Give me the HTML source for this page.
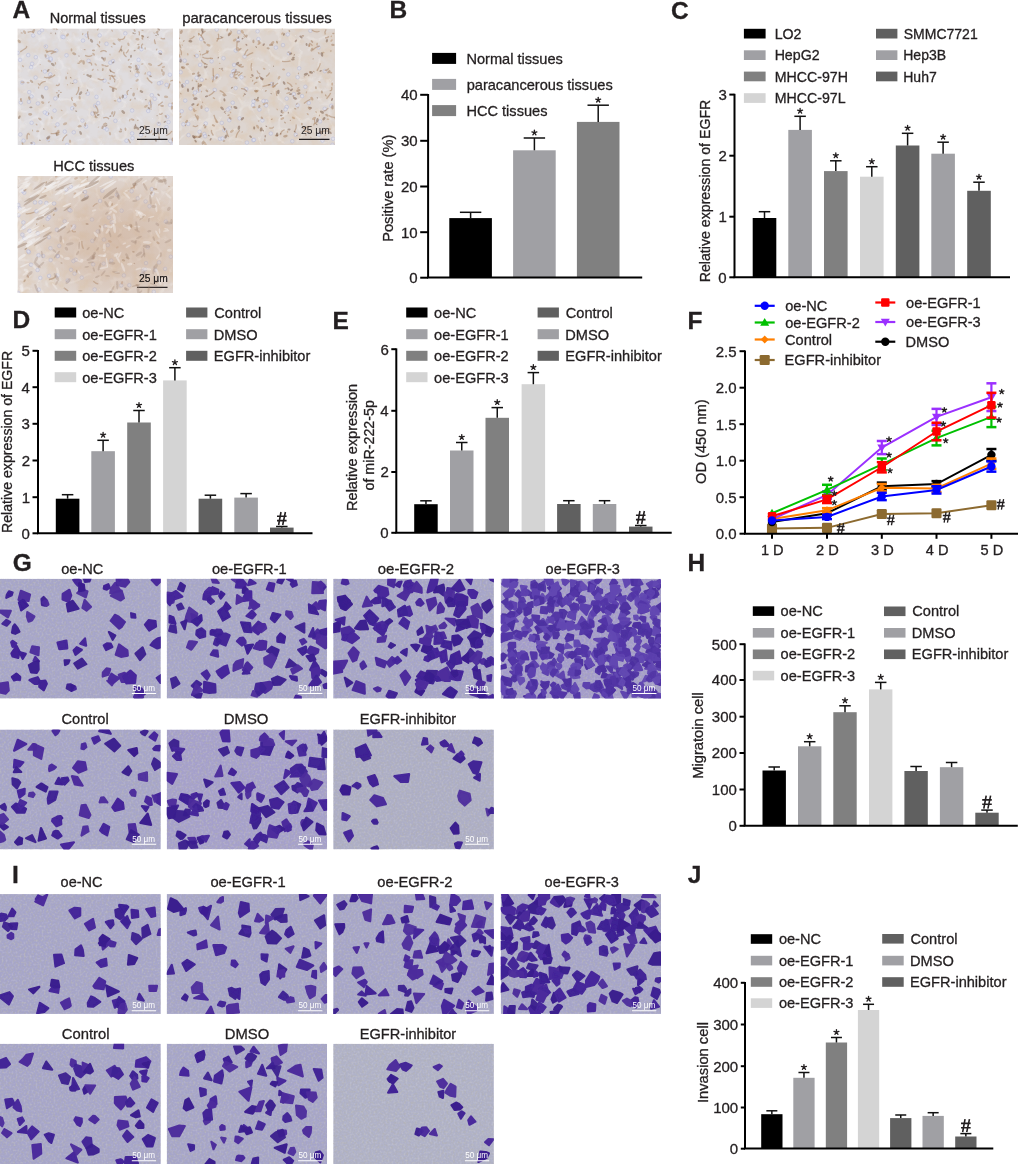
<!DOCTYPE html><html><head><meta charset="utf-8"><style>html,body{margin:0;padding:0;background:#fff;}svg{display:block;font-family:"Liberation Sans",sans-serif;will-change:transform;} text.t{stroke:#231f20;stroke-width:0.3px;}</style></head><body>
<svg width="1020" height="1164" viewBox="0 0 1020 1164">
<rect width="1020" height="1164" fill="#fff"/>
<defs><filter id="soft" x="-5%" y="-5%" width="110%" height="110%"><feGaussianBlur stdDeviation="0.7"/></filter><filter id="speck" x="0" y="0" width="100%" height="100%"><feTurbulence type="fractalNoise" baseFrequency="0.45" numOctaves="2" seed="3"/><feColorMatrix type="matrix" values="0 0 0 0 0.45  0 0 0 0 0.44  0 0 0 0 0.42  2.5 0 0 0 -1.1"/></filter><filter id="speckw" x="0" y="0" width="100%" height="100%"><feTurbulence type="fractalNoise" baseFrequency="0.5" numOctaves="2" seed="9"/><feColorMatrix type="matrix" values="0 0 0 0 0.86  0 0 0 0 0.85  0 0 0 0 0.8  2.5 0 0 0 -1.1"/></filter></defs>
<filter id="ihctex0" x="0" y="0" width="100%" height="100%"><feTurbulence type="fractalNoise" baseFrequency="0.09" numOctaves="3" seed="5"/><feColorMatrix type="matrix" values="0 0 0 0 0.72  0 0 0 0 0.58  0 0 0 0 0.45  -2.6 0 0 0 1.55"/></filter>
<filter id="ihcw0" x="0" y="0" width="100%" height="100%"><feTurbulence type="turbulence" baseFrequency="0.05" numOctaves="2" seed="21"/><feColorMatrix type="matrix" values="0 0 0 0 0.97  0 0 0 0 0.98  0 0 0 0 1.0  -9 0 0 0 1.4"/></filter>
<filter id="ihctex1" x="0" y="0" width="100%" height="100%"><feTurbulence type="fractalNoise" baseFrequency="0.09" numOctaves="3" seed="6"/><feColorMatrix type="matrix" values="0 0 0 0 0.72  0 0 0 0 0.58  0 0 0 0 0.45  -2.6 0 0 0 1.55"/></filter>
<filter id="ihcw1" x="0" y="0" width="100%" height="100%"><feTurbulence type="turbulence" baseFrequency="0.05" numOctaves="2" seed="22"/><feColorMatrix type="matrix" values="0 0 0 0 0.97  0 0 0 0 0.98  0 0 0 0 1.0  -9 0 0 0 1.4"/></filter>
<filter id="ihctex2" x="0" y="0" width="100%" height="100%"><feTurbulence type="fractalNoise" baseFrequency="0.09" numOctaves="3" seed="7"/><feColorMatrix type="matrix" values="0 0 0 0 0.72  0 0 0 0 0.58  0 0 0 0 0.45  -2.6 0 0 0 1.55"/></filter>
<filter id="ihcw2" x="0" y="0" width="100%" height="100%"><feTurbulence type="turbulence" baseFrequency="0.05" numOctaves="2" seed="23"/><feColorMatrix type="matrix" values="0 0 0 0 0.97  0 0 0 0 0.98  0 0 0 0 1.0  -9 0 0 0 1.4"/></filter>
<radialGradient id="hccg" cx="0.65" cy="0.55" r="0.55"><stop offset="0" stop-color="#c8a488" stop-opacity="0.5"/><stop offset="0.7" stop-color="#c8a488" stop-opacity="0.25"/><stop offset="1" stop-color="#c8a488" stop-opacity="0"/></radialGradient>
<clipPath id="cA1"><rect x="17.5" y="28.5" width="155.50" height="116.50"/></clipPath>
<g clip-path="url(#cA1)">
<rect x="17.5" y="28.5" width="155.50" height="116.50" fill="#dfdcde"/>
<rect x="17.5" y="28.5" width="155.50" height="116.50" filter="url(#ihctex2)" opacity="0.42"/>
<rect x="17.5" y="28.5" width="155.50" height="116.50" filter="url(#ihcw2)" opacity="0.22"/>
<g filter="url(#soft)">
<circle cx="87.8" cy="93.7" r="1.8" fill="#dfe2f2" stroke="#a9b0d8" stroke-width="0.7" opacity="0.55"/>
<circle cx="161.2" cy="82.7" r="1.8" fill="#dfe2f2" stroke="#a9b0d8" stroke-width="0.7" opacity="0.55"/>
<circle cx="96.5" cy="96.9" r="1.8" fill="#dfe2f2" stroke="#a9b0d8" stroke-width="0.7" opacity="0.55"/>
<circle cx="46.2" cy="88.1" r="1.8" fill="#dfe2f2" stroke="#a9b0d8" stroke-width="0.7" opacity="0.55"/>
<circle cx="115.4" cy="120.9" r="1.8" fill="#dfe2f2" stroke="#a9b0d8" stroke-width="0.7" opacity="0.55"/>
<circle cx="32.1" cy="63.8" r="1.8" fill="#dfe2f2" stroke="#a9b0d8" stroke-width="0.7" opacity="0.55"/>
<circle cx="31.6" cy="122.8" r="1.8" fill="#dfe2f2" stroke="#a9b0d8" stroke-width="0.7" opacity="0.55"/>
<circle cx="125.3" cy="33.4" r="1.8" fill="#dfe2f2" stroke="#a9b0d8" stroke-width="0.7" opacity="0.55"/>
<circle cx="170.2" cy="140.9" r="1.8" fill="#dfe2f2" stroke="#a9b0d8" stroke-width="0.7" opacity="0.55"/>
<circle cx="119.2" cy="100.2" r="1.8" fill="#dfe2f2" stroke="#a9b0d8" stroke-width="0.7" opacity="0.55"/>
<circle cx="42.0" cy="30.2" r="1.8" fill="#dfe2f2" stroke="#a9b0d8" stroke-width="0.7" opacity="0.55"/>
<circle cx="99.7" cy="35.4" r="1.8" fill="#dfe2f2" stroke="#a9b0d8" stroke-width="0.7" opacity="0.55"/>
<circle cx="47.1" cy="56.7" r="1.8" fill="#dfe2f2" stroke="#a9b0d8" stroke-width="0.7" opacity="0.55"/>
<circle cx="22.2" cy="82.5" r="1.8" fill="#dfe2f2" stroke="#a9b0d8" stroke-width="0.7" opacity="0.55"/>
<circle cx="86.0" cy="126.6" r="1.8" fill="#dfe2f2" stroke="#a9b0d8" stroke-width="0.7" opacity="0.55"/>
<circle cx="98.2" cy="103.1" r="1.8" fill="#dfe2f2" stroke="#a9b0d8" stroke-width="0.7" opacity="0.55"/>
<circle cx="95.2" cy="105.7" r="1.8" fill="#dfe2f2" stroke="#a9b0d8" stroke-width="0.7" opacity="0.55"/>
<circle cx="88.6" cy="60.9" r="1.8" fill="#dfe2f2" stroke="#a9b0d8" stroke-width="0.7" opacity="0.55"/>
<circle cx="172.6" cy="144.5" r="1.8" fill="#dfe2f2" stroke="#a9b0d8" stroke-width="0.7" opacity="0.55"/>
<circle cx="148.2" cy="111.0" r="1.8" fill="#dfe2f2" stroke="#a9b0d8" stroke-width="0.7" opacity="0.55"/>
<circle cx="66.5" cy="55.3" r="1.8" fill="#dfe2f2" stroke="#a9b0d8" stroke-width="0.7" opacity="0.55"/>
<circle cx="62.4" cy="36.7" r="1.8" fill="#dfe2f2" stroke="#a9b0d8" stroke-width="0.7" opacity="0.55"/>
<circle cx="136.7" cy="75.1" r="1.8" fill="#dfe2f2" stroke="#a9b0d8" stroke-width="0.7" opacity="0.55"/>
<circle cx="149.1" cy="73.5" r="1.8" fill="#dfe2f2" stroke="#a9b0d8" stroke-width="0.7" opacity="0.55"/>
<circle cx="166.5" cy="127.2" r="1.8" fill="#dfe2f2" stroke="#a9b0d8" stroke-width="0.7" opacity="0.55"/>
<circle cx="17.6" cy="52.9" r="1.8" fill="#dfe2f2" stroke="#a9b0d8" stroke-width="0.7" opacity="0.55"/>
<circle cx="159.0" cy="83.3" r="1.8" fill="#dfe2f2" stroke="#a9b0d8" stroke-width="0.7" opacity="0.55"/>
<circle cx="169.9" cy="74.8" r="1.8" fill="#dfe2f2" stroke="#a9b0d8" stroke-width="0.7" opacity="0.55"/>
<circle cx="28.9" cy="101.8" r="1.8" fill="#dfe2f2" stroke="#a9b0d8" stroke-width="0.7" opacity="0.55"/>
<circle cx="138.6" cy="59.9" r="1.8" fill="#dfe2f2" stroke="#a9b0d8" stroke-width="0.7" opacity="0.55"/>
<circle cx="31.1" cy="67.2" r="1.8" fill="#dfe2f2" stroke="#a9b0d8" stroke-width="0.7" opacity="0.55"/>
<circle cx="167.4" cy="116.8" r="1.8" fill="#dfe2f2" stroke="#a9b0d8" stroke-width="0.7" opacity="0.55"/>
<circle cx="35.8" cy="57.2" r="1.8" fill="#dfe2f2" stroke="#a9b0d8" stroke-width="0.7" opacity="0.55"/>
<circle cx="33.2" cy="35.5" r="1.8" fill="#dfe2f2" stroke="#a9b0d8" stroke-width="0.7" opacity="0.55"/>
<circle cx="141.4" cy="49.2" r="1.8" fill="#dfe2f2" stroke="#a9b0d8" stroke-width="0.7" opacity="0.55"/>
<circle cx="104.5" cy="80.6" r="1.8" fill="#dfe2f2" stroke="#a9b0d8" stroke-width="0.7" opacity="0.55"/>
<circle cx="47.2" cy="113.8" r="1.8" fill="#dfe2f2" stroke="#a9b0d8" stroke-width="0.7" opacity="0.55"/>
<circle cx="37.9" cy="103.5" r="1.8" fill="#dfe2f2" stroke="#a9b0d8" stroke-width="0.7" opacity="0.55"/>
<circle cx="35.6" cy="77.5" r="1.8" fill="#dfe2f2" stroke="#a9b0d8" stroke-width="0.7" opacity="0.55"/>
<circle cx="50.6" cy="59.9" r="1.8" fill="#dfe2f2" stroke="#a9b0d8" stroke-width="0.7" opacity="0.55"/>
<circle cx="168.5" cy="122.1" r="1.8" fill="#dfe2f2" stroke="#a9b0d8" stroke-width="0.7" opacity="0.55"/>
<circle cx="64.8" cy="131.6" r="1.8" fill="#dfe2f2" stroke="#a9b0d8" stroke-width="0.7" opacity="0.55"/>
<circle cx="50.3" cy="74.4" r="1.8" fill="#dfe2f2" stroke="#a9b0d8" stroke-width="0.7" opacity="0.55"/>
<circle cx="150.4" cy="103.3" r="1.8" fill="#dfe2f2" stroke="#a9b0d8" stroke-width="0.7" opacity="0.55"/>
<circle cx="33.1" cy="143.8" r="1.8" fill="#dfe2f2" stroke="#a9b0d8" stroke-width="0.7" opacity="0.55"/>
<circle cx="50.7" cy="58.6" r="1.8" fill="#dfe2f2" stroke="#a9b0d8" stroke-width="0.7" opacity="0.55"/>
<circle cx="137.7" cy="66.8" r="1.8" fill="#dfe2f2" stroke="#a9b0d8" stroke-width="0.7" opacity="0.55"/>
<circle cx="63.6" cy="37.1" r="1.8" fill="#dfe2f2" stroke="#a9b0d8" stroke-width="0.7" opacity="0.55"/>
<circle cx="31.5" cy="96.4" r="1.8" fill="#dfe2f2" stroke="#a9b0d8" stroke-width="0.7" opacity="0.55"/>
<circle cx="55.3" cy="98.5" r="1.8" fill="#dfe2f2" stroke="#a9b0d8" stroke-width="0.7" opacity="0.55"/>
<circle cx="75.3" cy="81.3" r="1.8" fill="#dfe2f2" stroke="#a9b0d8" stroke-width="0.7" opacity="0.55"/>
<circle cx="166.6" cy="84.9" r="1.8" fill="#dfe2f2" stroke="#a9b0d8" stroke-width="0.7" opacity="0.55"/>
<circle cx="106.8" cy="129.5" r="1.8" fill="#dfe2f2" stroke="#a9b0d8" stroke-width="0.7" opacity="0.55"/>
<circle cx="45.9" cy="46.5" r="1.8" fill="#dfe2f2" stroke="#a9b0d8" stroke-width="0.7" opacity="0.55"/>
<circle cx="158.8" cy="123.8" r="1.8" fill="#dfe2f2" stroke="#a9b0d8" stroke-width="0.7" opacity="0.55"/>
<circle cx="56.3" cy="50.6" r="1.8" fill="#dfe2f2" stroke="#a9b0d8" stroke-width="0.7" opacity="0.55"/>
<circle cx="132.5" cy="138.1" r="1.8" fill="#dfe2f2" stroke="#a9b0d8" stroke-width="0.7" opacity="0.55"/>
<circle cx="48.1" cy="139.2" r="1.8" fill="#dfe2f2" stroke="#a9b0d8" stroke-width="0.7" opacity="0.55"/>
<circle cx="154.7" cy="98.8" r="1.8" fill="#dfe2f2" stroke="#a9b0d8" stroke-width="0.7" opacity="0.55"/>
<circle cx="83.0" cy="40.6" r="1.8" fill="#dfe2f2" stroke="#a9b0d8" stroke-width="0.7" opacity="0.55"/>
<circle cx="23.5" cy="140.7" r="1.8" fill="#dfe2f2" stroke="#a9b0d8" stroke-width="0.7" opacity="0.55"/>
<circle cx="54.6" cy="110.6" r="1.8" fill="#dfe2f2" stroke="#a9b0d8" stroke-width="0.7" opacity="0.55"/>
<circle cx="57.5" cy="124.5" r="1.8" fill="#dfe2f2" stroke="#a9b0d8" stroke-width="0.7" opacity="0.55"/>
<circle cx="110.3" cy="62.7" r="1.8" fill="#dfe2f2" stroke="#a9b0d8" stroke-width="0.7" opacity="0.55"/>
<circle cx="44.8" cy="112.4" r="1.8" fill="#dfe2f2" stroke="#a9b0d8" stroke-width="0.7" opacity="0.55"/>
<circle cx="28.2" cy="55.1" r="1.8" fill="#dfe2f2" stroke="#a9b0d8" stroke-width="0.7" opacity="0.55"/>
<circle cx="104.5" cy="127.8" r="1.8" fill="#dfe2f2" stroke="#a9b0d8" stroke-width="0.7" opacity="0.55"/>
<circle cx="113.0" cy="61.1" r="1.8" fill="#dfe2f2" stroke="#a9b0d8" stroke-width="0.7" opacity="0.55"/>
<circle cx="160.1" cy="52.3" r="1.8" fill="#dfe2f2" stroke="#a9b0d8" stroke-width="0.7" opacity="0.55"/>
<circle cx="20.1" cy="59.9" r="1.8" fill="#dfe2f2" stroke="#a9b0d8" stroke-width="0.7" opacity="0.55"/>
<circle cx="86.8" cy="35.5" r="1.8" fill="#dfe2f2" stroke="#a9b0d8" stroke-width="0.7" opacity="0.55"/>
<circle cx="44.9" cy="71.5" r="1.8" fill="#dfe2f2" stroke="#a9b0d8" stroke-width="0.7" opacity="0.55"/>
<circle cx="106.5" cy="43.8" r="1.8" fill="#dfe2f2" stroke="#a9b0d8" stroke-width="0.7" opacity="0.55"/>
<circle cx="73.8" cy="132.3" r="1.8" fill="#dfe2f2" stroke="#a9b0d8" stroke-width="0.7" opacity="0.55"/>
<circle cx="170.0" cy="105.0" r="1.8" fill="#dfe2f2" stroke="#a9b0d8" stroke-width="0.7" opacity="0.55"/>
<circle cx="125.0" cy="96.6" r="1.8" fill="#dfe2f2" stroke="#a9b0d8" stroke-width="0.7" opacity="0.55"/>
<circle cx="39.3" cy="32.6" r="1.8" fill="#dfe2f2" stroke="#a9b0d8" stroke-width="0.7" opacity="0.55"/>
<circle cx="20.3" cy="134.5" r="1.8" fill="#dfe2f2" stroke="#a9b0d8" stroke-width="0.7" opacity="0.55"/>
<circle cx="126.5" cy="140.7" r="1.8" fill="#dfe2f2" stroke="#a9b0d8" stroke-width="0.7" opacity="0.55"/>
<circle cx="20.8" cy="102.6" r="1.8" fill="#dfe2f2" stroke="#a9b0d8" stroke-width="0.7" opacity="0.55"/>
<circle cx="92.5" cy="113.6" r="1.8" fill="#dfe2f2" stroke="#a9b0d8" stroke-width="0.7" opacity="0.55"/>
<circle cx="67.1" cy="144.9" r="1.8" fill="#dfe2f2" stroke="#a9b0d8" stroke-width="0.7" opacity="0.55"/>
<circle cx="29.2" cy="92.1" r="1.8" fill="#dfe2f2" stroke="#a9b0d8" stroke-width="0.7" opacity="0.55"/>
<circle cx="132.1" cy="133.4" r="1.8" fill="#dfe2f2" stroke="#a9b0d8" stroke-width="0.7" opacity="0.55"/>
<circle cx="132.1" cy="110.5" r="1.8" fill="#dfe2f2" stroke="#a9b0d8" stroke-width="0.7" opacity="0.55"/>
<circle cx="140.9" cy="135.1" r="1.8" fill="#dfe2f2" stroke="#a9b0d8" stroke-width="0.7" opacity="0.55"/>
<circle cx="72.2" cy="108.3" r="1.8" fill="#dfe2f2" stroke="#a9b0d8" stroke-width="0.7" opacity="0.55"/>
<circle cx="157.6" cy="130.0" r="1.8" fill="#dfe2f2" stroke="#a9b0d8" stroke-width="0.7" opacity="0.55"/>
<circle cx="82.4" cy="120.6" r="1.8" fill="#dfe2f2" stroke="#a9b0d8" stroke-width="0.7" opacity="0.55"/>
<circle cx="151.8" cy="95.2" r="1.8" fill="#dfe2f2" stroke="#a9b0d8" stroke-width="0.7" opacity="0.55"/>
<path d="M114.7,73.0Q110.1,71.7 109.6,68.9" stroke="#a88262" stroke-width="1.3" fill="none" opacity="0.5"/>
<path d="M172.0,131.0Q170.3,133.8 166.3,135.7" stroke="#a88262" stroke-width="1.3" fill="none" opacity="0.5"/>
<path d="M86.0,126.2Q83.7,124.9 86.0,122.7" stroke="#a88262" stroke-width="1.3" fill="none" opacity="0.5"/>
<path d="M92.3,55.3Q89.3,57.5 85.1,55.4" stroke="#a88262" stroke-width="1.3" fill="none" opacity="0.5"/>
<path d="M57.3,29.8Q54.7,26.0 55.2,25.5" stroke="#a88262" stroke-width="1.3" fill="none" opacity="0.5"/>
<path d="M158.3,105.4Q159.7,104.4 162.7,101.8" stroke="#a88262" stroke-width="1.3" fill="none" opacity="0.5"/>
<path d="M48.4,78.7Q53.6,76.1 55.1,74.7" stroke="#a88262" stroke-width="1.3" fill="none" opacity="0.5"/>
<path d="M108.2,65.4Q108.0,67.2 104.4,65.5" stroke="#a88262" stroke-width="1.3" fill="none" opacity="0.5"/>
<path d="M128.1,139.2Q129.0,140.1 130.4,143.2" stroke="#a88262" stroke-width="1.3" fill="none" opacity="0.5"/>
<path d="M50.8,76.7Q46.5,78.6 44.0,77.0" stroke="#a88262" stroke-width="1.3" fill="none" opacity="0.5"/>
<path d="M170.2,81.2Q173.8,79.3 173.6,81.9" stroke="#a88262" stroke-width="1.3" fill="none" opacity="0.5"/>
<path d="M127.7,95.0Q125.9,90.8 128.9,90.3" stroke="#a88262" stroke-width="1.3" fill="none" opacity="0.5"/>
<path d="M88.2,31.4Q86.7,33.1 88.9,39.3" stroke="#a88262" stroke-width="1.3" fill="none" opacity="0.5"/>
<path d="M115.3,80.5Q115.0,80.0 111.5,74.9" stroke="#a88262" stroke-width="1.3" fill="none" opacity="0.5"/>
<path d="M123.9,51.7Q122.8,54.2 126.5,57.0" stroke="#a88262" stroke-width="1.3" fill="none" opacity="0.5"/>
<path d="M128.6,49.4Q128.2,51.4 125.9,53.2" stroke="#a88262" stroke-width="1.3" fill="none" opacity="0.5"/>
<path d="M113.0,116.6Q115.8,111.9 114.4,111.4" stroke="#a88262" stroke-width="1.3" fill="none" opacity="0.5"/>
<path d="M162.5,112.7Q161.3,115.3 158.9,113.7" stroke="#a88262" stroke-width="1.3" fill="none" opacity="0.5"/>
<path d="M76.1,94.8Q79.5,90.6 78.5,86.8" stroke="#a88262" stroke-width="1.3" fill="none" opacity="0.5"/>
<path d="M118.8,52.4Q121.0,50.1 121.8,45.7" stroke="#a88262" stroke-width="1.3" fill="none" opacity="0.5"/>
<path d="M50.7,133.3Q55.2,134.2 59.5,132.1" stroke="#a88262" stroke-width="1.3" fill="none" opacity="0.5"/>
<path d="M67.3,134.5Q62.9,137.5 62.6,141.1" stroke="#a88262" stroke-width="1.3" fill="none" opacity="0.5"/>
<path d="M103.1,118.0Q107.5,116.3 108.9,119.1" stroke="#a88262" stroke-width="1.3" fill="none" opacity="0.5"/>
<path d="M141.9,48.6Q140.7,44.5 143.1,43.8" stroke="#a88262" stroke-width="1.3" fill="none" opacity="0.5"/>
<path d="M97.8,112.8Q98.6,109.0 94.8,105.3" stroke="#a88262" stroke-width="1.3" fill="none" opacity="0.5"/>
<path d="M165.1,38.5Q161.9,39.3 160.8,37.8" stroke="#a88262" stroke-width="1.3" fill="none" opacity="0.5"/>
<path d="M116.8,89.4Q112.2,87.3 109.3,86.4" stroke="#a88262" stroke-width="1.3" fill="none" opacity="0.5"/>
<path d="M148.9,133.4Q152.5,131.8 151.5,130.0" stroke="#a88262" stroke-width="1.3" fill="none" opacity="0.5"/>
<path d="M106.6,51.9Q104.0,49.5 100.4,51.8" stroke="#a88262" stroke-width="1.3" fill="none" opacity="0.5"/>
<path d="M168.2,88.6Q169.4,86.0 169.9,83.5" stroke="#a88262" stroke-width="1.3" fill="none" opacity="0.5"/>
<path d="M124.9,36.2Q124.6,39.9 119.6,39.4" stroke="#a88262" stroke-width="1.3" fill="none" opacity="0.5"/>
<path d="M59.4,83.6Q59.2,86.4 55.9,85.1" stroke="#a88262" stroke-width="1.3" fill="none" opacity="0.5"/>
<path d="M91.6,65.5Q92.2,62.2 88.5,62.7" stroke="#a88262" stroke-width="1.3" fill="none" opacity="0.5"/>
<path d="M138.7,31.2Q139.9,32.3 139.3,35.3" stroke="#a88262" stroke-width="1.3" fill="none" opacity="0.5"/>
<path d="M72.8,100.7Q70.7,99.0 72.3,97.1" stroke="#a88262" stroke-width="1.3" fill="none" opacity="0.5"/>
<path d="M56.5,51.5Q53.0,52.3 50.8,53.9" stroke="#a88262" stroke-width="1.3" fill="none" opacity="0.5"/>
<path d="M99.8,47.1Q99.1,45.7 96.9,44.0" stroke="#a88262" stroke-width="1.3" fill="none" opacity="0.5"/>
<path d="M149.9,99.8Q151.5,105.4 150.8,107.9" stroke="#a88262" stroke-width="1.3" fill="none" opacity="0.5"/>
<path d="M157.9,65.3Q158.6,66.7 162.2,63.0" stroke="#a88262" stroke-width="1.3" fill="none" opacity="0.5"/>
<path d="M155.5,44.1Q154.0,39.9 154.9,39.7" stroke="#a88262" stroke-width="1.3" fill="none" opacity="0.5"/>
<path d="M146.9,77.6Q149.1,81.3 152.3,83.1" stroke="#a88262" stroke-width="1.3" fill="none" opacity="0.5"/>
<path d="M20.3,51.9Q25.6,48.1 26.3,48.2" stroke="#a88262" stroke-width="1.3" fill="none" opacity="0.5"/>
<path d="M96.1,116.8Q93.4,111.9 93.8,111.3" stroke="#a88262" stroke-width="1.3" fill="none" opacity="0.5"/>
<path d="M34.0,32.9Q31.2,30.8 27.7,32.3" stroke="#a88262" stroke-width="1.3" fill="none" opacity="0.5"/>
<path d="M46.2,52.3Q52.3,50.0 54.2,51.8" stroke="#a88262" stroke-width="1.3" fill="none" opacity="0.5"/>
<path d="M27.1,139.3Q26.5,136.3 27.7,133.6" stroke="#a88262" stroke-width="1.3" fill="none" opacity="0.5"/>
<path d="M97.6,78.6Q101.9,80.6 104.2,79.2" stroke="#a88262" stroke-width="1.3" fill="none" opacity="0.5"/>
<path d="M45.7,81.4Q41.1,81.8 39.5,85.6" stroke="#a88262" stroke-width="1.3" fill="none" opacity="0.5"/>
<path d="M97.2,30.3Q99.6,28.1 99.9,22.4" stroke="#a88262" stroke-width="1.3" fill="none" opacity="0.5"/>
<path d="M115.4,75.6Q114.5,77.1 108.8,75.4" stroke="#a88262" stroke-width="1.3" fill="none" opacity="0.5"/>
<ellipse cx="57.7" cy="134.7" rx="1.9" ry="1.1" transform="rotate(147 57.7 134.7)" fill="#a07a58" opacity="0.45"/>
<ellipse cx="80.6" cy="132.9" rx="2.1" ry="1.2" transform="rotate(67 80.6 132.9)" fill="#7a5a44" opacity="0.45"/>
<ellipse cx="84.6" cy="49.7" rx="1.1" ry="0.6" transform="rotate(13 84.6 49.7)" fill="#a07a58" opacity="0.45"/>
<ellipse cx="70.6" cy="83.1" rx="0.8" ry="0.5" transform="rotate(178 70.6 83.1)" fill="#b08a68" opacity="0.45"/>
<ellipse cx="157.9" cy="34.3" rx="1.2" ry="0.7" transform="rotate(54 157.9 34.3)" fill="#7a5a44" opacity="0.45"/>
<ellipse cx="51.1" cy="75.8" rx="1.0" ry="0.6" transform="rotate(70 51.1 75.8)" fill="#a07a58" opacity="0.45"/>
<ellipse cx="173.0" cy="103.3" rx="1.8" ry="1.1" transform="rotate(176 173.0 103.3)" fill="#b08a68" opacity="0.45"/>
<ellipse cx="21.0" cy="100.2" rx="1.9" ry="1.1" transform="rotate(80 21.0 100.2)" fill="#b08a68" opacity="0.45"/>
<ellipse cx="96.0" cy="117.2" rx="1.8" ry="1.0" transform="rotate(18 96.0 117.2)" fill="#a07a58" opacity="0.45"/>
<ellipse cx="56.5" cy="134.0" rx="1.6" ry="0.9" transform="rotate(75 56.5 134.0)" fill="#7a5a44" opacity="0.45"/>
<ellipse cx="98.5" cy="127.1" rx="0.9" ry="0.5" transform="rotate(146 98.5 127.1)" fill="#b08a68" opacity="0.45"/>
<ellipse cx="29.3" cy="98.1" rx="1.9" ry="1.1" transform="rotate(70 29.3 98.1)" fill="#a07a58" opacity="0.45"/>
<ellipse cx="163.5" cy="73.5" rx="2.2" ry="1.3" transform="rotate(98 163.5 73.5)" fill="#b08a68" opacity="0.45"/>
<ellipse cx="110.3" cy="78.5" rx="1.5" ry="0.9" transform="rotate(95 110.3 78.5)" fill="#b08a68" opacity="0.45"/>
<ellipse cx="110.5" cy="71.1" rx="1.2" ry="0.7" transform="rotate(49 110.5 71.1)" fill="#7a5a44" opacity="0.45"/>
<ellipse cx="162.0" cy="105.8" rx="1.9" ry="1.1" transform="rotate(3 162.0 105.8)" fill="#a07a58" opacity="0.45"/>
<ellipse cx="55.6" cy="33.5" rx="1.0" ry="0.6" transform="rotate(70 55.6 33.5)" fill="#7a5a44" opacity="0.45"/>
<ellipse cx="157.1" cy="115.7" rx="0.8" ry="0.5" transform="rotate(170 157.1 115.7)" fill="#7a5a44" opacity="0.45"/>
<ellipse cx="28.9" cy="134.0" rx="1.4" ry="0.8" transform="rotate(45 28.9 134.0)" fill="#b08a68" opacity="0.45"/>
<ellipse cx="135.0" cy="33.8" rx="0.9" ry="0.5" transform="rotate(164 135.0 33.8)" fill="#7a5a44" opacity="0.45"/>
<ellipse cx="39.9" cy="140.3" rx="1.1" ry="0.7" transform="rotate(21 39.9 140.3)" fill="#7a5a44" opacity="0.45"/>
<ellipse cx="114.6" cy="81.6" rx="1.1" ry="0.6" transform="rotate(64 114.6 81.6)" fill="#a07a58" opacity="0.45"/>
<ellipse cx="41.6" cy="70.8" rx="1.0" ry="0.6" transform="rotate(82 41.6 70.8)" fill="#b08a68" opacity="0.45"/>
<ellipse cx="58.3" cy="96.3" rx="1.4" ry="0.8" transform="rotate(96 58.3 96.3)" fill="#7a5a44" opacity="0.45"/>
<ellipse cx="172.6" cy="139.5" rx="1.9" ry="1.1" transform="rotate(87 172.6 139.5)" fill="#a07a58" opacity="0.45"/>
<ellipse cx="95.7" cy="64.5" rx="1.5" ry="0.9" transform="rotate(49 95.7 64.5)" fill="#b08a68" opacity="0.45"/>
<ellipse cx="112.3" cy="113.0" rx="1.8" ry="1.1" transform="rotate(114 112.3 113.0)" fill="#a07a58" opacity="0.45"/>
<ellipse cx="134.6" cy="50.6" rx="1.1" ry="0.7" transform="rotate(165 134.6 50.6)" fill="#7a5a44" opacity="0.45"/>
<ellipse cx="154.1" cy="33.1" rx="0.9" ry="0.5" transform="rotate(47 154.1 33.1)" fill="#b08a68" opacity="0.45"/>
<ellipse cx="21.7" cy="32.9" rx="1.1" ry="0.7" transform="rotate(13 21.7 32.9)" fill="#b08a68" opacity="0.45"/>
<ellipse cx="30.9" cy="107.3" rx="1.6" ry="0.9" transform="rotate(177 30.9 107.3)" fill="#7a5a44" opacity="0.45"/>
<ellipse cx="92.8" cy="69.8" rx="1.3" ry="0.8" transform="rotate(134 92.8 69.8)" fill="#b08a68" opacity="0.45"/>
<ellipse cx="147.9" cy="37.2" rx="0.9" ry="0.6" transform="rotate(151 147.9 37.2)" fill="#7a5a44" opacity="0.45"/>
<ellipse cx="137.1" cy="80.3" rx="1.9" ry="1.1" transform="rotate(146 137.1 80.3)" fill="#b08a68" opacity="0.45"/>
<ellipse cx="74.9" cy="104.7" rx="2.3" ry="1.3" transform="rotate(52 74.9 104.7)" fill="#b08a68" opacity="0.45"/>
<ellipse cx="135.5" cy="124.7" rx="1.0" ry="0.6" transform="rotate(66 135.5 124.7)" fill="#7a5a44" opacity="0.45"/>
<ellipse cx="32.6" cy="130.5" rx="0.9" ry="0.5" transform="rotate(78 32.6 130.5)" fill="#a07a58" opacity="0.45"/>
<ellipse cx="105.8" cy="123.5" rx="1.5" ry="0.9" transform="rotate(14 105.8 123.5)" fill="#a07a58" opacity="0.45"/>
<ellipse cx="50.7" cy="105.6" rx="0.9" ry="0.5" transform="rotate(89 50.7 105.6)" fill="#b08a68" opacity="0.45"/>
<ellipse cx="136.3" cy="66.7" rx="2.1" ry="1.2" transform="rotate(64 136.3 66.7)" fill="#a07a58" opacity="0.45"/>
<ellipse cx="130.4" cy="71.2" rx="0.9" ry="0.6" transform="rotate(79 130.4 71.2)" fill="#7a5a44" opacity="0.45"/>
<ellipse cx="110.0" cy="133.6" rx="1.8" ry="1.1" transform="rotate(79 110.0 133.6)" fill="#b08a68" opacity="0.45"/>
<ellipse cx="142.4" cy="64.0" rx="1.3" ry="0.7" transform="rotate(174 142.4 64.0)" fill="#b08a68" opacity="0.45"/>
<ellipse cx="131.0" cy="88.6" rx="0.9" ry="0.5" transform="rotate(4 131.0 88.6)" fill="#b08a68" opacity="0.45"/>
<ellipse cx="122.8" cy="96.6" rx="2.0" ry="1.2" transform="rotate(101 122.8 96.6)" fill="#7a5a44" opacity="0.45"/>
<ellipse cx="141.4" cy="91.5" rx="2.0" ry="1.2" transform="rotate(32 141.4 91.5)" fill="#7a5a44" opacity="0.45"/>
<ellipse cx="31.5" cy="81.4" rx="2.1" ry="1.2" transform="rotate(40 31.5 81.4)" fill="#a07a58" opacity="0.45"/>
<ellipse cx="26.5" cy="47.0" rx="1.2" ry="0.7" transform="rotate(117 26.5 47.0)" fill="#a07a58" opacity="0.45"/>
<ellipse cx="142.6" cy="36.0" rx="1.6" ry="0.9" transform="rotate(15 142.6 36.0)" fill="#7a5a44" opacity="0.45"/>
<ellipse cx="30.2" cy="114.4" rx="2.1" ry="1.3" transform="rotate(5 30.2 114.4)" fill="#a07a58" opacity="0.45"/>
<ellipse cx="119.1" cy="39.9" rx="2.0" ry="1.2" transform="rotate(44 119.1 39.9)" fill="#b08a68" opacity="0.45"/>
<ellipse cx="51.8" cy="117.7" rx="1.6" ry="0.9" transform="rotate(71 51.8 117.7)" fill="#b08a68" opacity="0.45"/>
<ellipse cx="70.0" cy="141.3" rx="1.8" ry="1.1" transform="rotate(88 70.0 141.3)" fill="#b08a68" opacity="0.45"/>
<ellipse cx="142.6" cy="36.9" rx="1.7" ry="1.0" transform="rotate(74 142.6 36.9)" fill="#a07a58" opacity="0.45"/>
<ellipse cx="146.0" cy="106.2" rx="2.1" ry="1.2" transform="rotate(150 146.0 106.2)" fill="#b08a68" opacity="0.45"/>
<ellipse cx="155.7" cy="140.1" rx="1.7" ry="1.0" transform="rotate(65 155.7 140.1)" fill="#7a5a44" opacity="0.45"/>
<ellipse cx="19.1" cy="41.3" rx="2.2" ry="1.3" transform="rotate(44 19.1 41.3)" fill="#a07a58" opacity="0.45"/>
<ellipse cx="42.7" cy="102.5" rx="1.8" ry="1.1" transform="rotate(37 42.7 102.5)" fill="#b08a68" opacity="0.45"/>
<ellipse cx="83.6" cy="62.5" rx="2.2" ry="1.3" transform="rotate(85 83.6 62.5)" fill="#a07a58" opacity="0.45"/>
<ellipse cx="131.1" cy="63.9" rx="1.0" ry="0.6" transform="rotate(164 131.1 63.9)" fill="#a07a58" opacity="0.45"/>
<ellipse cx="134.6" cy="30.5" rx="1.5" ry="0.9" transform="rotate(56 134.6 30.5)" fill="#a07a58" opacity="0.45"/>
<ellipse cx="48.2" cy="70.4" rx="1.7" ry="1.0" transform="rotate(129 48.2 70.4)" fill="#7a5a44" opacity="0.45"/>
<ellipse cx="110.0" cy="54.6" rx="1.0" ry="0.6" transform="rotate(72 110.0 54.6)" fill="#b08a68" opacity="0.45"/>
<ellipse cx="159.1" cy="137.7" rx="1.7" ry="1.0" transform="rotate(86 159.1 137.7)" fill="#7a5a44" opacity="0.45"/>
<ellipse cx="58.0" cy="131.9" rx="2.2" ry="1.3" transform="rotate(119 58.0 131.9)" fill="#b08a68" opacity="0.45"/>
<ellipse cx="137.5" cy="39.3" rx="2.1" ry="1.2" transform="rotate(9 137.5 39.3)" fill="#b08a68" opacity="0.45"/>
<ellipse cx="164.8" cy="121.9" rx="1.4" ry="0.8" transform="rotate(143 164.8 121.9)" fill="#7a5a44" opacity="0.45"/>
<ellipse cx="137.9" cy="120.3" rx="0.9" ry="0.5" transform="rotate(161 137.9 120.3)" fill="#a07a58" opacity="0.45"/>
<ellipse cx="153.4" cy="134.0" rx="1.5" ry="0.9" transform="rotate(128 153.4 134.0)" fill="#a07a58" opacity="0.45"/>
<ellipse cx="111.7" cy="46.8" rx="1.0" ry="0.6" transform="rotate(26 111.7 46.8)" fill="#b08a68" opacity="0.45"/>
<ellipse cx="158.7" cy="122.9" rx="1.0" ry="0.6" transform="rotate(179 158.7 122.9)" fill="#7a5a44" opacity="0.45"/>
<ellipse cx="58.9" cy="90.8" rx="1.0" ry="0.6" transform="rotate(0 58.9 90.8)" fill="#a07a58" opacity="0.45"/>
<ellipse cx="145.2" cy="127.1" rx="2.0" ry="1.2" transform="rotate(63 145.2 127.1)" fill="#a07a58" opacity="0.45"/>
<ellipse cx="113.1" cy="90.0" rx="2.1" ry="1.3" transform="rotate(84 113.1 90.0)" fill="#7a5a44" opacity="0.45"/>
<ellipse cx="166.1" cy="96.8" rx="2.1" ry="1.2" transform="rotate(3 166.1 96.8)" fill="#b08a68" opacity="0.45"/>
<ellipse cx="46.7" cy="51.0" rx="1.8" ry="1.1" transform="rotate(38 46.7 51.0)" fill="#b08a68" opacity="0.45"/>
<ellipse cx="102.0" cy="89.7" rx="1.0" ry="0.6" transform="rotate(57 102.0 89.7)" fill="#b08a68" opacity="0.45"/>
<ellipse cx="80.5" cy="93.3" rx="2.3" ry="1.3" transform="rotate(129 80.5 93.3)" fill="#7a5a44" opacity="0.45"/>
<ellipse cx="73.4" cy="108.5" rx="0.9" ry="0.5" transform="rotate(122 73.4 108.5)" fill="#b08a68" opacity="0.45"/>
<ellipse cx="133.6" cy="119.9" rx="1.0" ry="0.6" transform="rotate(2 133.6 119.9)" fill="#b08a68" opacity="0.45"/>
<ellipse cx="76.1" cy="111.2" rx="1.1" ry="0.7" transform="rotate(20 76.1 111.2)" fill="#7a5a44" opacity="0.45"/>
<ellipse cx="137.5" cy="128.2" rx="2.1" ry="1.2" transform="rotate(37 137.5 128.2)" fill="#7a5a44" opacity="0.45"/>
<ellipse cx="113.3" cy="62.3" rx="1.3" ry="0.8" transform="rotate(135 113.3 62.3)" fill="#7a5a44" opacity="0.45"/>
<ellipse cx="165.9" cy="116.4" rx="1.6" ry="1.0" transform="rotate(46 165.9 116.4)" fill="#a07a58" opacity="0.45"/>
<ellipse cx="48.6" cy="113.7" rx="1.3" ry="0.7" transform="rotate(101 48.6 113.7)" fill="#b08a68" opacity="0.45"/>
<ellipse cx="130.0" cy="67.1" rx="2.0" ry="1.2" transform="rotate(18 130.0 67.1)" fill="#a07a58" opacity="0.45"/>
<ellipse cx="114.2" cy="43.8" rx="1.7" ry="1.0" transform="rotate(32 114.2 43.8)" fill="#a07a58" opacity="0.45"/>
<ellipse cx="80.1" cy="126.0" rx="1.7" ry="1.0" transform="rotate(18 80.1 126.0)" fill="#a07a58" opacity="0.45"/>
<ellipse cx="22.5" cy="143.5" rx="1.4" ry="0.8" transform="rotate(61 22.5 143.5)" fill="#a07a58" opacity="0.45"/>
<ellipse cx="145.5" cy="136.5" rx="1.0" ry="0.6" transform="rotate(138 145.5 136.5)" fill="#a07a58" opacity="0.45"/>
<ellipse cx="145.2" cy="73.5" rx="1.3" ry="0.7" transform="rotate(112 145.2 73.5)" fill="#b08a68" opacity="0.45"/>
<ellipse cx="130.5" cy="99.9" rx="1.3" ry="0.7" transform="rotate(119 130.5 99.9)" fill="#a07a58" opacity="0.45"/>
<ellipse cx="112.1" cy="30.7" rx="1.3" ry="0.7" transform="rotate(55 112.1 30.7)" fill="#b08a68" opacity="0.45"/>
<ellipse cx="86.1" cy="93.4" rx="1.1" ry="0.6" transform="rotate(142 86.1 93.4)" fill="#b08a68" opacity="0.45"/>
<ellipse cx="145.8" cy="99.7" rx="1.0" ry="0.6" transform="rotate(163 145.8 99.7)" fill="#7a5a44" opacity="0.45"/>
<ellipse cx="102.8" cy="69.6" rx="1.5" ry="0.9" transform="rotate(103 102.8 69.6)" fill="#a07a58" opacity="0.45"/>
<ellipse cx="48.3" cy="137.3" rx="2.3" ry="1.3" transform="rotate(150 48.3 137.3)" fill="#7a5a44" opacity="0.45"/>
<ellipse cx="48.2" cy="138.6" rx="1.7" ry="1.0" transform="rotate(140 48.2 138.6)" fill="#a07a58" opacity="0.45"/>
<ellipse cx="38.7" cy="84.2" rx="1.4" ry="0.8" transform="rotate(59 38.7 84.2)" fill="#b08a68" opacity="0.45"/>
<ellipse cx="162.0" cy="70.6" rx="1.5" ry="0.9" transform="rotate(81 162.0 70.6)" fill="#a07a58" opacity="0.45"/>
<ellipse cx="131.0" cy="56.3" rx="1.6" ry="1.0" transform="rotate(101 131.0 56.3)" fill="#7a5a44" opacity="0.45"/>
<ellipse cx="104.6" cy="59.3" rx="2.2" ry="1.3" transform="rotate(108 104.6 59.3)" fill="#b08a68" opacity="0.45"/>
<ellipse cx="36.6" cy="124.6" rx="1.2" ry="0.7" transform="rotate(43 36.6 124.6)" fill="#b08a68" opacity="0.45"/>
<ellipse cx="106.7" cy="125.3" rx="1.0" ry="0.6" transform="rotate(146 106.7 125.3)" fill="#7a5a44" opacity="0.45"/>
<ellipse cx="88.2" cy="75.5" rx="2.0" ry="1.2" transform="rotate(25 88.2 75.5)" fill="#7a5a44" opacity="0.45"/>
<ellipse cx="135.1" cy="127.2" rx="2.2" ry="1.3" transform="rotate(107 135.1 127.2)" fill="#7a5a44" opacity="0.45"/>
<ellipse cx="142.5" cy="30.4" rx="1.1" ry="0.6" transform="rotate(6 142.5 30.4)" fill="#b08a68" opacity="0.45"/>
<ellipse cx="99.6" cy="42.3" rx="1.4" ry="0.8" transform="rotate(94 99.6 42.3)" fill="#b08a68" opacity="0.45"/>
<ellipse cx="58.5" cy="94.7" rx="1.3" ry="0.7" transform="rotate(141 58.5 94.7)" fill="#7a5a44" opacity="0.45"/>
<ellipse cx="129.7" cy="120.2" rx="1.4" ry="0.8" transform="rotate(108 129.7 120.2)" fill="#b08a68" opacity="0.45"/>
<ellipse cx="90.6" cy="76.4" rx="1.7" ry="1.0" transform="rotate(102 90.6 76.4)" fill="#7a5a44" opacity="0.45"/>
<ellipse cx="80.8" cy="61.3" rx="2.1" ry="1.3" transform="rotate(151 80.8 61.3)" fill="#b08a68" opacity="0.45"/>
<ellipse cx="150.5" cy="76.2" rx="1.4" ry="0.8" transform="rotate(21 150.5 76.2)" fill="#7a5a44" opacity="0.45"/>
<ellipse cx="163.5" cy="67.0" rx="1.6" ry="0.9" transform="rotate(163 163.5 67.0)" fill="#b08a68" opacity="0.45"/>
<ellipse cx="67.4" cy="34.9" rx="1.9" ry="1.1" transform="rotate(132 67.4 34.9)" fill="#b08a68" opacity="0.45"/>
<ellipse cx="110.4" cy="116.1" rx="1.2" ry="0.7" transform="rotate(158 110.4 116.1)" fill="#7a5a44" opacity="0.45"/>
<ellipse cx="55.5" cy="126.9" rx="1.1" ry="0.7" transform="rotate(175 55.5 126.9)" fill="#b08a68" opacity="0.45"/>
<ellipse cx="91.5" cy="40.8" rx="2.2" ry="1.3" transform="rotate(55 91.5 40.8)" fill="#7a5a44" opacity="0.45"/>
<ellipse cx="79.0" cy="56.0" rx="0.9" ry="0.5" transform="rotate(174 79.0 56.0)" fill="#7a5a44" opacity="0.45"/>
<ellipse cx="121.0" cy="129.4" rx="1.4" ry="0.8" transform="rotate(40 121.0 129.4)" fill="#a07a58" opacity="0.45"/>
<ellipse cx="133.6" cy="94.5" rx="2.1" ry="1.3" transform="rotate(94 133.6 94.5)" fill="#a07a58" opacity="0.45"/>
<ellipse cx="37.7" cy="131.3" rx="1.6" ry="1.0" transform="rotate(0 37.7 131.3)" fill="#b08a68" opacity="0.45"/>
<ellipse cx="55.4" cy="63.4" rx="1.3" ry="0.7" transform="rotate(79 55.4 63.4)" fill="#a07a58" opacity="0.45"/>
<ellipse cx="87.5" cy="90.3" rx="1.0" ry="0.6" transform="rotate(105 87.5 90.3)" fill="#7a5a44" opacity="0.45"/>
<ellipse cx="24.6" cy="32.1" rx="2.1" ry="1.3" transform="rotate(58 24.6 32.1)" fill="#b08a68" opacity="0.45"/>
<ellipse cx="39.8" cy="119.0" rx="2.0" ry="1.1" transform="rotate(36 39.8 119.0)" fill="#a07a58" opacity="0.45"/>
<ellipse cx="151.1" cy="109.2" rx="0.9" ry="0.5" transform="rotate(151 151.1 109.2)" fill="#b08a68" opacity="0.45"/>
<ellipse cx="72.6" cy="83.5" rx="1.0" ry="0.6" transform="rotate(179 72.6 83.5)" fill="#7a5a44" opacity="0.45"/>
<ellipse cx="48.9" cy="102.2" rx="1.1" ry="0.6" transform="rotate(117 48.9 102.2)" fill="#a07a58" opacity="0.45"/>
<ellipse cx="65.1" cy="123.8" rx="2.2" ry="1.3" transform="rotate(157 65.1 123.8)" fill="#b08a68" opacity="0.45"/>
<ellipse cx="128.4" cy="44.2" rx="1.8" ry="1.1" transform="rotate(75 128.4 44.2)" fill="#b08a68" opacity="0.45"/>
<ellipse cx="43.8" cy="128.9" rx="0.9" ry="0.6" transform="rotate(35 43.8 128.9)" fill="#7a5a44" opacity="0.45"/>
<ellipse cx="45.6" cy="55.9" rx="1.8" ry="1.0" transform="rotate(67 45.6 55.9)" fill="#b08a68" opacity="0.45"/>
<ellipse cx="120.4" cy="131.5" rx="1.7" ry="1.0" transform="rotate(176 120.4 131.5)" fill="#a07a58" opacity="0.45"/>
<ellipse cx="156.7" cy="49.5" rx="1.1" ry="0.7" transform="rotate(115 156.7 49.5)" fill="#a07a58" opacity="0.45"/>
<ellipse cx="31.5" cy="143.0" rx="1.4" ry="0.8" transform="rotate(13 31.5 143.0)" fill="#7a5a44" opacity="0.45"/>
<ellipse cx="158.6" cy="29.3" rx="1.7" ry="1.0" transform="rotate(45 158.6 29.3)" fill="#7a5a44" opacity="0.45"/>
<ellipse cx="142.4" cy="38.7" rx="1.2" ry="0.7" transform="rotate(44 142.4 38.7)" fill="#a07a58" opacity="0.45"/>
<ellipse cx="60.9" cy="92.4" rx="1.1" ry="0.6" transform="rotate(178 60.9 92.4)" fill="#a07a58" opacity="0.45"/>
<ellipse cx="22.7" cy="82.3" rx="1.9" ry="1.1" transform="rotate(0 22.7 82.3)" fill="#b08a68" opacity="0.45"/>
<ellipse cx="156.1" cy="35.5" rx="0.9" ry="0.5" transform="rotate(164 156.1 35.5)" fill="#7a5a44" opacity="0.45"/>
<ellipse cx="67.4" cy="84.8" rx="0.8" ry="0.5" transform="rotate(91 67.4 84.8)" fill="#b08a68" opacity="0.45"/>
<ellipse cx="149.0" cy="108.2" rx="1.6" ry="0.9" transform="rotate(31 149.0 108.2)" fill="#7a5a44" opacity="0.45"/>
<ellipse cx="138.7" cy="47.7" rx="1.7" ry="1.0" transform="rotate(120 138.7 47.7)" fill="#a07a58" opacity="0.45"/>
<ellipse cx="102.7" cy="58.3" rx="1.9" ry="1.1" transform="rotate(42 102.7 58.3)" fill="#7a5a44" opacity="0.45"/>
<ellipse cx="93.6" cy="54.3" rx="1.7" ry="1.0" transform="rotate(47 93.6 54.3)" fill="#b08a68" opacity="0.45"/>
<ellipse cx="49.0" cy="141.6" rx="0.8" ry="0.5" transform="rotate(157 49.0 141.6)" fill="#b08a68" opacity="0.45"/>
<ellipse cx="45.5" cy="46.2" rx="0.8" ry="0.5" transform="rotate(145 45.5 46.2)" fill="#b08a68" opacity="0.45"/>
<ellipse cx="95.8" cy="112.7" rx="2.1" ry="1.2" transform="rotate(13 95.8 112.7)" fill="#a07a58" opacity="0.45"/>
<ellipse cx="158.6" cy="94.8" rx="1.6" ry="0.9" transform="rotate(43 158.6 94.8)" fill="#7a5a44" opacity="0.45"/>
<ellipse cx="40.2" cy="64.7" rx="0.8" ry="0.5" transform="rotate(148 40.2 64.7)" fill="#b08a68" opacity="0.45"/>
<ellipse cx="132.3" cy="119.5" rx="1.9" ry="1.1" transform="rotate(16 132.3 119.5)" fill="#b08a68" opacity="0.45"/>
<ellipse cx="145.1" cy="48.5" rx="1.2" ry="0.7" transform="rotate(89 145.1 48.5)" fill="#a07a58" opacity="0.45"/>
<ellipse cx="120.0" cy="97.9" rx="1.5" ry="0.9" transform="rotate(74 120.0 97.9)" fill="#b08a68" opacity="0.45"/>
<ellipse cx="74.2" cy="53.7" rx="2.2" ry="1.3" transform="rotate(23 74.2 53.7)" fill="#a07a58" opacity="0.45"/>
<ellipse cx="135.0" cy="98.5" rx="1.0" ry="0.6" transform="rotate(82 135.0 98.5)" fill="#7a5a44" opacity="0.45"/>
<ellipse cx="133.3" cy="33.1" rx="1.1" ry="0.7" transform="rotate(25 133.3 33.1)" fill="#7a5a44" opacity="0.45"/>
<ellipse cx="78.6" cy="63.2" rx="1.4" ry="0.8" transform="rotate(175 78.6 63.2)" fill="#a07a58" opacity="0.45"/>
<ellipse cx="123.2" cy="112.0" rx="2.3" ry="1.3" transform="rotate(41 123.2 112.0)" fill="#7a5a44" opacity="0.45"/>
<ellipse cx="56.9" cy="92.8" rx="1.1" ry="0.7" transform="rotate(15 56.9 92.8)" fill="#b08a68" opacity="0.45"/>
<ellipse cx="52.8" cy="64.5" rx="2.2" ry="1.3" transform="rotate(39 52.8 64.5)" fill="#7a5a44" opacity="0.45"/>
<ellipse cx="42.4" cy="96.7" rx="2.3" ry="1.3" transform="rotate(62 42.4 96.7)" fill="#7a5a44" opacity="0.45"/>
<ellipse cx="125.5" cy="129.2" rx="1.7" ry="1.0" transform="rotate(83 125.5 129.2)" fill="#a07a58" opacity="0.45"/>
<ellipse cx="78.6" cy="126.7" rx="1.3" ry="0.8" transform="rotate(39 78.6 126.7)" fill="#a07a58" opacity="0.45"/>
<ellipse cx="71.5" cy="49.9" rx="1.6" ry="0.9" transform="rotate(86 71.5 49.9)" fill="#a07a58" opacity="0.45"/>
<ellipse cx="79.7" cy="97.7" rx="1.9" ry="1.1" transform="rotate(80 79.7 97.7)" fill="#b08a68" opacity="0.45"/>
<ellipse cx="172.0" cy="107.6" rx="2.1" ry="1.2" transform="rotate(97 172.0 107.6)" fill="#a07a58" opacity="0.45"/>
<ellipse cx="82.7" cy="34.0" rx="1.2" ry="0.7" transform="rotate(112 82.7 34.0)" fill="#b08a68" opacity="0.45"/>
<ellipse cx="98.2" cy="114.9" rx="1.5" ry="0.9" transform="rotate(166 98.2 114.9)" fill="#7a5a44" opacity="0.45"/>
<ellipse cx="128.7" cy="59.8" rx="1.3" ry="0.8" transform="rotate(131 128.7 59.8)" fill="#a07a58" opacity="0.45"/>
<ellipse cx="138.3" cy="44.5" rx="1.1" ry="0.7" transform="rotate(4 138.3 44.5)" fill="#a07a58" opacity="0.45"/>
<ellipse cx="67.6" cy="73.3" rx="0.9" ry="0.5" transform="rotate(59 67.6 73.3)" fill="#b08a68" opacity="0.45"/>
<ellipse cx="137.3" cy="89.0" rx="0.8" ry="0.5" transform="rotate(109 137.3 89.0)" fill="#b08a68" opacity="0.45"/>
<ellipse cx="93.5" cy="50.4" rx="1.6" ry="0.9" transform="rotate(6 93.5 50.4)" fill="#a07a58" opacity="0.45"/>
<ellipse cx="66.1" cy="77.9" rx="1.6" ry="0.9" transform="rotate(93 66.1 77.9)" fill="#a07a58" opacity="0.45"/>
<ellipse cx="102.7" cy="65.1" rx="1.5" ry="0.9" transform="rotate(26 102.7 65.1)" fill="#b08a68" opacity="0.45"/>
<ellipse cx="49.3" cy="61.2" rx="1.9" ry="1.1" transform="rotate(25 49.3 61.2)" fill="#b08a68" opacity="0.45"/>
<ellipse cx="97.9" cy="69.9" rx="0.9" ry="0.5" transform="rotate(62 97.9 69.9)" fill="#b08a68" opacity="0.45"/>
<ellipse cx="51.0" cy="33.2" rx="0.8" ry="0.5" transform="rotate(87 51.0 33.2)" fill="#7a5a44" opacity="0.45"/>
<ellipse cx="19.3" cy="117.2" rx="1.9" ry="1.1" transform="rotate(121 19.3 117.2)" fill="#7a5a44" opacity="0.45"/>
<ellipse cx="160.4" cy="53.7" rx="1.8" ry="1.1" transform="rotate(22 160.4 53.7)" fill="#7a5a44" opacity="0.45"/>
<ellipse cx="138.0" cy="72.1" rx="2.0" ry="1.2" transform="rotate(16 138.0 72.1)" fill="#b08a68" opacity="0.45"/>
<ellipse cx="84.0" cy="74.2" rx="0.9" ry="0.5" transform="rotate(168 84.0 74.2)" fill="#b08a68" opacity="0.45"/>
<ellipse cx="61.7" cy="110.4" rx="1.1" ry="0.6" transform="rotate(36 61.7 110.4)" fill="#b08a68" opacity="0.45"/>
<ellipse cx="137.0" cy="69.4" rx="1.9" ry="1.1" transform="rotate(17 137.0 69.4)" fill="#7a5a44" opacity="0.45"/>
<ellipse cx="70.7" cy="77.7" rx="1.0" ry="0.6" transform="rotate(46 70.7 77.7)" fill="#7a5a44" opacity="0.45"/>
<ellipse cx="150.1" cy="64.4" rx="2.2" ry="1.3" transform="rotate(22 150.1 64.4)" fill="#b08a68" opacity="0.45"/>
<ellipse cx="159.0" cy="134.8" rx="1.2" ry="0.7" transform="rotate(89 159.0 134.8)" fill="#b08a68" opacity="0.45"/>
<ellipse cx="108.6" cy="83.1" rx="1.3" ry="0.7" transform="rotate(13 108.6 83.1)" fill="#b08a68" opacity="0.45"/>
<ellipse cx="23.0" cy="66.2" rx="1.3" ry="0.8" transform="rotate(47 23.0 66.2)" fill="#b08a68" opacity="0.45"/>
<ellipse cx="121.4" cy="50.2" rx="1.5" ry="0.9" transform="rotate(61 121.4 50.2)" fill="#7a5a44" opacity="0.45"/>
<ellipse cx="157.1" cy="32.1" rx="1.8" ry="1.1" transform="rotate(139 157.1 32.1)" fill="#a07a58" opacity="0.45"/>
<ellipse cx="115.1" cy="100.8" rx="1.4" ry="0.8" transform="rotate(11 115.1 100.8)" fill="#b08a68" opacity="0.45"/>
<ellipse cx="28.1" cy="82.6" rx="1.5" ry="0.9" transform="rotate(7 28.1 82.6)" fill="#b08a68" opacity="0.45"/>
<ellipse cx="38.6" cy="87.6" rx="1.2" ry="0.7" transform="rotate(85 38.6 87.6)" fill="#b08a68" opacity="0.45"/>
<ellipse cx="20.8" cy="99.0" rx="1.2" ry="0.7" transform="rotate(122 20.8 99.0)" fill="#b08a68" opacity="0.45"/>
<ellipse cx="54.0" cy="28.6" rx="1.6" ry="0.9" transform="rotate(1 54.0 28.6)" fill="#b08a68" opacity="0.45"/>
<ellipse cx="102.6" cy="127.4" rx="1.9" ry="1.1" transform="rotate(112 102.6 127.4)" fill="#a07a58" opacity="0.45"/>
<ellipse cx="104.7" cy="125.3" rx="2.2" ry="1.3" transform="rotate(48 104.7 125.3)" fill="#b08a68" opacity="0.45"/>
<ellipse cx="33.7" cy="30.8" rx="2.0" ry="1.2" transform="rotate(125 33.7 30.8)" fill="#a07a58" opacity="0.45"/>
</g>
<text x="139.0" y="133.7" font-size="10.3" fill="#231f20">25 μm</text>
<line x1="137.0" y1="139.4" x2="167.5" y2="139.4" stroke="#231f20" stroke-width="1.3"/>
</g>
<clipPath id="cA2"><rect x="179" y="28.5" width="156.00" height="116.50"/></clipPath>
<g clip-path="url(#cA2)">
<rect x="179" y="28.5" width="156.00" height="116.50" fill="#ddd5d0"/>
<rect x="179" y="28.5" width="156.00" height="116.50" filter="url(#ihctex0)" opacity="0.55"/>
<rect x="179" y="28.5" width="156.00" height="116.50" filter="url(#ihcw0)" opacity="0.22"/>
<g filter="url(#soft)">
<circle cx="253.0" cy="105.1" r="1.8" fill="#dfe2f2" stroke="#a9b0d8" stroke-width="0.7" opacity="0.55"/>
<circle cx="283.0" cy="45.1" r="1.8" fill="#dfe2f2" stroke="#a9b0d8" stroke-width="0.7" opacity="0.55"/>
<circle cx="180.7" cy="72.2" r="1.8" fill="#dfe2f2" stroke="#a9b0d8" stroke-width="0.7" opacity="0.55"/>
<circle cx="221.8" cy="122.9" r="1.8" fill="#dfe2f2" stroke="#a9b0d8" stroke-width="0.7" opacity="0.55"/>
<circle cx="286.7" cy="98.6" r="1.8" fill="#dfe2f2" stroke="#a9b0d8" stroke-width="0.7" opacity="0.55"/>
<circle cx="266.1" cy="105.5" r="1.8" fill="#dfe2f2" stroke="#a9b0d8" stroke-width="0.7" opacity="0.55"/>
<circle cx="201.7" cy="79.8" r="1.8" fill="#dfe2f2" stroke="#a9b0d8" stroke-width="0.7" opacity="0.55"/>
<circle cx="204.3" cy="134.0" r="1.8" fill="#dfe2f2" stroke="#a9b0d8" stroke-width="0.7" opacity="0.55"/>
<circle cx="188.2" cy="123.9" r="1.8" fill="#dfe2f2" stroke="#a9b0d8" stroke-width="0.7" opacity="0.55"/>
<circle cx="190.6" cy="108.5" r="1.8" fill="#dfe2f2" stroke="#a9b0d8" stroke-width="0.7" opacity="0.55"/>
<circle cx="231.6" cy="75.6" r="1.8" fill="#dfe2f2" stroke="#a9b0d8" stroke-width="0.7" opacity="0.55"/>
<circle cx="310.4" cy="30.7" r="1.8" fill="#dfe2f2" stroke="#a9b0d8" stroke-width="0.7" opacity="0.55"/>
<circle cx="188.5" cy="135.1" r="1.8" fill="#dfe2f2" stroke="#a9b0d8" stroke-width="0.7" opacity="0.55"/>
<circle cx="258.4" cy="39.1" r="1.8" fill="#dfe2f2" stroke="#a9b0d8" stroke-width="0.7" opacity="0.55"/>
<circle cx="333.0" cy="138.8" r="1.8" fill="#dfe2f2" stroke="#a9b0d8" stroke-width="0.7" opacity="0.55"/>
<circle cx="196.6" cy="77.8" r="1.8" fill="#dfe2f2" stroke="#a9b0d8" stroke-width="0.7" opacity="0.55"/>
<circle cx="200.1" cy="64.9" r="1.8" fill="#dfe2f2" stroke="#a9b0d8" stroke-width="0.7" opacity="0.55"/>
<circle cx="275.9" cy="47.6" r="1.8" fill="#dfe2f2" stroke="#a9b0d8" stroke-width="0.7" opacity="0.55"/>
<circle cx="287.7" cy="34.5" r="1.8" fill="#dfe2f2" stroke="#a9b0d8" stroke-width="0.7" opacity="0.55"/>
<circle cx="205.7" cy="123.5" r="1.8" fill="#dfe2f2" stroke="#a9b0d8" stroke-width="0.7" opacity="0.55"/>
<circle cx="241.5" cy="77.3" r="1.8" fill="#dfe2f2" stroke="#a9b0d8" stroke-width="0.7" opacity="0.55"/>
<circle cx="272.0" cy="84.0" r="1.8" fill="#dfe2f2" stroke="#a9b0d8" stroke-width="0.7" opacity="0.55"/>
<circle cx="239.0" cy="32.1" r="1.8" fill="#dfe2f2" stroke="#a9b0d8" stroke-width="0.7" opacity="0.55"/>
<circle cx="292.3" cy="141.2" r="1.8" fill="#dfe2f2" stroke="#a9b0d8" stroke-width="0.7" opacity="0.55"/>
<circle cx="331.3" cy="105.8" r="1.8" fill="#dfe2f2" stroke="#a9b0d8" stroke-width="0.7" opacity="0.55"/>
<circle cx="234.6" cy="70.8" r="1.8" fill="#dfe2f2" stroke="#a9b0d8" stroke-width="0.7" opacity="0.55"/>
<circle cx="286.7" cy="107.0" r="1.8" fill="#dfe2f2" stroke="#a9b0d8" stroke-width="0.7" opacity="0.55"/>
<circle cx="196.8" cy="55.9" r="1.8" fill="#dfe2f2" stroke="#a9b0d8" stroke-width="0.7" opacity="0.55"/>
<circle cx="235.7" cy="88.1" r="1.8" fill="#dfe2f2" stroke="#a9b0d8" stroke-width="0.7" opacity="0.55"/>
<circle cx="305.4" cy="86.8" r="1.8" fill="#dfe2f2" stroke="#a9b0d8" stroke-width="0.7" opacity="0.55"/>
<circle cx="183.4" cy="124.3" r="1.8" fill="#dfe2f2" stroke="#a9b0d8" stroke-width="0.7" opacity="0.55"/>
<circle cx="246.1" cy="89.0" r="1.8" fill="#dfe2f2" stroke="#a9b0d8" stroke-width="0.7" opacity="0.55"/>
<circle cx="213.7" cy="78.3" r="1.8" fill="#dfe2f2" stroke="#a9b0d8" stroke-width="0.7" opacity="0.55"/>
<circle cx="239.6" cy="118.4" r="1.8" fill="#dfe2f2" stroke="#a9b0d8" stroke-width="0.7" opacity="0.55"/>
<circle cx="195.0" cy="92.6" r="1.8" fill="#dfe2f2" stroke="#a9b0d8" stroke-width="0.7" opacity="0.55"/>
<circle cx="206.8" cy="109.6" r="1.8" fill="#dfe2f2" stroke="#a9b0d8" stroke-width="0.7" opacity="0.55"/>
<circle cx="184.7" cy="60.7" r="1.8" fill="#dfe2f2" stroke="#a9b0d8" stroke-width="0.7" opacity="0.55"/>
<circle cx="232.7" cy="102.7" r="1.8" fill="#dfe2f2" stroke="#a9b0d8" stroke-width="0.7" opacity="0.55"/>
<circle cx="187.1" cy="82.0" r="1.8" fill="#dfe2f2" stroke="#a9b0d8" stroke-width="0.7" opacity="0.55"/>
<circle cx="211.6" cy="61.3" r="1.8" fill="#dfe2f2" stroke="#a9b0d8" stroke-width="0.7" opacity="0.55"/>
<circle cx="253.3" cy="140.2" r="1.8" fill="#dfe2f2" stroke="#a9b0d8" stroke-width="0.7" opacity="0.55"/>
<circle cx="254.0" cy="139.9" r="1.8" fill="#dfe2f2" stroke="#a9b0d8" stroke-width="0.7" opacity="0.55"/>
<circle cx="205.1" cy="136.2" r="1.8" fill="#dfe2f2" stroke="#a9b0d8" stroke-width="0.7" opacity="0.55"/>
<circle cx="235.8" cy="50.5" r="1.8" fill="#dfe2f2" stroke="#a9b0d8" stroke-width="0.7" opacity="0.55"/>
<circle cx="295.8" cy="134.8" r="1.8" fill="#dfe2f2" stroke="#a9b0d8" stroke-width="0.7" opacity="0.55"/>
<circle cx="180.0" cy="59.8" r="1.8" fill="#dfe2f2" stroke="#a9b0d8" stroke-width="0.7" opacity="0.55"/>
<circle cx="299.2" cy="68.3" r="1.8" fill="#dfe2f2" stroke="#a9b0d8" stroke-width="0.7" opacity="0.55"/>
<circle cx="216.7" cy="29.5" r="1.8" fill="#dfe2f2" stroke="#a9b0d8" stroke-width="0.7" opacity="0.55"/>
<circle cx="185.2" cy="100.6" r="1.8" fill="#dfe2f2" stroke="#a9b0d8" stroke-width="0.7" opacity="0.55"/>
<circle cx="332.5" cy="144.8" r="1.8" fill="#dfe2f2" stroke="#a9b0d8" stroke-width="0.7" opacity="0.55"/>
<circle cx="257.6" cy="31.3" r="1.8" fill="#dfe2f2" stroke="#a9b0d8" stroke-width="0.7" opacity="0.55"/>
<circle cx="229.3" cy="120.2" r="1.8" fill="#dfe2f2" stroke="#a9b0d8" stroke-width="0.7" opacity="0.55"/>
<circle cx="308.8" cy="103.0" r="1.8" fill="#dfe2f2" stroke="#a9b0d8" stroke-width="0.7" opacity="0.55"/>
<circle cx="214.8" cy="89.9" r="1.8" fill="#dfe2f2" stroke="#a9b0d8" stroke-width="0.7" opacity="0.55"/>
<circle cx="253.5" cy="101.5" r="1.8" fill="#dfe2f2" stroke="#a9b0d8" stroke-width="0.7" opacity="0.55"/>
<circle cx="220.0" cy="138.8" r="1.8" fill="#dfe2f2" stroke="#a9b0d8" stroke-width="0.7" opacity="0.55"/>
<circle cx="318.5" cy="47.4" r="1.8" fill="#dfe2f2" stroke="#a9b0d8" stroke-width="0.7" opacity="0.55"/>
<circle cx="224.4" cy="130.2" r="1.8" fill="#dfe2f2" stroke="#a9b0d8" stroke-width="0.7" opacity="0.55"/>
<circle cx="222.4" cy="138.5" r="1.8" fill="#dfe2f2" stroke="#a9b0d8" stroke-width="0.7" opacity="0.55"/>
<circle cx="259.4" cy="109.6" r="1.8" fill="#dfe2f2" stroke="#a9b0d8" stroke-width="0.7" opacity="0.55"/>
<circle cx="288.9" cy="53.4" r="1.8" fill="#dfe2f2" stroke="#a9b0d8" stroke-width="0.7" opacity="0.55"/>
<circle cx="223.5" cy="58.2" r="1.8" fill="#dfe2f2" stroke="#a9b0d8" stroke-width="0.7" opacity="0.55"/>
<circle cx="285.6" cy="109.4" r="1.8" fill="#dfe2f2" stroke="#a9b0d8" stroke-width="0.7" opacity="0.55"/>
<circle cx="199.6" cy="131.8" r="1.8" fill="#dfe2f2" stroke="#a9b0d8" stroke-width="0.7" opacity="0.55"/>
<circle cx="244.6" cy="56.6" r="1.8" fill="#dfe2f2" stroke="#a9b0d8" stroke-width="0.7" opacity="0.55"/>
<circle cx="246.9" cy="142.6" r="1.8" fill="#dfe2f2" stroke="#a9b0d8" stroke-width="0.7" opacity="0.55"/>
<circle cx="266.3" cy="101.3" r="1.8" fill="#dfe2f2" stroke="#a9b0d8" stroke-width="0.7" opacity="0.55"/>
<circle cx="322.5" cy="140.6" r="1.8" fill="#dfe2f2" stroke="#a9b0d8" stroke-width="0.7" opacity="0.55"/>
<circle cx="297.6" cy="77.2" r="1.8" fill="#dfe2f2" stroke="#a9b0d8" stroke-width="0.7" opacity="0.55"/>
<circle cx="270.8" cy="133.5" r="1.8" fill="#dfe2f2" stroke="#a9b0d8" stroke-width="0.7" opacity="0.55"/>
<circle cx="302.1" cy="96.1" r="1.8" fill="#dfe2f2" stroke="#a9b0d8" stroke-width="0.7" opacity="0.55"/>
<circle cx="233.2" cy="71.4" r="1.8" fill="#dfe2f2" stroke="#a9b0d8" stroke-width="0.7" opacity="0.55"/>
<circle cx="293.8" cy="94.1" r="1.8" fill="#dfe2f2" stroke="#a9b0d8" stroke-width="0.7" opacity="0.55"/>
<circle cx="181.7" cy="111.2" r="1.8" fill="#dfe2f2" stroke="#a9b0d8" stroke-width="0.7" opacity="0.55"/>
<circle cx="320.0" cy="121.4" r="1.8" fill="#dfe2f2" stroke="#a9b0d8" stroke-width="0.7" opacity="0.55"/>
<circle cx="319.0" cy="134.6" r="1.8" fill="#dfe2f2" stroke="#a9b0d8" stroke-width="0.7" opacity="0.55"/>
<circle cx="262.4" cy="120.4" r="1.8" fill="#dfe2f2" stroke="#a9b0d8" stroke-width="0.7" opacity="0.55"/>
<circle cx="238.2" cy="40.0" r="1.8" fill="#dfe2f2" stroke="#a9b0d8" stroke-width="0.7" opacity="0.55"/>
<circle cx="234.1" cy="64.9" r="1.8" fill="#dfe2f2" stroke="#a9b0d8" stroke-width="0.7" opacity="0.55"/>
<circle cx="324.7" cy="108.8" r="1.8" fill="#dfe2f2" stroke="#a9b0d8" stroke-width="0.7" opacity="0.55"/>
<circle cx="263.5" cy="101.0" r="1.8" fill="#dfe2f2" stroke="#a9b0d8" stroke-width="0.7" opacity="0.55"/>
<circle cx="198.5" cy="90.7" r="1.8" fill="#dfe2f2" stroke="#a9b0d8" stroke-width="0.7" opacity="0.55"/>
<circle cx="288.3" cy="74.4" r="1.8" fill="#dfe2f2" stroke="#a9b0d8" stroke-width="0.7" opacity="0.55"/>
<circle cx="217.3" cy="75.9" r="1.8" fill="#dfe2f2" stroke="#a9b0d8" stroke-width="0.7" opacity="0.55"/>
<circle cx="229.5" cy="108.3" r="1.8" fill="#dfe2f2" stroke="#a9b0d8" stroke-width="0.7" opacity="0.55"/>
<circle cx="201.1" cy="39.0" r="1.8" fill="#dfe2f2" stroke="#a9b0d8" stroke-width="0.7" opacity="0.55"/>
<circle cx="227.7" cy="109.6" r="1.8" fill="#dfe2f2" stroke="#a9b0d8" stroke-width="0.7" opacity="0.55"/>
<circle cx="297.5" cy="105.3" r="1.8" fill="#dfe2f2" stroke="#a9b0d8" stroke-width="0.7" opacity="0.55"/>
<circle cx="324.8" cy="71.1" r="1.8" fill="#dfe2f2" stroke="#a9b0d8" stroke-width="0.7" opacity="0.55"/>
<circle cx="183.6" cy="85.3" r="1.8" fill="#dfe2f2" stroke="#a9b0d8" stroke-width="0.7" opacity="0.55"/>
<path d="M248.2,49.4Q245.0,51.5 244.4,55.3" stroke="#a88262" stroke-width="1.3" fill="none" opacity="0.5"/>
<path d="M326.2,29.4Q324.3,31.6 325.3,34.5" stroke="#a88262" stroke-width="1.3" fill="none" opacity="0.5"/>
<path d="M213.4,135.5Q210.7,132.5 211.5,129.9" stroke="#a88262" stroke-width="1.3" fill="none" opacity="0.5"/>
<path d="M273.6,126.7Q273.2,128.9 269.3,127.8" stroke="#a88262" stroke-width="1.3" fill="none" opacity="0.5"/>
<path d="M214.5,91.2Q212.4,94.3 208.5,95.8" stroke="#a88262" stroke-width="1.3" fill="none" opacity="0.5"/>
<path d="M330.7,93.0Q329.8,95.0 326.5,98.8" stroke="#a88262" stroke-width="1.3" fill="none" opacity="0.5"/>
<path d="M257.0,70.5Q257.2,72.6 260.2,74.2" stroke="#a88262" stroke-width="1.3" fill="none" opacity="0.5"/>
<path d="M218.3,33.8Q219.6,38.2 216.6,41.5" stroke="#a88262" stroke-width="1.3" fill="none" opacity="0.5"/>
<path d="M239.7,130.2Q236.0,134.7 236.1,137.8" stroke="#a88262" stroke-width="1.3" fill="none" opacity="0.5"/>
<path d="M310.5,99.4Q307.8,100.2 303.9,103.4" stroke="#a88262" stroke-width="1.3" fill="none" opacity="0.5"/>
<path d="M242.5,72.7Q241.9,72.6 238.2,75.9" stroke="#a88262" stroke-width="1.3" fill="none" opacity="0.5"/>
<path d="M211.0,58.2Q204.4,59.2 202.3,56.9" stroke="#a88262" stroke-width="1.3" fill="none" opacity="0.5"/>
<path d="M315.3,124.2Q314.1,119.8 314.8,119.0" stroke="#a88262" stroke-width="1.3" fill="none" opacity="0.5"/>
<path d="M314.0,125.5Q313.2,123.1 317.1,122.6" stroke="#a88262" stroke-width="1.3" fill="none" opacity="0.5"/>
<path d="M181.0,48.4Q179.6,44.9 180.2,44.5" stroke="#a88262" stroke-width="1.3" fill="none" opacity="0.5"/>
<path d="M207.7,64.8Q202.5,63.2 201.3,59.8" stroke="#a88262" stroke-width="1.3" fill="none" opacity="0.5"/>
<path d="M262.7,80.7Q262.4,78.3 259.1,75.7" stroke="#a88262" stroke-width="1.3" fill="none" opacity="0.5"/>
<path d="M278.1,82.9Q275.1,85.2 272.9,87.3" stroke="#a88262" stroke-width="1.3" fill="none" opacity="0.5"/>
<path d="M290.5,60.9Q288.1,62.1 282.0,61.4" stroke="#a88262" stroke-width="1.3" fill="none" opacity="0.5"/>
<path d="M328.2,108.0Q326.4,110.8 323.6,111.1" stroke="#a88262" stroke-width="1.3" fill="none" opacity="0.5"/>
<path d="M309.9,43.6Q309.1,42.4 312.5,45.7" stroke="#a88262" stroke-width="1.3" fill="none" opacity="0.5"/>
<path d="M180.3,57.6Q180.2,58.2 178.9,54.2" stroke="#a88262" stroke-width="1.3" fill="none" opacity="0.5"/>
<path d="M328.8,115.5Q331.8,118.4 337.4,117.0" stroke="#a88262" stroke-width="1.3" fill="none" opacity="0.5"/>
<path d="M253.2,52.6Q250.0,53.4 246.5,56.1" stroke="#a88262" stroke-width="1.3" fill="none" opacity="0.5"/>
<path d="M216.7,38.7Q222.3,39.0 223.1,36.7" stroke="#a88262" stroke-width="1.3" fill="none" opacity="0.5"/>
<path d="M324.6,70.7Q327.2,70.4 328.9,68.5" stroke="#a88262" stroke-width="1.3" fill="none" opacity="0.5"/>
<path d="M181.0,55.1Q182.2,53.5 180.3,49.3" stroke="#a88262" stroke-width="1.3" fill="none" opacity="0.5"/>
<path d="M232.0,73.0Q236.0,71.2 240.1,72.4" stroke="#a88262" stroke-width="1.3" fill="none" opacity="0.5"/>
<path d="M276.4,90.9Q276.2,94.1 277.0,96.1" stroke="#a88262" stroke-width="1.3" fill="none" opacity="0.5"/>
<path d="M198.8,91.5Q197.4,86.8 198.5,82.8" stroke="#a88262" stroke-width="1.3" fill="none" opacity="0.5"/>
<path d="M195.0,114.4Q196.8,117.8 198.1,120.4" stroke="#a88262" stroke-width="1.3" fill="none" opacity="0.5"/>
<path d="M269.0,72.6Q270.0,73.7 266.1,76.4" stroke="#a88262" stroke-width="1.3" fill="none" opacity="0.5"/>
<path d="M257.4,82.1Q254.3,82.4 254.1,84.5" stroke="#a88262" stroke-width="1.3" fill="none" opacity="0.5"/>
<path d="M236.3,69.3Q234.2,74.2 233.8,77.5" stroke="#a88262" stroke-width="1.3" fill="none" opacity="0.5"/>
<path d="M241.0,88.6Q244.9,88.1 247.1,91.7" stroke="#a88262" stroke-width="1.3" fill="none" opacity="0.5"/>
<path d="M218.0,122.8Q214.3,118.6 213.9,114.9" stroke="#a88262" stroke-width="1.3" fill="none" opacity="0.5"/>
<path d="M223.1,126.5Q224.5,129.3 224.6,130.6" stroke="#a88262" stroke-width="1.3" fill="none" opacity="0.5"/>
<path d="M271.0,84.3Q269.0,84.9 262.5,86.5" stroke="#a88262" stroke-width="1.3" fill="none" opacity="0.5"/>
<path d="M251.6,70.4Q250.3,66.9 251.7,63.1" stroke="#a88262" stroke-width="1.3" fill="none" opacity="0.5"/>
<path d="M292.3,86.9Q290.8,83.9 287.1,82.3" stroke="#a88262" stroke-width="1.3" fill="none" opacity="0.5"/>
<path d="M226.8,31.4Q227.3,29.7 228.9,23.3" stroke="#a88262" stroke-width="1.3" fill="none" opacity="0.5"/>
<path d="M319.8,46.2Q315.3,46.9 312.7,50.0" stroke="#a88262" stroke-width="1.3" fill="none" opacity="0.5"/>
<path d="M243.6,34.5Q243.8,33.9 246.0,36.7" stroke="#a88262" stroke-width="1.3" fill="none" opacity="0.5"/>
<path d="M198.0,125.4Q195.9,127.7 192.7,125.7" stroke="#a88262" stroke-width="1.3" fill="none" opacity="0.5"/>
<path d="M201.8,55.1Q207.4,53.0 208.7,50.7" stroke="#a88262" stroke-width="1.3" fill="none" opacity="0.5"/>
<path d="M236.3,50.5Q236.9,47.7 237.1,42.1" stroke="#a88262" stroke-width="1.3" fill="none" opacity="0.5"/>
<path d="M219.7,90.7Q223.5,91.8 226.2,96.0" stroke="#a88262" stroke-width="1.3" fill="none" opacity="0.5"/>
<path d="M309.7,126.3Q304.1,127.6 303.4,129.0" stroke="#a88262" stroke-width="1.3" fill="none" opacity="0.5"/>
<path d="M235.0,75.1Q236.7,74.6 238.1,73.5" stroke="#a88262" stroke-width="1.3" fill="none" opacity="0.5"/>
<path d="M310.4,132.9Q309.1,131.4 304.3,131.2" stroke="#a88262" stroke-width="1.3" fill="none" opacity="0.5"/>
<path d="M319.5,31.3Q316.2,33.1 311.8,30.0" stroke="#a88262" stroke-width="1.3" fill="none" opacity="0.5"/>
<path d="M213.3,76.0Q213.3,73.4 213.1,68.2" stroke="#a88262" stroke-width="1.3" fill="none" opacity="0.5"/>
<path d="M284.7,129.8Q281.3,130.3 280.1,135.0" stroke="#a88262" stroke-width="1.3" fill="none" opacity="0.5"/>
<path d="M198.2,33.5Q201.6,35.0 203.9,40.3" stroke="#a88262" stroke-width="1.3" fill="none" opacity="0.5"/>
<path d="M329.7,90.6Q332.5,91.2 331.6,87.0" stroke="#a88262" stroke-width="1.3" fill="none" opacity="0.5"/>
<path d="M213.8,75.4Q213.5,79.8 212.4,82.2" stroke="#a88262" stroke-width="1.3" fill="none" opacity="0.5"/>
<path d="M296.2,124.5Q296.7,127.8 294.6,131.8" stroke="#a88262" stroke-width="1.3" fill="none" opacity="0.5"/>
<path d="M205.4,30.9Q201.3,33.5 201.2,36.2" stroke="#a88262" stroke-width="1.3" fill="none" opacity="0.5"/>
<path d="M243.7,66.4Q240.8,68.1 237.5,64.8" stroke="#a88262" stroke-width="1.3" fill="none" opacity="0.5"/>
<path d="M320.1,63.3Q320.7,64.9 316.9,70.8" stroke="#a88262" stroke-width="1.3" fill="none" opacity="0.5"/>
<path d="M228.6,137.1Q226.2,131.8 226.7,130.4" stroke="#a88262" stroke-width="1.3" fill="none" opacity="0.5"/>
<path d="M328.7,36.2Q328.5,37.9 325.0,37.9" stroke="#a88262" stroke-width="1.3" fill="none" opacity="0.5"/>
<path d="M334.8,119.3Q336.2,115.6 339.5,116.3" stroke="#a88262" stroke-width="1.3" fill="none" opacity="0.5"/>
<path d="M328.7,131.2Q323.7,130.2 321.8,132.0" stroke="#a88262" stroke-width="1.3" fill="none" opacity="0.5"/>
<path d="M189.5,39.4Q194.0,37.7 194.2,35.9" stroke="#a88262" stroke-width="1.3" fill="none" opacity="0.5"/>
<ellipse cx="284.1" cy="83.0" rx="2.0" ry="1.1" transform="rotate(61 284.1 83.0)" fill="#6a4a36" opacity="0.45"/>
<ellipse cx="208.8" cy="135.6" rx="1.0" ry="0.6" transform="rotate(30 208.8 135.6)" fill="#6a4a36" opacity="0.45"/>
<ellipse cx="252.6" cy="80.7" rx="1.0" ry="0.6" transform="rotate(117 252.6 80.7)" fill="#9a7050" opacity="0.45"/>
<ellipse cx="212.3" cy="58.4" rx="0.9" ry="0.5" transform="rotate(178 212.3 58.4)" fill="#b08660" opacity="0.45"/>
<ellipse cx="285.7" cy="88.7" rx="1.4" ry="0.8" transform="rotate(163 285.7 88.7)" fill="#b08660" opacity="0.45"/>
<ellipse cx="205.3" cy="127.0" rx="1.6" ry="1.0" transform="rotate(117 205.3 127.0)" fill="#9a7050" opacity="0.45"/>
<ellipse cx="201.5" cy="91.6" rx="1.0" ry="0.6" transform="rotate(113 201.5 91.6)" fill="#b08660" opacity="0.45"/>
<ellipse cx="282.4" cy="33.5" rx="1.5" ry="0.9" transform="rotate(133 282.4 33.5)" fill="#b08660" opacity="0.45"/>
<ellipse cx="200.8" cy="134.9" rx="2.1" ry="1.2" transform="rotate(110 200.8 134.9)" fill="#b08660" opacity="0.45"/>
<ellipse cx="287.2" cy="93.3" rx="1.0" ry="0.6" transform="rotate(143 287.2 93.3)" fill="#b08660" opacity="0.45"/>
<ellipse cx="330.4" cy="132.6" rx="1.6" ry="0.9" transform="rotate(45 330.4 132.6)" fill="#6a4a36" opacity="0.45"/>
<ellipse cx="313.1" cy="58.9" rx="0.9" ry="0.5" transform="rotate(99 313.1 58.9)" fill="#9a7050" opacity="0.45"/>
<ellipse cx="321.9" cy="92.0" rx="1.6" ry="1.0" transform="rotate(77 321.9 92.0)" fill="#9a7050" opacity="0.45"/>
<ellipse cx="185.5" cy="125.4" rx="1.0" ry="0.6" transform="rotate(113 185.5 125.4)" fill="#9a7050" opacity="0.45"/>
<ellipse cx="298.9" cy="93.4" rx="1.8" ry="1.1" transform="rotate(163 298.9 93.4)" fill="#6a4a36" opacity="0.45"/>
<ellipse cx="180.3" cy="114.0" rx="1.0" ry="0.6" transform="rotate(100 180.3 114.0)" fill="#b08660" opacity="0.45"/>
<ellipse cx="192.9" cy="104.4" rx="1.8" ry="1.1" transform="rotate(147 192.9 104.4)" fill="#6a4a36" opacity="0.45"/>
<ellipse cx="258.7" cy="120.9" rx="0.9" ry="0.5" transform="rotate(165 258.7 120.9)" fill="#9a7050" opacity="0.45"/>
<ellipse cx="183.0" cy="67.4" rx="2.2" ry="1.3" transform="rotate(19 183.0 67.4)" fill="#9a7050" opacity="0.45"/>
<ellipse cx="180.6" cy="117.0" rx="1.3" ry="0.8" transform="rotate(130 180.6 117.0)" fill="#b08660" opacity="0.45"/>
<ellipse cx="197.5" cy="105.2" rx="1.0" ry="0.6" transform="rotate(143 197.5 105.2)" fill="#6a4a36" opacity="0.45"/>
<ellipse cx="194.1" cy="110.2" rx="2.0" ry="1.2" transform="rotate(67 194.1 110.2)" fill="#b08660" opacity="0.45"/>
<ellipse cx="222.7" cy="70.6" rx="0.9" ry="0.5" transform="rotate(49 222.7 70.6)" fill="#b08660" opacity="0.45"/>
<ellipse cx="287.6" cy="131.7" rx="1.2" ry="0.7" transform="rotate(86 287.6 131.7)" fill="#b08660" opacity="0.45"/>
<ellipse cx="179.6" cy="38.4" rx="0.8" ry="0.5" transform="rotate(79 179.6 38.4)" fill="#9a7050" opacity="0.45"/>
<ellipse cx="256.8" cy="91.1" rx="2.1" ry="1.2" transform="rotate(159 256.8 91.1)" fill="#b08660" opacity="0.45"/>
<ellipse cx="298.4" cy="73.5" rx="0.9" ry="0.5" transform="rotate(109 298.4 73.5)" fill="#9a7050" opacity="0.45"/>
<ellipse cx="205.2" cy="143.8" rx="2.1" ry="1.2" transform="rotate(56 205.2 143.8)" fill="#b08660" opacity="0.45"/>
<ellipse cx="225.5" cy="113.3" rx="0.8" ry="0.5" transform="rotate(57 225.5 113.3)" fill="#9a7050" opacity="0.45"/>
<ellipse cx="240.2" cy="65.0" rx="1.9" ry="1.1" transform="rotate(166 240.2 65.0)" fill="#9a7050" opacity="0.45"/>
<ellipse cx="304.3" cy="76.7" rx="0.9" ry="0.5" transform="rotate(178 304.3 76.7)" fill="#b08660" opacity="0.45"/>
<ellipse cx="179.9" cy="82.4" rx="1.3" ry="0.8" transform="rotate(61 179.9 82.4)" fill="#b08660" opacity="0.45"/>
<ellipse cx="182.2" cy="67.7" rx="1.1" ry="0.7" transform="rotate(11 182.2 67.7)" fill="#9a7050" opacity="0.45"/>
<ellipse cx="200.0" cy="136.6" rx="1.9" ry="1.1" transform="rotate(147 200.0 136.6)" fill="#6a4a36" opacity="0.45"/>
<ellipse cx="294.2" cy="54.9" rx="0.9" ry="0.5" transform="rotate(117 294.2 54.9)" fill="#6a4a36" opacity="0.45"/>
<ellipse cx="289.4" cy="31.0" rx="1.3" ry="0.8" transform="rotate(66 289.4 31.0)" fill="#9a7050" opacity="0.45"/>
<ellipse cx="205.9" cy="79.1" rx="0.9" ry="0.6" transform="rotate(166 205.9 79.1)" fill="#9a7050" opacity="0.45"/>
<ellipse cx="266.3" cy="126.3" rx="1.0" ry="0.6" transform="rotate(32 266.3 126.3)" fill="#6a4a36" opacity="0.45"/>
<ellipse cx="256.6" cy="78.3" rx="1.0" ry="0.6" transform="rotate(55 256.6 78.3)" fill="#9a7050" opacity="0.45"/>
<ellipse cx="296.8" cy="135.4" rx="0.8" ry="0.5" transform="rotate(9 296.8 135.4)" fill="#9a7050" opacity="0.45"/>
<ellipse cx="293.5" cy="117.9" rx="1.8" ry="1.1" transform="rotate(30 293.5 117.9)" fill="#b08660" opacity="0.45"/>
<ellipse cx="244.8" cy="76.8" rx="0.9" ry="0.5" transform="rotate(7 244.8 76.8)" fill="#9a7050" opacity="0.45"/>
<ellipse cx="332.4" cy="107.2" rx="2.3" ry="1.3" transform="rotate(85 332.4 107.2)" fill="#9a7050" opacity="0.45"/>
<ellipse cx="279.0" cy="77.7" rx="2.0" ry="1.2" transform="rotate(117 279.0 77.7)" fill="#b08660" opacity="0.45"/>
<ellipse cx="254.2" cy="127.9" rx="1.6" ry="1.0" transform="rotate(86 254.2 127.9)" fill="#6a4a36" opacity="0.45"/>
<ellipse cx="199.6" cy="51.4" rx="0.8" ry="0.5" transform="rotate(139 199.6 51.4)" fill="#b08660" opacity="0.45"/>
<ellipse cx="230.5" cy="112.4" rx="1.1" ry="0.7" transform="rotate(51 230.5 112.4)" fill="#b08660" opacity="0.45"/>
<ellipse cx="271.8" cy="119.3" rx="1.1" ry="0.6" transform="rotate(149 271.8 119.3)" fill="#9a7050" opacity="0.45"/>
<ellipse cx="182.4" cy="85.9" rx="2.0" ry="1.2" transform="rotate(77 182.4 85.9)" fill="#6a4a36" opacity="0.45"/>
<ellipse cx="213.9" cy="98.1" rx="1.4" ry="0.8" transform="rotate(29 213.9 98.1)" fill="#b08660" opacity="0.45"/>
<ellipse cx="321.0" cy="132.5" rx="2.1" ry="1.3" transform="rotate(89 321.0 132.5)" fill="#6a4a36" opacity="0.45"/>
<ellipse cx="285.4" cy="136.2" rx="2.3" ry="1.3" transform="rotate(170 285.4 136.2)" fill="#9a7050" opacity="0.45"/>
<ellipse cx="263.1" cy="130.4" rx="1.1" ry="0.7" transform="rotate(46 263.1 130.4)" fill="#6a4a36" opacity="0.45"/>
<ellipse cx="290.6" cy="94.1" rx="1.5" ry="0.9" transform="rotate(169 290.6 94.1)" fill="#6a4a36" opacity="0.45"/>
<ellipse cx="246.6" cy="36.2" rx="1.7" ry="1.0" transform="rotate(115 246.6 36.2)" fill="#9a7050" opacity="0.45"/>
<ellipse cx="289.0" cy="129.5" rx="1.6" ry="0.9" transform="rotate(6 289.0 129.5)" fill="#6a4a36" opacity="0.45"/>
<ellipse cx="298.3" cy="90.6" rx="2.2" ry="1.3" transform="rotate(162 298.3 90.6)" fill="#9a7050" opacity="0.45"/>
<ellipse cx="198.3" cy="73.2" rx="1.7" ry="1.0" transform="rotate(110 198.3 73.2)" fill="#9a7050" opacity="0.45"/>
<ellipse cx="310.8" cy="137.3" rx="0.8" ry="0.5" transform="rotate(11 310.8 137.3)" fill="#b08660" opacity="0.45"/>
<ellipse cx="326.9" cy="40.7" rx="1.8" ry="1.1" transform="rotate(99 326.9 40.7)" fill="#6a4a36" opacity="0.45"/>
<ellipse cx="237.9" cy="50.4" rx="1.4" ry="0.8" transform="rotate(44 237.9 50.4)" fill="#b08660" opacity="0.45"/>
<ellipse cx="323.1" cy="52.7" rx="1.5" ry="0.9" transform="rotate(158 323.1 52.7)" fill="#b08660" opacity="0.45"/>
<ellipse cx="330.9" cy="50.9" rx="1.0" ry="0.6" transform="rotate(97 330.9 50.9)" fill="#9a7050" opacity="0.45"/>
<ellipse cx="193.3" cy="95.4" rx="1.4" ry="0.8" transform="rotate(67 193.3 95.4)" fill="#b08660" opacity="0.45"/>
<ellipse cx="257.8" cy="98.3" rx="1.6" ry="0.9" transform="rotate(120 257.8 98.3)" fill="#6a4a36" opacity="0.45"/>
<ellipse cx="187.8" cy="54.3" rx="1.2" ry="0.7" transform="rotate(81 187.8 54.3)" fill="#b08660" opacity="0.45"/>
<ellipse cx="285.0" cy="122.5" rx="1.2" ry="0.7" transform="rotate(43 285.0 122.5)" fill="#9a7050" opacity="0.45"/>
<ellipse cx="257.3" cy="100.2" rx="2.0" ry="1.2" transform="rotate(7 257.3 100.2)" fill="#9a7050" opacity="0.45"/>
<ellipse cx="242.3" cy="31.7" rx="2.2" ry="1.3" transform="rotate(55 242.3 31.7)" fill="#b08660" opacity="0.45"/>
<ellipse cx="202.2" cy="29.7" rx="2.2" ry="1.3" transform="rotate(80 202.2 29.7)" fill="#6a4a36" opacity="0.45"/>
<ellipse cx="272.9" cy="84.0" rx="1.8" ry="1.1" transform="rotate(114 272.9 84.0)" fill="#9a7050" opacity="0.45"/>
<ellipse cx="180.6" cy="60.8" rx="2.0" ry="1.2" transform="rotate(88 180.6 60.8)" fill="#6a4a36" opacity="0.45"/>
<ellipse cx="200.0" cy="85.6" rx="2.3" ry="1.3" transform="rotate(144 200.0 85.6)" fill="#6a4a36" opacity="0.45"/>
<ellipse cx="331.5" cy="40.6" rx="1.5" ry="0.9" transform="rotate(138 331.5 40.6)" fill="#b08660" opacity="0.45"/>
<ellipse cx="321.9" cy="54.5" rx="2.2" ry="1.3" transform="rotate(75 321.9 54.5)" fill="#6a4a36" opacity="0.45"/>
<ellipse cx="298.1" cy="107.6" rx="0.9" ry="0.6" transform="rotate(85 298.1 107.6)" fill="#b08660" opacity="0.45"/>
<ellipse cx="323.9" cy="118.8" rx="2.0" ry="1.2" transform="rotate(129 323.9 118.8)" fill="#6a4a36" opacity="0.45"/>
<ellipse cx="332.9" cy="44.9" rx="1.8" ry="1.1" transform="rotate(12 332.9 44.9)" fill="#9a7050" opacity="0.45"/>
<ellipse cx="208.4" cy="45.1" rx="2.1" ry="1.2" transform="rotate(22 208.4 45.1)" fill="#b08660" opacity="0.45"/>
<ellipse cx="311.9" cy="41.4" rx="1.7" ry="1.0" transform="rotate(48 311.9 41.4)" fill="#9a7050" opacity="0.45"/>
<ellipse cx="254.0" cy="107.2" rx="1.8" ry="1.0" transform="rotate(173 254.0 107.2)" fill="#b08660" opacity="0.45"/>
<ellipse cx="210.6" cy="139.3" rx="1.4" ry="0.8" transform="rotate(122 210.6 139.3)" fill="#6a4a36" opacity="0.45"/>
<ellipse cx="311.9" cy="98.6" rx="2.1" ry="1.3" transform="rotate(55 311.9 98.6)" fill="#b08660" opacity="0.45"/>
<ellipse cx="319.4" cy="82.0" rx="1.5" ry="0.9" transform="rotate(27 319.4 82.0)" fill="#b08660" opacity="0.45"/>
<ellipse cx="316.6" cy="124.4" rx="1.1" ry="0.6" transform="rotate(41 316.6 124.4)" fill="#6a4a36" opacity="0.45"/>
<ellipse cx="273.6" cy="66.3" rx="0.8" ry="0.5" transform="rotate(91 273.6 66.3)" fill="#6a4a36" opacity="0.45"/>
<ellipse cx="277.0" cy="42.2" rx="1.5" ry="0.9" transform="rotate(67 277.0 42.2)" fill="#9a7050" opacity="0.45"/>
<ellipse cx="295.0" cy="98.3" rx="2.0" ry="1.2" transform="rotate(21 295.0 98.3)" fill="#6a4a36" opacity="0.45"/>
<ellipse cx="263.7" cy="44.6" rx="1.5" ry="0.9" transform="rotate(129 263.7 44.6)" fill="#6a4a36" opacity="0.45"/>
<ellipse cx="243.6" cy="95.6" rx="1.3" ry="0.7" transform="rotate(128 243.6 95.6)" fill="#b08660" opacity="0.45"/>
<ellipse cx="281.2" cy="115.5" rx="1.3" ry="0.8" transform="rotate(2 281.2 115.5)" fill="#6a4a36" opacity="0.45"/>
<ellipse cx="325.8" cy="95.5" rx="1.2" ry="0.7" transform="rotate(62 325.8 95.5)" fill="#9a7050" opacity="0.45"/>
<ellipse cx="259.0" cy="43.7" rx="1.8" ry="1.0" transform="rotate(144 259.0 43.7)" fill="#b08660" opacity="0.45"/>
<ellipse cx="201.5" cy="107.2" rx="1.9" ry="1.1" transform="rotate(91 201.5 107.2)" fill="#9a7050" opacity="0.45"/>
<ellipse cx="246.4" cy="44.8" rx="1.2" ry="0.7" transform="rotate(50 246.4 44.8)" fill="#6a4a36" opacity="0.45"/>
<ellipse cx="242.5" cy="38.6" rx="1.1" ry="0.7" transform="rotate(156 242.5 38.6)" fill="#6a4a36" opacity="0.45"/>
<ellipse cx="310.6" cy="107.8" rx="1.5" ry="0.9" transform="rotate(19 310.6 107.8)" fill="#6a4a36" opacity="0.45"/>
<ellipse cx="309.9" cy="72.5" rx="1.2" ry="0.7" transform="rotate(64 309.9 72.5)" fill="#b08660" opacity="0.45"/>
<ellipse cx="288.4" cy="88.8" rx="1.7" ry="1.0" transform="rotate(58 288.4 88.8)" fill="#6a4a36" opacity="0.45"/>
<ellipse cx="192.3" cy="80.5" rx="0.9" ry="0.6" transform="rotate(98 192.3 80.5)" fill="#b08660" opacity="0.45"/>
<ellipse cx="317.1" cy="44.1" rx="1.5" ry="0.9" transform="rotate(103 317.1 44.1)" fill="#b08660" opacity="0.45"/>
<ellipse cx="238.9" cy="127.7" rx="2.2" ry="1.3" transform="rotate(101 238.9 127.7)" fill="#6a4a36" opacity="0.45"/>
<ellipse cx="225.9" cy="136.5" rx="2.1" ry="1.2" transform="rotate(122 225.9 136.5)" fill="#6a4a36" opacity="0.45"/>
<ellipse cx="292.9" cy="59.3" rx="1.8" ry="1.1" transform="rotate(172 292.9 59.3)" fill="#6a4a36" opacity="0.45"/>
<ellipse cx="197.9" cy="117.2" rx="2.1" ry="1.3" transform="rotate(70 197.9 117.2)" fill="#b08660" opacity="0.45"/>
<ellipse cx="276.6" cy="135.5" rx="1.8" ry="1.1" transform="rotate(2 276.6 135.5)" fill="#9a7050" opacity="0.45"/>
<ellipse cx="192.9" cy="88.5" rx="1.8" ry="1.1" transform="rotate(120 192.9 88.5)" fill="#6a4a36" opacity="0.45"/>
<ellipse cx="194.8" cy="136.8" rx="2.1" ry="1.2" transform="rotate(162 194.8 136.8)" fill="#9a7050" opacity="0.45"/>
<ellipse cx="309.3" cy="108.2" rx="1.9" ry="1.1" transform="rotate(49 309.3 108.2)" fill="#9a7050" opacity="0.45"/>
<ellipse cx="301.9" cy="124.1" rx="1.3" ry="0.8" transform="rotate(92 301.9 124.1)" fill="#9a7050" opacity="0.45"/>
<ellipse cx="231.9" cy="87.7" rx="1.2" ry="0.7" transform="rotate(145 231.9 87.7)" fill="#6a4a36" opacity="0.45"/>
<ellipse cx="327.9" cy="119.2" rx="1.4" ry="0.8" transform="rotate(4 327.9 119.2)" fill="#b08660" opacity="0.45"/>
<ellipse cx="250.6" cy="136.6" rx="1.6" ry="0.9" transform="rotate(45 250.6 136.6)" fill="#6a4a36" opacity="0.45"/>
<ellipse cx="202.6" cy="32.1" rx="1.4" ry="0.8" transform="rotate(113 202.6 32.1)" fill="#6a4a36" opacity="0.45"/>
<ellipse cx="305.9" cy="74.2" rx="2.2" ry="1.3" transform="rotate(162 305.9 74.2)" fill="#6a4a36" opacity="0.45"/>
<ellipse cx="320.6" cy="70.9" rx="1.3" ry="0.8" transform="rotate(149 320.6 70.9)" fill="#6a4a36" opacity="0.45"/>
<ellipse cx="271.2" cy="93.7" rx="0.8" ry="0.5" transform="rotate(39 271.2 93.7)" fill="#6a4a36" opacity="0.45"/>
<ellipse cx="219.7" cy="63.4" rx="0.9" ry="0.5" transform="rotate(28 219.7 63.4)" fill="#b08660" opacity="0.45"/>
<ellipse cx="230.1" cy="118.2" rx="1.7" ry="1.0" transform="rotate(45 230.1 118.2)" fill="#9a7050" opacity="0.45"/>
<ellipse cx="238.4" cy="37.6" rx="1.3" ry="0.8" transform="rotate(105 238.4 37.6)" fill="#6a4a36" opacity="0.45"/>
<ellipse cx="280.8" cy="133.7" rx="0.9" ry="0.5" transform="rotate(40 280.8 133.7)" fill="#6a4a36" opacity="0.45"/>
<ellipse cx="291.5" cy="89.9" rx="1.8" ry="1.0" transform="rotate(144 291.5 89.9)" fill="#6a4a36" opacity="0.45"/>
<ellipse cx="257.3" cy="77.8" rx="1.6" ry="1.0" transform="rotate(169 257.3 77.8)" fill="#9a7050" opacity="0.45"/>
<ellipse cx="229.3" cy="34.5" rx="2.0" ry="1.1" transform="rotate(128 229.3 34.5)" fill="#6a4a36" opacity="0.45"/>
<ellipse cx="261.9" cy="78.6" rx="2.0" ry="1.2" transform="rotate(20 261.9 78.6)" fill="#6a4a36" opacity="0.45"/>
<ellipse cx="234.7" cy="40.0" rx="2.0" ry="1.2" transform="rotate(149 234.7 40.0)" fill="#b08660" opacity="0.45"/>
<ellipse cx="294.7" cy="131.7" rx="1.2" ry="0.7" transform="rotate(41 294.7 131.7)" fill="#6a4a36" opacity="0.45"/>
<ellipse cx="289.0" cy="92.7" rx="1.4" ry="0.8" transform="rotate(150 289.0 92.7)" fill="#b08660" opacity="0.45"/>
<ellipse cx="222.0" cy="68.9" rx="1.2" ry="0.7" transform="rotate(94 222.0 68.9)" fill="#6a4a36" opacity="0.45"/>
<ellipse cx="195.9" cy="110.7" rx="0.8" ry="0.5" transform="rotate(150 195.9 110.7)" fill="#b08660" opacity="0.45"/>
<ellipse cx="302.8" cy="35.9" rx="1.4" ry="0.9" transform="rotate(176 302.8 35.9)" fill="#9a7050" opacity="0.45"/>
<ellipse cx="228.6" cy="115.2" rx="1.3" ry="0.7" transform="rotate(155 228.6 115.2)" fill="#9a7050" opacity="0.45"/>
<ellipse cx="296.0" cy="83.8" rx="1.0" ry="0.6" transform="rotate(86 296.0 83.8)" fill="#b08660" opacity="0.45"/>
<ellipse cx="319.5" cy="115.5" rx="1.0" ry="0.6" transform="rotate(102 319.5 115.5)" fill="#9a7050" opacity="0.45"/>
<ellipse cx="316.1" cy="112.1" rx="1.1" ry="0.7" transform="rotate(69 316.1 112.1)" fill="#b08660" opacity="0.45"/>
<ellipse cx="187.4" cy="64.3" rx="1.7" ry="1.0" transform="rotate(168 187.4 64.3)" fill="#9a7050" opacity="0.45"/>
<ellipse cx="196.5" cy="81.3" rx="1.2" ry="0.7" transform="rotate(33 196.5 81.3)" fill="#9a7050" opacity="0.45"/>
<ellipse cx="224.7" cy="111.9" rx="1.1" ry="0.6" transform="rotate(135 224.7 111.9)" fill="#6a4a36" opacity="0.45"/>
<ellipse cx="259.3" cy="106.6" rx="1.8" ry="1.1" transform="rotate(109 259.3 106.6)" fill="#9a7050" opacity="0.45"/>
<ellipse cx="283.6" cy="69.5" rx="1.6" ry="1.0" transform="rotate(9 283.6 69.5)" fill="#b08660" opacity="0.45"/>
<ellipse cx="290.3" cy="120.3" rx="0.8" ry="0.5" transform="rotate(28 290.3 120.3)" fill="#9a7050" opacity="0.45"/>
<ellipse cx="332.2" cy="84.1" rx="1.6" ry="1.0" transform="rotate(91 332.2 84.1)" fill="#b08660" opacity="0.45"/>
<ellipse cx="303.7" cy="127.3" rx="1.6" ry="0.9" transform="rotate(43 303.7 127.3)" fill="#b08660" opacity="0.45"/>
<ellipse cx="301.0" cy="37.0" rx="1.8" ry="1.0" transform="rotate(34 301.0 37.0)" fill="#6a4a36" opacity="0.45"/>
<ellipse cx="264.2" cy="68.8" rx="1.4" ry="0.8" transform="rotate(23 264.2 68.8)" fill="#b08660" opacity="0.45"/>
<ellipse cx="273.7" cy="86.4" rx="2.1" ry="1.2" transform="rotate(165 273.7 86.4)" fill="#b08660" opacity="0.45"/>
<ellipse cx="306.6" cy="44.5" rx="1.6" ry="1.0" transform="rotate(83 306.6 44.5)" fill="#6a4a36" opacity="0.45"/>
<ellipse cx="277.2" cy="109.4" rx="1.0" ry="0.6" transform="rotate(56 277.2 109.4)" fill="#b08660" opacity="0.45"/>
<ellipse cx="195.6" cy="141.1" rx="1.6" ry="0.9" transform="rotate(53 195.6 141.1)" fill="#6a4a36" opacity="0.45"/>
<ellipse cx="253.4" cy="41.4" rx="1.8" ry="1.1" transform="rotate(93 253.4 41.4)" fill="#9a7050" opacity="0.45"/>
<ellipse cx="307.7" cy="114.1" rx="1.3" ry="0.8" transform="rotate(53 307.7 114.1)" fill="#b08660" opacity="0.45"/>
<ellipse cx="223.8" cy="95.2" rx="1.7" ry="1.0" transform="rotate(36 223.8 95.2)" fill="#9a7050" opacity="0.45"/>
<ellipse cx="204.1" cy="125.2" rx="1.2" ry="0.7" transform="rotate(135 204.1 125.2)" fill="#9a7050" opacity="0.45"/>
<ellipse cx="317.4" cy="120.3" rx="2.2" ry="1.3" transform="rotate(104 317.4 120.3)" fill="#6a4a36" opacity="0.45"/>
<ellipse cx="315.9" cy="87.7" rx="1.5" ry="0.9" transform="rotate(86 315.9 87.7)" fill="#9a7050" opacity="0.45"/>
<ellipse cx="181.3" cy="31.9" rx="2.2" ry="1.3" transform="rotate(114 181.3 31.9)" fill="#9a7050" opacity="0.45"/>
<ellipse cx="237.4" cy="63.5" rx="2.1" ry="1.2" transform="rotate(141 237.4 63.5)" fill="#6a4a36" opacity="0.45"/>
<ellipse cx="204.9" cy="63.8" rx="0.9" ry="0.5" transform="rotate(137 204.9 63.8)" fill="#6a4a36" opacity="0.45"/>
<ellipse cx="282.3" cy="28.6" rx="1.0" ry="0.6" transform="rotate(98 282.3 28.6)" fill="#b08660" opacity="0.45"/>
<ellipse cx="259.1" cy="41.8" rx="2.0" ry="1.2" transform="rotate(56 259.1 41.8)" fill="#b08660" opacity="0.45"/>
<ellipse cx="221.3" cy="37.0" rx="1.2" ry="0.7" transform="rotate(33 221.3 37.0)" fill="#6a4a36" opacity="0.45"/>
<ellipse cx="205.9" cy="67.1" rx="1.8" ry="1.0" transform="rotate(150 205.9 67.1)" fill="#6a4a36" opacity="0.45"/>
<ellipse cx="329.5" cy="128.9" rx="1.5" ry="0.9" transform="rotate(27 329.5 128.9)" fill="#b08660" opacity="0.45"/>
<ellipse cx="283.9" cy="34.4" rx="1.5" ry="0.9" transform="rotate(110 283.9 34.4)" fill="#6a4a36" opacity="0.45"/>
<ellipse cx="272.5" cy="42.9" rx="2.3" ry="1.3" transform="rotate(139 272.5 42.9)" fill="#b08660" opacity="0.45"/>
<ellipse cx="204.6" cy="42.4" rx="1.6" ry="0.9" transform="rotate(44 204.6 42.4)" fill="#9a7050" opacity="0.45"/>
<ellipse cx="198.8" cy="34.2" rx="1.5" ry="0.9" transform="rotate(98 198.8 34.2)" fill="#b08660" opacity="0.45"/>
<ellipse cx="238.1" cy="41.5" rx="1.8" ry="1.1" transform="rotate(180 238.1 41.5)" fill="#9a7050" opacity="0.45"/>
<ellipse cx="230.9" cy="31.1" rx="0.9" ry="0.5" transform="rotate(32 230.9 31.1)" fill="#6a4a36" opacity="0.45"/>
<ellipse cx="328.9" cy="71.8" rx="2.0" ry="1.2" transform="rotate(138 328.9 71.8)" fill="#9a7050" opacity="0.45"/>
<ellipse cx="202.7" cy="102.4" rx="0.8" ry="0.5" transform="rotate(80 202.7 102.4)" fill="#9a7050" opacity="0.45"/>
<ellipse cx="296.9" cy="103.8" rx="1.2" ry="0.7" transform="rotate(112 296.9 103.8)" fill="#b08660" opacity="0.45"/>
<ellipse cx="278.3" cy="92.0" rx="2.2" ry="1.3" transform="rotate(93 278.3 92.0)" fill="#6a4a36" opacity="0.45"/>
<ellipse cx="265.2" cy="136.2" rx="1.3" ry="0.7" transform="rotate(91 265.2 136.2)" fill="#6a4a36" opacity="0.45"/>
<ellipse cx="255.9" cy="91.0" rx="2.0" ry="1.2" transform="rotate(17 255.9 91.0)" fill="#9a7050" opacity="0.45"/>
<ellipse cx="219.7" cy="68.6" rx="0.9" ry="0.6" transform="rotate(20 219.7 68.6)" fill="#9a7050" opacity="0.45"/>
<ellipse cx="224.4" cy="99.9" rx="1.7" ry="1.0" transform="rotate(79 224.4 99.9)" fill="#6a4a36" opacity="0.45"/>
<ellipse cx="183.8" cy="41.0" rx="1.0" ry="0.6" transform="rotate(133 183.8 41.0)" fill="#9a7050" opacity="0.45"/>
<ellipse cx="251.0" cy="77.4" rx="0.8" ry="0.5" transform="rotate(163 251.0 77.4)" fill="#9a7050" opacity="0.45"/>
<ellipse cx="290.6" cy="53.7" rx="1.7" ry="1.0" transform="rotate(163 290.6 53.7)" fill="#6a4a36" opacity="0.45"/>
<ellipse cx="261.1" cy="129.4" rx="2.2" ry="1.3" transform="rotate(100 261.1 129.4)" fill="#6a4a36" opacity="0.45"/>
<ellipse cx="206.5" cy="96.3" rx="1.6" ry="0.9" transform="rotate(167 206.5 96.3)" fill="#6a4a36" opacity="0.45"/>
<ellipse cx="269.1" cy="84.9" rx="1.0" ry="0.6" transform="rotate(162 269.1 84.9)" fill="#6a4a36" opacity="0.45"/>
<ellipse cx="298.3" cy="88.0" rx="1.3" ry="0.8" transform="rotate(141 298.3 88.0)" fill="#b08660" opacity="0.45"/>
<ellipse cx="267.0" cy="103.1" rx="1.2" ry="0.7" transform="rotate(70 267.0 103.1)" fill="#b08660" opacity="0.45"/>
<ellipse cx="318.8" cy="53.2" rx="1.4" ry="0.8" transform="rotate(61 318.8 53.2)" fill="#b08660" opacity="0.45"/>
<ellipse cx="277.2" cy="134.6" rx="2.0" ry="1.2" transform="rotate(86 277.2 134.6)" fill="#6a4a36" opacity="0.45"/>
<ellipse cx="240.1" cy="49.2" rx="1.8" ry="1.0" transform="rotate(141 240.1 49.2)" fill="#9a7050" opacity="0.45"/>
<ellipse cx="288.3" cy="112.7" rx="1.0" ry="0.6" transform="rotate(94 288.3 112.7)" fill="#6a4a36" opacity="0.45"/>
<ellipse cx="282.3" cy="118.5" rx="2.0" ry="1.2" transform="rotate(159 282.3 118.5)" fill="#b08660" opacity="0.45"/>
<ellipse cx="331.3" cy="36.4" rx="1.0" ry="0.6" transform="rotate(122 331.3 36.4)" fill="#b08660" opacity="0.45"/>
<ellipse cx="203.1" cy="142.6" rx="2.2" ry="1.3" transform="rotate(111 203.1 142.6)" fill="#9a7050" opacity="0.45"/>
<ellipse cx="207.2" cy="51.9" rx="1.9" ry="1.1" transform="rotate(69 207.2 51.9)" fill="#b08660" opacity="0.45"/>
<ellipse cx="252.4" cy="75.4" rx="1.5" ry="0.9" transform="rotate(52 252.4 75.4)" fill="#6a4a36" opacity="0.45"/>
<ellipse cx="309.1" cy="45.3" rx="1.8" ry="1.0" transform="rotate(106 309.1 45.3)" fill="#9a7050" opacity="0.45"/>
<ellipse cx="230.2" cy="33.3" rx="2.2" ry="1.3" transform="rotate(146 230.2 33.3)" fill="#b08660" opacity="0.45"/>
<ellipse cx="305.9" cy="134.9" rx="1.1" ry="0.7" transform="rotate(77 305.9 134.9)" fill="#9a7050" opacity="0.45"/>
<ellipse cx="282.9" cy="112.7" rx="1.2" ry="0.7" transform="rotate(130 282.9 112.7)" fill="#b08660" opacity="0.45"/>
<ellipse cx="218.3" cy="57.6" rx="1.0" ry="0.6" transform="rotate(119 218.3 57.6)" fill="#6a4a36" opacity="0.45"/>
<ellipse cx="186.6" cy="121.4" rx="1.9" ry="1.1" transform="rotate(132 186.6 121.4)" fill="#9a7050" opacity="0.45"/>
<ellipse cx="222.1" cy="108.4" rx="2.2" ry="1.3" transform="rotate(45 222.1 108.4)" fill="#6a4a36" opacity="0.45"/>
<ellipse cx="244.8" cy="94.1" rx="1.2" ry="0.7" transform="rotate(34 244.8 94.1)" fill="#6a4a36" opacity="0.45"/>
<ellipse cx="330.8" cy="72.7" rx="1.5" ry="0.9" transform="rotate(7 330.8 72.7)" fill="#b08660" opacity="0.45"/>
<ellipse cx="216.7" cy="77.6" rx="1.7" ry="1.0" transform="rotate(120 216.7 77.6)" fill="#9a7050" opacity="0.45"/>
<ellipse cx="256.2" cy="47.0" rx="1.1" ry="0.6" transform="rotate(55 256.2 47.0)" fill="#6a4a36" opacity="0.45"/>
<ellipse cx="231.4" cy="107.0" rx="0.9" ry="0.5" transform="rotate(108 231.4 107.0)" fill="#9a7050" opacity="0.45"/>
<ellipse cx="216.2" cy="121.6" rx="1.5" ry="0.9" transform="rotate(61 216.2 121.6)" fill="#b08660" opacity="0.45"/>
<ellipse cx="235.4" cy="107.5" rx="2.2" ry="1.3" transform="rotate(27 235.4 107.5)" fill="#6a4a36" opacity="0.45"/>
<ellipse cx="199.1" cy="75.5" rx="1.8" ry="1.1" transform="rotate(155 199.1 75.5)" fill="#6a4a36" opacity="0.45"/>
<ellipse cx="313.9" cy="71.6" rx="1.1" ry="0.6" transform="rotate(41 313.9 71.6)" fill="#9a7050" opacity="0.45"/>
<ellipse cx="242.2" cy="132.0" rx="0.8" ry="0.5" transform="rotate(150 242.2 132.0)" fill="#b08660" opacity="0.45"/>
<ellipse cx="242.4" cy="118.7" rx="2.1" ry="1.2" transform="rotate(136 242.4 118.7)" fill="#6a4a36" opacity="0.45"/>
<ellipse cx="311.2" cy="72.4" rx="1.9" ry="1.1" transform="rotate(20 311.2 72.4)" fill="#6a4a36" opacity="0.45"/>
<ellipse cx="200.4" cy="54.5" rx="1.0" ry="0.6" transform="rotate(105 200.4 54.5)" fill="#b08660" opacity="0.45"/>
<ellipse cx="326.9" cy="115.2" rx="1.9" ry="1.1" transform="rotate(34 326.9 115.2)" fill="#9a7050" opacity="0.45"/>
<ellipse cx="281.6" cy="111.4" rx="1.7" ry="1.0" transform="rotate(97 281.6 111.4)" fill="#6a4a36" opacity="0.45"/>
<ellipse cx="295.2" cy="108.7" rx="1.2" ry="0.7" transform="rotate(10 295.2 108.7)" fill="#9a7050" opacity="0.45"/>
<ellipse cx="197.3" cy="137.0" rx="2.2" ry="1.3" transform="rotate(8 197.3 137.0)" fill="#b08660" opacity="0.45"/>
<ellipse cx="325.1" cy="135.1" rx="1.1" ry="0.6" transform="rotate(8 325.1 135.1)" fill="#b08660" opacity="0.45"/>
<ellipse cx="314.1" cy="118.4" rx="2.2" ry="1.3" transform="rotate(152 314.1 118.4)" fill="#b08660" opacity="0.45"/>
<ellipse cx="188.0" cy="90.1" rx="1.9" ry="1.1" transform="rotate(86 188.0 90.1)" fill="#6a4a36" opacity="0.45"/>
<ellipse cx="306.4" cy="92.4" rx="1.2" ry="0.7" transform="rotate(99 306.4 92.4)" fill="#b08660" opacity="0.45"/>
<ellipse cx="317.3" cy="97.8" rx="0.8" ry="0.5" transform="rotate(75 317.3 97.8)" fill="#6a4a36" opacity="0.45"/>
<ellipse cx="204.3" cy="66.7" rx="0.9" ry="0.5" transform="rotate(105 204.3 66.7)" fill="#6a4a36" opacity="0.45"/>
<ellipse cx="261.9" cy="117.9" rx="1.5" ry="0.9" transform="rotate(51 261.9 117.9)" fill="#9a7050" opacity="0.45"/>
<ellipse cx="265.8" cy="90.9" rx="1.2" ry="0.7" transform="rotate(144 265.8 90.9)" fill="#9a7050" opacity="0.45"/>
<ellipse cx="311.9" cy="49.7" rx="2.0" ry="1.2" transform="rotate(115 311.9 49.7)" fill="#9a7050" opacity="0.45"/>
<ellipse cx="264.3" cy="103.8" rx="1.8" ry="1.0" transform="rotate(148 264.3 103.8)" fill="#b08660" opacity="0.45"/>
<ellipse cx="193.8" cy="136.9" rx="2.2" ry="1.3" transform="rotate(47 193.8 136.9)" fill="#6a4a36" opacity="0.45"/>
<ellipse cx="308.7" cy="75.4" rx="0.9" ry="0.6" transform="rotate(62 308.7 75.4)" fill="#6a4a36" opacity="0.45"/>
<ellipse cx="254.8" cy="99.3" rx="0.8" ry="0.5" transform="rotate(135 254.8 99.3)" fill="#6a4a36" opacity="0.45"/>
<ellipse cx="318.0" cy="46.3" rx="1.1" ry="0.6" transform="rotate(74 318.0 46.3)" fill="#b08660" opacity="0.45"/>
<ellipse cx="271.1" cy="44.9" rx="2.1" ry="1.2" transform="rotate(0 271.1 44.9)" fill="#9a7050" opacity="0.45"/>
<ellipse cx="182.2" cy="45.1" rx="0.9" ry="0.5" transform="rotate(71 182.2 45.1)" fill="#b08660" opacity="0.45"/>
<ellipse cx="264.8" cy="140.0" rx="1.5" ry="0.9" transform="rotate(87 264.8 140.0)" fill="#b08660" opacity="0.45"/>
<ellipse cx="206.9" cy="90.9" rx="1.7" ry="1.0" transform="rotate(45 206.9 90.9)" fill="#9a7050" opacity="0.45"/>
<ellipse cx="194.6" cy="55.8" rx="1.3" ry="0.7" transform="rotate(46 194.6 55.8)" fill="#b08660" opacity="0.45"/>
<ellipse cx="190.4" cy="41.2" rx="2.0" ry="1.2" transform="rotate(7 190.4 41.2)" fill="#6a4a36" opacity="0.45"/>
<ellipse cx="198.0" cy="104.5" rx="1.5" ry="0.9" transform="rotate(135 198.0 104.5)" fill="#b08660" opacity="0.45"/>
<ellipse cx="257.6" cy="126.7" rx="2.2" ry="1.3" transform="rotate(59 257.6 126.7)" fill="#b08660" opacity="0.45"/>
<ellipse cx="295.9" cy="40.8" rx="1.6" ry="0.9" transform="rotate(130 295.9 40.8)" fill="#6a4a36" opacity="0.45"/>
<ellipse cx="224.8" cy="129.0" rx="1.3" ry="0.7" transform="rotate(84 224.8 129.0)" fill="#6a4a36" opacity="0.45"/>
<ellipse cx="231.9" cy="131.3" rx="2.2" ry="1.3" transform="rotate(144 231.9 131.3)" fill="#b08660" opacity="0.45"/>
<ellipse cx="213.4" cy="125.4" rx="1.7" ry="1.0" transform="rotate(24 213.4 125.4)" fill="#9a7050" opacity="0.45"/>
<ellipse cx="288.6" cy="52.2" rx="1.3" ry="0.7" transform="rotate(14 288.6 52.2)" fill="#b08660" opacity="0.45"/>
<ellipse cx="321.9" cy="112.2" rx="2.2" ry="1.3" transform="rotate(30 321.9 112.2)" fill="#6a4a36" opacity="0.45"/>
<ellipse cx="244.2" cy="36.9" rx="1.1" ry="0.6" transform="rotate(58 244.2 36.9)" fill="#b08660" opacity="0.45"/>
<ellipse cx="224.1" cy="141.0" rx="1.3" ry="0.7" transform="rotate(171 224.1 141.0)" fill="#9a7050" opacity="0.45"/>
<ellipse cx="293.5" cy="57.5" rx="1.3" ry="0.8" transform="rotate(5 293.5 57.5)" fill="#6a4a36" opacity="0.45"/>
<ellipse cx="236.0" cy="78.0" rx="1.7" ry="1.0" transform="rotate(19 236.0 78.0)" fill="#9a7050" opacity="0.45"/>
<ellipse cx="195.4" cy="98.6" rx="2.1" ry="1.3" transform="rotate(179 195.4 98.6)" fill="#6a4a36" opacity="0.45"/>
<ellipse cx="211.5" cy="58.3" rx="1.5" ry="0.9" transform="rotate(175 211.5 58.3)" fill="#b08660" opacity="0.45"/>
<ellipse cx="309.6" cy="45.7" rx="1.2" ry="0.7" transform="rotate(91 309.6 45.7)" fill="#b08660" opacity="0.45"/>
<ellipse cx="193.5" cy="73.8" rx="1.7" ry="1.0" transform="rotate(166 193.5 73.8)" fill="#9a7050" opacity="0.45"/>
<ellipse cx="333.3" cy="33.5" rx="1.2" ry="0.7" transform="rotate(18 333.3 33.5)" fill="#9a7050" opacity="0.45"/>
<ellipse cx="238.4" cy="48.7" rx="1.8" ry="1.0" transform="rotate(52 238.4 48.7)" fill="#b08660" opacity="0.45"/>
<ellipse cx="332.0" cy="99.5" rx="1.6" ry="0.9" transform="rotate(117 332.0 99.5)" fill="#6a4a36" opacity="0.45"/>
<ellipse cx="293.4" cy="96.2" rx="1.3" ry="0.8" transform="rotate(103 293.4 96.2)" fill="#9a7050" opacity="0.45"/>
<ellipse cx="180.8" cy="93.6" rx="1.0" ry="0.6" transform="rotate(51 180.8 93.6)" fill="#9a7050" opacity="0.45"/>
<ellipse cx="268.1" cy="48.3" rx="1.6" ry="1.0" transform="rotate(19 268.1 48.3)" fill="#9a7050" opacity="0.45"/>
</g>
<text x="301.0" y="133.7" font-size="10.3" fill="#231f20">25 μm</text>
<line x1="299.0" y1="139.4" x2="329.5" y2="139.4" stroke="#231f20" stroke-width="1.3"/>
</g>
<clipPath id="cA3"><rect x="17.5" y="176" width="155.50" height="117.00"/></clipPath>
<g clip-path="url(#cA3)">
<rect x="17.5" y="176" width="155.50" height="117.00" fill="#e0d6d0"/>
<rect x="17.5" y="176" width="155.50" height="117.00" filter="url(#ihctex1)" opacity="0.6"/>
<rect x="17.5" y="176" width="155.50" height="117.00" filter="url(#ihcw1)" opacity="0.22"/>
<g filter="url(#soft)">
<circle cx="57.8" cy="256.2" r="1.8" fill="#dfe2f2" stroke="#a9b0d8" stroke-width="0.7" opacity="0.55"/>
<circle cx="123.9" cy="275.4" r="1.8" fill="#dfe2f2" stroke="#a9b0d8" stroke-width="0.7" opacity="0.55"/>
<circle cx="46.4" cy="203.0" r="1.8" fill="#dfe2f2" stroke="#a9b0d8" stroke-width="0.7" opacity="0.55"/>
<circle cx="40.4" cy="202.3" r="1.8" fill="#dfe2f2" stroke="#a9b0d8" stroke-width="0.7" opacity="0.55"/>
<circle cx="131.6" cy="191.2" r="1.8" fill="#dfe2f2" stroke="#a9b0d8" stroke-width="0.7" opacity="0.55"/>
<circle cx="100.1" cy="201.0" r="1.8" fill="#dfe2f2" stroke="#a9b0d8" stroke-width="0.7" opacity="0.55"/>
<circle cx="63.3" cy="226.5" r="1.8" fill="#dfe2f2" stroke="#a9b0d8" stroke-width="0.7" opacity="0.55"/>
<circle cx="147.8" cy="247.2" r="1.8" fill="#dfe2f2" stroke="#a9b0d8" stroke-width="0.7" opacity="0.55"/>
<circle cx="19.7" cy="208.3" r="1.8" fill="#dfe2f2" stroke="#a9b0d8" stroke-width="0.7" opacity="0.55"/>
<circle cx="40.3" cy="277.9" r="1.8" fill="#dfe2f2" stroke="#a9b0d8" stroke-width="0.7" opacity="0.55"/>
<circle cx="143.4" cy="270.3" r="1.8" fill="#dfe2f2" stroke="#a9b0d8" stroke-width="0.7" opacity="0.55"/>
<circle cx="146.0" cy="263.1" r="1.8" fill="#dfe2f2" stroke="#a9b0d8" stroke-width="0.7" opacity="0.55"/>
<circle cx="165.1" cy="268.9" r="1.8" fill="#dfe2f2" stroke="#a9b0d8" stroke-width="0.7" opacity="0.55"/>
<circle cx="57.4" cy="275.4" r="1.8" fill="#dfe2f2" stroke="#a9b0d8" stroke-width="0.7" opacity="0.55"/>
<circle cx="93.2" cy="264.3" r="1.8" fill="#dfe2f2" stroke="#a9b0d8" stroke-width="0.7" opacity="0.55"/>
<circle cx="105.2" cy="226.3" r="1.8" fill="#dfe2f2" stroke="#a9b0d8" stroke-width="0.7" opacity="0.55"/>
<circle cx="74.1" cy="226.3" r="1.8" fill="#dfe2f2" stroke="#a9b0d8" stroke-width="0.7" opacity="0.55"/>
<circle cx="66.3" cy="189.7" r="1.8" fill="#dfe2f2" stroke="#a9b0d8" stroke-width="0.7" opacity="0.55"/>
<circle cx="145.0" cy="269.4" r="1.8" fill="#dfe2f2" stroke="#a9b0d8" stroke-width="0.7" opacity="0.55"/>
<circle cx="170.8" cy="256.8" r="1.8" fill="#dfe2f2" stroke="#a9b0d8" stroke-width="0.7" opacity="0.55"/>
<circle cx="103.7" cy="263.6" r="1.8" fill="#dfe2f2" stroke="#a9b0d8" stroke-width="0.7" opacity="0.55"/>
<circle cx="38.5" cy="255.2" r="1.8" fill="#dfe2f2" stroke="#a9b0d8" stroke-width="0.7" opacity="0.55"/>
<circle cx="86.4" cy="196.7" r="1.8" fill="#dfe2f2" stroke="#a9b0d8" stroke-width="0.7" opacity="0.55"/>
<circle cx="49.0" cy="237.2" r="1.8" fill="#dfe2f2" stroke="#a9b0d8" stroke-width="0.7" opacity="0.55"/>
<circle cx="56.9" cy="229.8" r="1.8" fill="#dfe2f2" stroke="#a9b0d8" stroke-width="0.7" opacity="0.55"/>
<circle cx="111.7" cy="222.3" r="1.8" fill="#dfe2f2" stroke="#a9b0d8" stroke-width="0.7" opacity="0.55"/>
<circle cx="37.8" cy="233.4" r="1.8" fill="#dfe2f2" stroke="#a9b0d8" stroke-width="0.7" opacity="0.55"/>
<circle cx="54.1" cy="203.6" r="1.8" fill="#dfe2f2" stroke="#a9b0d8" stroke-width="0.7" opacity="0.55"/>
<circle cx="47.7" cy="218.9" r="1.8" fill="#dfe2f2" stroke="#a9b0d8" stroke-width="0.7" opacity="0.55"/>
<circle cx="28.9" cy="252.2" r="1.8" fill="#dfe2f2" stroke="#a9b0d8" stroke-width="0.7" opacity="0.55"/>
<circle cx="165.8" cy="221.6" r="1.8" fill="#dfe2f2" stroke="#a9b0d8" stroke-width="0.7" opacity="0.55"/>
<circle cx="129.3" cy="285.2" r="1.8" fill="#dfe2f2" stroke="#a9b0d8" stroke-width="0.7" opacity="0.55"/>
<circle cx="24.2" cy="192.6" r="1.8" fill="#dfe2f2" stroke="#a9b0d8" stroke-width="0.7" opacity="0.55"/>
<circle cx="142.8" cy="274.1" r="1.8" fill="#dfe2f2" stroke="#a9b0d8" stroke-width="0.7" opacity="0.55"/>
<circle cx="116.9" cy="194.7" r="1.8" fill="#dfe2f2" stroke="#a9b0d8" stroke-width="0.7" opacity="0.55"/>
<circle cx="81.8" cy="277.6" r="1.8" fill="#dfe2f2" stroke="#a9b0d8" stroke-width="0.7" opacity="0.55"/>
<circle cx="155.3" cy="270.0" r="1.8" fill="#dfe2f2" stroke="#a9b0d8" stroke-width="0.7" opacity="0.55"/>
<circle cx="49.1" cy="275.9" r="1.8" fill="#dfe2f2" stroke="#a9b0d8" stroke-width="0.7" opacity="0.55"/>
<circle cx="75.8" cy="259.8" r="1.8" fill="#dfe2f2" stroke="#a9b0d8" stroke-width="0.7" opacity="0.55"/>
<circle cx="38.8" cy="289.6" r="1.8" fill="#dfe2f2" stroke="#a9b0d8" stroke-width="0.7" opacity="0.55"/>
<circle cx="111.3" cy="260.6" r="1.8" fill="#dfe2f2" stroke="#a9b0d8" stroke-width="0.7" opacity="0.55"/>
<circle cx="50.4" cy="248.2" r="1.8" fill="#dfe2f2" stroke="#a9b0d8" stroke-width="0.7" opacity="0.55"/>
<circle cx="107.8" cy="245.2" r="1.8" fill="#dfe2f2" stroke="#a9b0d8" stroke-width="0.7" opacity="0.55"/>
<circle cx="73.4" cy="261.1" r="1.8" fill="#dfe2f2" stroke="#a9b0d8" stroke-width="0.7" opacity="0.55"/>
<circle cx="70.6" cy="210.6" r="1.8" fill="#dfe2f2" stroke="#a9b0d8" stroke-width="0.7" opacity="0.55"/>
<circle cx="43.1" cy="256.0" r="1.8" fill="#dfe2f2" stroke="#a9b0d8" stroke-width="0.7" opacity="0.55"/>
<circle cx="35.0" cy="202.4" r="1.8" fill="#dfe2f2" stroke="#a9b0d8" stroke-width="0.7" opacity="0.55"/>
<circle cx="28.3" cy="251.3" r="1.8" fill="#dfe2f2" stroke="#a9b0d8" stroke-width="0.7" opacity="0.55"/>
<circle cx="104.0" cy="239.6" r="1.8" fill="#dfe2f2" stroke="#a9b0d8" stroke-width="0.7" opacity="0.55"/>
<circle cx="23.5" cy="227.4" r="1.8" fill="#dfe2f2" stroke="#a9b0d8" stroke-width="0.7" opacity="0.55"/>
<circle cx="70.8" cy="186.8" r="1.8" fill="#dfe2f2" stroke="#a9b0d8" stroke-width="0.7" opacity="0.55"/>
<circle cx="18.0" cy="292.8" r="1.8" fill="#dfe2f2" stroke="#a9b0d8" stroke-width="0.7" opacity="0.55"/>
<circle cx="36.4" cy="211.3" r="1.8" fill="#dfe2f2" stroke="#a9b0d8" stroke-width="0.7" opacity="0.55"/>
<circle cx="59.3" cy="245.9" r="1.8" fill="#dfe2f2" stroke="#a9b0d8" stroke-width="0.7" opacity="0.55"/>
<circle cx="29.5" cy="231.0" r="1.8" fill="#dfe2f2" stroke="#a9b0d8" stroke-width="0.7" opacity="0.55"/>
<circle cx="74.5" cy="273.6" r="1.8" fill="#dfe2f2" stroke="#a9b0d8" stroke-width="0.7" opacity="0.55"/>
<circle cx="18.4" cy="215.2" r="1.8" fill="#dfe2f2" stroke="#a9b0d8" stroke-width="0.7" opacity="0.55"/>
<circle cx="94.7" cy="289.5" r="1.8" fill="#dfe2f2" stroke="#a9b0d8" stroke-width="0.7" opacity="0.55"/>
<circle cx="97.8" cy="231.5" r="1.8" fill="#dfe2f2" stroke="#a9b0d8" stroke-width="0.7" opacity="0.55"/>
<circle cx="121.6" cy="210.7" r="1.8" fill="#dfe2f2" stroke="#a9b0d8" stroke-width="0.7" opacity="0.55"/>
<circle cx="22.4" cy="234.7" r="1.8" fill="#dfe2f2" stroke="#a9b0d8" stroke-width="0.7" opacity="0.55"/>
<circle cx="159.1" cy="262.4" r="1.8" fill="#dfe2f2" stroke="#a9b0d8" stroke-width="0.7" opacity="0.55"/>
<circle cx="57.7" cy="256.0" r="1.8" fill="#dfe2f2" stroke="#a9b0d8" stroke-width="0.7" opacity="0.55"/>
<circle cx="149.5" cy="206.3" r="1.8" fill="#dfe2f2" stroke="#a9b0d8" stroke-width="0.7" opacity="0.55"/>
<circle cx="108.9" cy="217.6" r="1.8" fill="#dfe2f2" stroke="#a9b0d8" stroke-width="0.7" opacity="0.55"/>
<circle cx="55.5" cy="209.6" r="1.8" fill="#dfe2f2" stroke="#a9b0d8" stroke-width="0.7" opacity="0.55"/>
<circle cx="49.2" cy="217.0" r="1.8" fill="#dfe2f2" stroke="#a9b0d8" stroke-width="0.7" opacity="0.55"/>
<circle cx="23.4" cy="222.5" r="1.8" fill="#dfe2f2" stroke="#a9b0d8" stroke-width="0.7" opacity="0.55"/>
<circle cx="31.0" cy="264.7" r="1.8" fill="#dfe2f2" stroke="#a9b0d8" stroke-width="0.7" opacity="0.55"/>
<circle cx="110.8" cy="176.5" r="1.8" fill="#dfe2f2" stroke="#a9b0d8" stroke-width="0.7" opacity="0.55"/>
<circle cx="137.8" cy="198.3" r="1.8" fill="#dfe2f2" stroke="#a9b0d8" stroke-width="0.7" opacity="0.55"/>
<circle cx="92.3" cy="240.9" r="1.8" fill="#dfe2f2" stroke="#a9b0d8" stroke-width="0.7" opacity="0.55"/>
<circle cx="69.3" cy="209.9" r="1.8" fill="#dfe2f2" stroke="#a9b0d8" stroke-width="0.7" opacity="0.55"/>
<circle cx="85.1" cy="192.0" r="1.8" fill="#dfe2f2" stroke="#a9b0d8" stroke-width="0.7" opacity="0.55"/>
<circle cx="151.8" cy="189.1" r="1.8" fill="#dfe2f2" stroke="#a9b0d8" stroke-width="0.7" opacity="0.55"/>
<circle cx="145.6" cy="201.5" r="1.8" fill="#dfe2f2" stroke="#a9b0d8" stroke-width="0.7" opacity="0.55"/>
<circle cx="64.7" cy="221.4" r="1.8" fill="#dfe2f2" stroke="#a9b0d8" stroke-width="0.7" opacity="0.55"/>
<circle cx="22.7" cy="191.0" r="1.8" fill="#dfe2f2" stroke="#a9b0d8" stroke-width="0.7" opacity="0.55"/>
<circle cx="73.6" cy="227.7" r="1.8" fill="#dfe2f2" stroke="#a9b0d8" stroke-width="0.7" opacity="0.55"/>
<circle cx="153.8" cy="291.8" r="1.8" fill="#dfe2f2" stroke="#a9b0d8" stroke-width="0.7" opacity="0.55"/>
<circle cx="24.3" cy="238.6" r="1.8" fill="#dfe2f2" stroke="#a9b0d8" stroke-width="0.7" opacity="0.55"/>
<circle cx="37.6" cy="270.0" r="1.8" fill="#dfe2f2" stroke="#a9b0d8" stroke-width="0.7" opacity="0.55"/>
<circle cx="67.7" cy="280.5" r="1.8" fill="#dfe2f2" stroke="#a9b0d8" stroke-width="0.7" opacity="0.55"/>
<circle cx="102.3" cy="190.7" r="1.8" fill="#dfe2f2" stroke="#a9b0d8" stroke-width="0.7" opacity="0.55"/>
<circle cx="18.3" cy="205.0" r="1.8" fill="#dfe2f2" stroke="#a9b0d8" stroke-width="0.7" opacity="0.55"/>
<circle cx="152.5" cy="193.5" r="1.8" fill="#dfe2f2" stroke="#a9b0d8" stroke-width="0.7" opacity="0.55"/>
<circle cx="92.0" cy="219.5" r="1.8" fill="#dfe2f2" stroke="#a9b0d8" stroke-width="0.7" opacity="0.55"/>
<circle cx="71.1" cy="269.8" r="1.8" fill="#dfe2f2" stroke="#a9b0d8" stroke-width="0.7" opacity="0.55"/>
<circle cx="50.7" cy="260.0" r="1.8" fill="#dfe2f2" stroke="#a9b0d8" stroke-width="0.7" opacity="0.55"/>
<circle cx="121.2" cy="285.4" r="1.8" fill="#dfe2f2" stroke="#a9b0d8" stroke-width="0.7" opacity="0.55"/>
<path d="M98.3,283.7Q96.4,284.1 93.3,281.2" stroke="#a88262" stroke-width="1.3" fill="none" opacity="0.5"/>
<path d="M157.1,189.5Q156.8,189.3 153.3,188.7" stroke="#a88262" stroke-width="1.3" fill="none" opacity="0.5"/>
<path d="M64.1,288.5Q63.9,287.4 68.2,291.0" stroke="#a88262" stroke-width="1.3" fill="none" opacity="0.5"/>
<path d="M130.5,188.5Q135.5,187.4 135.4,183.1" stroke="#a88262" stroke-width="1.3" fill="none" opacity="0.5"/>
<path d="M83.5,248.8Q81.6,246.2 81.8,241.0" stroke="#a88262" stroke-width="1.3" fill="none" opacity="0.5"/>
<path d="M34.5,212.1Q28.9,214.3 25.7,213.7" stroke="#a88262" stroke-width="1.3" fill="none" opacity="0.5"/>
<path d="M87.5,176.4Q86.6,180.2 87.3,179.6" stroke="#a88262" stroke-width="1.3" fill="none" opacity="0.5"/>
<path d="M56.0,275.5Q54.9,278.8 48.9,279.5" stroke="#a88262" stroke-width="1.3" fill="none" opacity="0.5"/>
<path d="M92.8,206.6Q95.3,203.4 97.5,203.3" stroke="#a88262" stroke-width="1.3" fill="none" opacity="0.5"/>
<path d="M75.9,231.7Q71.7,232.4 72.2,229.9" stroke="#a88262" stroke-width="1.3" fill="none" opacity="0.5"/>
<ellipse cx="45.3" cy="188.0" rx="1.7" ry="1.0" transform="rotate(15 45.3 188.0)" fill="#b89070" opacity="0.45"/>
<ellipse cx="158.0" cy="242.8" rx="1.9" ry="1.1" transform="rotate(39 158.0 242.8)" fill="#a07a58" opacity="0.45"/>
<ellipse cx="133.4" cy="251.9" rx="1.4" ry="0.8" transform="rotate(4 133.4 251.9)" fill="#8a6a50" opacity="0.45"/>
<ellipse cx="151.6" cy="192.8" rx="2.0" ry="1.2" transform="rotate(117 151.6 192.8)" fill="#a07a58" opacity="0.45"/>
<ellipse cx="131.3" cy="226.1" rx="1.9" ry="1.1" transform="rotate(88 131.3 226.1)" fill="#a07a58" opacity="0.45"/>
<ellipse cx="112.1" cy="204.5" rx="1.6" ry="0.9" transform="rotate(103 112.1 204.5)" fill="#a07a58" opacity="0.45"/>
<ellipse cx="156.2" cy="282.1" rx="1.8" ry="1.0" transform="rotate(9 156.2 282.1)" fill="#8a6a50" opacity="0.45"/>
<ellipse cx="126.4" cy="226.0" rx="2.2" ry="1.3" transform="rotate(2 126.4 226.0)" fill="#8a6a50" opacity="0.45"/>
<ellipse cx="74.9" cy="193.4" rx="1.5" ry="0.9" transform="rotate(150 74.9 193.4)" fill="#b89070" opacity="0.45"/>
<ellipse cx="123.5" cy="260.3" rx="1.8" ry="1.1" transform="rotate(17 123.5 260.3)" fill="#8a6a50" opacity="0.45"/>
<ellipse cx="128.3" cy="190.7" rx="1.0" ry="0.6" transform="rotate(10 128.3 190.7)" fill="#a07a58" opacity="0.45"/>
<ellipse cx="117.3" cy="247.4" rx="1.5" ry="0.9" transform="rotate(158 117.3 247.4)" fill="#b89070" opacity="0.45"/>
<ellipse cx="76.8" cy="271.3" rx="1.5" ry="0.9" transform="rotate(92 76.8 271.3)" fill="#8a6a50" opacity="0.45"/>
<ellipse cx="28.0" cy="276.5" rx="1.6" ry="0.9" transform="rotate(61 28.0 276.5)" fill="#b89070" opacity="0.45"/>
<ellipse cx="122.0" cy="282.8" rx="1.8" ry="1.1" transform="rotate(104 122.0 282.8)" fill="#b89070" opacity="0.45"/>
<ellipse cx="136.6" cy="285.0" rx="1.2" ry="0.7" transform="rotate(178 136.6 285.0)" fill="#a07a58" opacity="0.45"/>
<ellipse cx="87.1" cy="224.0" rx="1.6" ry="1.0" transform="rotate(11 87.1 224.0)" fill="#8a6a50" opacity="0.45"/>
<ellipse cx="56.4" cy="176.4" rx="1.6" ry="0.9" transform="rotate(151 56.4 176.4)" fill="#b89070" opacity="0.45"/>
<ellipse cx="100.1" cy="226.5" rx="1.6" ry="1.0" transform="rotate(37 100.1 226.5)" fill="#a07a58" opacity="0.45"/>
<ellipse cx="169.0" cy="186.4" rx="0.9" ry="0.6" transform="rotate(172 169.0 186.4)" fill="#a07a58" opacity="0.45"/>
<ellipse cx="103.7" cy="249.5" rx="1.2" ry="0.7" transform="rotate(29 103.7 249.5)" fill="#a07a58" opacity="0.45"/>
<ellipse cx="46.3" cy="182.5" rx="1.4" ry="0.8" transform="rotate(119 46.3 182.5)" fill="#a07a58" opacity="0.45"/>
<ellipse cx="127.7" cy="258.0" rx="2.0" ry="1.2" transform="rotate(28 127.7 258.0)" fill="#8a6a50" opacity="0.45"/>
<ellipse cx="25.9" cy="248.6" rx="1.6" ry="0.9" transform="rotate(140 25.9 248.6)" fill="#8a6a50" opacity="0.45"/>
<ellipse cx="134.1" cy="186.7" rx="2.0" ry="1.1" transform="rotate(76 134.1 186.7)" fill="#b89070" opacity="0.45"/>
<ellipse cx="55.6" cy="208.9" rx="1.7" ry="1.0" transform="rotate(75 55.6 208.9)" fill="#8a6a50" opacity="0.45"/>
<ellipse cx="61.5" cy="263.0" rx="1.1" ry="0.6" transform="rotate(15 61.5 263.0)" fill="#8a6a50" opacity="0.45"/>
<ellipse cx="24.8" cy="190.0" rx="1.9" ry="1.1" transform="rotate(145 24.8 190.0)" fill="#a07a58" opacity="0.45"/>
<ellipse cx="51.7" cy="211.7" rx="0.9" ry="0.5" transform="rotate(108 51.7 211.7)" fill="#b89070" opacity="0.45"/>
<ellipse cx="24.6" cy="280.7" rx="1.6" ry="0.9" transform="rotate(128 24.6 280.7)" fill="#a07a58" opacity="0.45"/>
<ellipse cx="53.8" cy="214.8" rx="1.3" ry="0.8" transform="rotate(128 53.8 214.8)" fill="#a07a58" opacity="0.45"/>
<ellipse cx="93.7" cy="257.5" rx="1.9" ry="1.1" transform="rotate(81 93.7 257.5)" fill="#b89070" opacity="0.45"/>
<ellipse cx="83.0" cy="192.3" rx="0.8" ry="0.5" transform="rotate(25 83.0 192.3)" fill="#8a6a50" opacity="0.45"/>
<ellipse cx="71.6" cy="226.1" rx="1.4" ry="0.8" transform="rotate(65 71.6 226.1)" fill="#b89070" opacity="0.45"/>
<ellipse cx="134.4" cy="263.4" rx="0.9" ry="0.5" transform="rotate(29 134.4 263.4)" fill="#8a6a50" opacity="0.45"/>
<ellipse cx="43.8" cy="226.0" rx="0.9" ry="0.5" transform="rotate(78 43.8 226.0)" fill="#8a6a50" opacity="0.45"/>
<ellipse cx="36.7" cy="224.0" rx="1.1" ry="0.6" transform="rotate(112 36.7 224.0)" fill="#a07a58" opacity="0.45"/>
<ellipse cx="76.0" cy="178.4" rx="2.0" ry="1.2" transform="rotate(164 76.0 178.4)" fill="#b89070" opacity="0.45"/>
<ellipse cx="79.7" cy="185.4" rx="1.1" ry="0.7" transform="rotate(150 79.7 185.4)" fill="#a07a58" opacity="0.45"/>
<ellipse cx="109.9" cy="241.3" rx="2.0" ry="1.2" transform="rotate(19 109.9 241.3)" fill="#b89070" opacity="0.45"/>
</g>
<text x="139.0" y="281.7" font-size="10.3" fill="#231f20">25 μm</text>
<line x1="137.0" y1="287.4" x2="167.5" y2="287.4" stroke="#231f20" stroke-width="1.3"/>
</g>
<rect x="17.5" y="176" width="155.5" height="117" fill="url(#hccg)"/>
<g clip-path="url(#cA3)" filter="url(#soft)">
<ellipse cx="141.8" cy="214.1" rx="4.5" ry="1.2" transform="rotate(21 141.8 214.1)" fill="#f4f2f2" opacity="0.4"/>
<ellipse cx="104.3" cy="247.5" rx="3.9" ry="1.5" transform="rotate(90 104.3 247.5)" fill="#f4f2f2" opacity="0.4"/>
<ellipse cx="21.9" cy="288.0" rx="4.4" ry="1.5" transform="rotate(91 21.9 288.0)" fill="#f4f2f2" opacity="0.4"/>
<ellipse cx="45.9" cy="213.6" rx="8.7" ry="1.0" transform="rotate(-29 45.9 213.6)" fill="#f4f2f2" opacity="0.6"/>
<ellipse cx="47.3" cy="185.5" rx="7.4" ry="1.4" transform="rotate(-31 47.3 185.5)" fill="#f4f2f2" opacity="0.6"/>
<ellipse cx="29.4" cy="274.2" rx="4.2" ry="1.5" transform="rotate(134 29.4 274.2)" fill="#9c8272" opacity="0.3"/>
<ellipse cx="32.3" cy="230.0" rx="8.7" ry="0.9" transform="rotate(-29 32.3 230.0)" fill="#f4f2f2" opacity="0.6"/>
<ellipse cx="86.7" cy="266.9" rx="2.4" ry="0.8" transform="rotate(169 86.7 266.9)" fill="#9c8272" opacity="0.3"/>
<ellipse cx="148.6" cy="290.0" rx="4.8" ry="1.0" transform="rotate(96 148.6 290.0)" fill="#9c8272" opacity="0.3"/>
<ellipse cx="90.9" cy="262.4" rx="3.2" ry="0.8" transform="rotate(171 90.9 262.4)" fill="#9c8272" opacity="0.3"/>
<ellipse cx="94.6" cy="180.6" rx="9.9" ry="1.6" transform="rotate(-36 94.6 180.6)" fill="#f4f2f2" opacity="0.6"/>
<ellipse cx="158.2" cy="256.5" rx="3.4" ry="0.9" transform="rotate(125 158.2 256.5)" fill="#f4f2f2" opacity="0.4"/>
<ellipse cx="63.9" cy="186.7" rx="9.5" ry="1.4" transform="rotate(-23 63.9 186.7)" fill="#9c8272" opacity="0.45"/>
<ellipse cx="107.0" cy="183.3" rx="8.6" ry="0.8" transform="rotate(-26 107.0 183.3)" fill="#f4f2f2" opacity="0.6"/>
<ellipse cx="18.8" cy="186.3" rx="4.7" ry="1.2" transform="rotate(-32 18.8 186.3)" fill="#9c8272" opacity="0.45"/>
<ellipse cx="154.9" cy="191.9" rx="4.3" ry="0.9" transform="rotate(15 154.9 191.9)" fill="#f4f2f2" opacity="0.4"/>
<ellipse cx="21.4" cy="288.1" rx="3.5" ry="1.6" transform="rotate(68 21.4 288.1)" fill="#f4f2f2" opacity="0.4"/>
<ellipse cx="128.2" cy="246.3" rx="2.8" ry="0.9" transform="rotate(151 128.2 246.3)" fill="#f4f2f2" opacity="0.4"/>
<ellipse cx="114.2" cy="210.5" rx="3.4" ry="1.3" transform="rotate(34 114.2 210.5)" fill="#f4f2f2" opacity="0.4"/>
<ellipse cx="28.5" cy="178.2" rx="4.5" ry="1.2" transform="rotate(-24 28.5 178.2)" fill="#f4f2f2" opacity="0.6"/>
<ellipse cx="123.0" cy="267.1" rx="4.9" ry="1.2" transform="rotate(69 123.0 267.1)" fill="#f4f2f2" opacity="0.4"/>
<ellipse cx="93.4" cy="257.3" rx="2.6" ry="1.1" transform="rotate(149 93.4 257.3)" fill="#9c8272" opacity="0.3"/>
<ellipse cx="56.5" cy="277.1" rx="4.6" ry="1.5" transform="rotate(58 56.5 277.1)" fill="#9c8272" opacity="0.3"/>
<ellipse cx="138.1" cy="289.5" rx="5.0" ry="1.4" transform="rotate(86 138.1 289.5)" fill="#9c8272" opacity="0.3"/>
<ellipse cx="139.0" cy="237.4" rx="3.2" ry="1.1" transform="rotate(156 139.0 237.4)" fill="#9c8272" opacity="0.3"/>
<ellipse cx="133.6" cy="241.7" rx="2.9" ry="1.3" transform="rotate(14 133.6 241.7)" fill="#9c8272" opacity="0.3"/>
<ellipse cx="40.1" cy="218.1" rx="4.3" ry="1.3" transform="rotate(-23 40.1 218.1)" fill="#9c8272" opacity="0.45"/>
<ellipse cx="104.7" cy="255.2" rx="2.1" ry="1.3" transform="rotate(130 104.7 255.2)" fill="#f4f2f2" opacity="0.4"/>
<ellipse cx="116.9" cy="272.3" rx="2.5" ry="0.8" transform="rotate(174 116.9 272.3)" fill="#f4f2f2" opacity="0.4"/>
<ellipse cx="97.7" cy="249.0" rx="2.3" ry="0.9" transform="rotate(126 97.7 249.0)" fill="#9c8272" opacity="0.3"/>
<ellipse cx="88.1" cy="248.6" rx="2.1" ry="0.9" transform="rotate(135 88.1 248.6)" fill="#9c8272" opacity="0.3"/>
<ellipse cx="80.4" cy="290.8" rx="2.2" ry="0.8" transform="rotate(1 80.4 290.8)" fill="#9c8272" opacity="0.3"/>
<ellipse cx="138.9" cy="180.5" rx="4.4" ry="1.5" transform="rotate(147 138.9 180.5)" fill="#9c8272" opacity="0.3"/>
<ellipse cx="116.0" cy="272.5" rx="4.0" ry="1.2" transform="rotate(13 116.0 272.5)" fill="#9c8272" opacity="0.3"/>
<ellipse cx="171.5" cy="221.4" rx="2.5" ry="1.2" transform="rotate(87 171.5 221.4)" fill="#9c8272" opacity="0.3"/>
<ellipse cx="137.1" cy="213.7" rx="2.6" ry="1.6" transform="rotate(104 137.1 213.7)" fill="#f4f2f2" opacity="0.4"/>
<ellipse cx="77.6" cy="253.1" rx="2.6" ry="1.0" transform="rotate(125 77.6 253.1)" fill="#9c8272" opacity="0.3"/>
<ellipse cx="113.0" cy="292.3" rx="4.0" ry="1.3" transform="rotate(61 113.0 292.3)" fill="#f4f2f2" opacity="0.4"/>
<ellipse cx="47.3" cy="234.6" rx="5.3" ry="1.0" transform="rotate(-32 47.3 234.6)" fill="#9c8272" opacity="0.45"/>
<ellipse cx="42.1" cy="254.4" rx="3.6" ry="1.0" transform="rotate(80 42.1 254.4)" fill="#9c8272" opacity="0.3"/>
<ellipse cx="54.7" cy="286.3" rx="4.0" ry="0.9" transform="rotate(50 54.7 286.3)" fill="#f4f2f2" opacity="0.4"/>
<ellipse cx="18.9" cy="210.6" rx="7.1" ry="1.4" transform="rotate(-28 18.9 210.6)" fill="#f4f2f2" opacity="0.6"/>
<ellipse cx="153.8" cy="269.8" rx="4.4" ry="1.2" transform="rotate(98 153.8 269.8)" fill="#9c8272" opacity="0.3"/>
<ellipse cx="159.8" cy="280.6" rx="4.6" ry="1.4" transform="rotate(77 159.8 280.6)" fill="#f4f2f2" opacity="0.4"/>
<ellipse cx="21.3" cy="245.6" rx="6.6" ry="1.3" transform="rotate(-24 21.3 245.6)" fill="#9c8272" opacity="0.45"/>
<ellipse cx="20.7" cy="184.9" rx="9.8" ry="1.3" transform="rotate(-27 20.7 184.9)" fill="#f4f2f2" opacity="0.6"/>
<ellipse cx="151.2" cy="217.0" rx="3.3" ry="0.9" transform="rotate(163 151.2 217.0)" fill="#f4f2f2" opacity="0.4"/>
<ellipse cx="94.1" cy="210.4" rx="2.3" ry="1.0" transform="rotate(163 94.1 210.4)" fill="#f4f2f2" opacity="0.4"/>
<ellipse cx="140.2" cy="196.2" rx="2.1" ry="1.2" transform="rotate(106 140.2 196.2)" fill="#f4f2f2" opacity="0.4"/>
<ellipse cx="84.6" cy="199.4" rx="4.2" ry="1.2" transform="rotate(-23 84.6 199.4)" fill="#9c8272" opacity="0.45"/>
<ellipse cx="112.5" cy="225.7" rx="2.1" ry="1.2" transform="rotate(131 112.5 225.7)" fill="#f4f2f2" opacity="0.4"/>
<ellipse cx="60.7" cy="238.9" rx="3.5" ry="1.3" transform="rotate(93 60.7 238.9)" fill="#9c8272" opacity="0.3"/>
<ellipse cx="153.3" cy="179.7" rx="3.7" ry="0.9" transform="rotate(129 153.3 179.7)" fill="#9c8272" opacity="0.3"/>
<ellipse cx="146.4" cy="268.9" rx="4.8" ry="1.2" transform="rotate(9 146.4 268.9)" fill="#f4f2f2" opacity="0.4"/>
<ellipse cx="30.9" cy="198.1" rx="8.2" ry="1.0" transform="rotate(-30 30.9 198.1)" fill="#9c8272" opacity="0.45"/>
<ellipse cx="102.2" cy="228.5" rx="3.2" ry="1.1" transform="rotate(83 102.2 228.5)" fill="#f4f2f2" opacity="0.4"/>
<ellipse cx="36.5" cy="234.1" rx="8.8" ry="1.4" transform="rotate(-23 36.5 234.1)" fill="#f4f2f2" opacity="0.6"/>
<ellipse cx="68.8" cy="231.8" rx="2.7" ry="0.8" transform="rotate(144 68.8 231.8)" fill="#9c8272" opacity="0.3"/>
<ellipse cx="168.0" cy="241.2" rx="3.8" ry="1.1" transform="rotate(153 168.0 241.2)" fill="#9c8272" opacity="0.3"/>
<ellipse cx="31.7" cy="200.1" rx="9.9" ry="1.2" transform="rotate(-34 31.7 200.1)" fill="#9c8272" opacity="0.45"/>
<ellipse cx="138.9" cy="211.7" rx="4.3" ry="1.1" transform="rotate(21 138.9 211.7)" fill="#f4f2f2" opacity="0.4"/>
<ellipse cx="110.0" cy="234.1" rx="3.5" ry="0.9" transform="rotate(74 110.0 234.1)" fill="#9c8272" opacity="0.3"/>
<ellipse cx="144.4" cy="181.8" rx="3.1" ry="1.0" transform="rotate(145 144.4 181.8)" fill="#f4f2f2" opacity="0.4"/>
<ellipse cx="90.3" cy="186.7" rx="9.6" ry="0.9" transform="rotate(-24 90.3 186.7)" fill="#f4f2f2" opacity="0.6"/>
<ellipse cx="166.1" cy="230.8" rx="3.1" ry="0.9" transform="rotate(173 166.1 230.8)" fill="#f4f2f2" opacity="0.4"/>
<ellipse cx="136.0" cy="285.5" rx="4.3" ry="0.9" transform="rotate(166 136.0 285.5)" fill="#9c8272" opacity="0.3"/>
<ellipse cx="125.6" cy="288.6" rx="2.0" ry="1.2" transform="rotate(52 125.6 288.6)" fill="#9c8272" opacity="0.3"/>
<ellipse cx="81.7" cy="260.7" rx="2.0" ry="1.6" transform="rotate(118 81.7 260.7)" fill="#f4f2f2" opacity="0.4"/>
<ellipse cx="92.7" cy="255.7" rx="4.0" ry="0.8" transform="rotate(143 92.7 255.7)" fill="#9c8272" opacity="0.3"/>
<ellipse cx="126.9" cy="227.0" rx="4.4" ry="1.5" transform="rotate(23 126.9 227.0)" fill="#f4f2f2" opacity="0.4"/>
<ellipse cx="143.8" cy="273.6" rx="2.7" ry="1.5" transform="rotate(107 143.8 273.6)" fill="#9c8272" opacity="0.3"/>
<ellipse cx="102.0" cy="255.7" rx="4.0" ry="1.2" transform="rotate(5 102.0 255.7)" fill="#f4f2f2" opacity="0.4"/>
<ellipse cx="21.8" cy="212.0" rx="5.7" ry="1.3" transform="rotate(-36 21.8 212.0)" fill="#f4f2f2" opacity="0.6"/>
<ellipse cx="99.5" cy="266.6" rx="4.1" ry="1.2" transform="rotate(109 99.5 266.6)" fill="#9c8272" opacity="0.3"/>
<ellipse cx="137.3" cy="226.5" rx="3.2" ry="1.0" transform="rotate(4 137.3 226.5)" fill="#f4f2f2" opacity="0.4"/>
<ellipse cx="114.2" cy="221.9" rx="2.3" ry="1.5" transform="rotate(28 114.2 221.9)" fill="#f4f2f2" opacity="0.4"/>
<ellipse cx="142.0" cy="217.9" rx="3.7" ry="0.9" transform="rotate(135 142.0 217.9)" fill="#9c8272" opacity="0.3"/>
<ellipse cx="166.3" cy="229.0" rx="2.2" ry="0.8" transform="rotate(11 166.3 229.0)" fill="#f4f2f2" opacity="0.4"/>
<ellipse cx="138.3" cy="268.9" rx="2.9" ry="1.0" transform="rotate(164 138.3 268.9)" fill="#f4f2f2" opacity="0.4"/>
<ellipse cx="157.5" cy="272.4" rx="3.4" ry="1.1" transform="rotate(73 157.5 272.4)" fill="#f4f2f2" opacity="0.4"/>
<ellipse cx="126.9" cy="255.4" rx="2.4" ry="1.2" transform="rotate(56 126.9 255.4)" fill="#9c8272" opacity="0.3"/>
<ellipse cx="140.5" cy="292.1" rx="2.3" ry="1.0" transform="rotate(137 140.5 292.1)" fill="#9c8272" opacity="0.3"/>
<ellipse cx="84.5" cy="184.7" rx="6.6" ry="1.0" transform="rotate(-24 84.5 184.7)" fill="#f4f2f2" opacity="0.6"/>
<ellipse cx="22.0" cy="256.8" rx="4.5" ry="1.5" transform="rotate(-35 22.0 256.8)" fill="#f4f2f2" opacity="0.6"/>
<ellipse cx="157.5" cy="234.2" rx="4.1" ry="1.1" transform="rotate(62 157.5 234.2)" fill="#f4f2f2" opacity="0.4"/>
<ellipse cx="138.9" cy="254.0" rx="3.7" ry="1.5" transform="rotate(149 138.9 254.0)" fill="#9c8272" opacity="0.3"/>
<ellipse cx="54.4" cy="251.0" rx="2.5" ry="1.1" transform="rotate(40 54.4 251.0)" fill="#9c8272" opacity="0.3"/>
<ellipse cx="164.7" cy="180.0" rx="4.8" ry="1.3" transform="rotate(73 164.7 180.0)" fill="#9c8272" opacity="0.3"/>
<ellipse cx="64.6" cy="181.0" rx="8.4" ry="1.2" transform="rotate(-34 64.6 181.0)" fill="#f4f2f2" opacity="0.6"/>
<ellipse cx="62.0" cy="177.1" rx="6.8" ry="1.2" transform="rotate(-23 62.0 177.1)" fill="#f4f2f2" opacity="0.6"/>
<ellipse cx="168.5" cy="222.9" rx="3.6" ry="1.5" transform="rotate(4 168.5 222.9)" fill="#9c8272" opacity="0.3"/>
<ellipse cx="124.4" cy="243.6" rx="2.0" ry="0.8" transform="rotate(157 124.4 243.6)" fill="#f4f2f2" opacity="0.4"/>
<ellipse cx="34.2" cy="266.8" rx="3.0" ry="1.2" transform="rotate(49 34.2 266.8)" fill="#f4f2f2" opacity="0.4"/>
<ellipse cx="140.2" cy="214.9" rx="3.7" ry="1.5" transform="rotate(64 140.2 214.9)" fill="#f4f2f2" opacity="0.4"/>
<ellipse cx="27.2" cy="225.0" rx="8.9" ry="1.4" transform="rotate(-35 27.2 225.0)" fill="#f4f2f2" opacity="0.6"/>
<ellipse cx="103.2" cy="273.1" rx="3.5" ry="0.9" transform="rotate(130 103.2 273.1)" fill="#9c8272" opacity="0.3"/>
<ellipse cx="134.8" cy="200.8" rx="2.5" ry="1.1" transform="rotate(171 134.8 200.8)" fill="#9c8272" opacity="0.3"/>
<ellipse cx="119.5" cy="235.4" rx="2.6" ry="1.1" transform="rotate(139 119.5 235.4)" fill="#9c8272" opacity="0.3"/>
<ellipse cx="117.3" cy="285.1" rx="4.3" ry="1.2" transform="rotate(88 117.3 285.1)" fill="#9c8272" opacity="0.3"/>
<ellipse cx="159.5" cy="231.1" rx="2.9" ry="0.8" transform="rotate(86 159.5 231.1)" fill="#f4f2f2" opacity="0.4"/>
<ellipse cx="32.8" cy="242.6" rx="9.7" ry="1.0" transform="rotate(-36 32.8 242.6)" fill="#f4f2f2" opacity="0.6"/>
<ellipse cx="32.0" cy="220.8" rx="7.7" ry="0.9" transform="rotate(-36 32.0 220.8)" fill="#f4f2f2" opacity="0.6"/>
<ellipse cx="72.4" cy="189.3" rx="9.6" ry="1.4" transform="rotate(-33 72.4 189.3)" fill="#f4f2f2" opacity="0.6"/>
<ellipse cx="119.7" cy="254.7" rx="3.3" ry="0.9" transform="rotate(117 119.7 254.7)" fill="#f4f2f2" opacity="0.4"/>
<ellipse cx="24.5" cy="188.4" rx="6.8" ry="1.2" transform="rotate(-37 24.5 188.4)" fill="#f4f2f2" opacity="0.6"/>
<ellipse cx="106.5" cy="204.1" rx="3.5" ry="1.2" transform="rotate(57 106.5 204.1)" fill="#9c8272" opacity="0.3"/>
<ellipse cx="22.7" cy="240.0" rx="9.7" ry="1.2" transform="rotate(-29 22.7 240.0)" fill="#f4f2f2" opacity="0.6"/>
<ellipse cx="50.9" cy="185.4" rx="6.1" ry="1.5" transform="rotate(-35 50.9 185.4)" fill="#f4f2f2" opacity="0.6"/>
<ellipse cx="63.9" cy="225.6" rx="6.2" ry="1.3" transform="rotate(-35 63.9 225.6)" fill="#f4f2f2" opacity="0.6"/>
<ellipse cx="147.2" cy="242.4" rx="4.3" ry="1.4" transform="rotate(6 147.2 242.4)" fill="#f4f2f2" opacity="0.4"/>
<ellipse cx="85.4" cy="198.4" rx="4.4" ry="1.3" transform="rotate(-33 85.4 198.4)" fill="#9c8272" opacity="0.45"/>
<ellipse cx="24.4" cy="265.2" rx="5.1" ry="0.8" transform="rotate(-24 24.4 265.2)" fill="#f4f2f2" opacity="0.6"/>
<ellipse cx="152.6" cy="194.9" rx="2.9" ry="1.3" transform="rotate(117 152.6 194.9)" fill="#f4f2f2" opacity="0.4"/>
<ellipse cx="44.0" cy="206.6" rx="9.5" ry="1.3" transform="rotate(-30 44.0 206.6)" fill="#f4f2f2" opacity="0.6"/>
<ellipse cx="142.9" cy="255.3" rx="3.1" ry="0.9" transform="rotate(131 142.9 255.3)" fill="#9c8272" opacity="0.3"/>
<ellipse cx="49.5" cy="183.3" rx="5.0" ry="1.1" transform="rotate(-30 49.5 183.3)" fill="#9c8272" opacity="0.45"/>
<ellipse cx="61.0" cy="191.5" rx="7.0" ry="1.3" transform="rotate(-30 61.0 191.5)" fill="#f4f2f2" opacity="0.6"/>
<ellipse cx="153.8" cy="238.7" rx="2.5" ry="1.0" transform="rotate(68 153.8 238.7)" fill="#9c8272" opacity="0.3"/>
<ellipse cx="127.0" cy="190.7" rx="2.7" ry="0.9" transform="rotate(161 127.0 190.7)" fill="#f4f2f2" opacity="0.4"/>
<ellipse cx="106.8" cy="213.1" rx="2.1" ry="1.0" transform="rotate(140 106.8 213.1)" fill="#9c8272" opacity="0.3"/>
<ellipse cx="79.2" cy="245.5" rx="3.7" ry="0.9" transform="rotate(94 79.2 245.5)" fill="#9c8272" opacity="0.3"/>
<ellipse cx="43.0" cy="196.9" rx="4.1" ry="1.1" transform="rotate(-25 43.0 196.9)" fill="#9c8272" opacity="0.45"/>
<ellipse cx="137.1" cy="230.6" rx="3.2" ry="1.1" transform="rotate(30 137.1 230.6)" fill="#9c8272" opacity="0.3"/>
<ellipse cx="109.9" cy="193.2" rx="9.0" ry="1.6" transform="rotate(-38 109.9 193.2)" fill="#9c8272" opacity="0.45"/>
<ellipse cx="69.8" cy="243.8" rx="3.9" ry="1.4" transform="rotate(169 69.8 243.8)" fill="#9c8272" opacity="0.3"/>
<ellipse cx="156.1" cy="266.1" rx="2.7" ry="1.5" transform="rotate(115 156.1 266.1)" fill="#9c8272" opacity="0.3"/>
<ellipse cx="26.1" cy="270.3" rx="2.6" ry="1.4" transform="rotate(18 26.1 270.3)" fill="#f4f2f2" opacity="0.4"/>
<ellipse cx="84.1" cy="180.4" rx="4.3" ry="0.9" transform="rotate(-34 84.1 180.4)" fill="#f4f2f2" opacity="0.6"/>
<ellipse cx="82.3" cy="185.3" rx="8.0" ry="1.4" transform="rotate(-23 82.3 185.3)" fill="#f4f2f2" opacity="0.6"/>
<ellipse cx="36.5" cy="288.5" rx="4.8" ry="1.2" transform="rotate(69 36.5 288.5)" fill="#9c8272" opacity="0.3"/>
<ellipse cx="111.7" cy="292.4" rx="3.0" ry="1.3" transform="rotate(4 111.7 292.4)" fill="#9c8272" opacity="0.3"/>
<ellipse cx="134.5" cy="184.3" rx="2.3" ry="1.4" transform="rotate(124 134.5 184.3)" fill="#9c8272" opacity="0.3"/>
<ellipse cx="168.8" cy="208.9" rx="2.3" ry="1.6" transform="rotate(127 168.8 208.9)" fill="#9c8272" opacity="0.3"/>
<ellipse cx="162.6" cy="177.7" rx="5.0" ry="1.4" transform="rotate(168 162.6 177.7)" fill="#f4f2f2" opacity="0.4"/>
<ellipse cx="136.7" cy="225.8" rx="4.7" ry="1.1" transform="rotate(81 136.7 225.8)" fill="#9c8272" opacity="0.3"/>
<ellipse cx="61.5" cy="229.1" rx="5.4" ry="1.0" transform="rotate(-36 61.5 229.1)" fill="#9c8272" opacity="0.45"/>
<ellipse cx="36.6" cy="193.3" rx="8.6" ry="1.3" transform="rotate(-32 36.6 193.3)" fill="#f4f2f2" opacity="0.6"/>
<ellipse cx="95.1" cy="238.8" rx="2.5" ry="1.0" transform="rotate(118 95.1 238.8)" fill="#9c8272" opacity="0.3"/>
<ellipse cx="66.4" cy="248.7" rx="2.1" ry="1.5" transform="rotate(54 66.4 248.7)" fill="#9c8272" opacity="0.3"/>
<ellipse cx="46.2" cy="229.5" rx="4.8" ry="1.5" transform="rotate(-27 46.2 229.5)" fill="#f4f2f2" opacity="0.6"/>
<ellipse cx="117.9" cy="259.3" rx="4.6" ry="1.0" transform="rotate(61 117.9 259.3)" fill="#f4f2f2" opacity="0.4"/>
<ellipse cx="111.3" cy="197.5" rx="3.2" ry="1.3" transform="rotate(157 111.3 197.5)" fill="#9c8272" opacity="0.3"/>
<ellipse cx="168.5" cy="195.8" rx="3.8" ry="1.2" transform="rotate(43 168.5 195.8)" fill="#f4f2f2" opacity="0.4"/>
<ellipse cx="56.9" cy="254.5" rx="4.7" ry="1.0" transform="rotate(129 56.9 254.5)" fill="#9c8272" opacity="0.3"/>
<ellipse cx="56.6" cy="282.9" rx="2.3" ry="1.0" transform="rotate(120 56.6 282.9)" fill="#9c8272" opacity="0.3"/>
<ellipse cx="134.8" cy="184.3" rx="2.9" ry="1.6" transform="rotate(177 134.8 184.3)" fill="#9c8272" opacity="0.3"/>
<ellipse cx="57.9" cy="272.0" rx="4.9" ry="1.3" transform="rotate(77 57.9 272.0)" fill="#f4f2f2" opacity="0.4"/>
<ellipse cx="162.1" cy="181.0" rx="4.8" ry="1.5" transform="rotate(172 162.1 181.0)" fill="#9c8272" opacity="0.3"/>
<ellipse cx="111.9" cy="263.2" rx="3.4" ry="1.4" transform="rotate(6 111.9 263.2)" fill="#9c8272" opacity="0.3"/>
<ellipse cx="149.3" cy="231.2" rx="2.1" ry="1.2" transform="rotate(167 149.3 231.2)" fill="#9c8272" opacity="0.3"/>
<ellipse cx="43.8" cy="211.2" rx="6.3" ry="1.4" transform="rotate(-31 43.8 211.2)" fill="#f4f2f2" opacity="0.6"/>
<ellipse cx="145.2" cy="186.9" rx="4.3" ry="1.1" transform="rotate(61 145.2 186.9)" fill="#9c8272" opacity="0.3"/>
<ellipse cx="29.9" cy="235.3" rx="7.9" ry="1.6" transform="rotate(-38 29.9 235.3)" fill="#f4f2f2" opacity="0.6"/>
<ellipse cx="118.8" cy="197.0" rx="2.8" ry="1.5" transform="rotate(80 118.8 197.0)" fill="#9c8272" opacity="0.3"/>
<ellipse cx="146.5" cy="246.4" rx="3.7" ry="1.6" transform="rotate(7 146.5 246.4)" fill="#9c8272" opacity="0.3"/>
<ellipse cx="37.2" cy="264.9" rx="4.6" ry="1.4" transform="rotate(43 37.2 264.9)" fill="#9c8272" opacity="0.3"/>
<ellipse cx="156.1" cy="207.7" rx="4.5" ry="1.1" transform="rotate(82 156.1 207.7)" fill="#f4f2f2" opacity="0.4"/>
<ellipse cx="106.9" cy="262.6" rx="5.0" ry="0.8" transform="rotate(82 106.9 262.6)" fill="#f4f2f2" opacity="0.4"/>
<ellipse cx="108.5" cy="226.6" rx="3.7" ry="1.3" transform="rotate(16 108.5 226.6)" fill="#f4f2f2" opacity="0.4"/>
<ellipse cx="67.0" cy="258.5" rx="3.0" ry="1.5" transform="rotate(179 67.0 258.5)" fill="#f4f2f2" opacity="0.4"/>
<ellipse cx="114.3" cy="217.2" rx="3.8" ry="1.4" transform="rotate(78 114.3 217.2)" fill="#f4f2f2" opacity="0.4"/>
<ellipse cx="18.0" cy="243.9" rx="7.0" ry="1.1" transform="rotate(-32 18.0 243.9)" fill="#f4f2f2" opacity="0.6"/>
<ellipse cx="26.8" cy="210.0" rx="5.5" ry="1.0" transform="rotate(-26 26.8 210.0)" fill="#f4f2f2" opacity="0.6"/>
<ellipse cx="148.9" cy="219.8" rx="2.4" ry="0.9" transform="rotate(99 148.9 219.8)" fill="#9c8272" opacity="0.3"/>
<ellipse cx="126.6" cy="195.2" rx="4.6" ry="1.1" transform="rotate(46 126.6 195.2)" fill="#f4f2f2" opacity="0.4"/>
<ellipse cx="36.2" cy="259.3" rx="3.1" ry="1.3" transform="rotate(118 36.2 259.3)" fill="#9c8272" opacity="0.3"/>
<ellipse cx="153.6" cy="284.5" rx="3.9" ry="0.8" transform="rotate(22 153.6 284.5)" fill="#9c8272" opacity="0.3"/>
<ellipse cx="40.7" cy="241.3" rx="8.1" ry="1.0" transform="rotate(-32 40.7 241.3)" fill="#9c8272" opacity="0.45"/>
<ellipse cx="159.3" cy="180.0" rx="4.4" ry="1.5" transform="rotate(30 159.3 180.0)" fill="#9c8272" opacity="0.3"/>
<ellipse cx="114.4" cy="228.3" rx="4.9" ry="1.4" transform="rotate(82 114.4 228.3)" fill="#f4f2f2" opacity="0.4"/>
<ellipse cx="31.1" cy="240.8" rx="4.8" ry="1.3" transform="rotate(-26 31.1 240.8)" fill="#f4f2f2" opacity="0.6"/>
<ellipse cx="95.1" cy="179.3" rx="8.3" ry="1.1" transform="rotate(-38 95.1 179.3)" fill="#9c8272" opacity="0.45"/>
<ellipse cx="110.3" cy="212.4" rx="2.5" ry="1.0" transform="rotate(138 110.3 212.4)" fill="#f4f2f2" opacity="0.4"/>
<ellipse cx="157.3" cy="224.3" rx="2.2" ry="1.4" transform="rotate(40 157.3 224.3)" fill="#9c8272" opacity="0.3"/>
<ellipse cx="49.6" cy="188.8" rx="8.7" ry="1.4" transform="rotate(-27 49.6 188.8)" fill="#f4f2f2" opacity="0.6"/>
<ellipse cx="95.9" cy="234.4" rx="3.3" ry="1.3" transform="rotate(50 95.9 234.4)" fill="#f4f2f2" opacity="0.4"/>
<ellipse cx="160.8" cy="254.6" rx="2.7" ry="1.1" transform="rotate(94 160.8 254.6)" fill="#9c8272" opacity="0.3"/>
<ellipse cx="153.9" cy="206.5" rx="2.5" ry="1.5" transform="rotate(1 153.9 206.5)" fill="#9c8272" opacity="0.3"/>
<ellipse cx="67.3" cy="208.5" rx="4.6" ry="0.8" transform="rotate(-35 67.3 208.5)" fill="#9c8272" opacity="0.45"/>
<ellipse cx="113.7" cy="206.7" rx="5.0" ry="1.2" transform="rotate(148 113.7 206.7)" fill="#f4f2f2" opacity="0.4"/>
<ellipse cx="117.3" cy="194.3" rx="4.3" ry="1.3" transform="rotate(76 117.3 194.3)" fill="#9c8272" opacity="0.3"/>
<ellipse cx="68.2" cy="185.9" rx="5.1" ry="1.1" transform="rotate(-28 68.2 185.9)" fill="#f4f2f2" opacity="0.6"/>
<ellipse cx="135.7" cy="242.1" rx="2.4" ry="1.1" transform="rotate(100 135.7 242.1)" fill="#9c8272" opacity="0.3"/>
<ellipse cx="112.2" cy="289.8" rx="4.5" ry="1.0" transform="rotate(117 112.2 289.8)" fill="#9c8272" opacity="0.3"/>
<ellipse cx="29.2" cy="244.0" rx="4.1" ry="1.6" transform="rotate(-37 29.2 244.0)" fill="#f4f2f2" opacity="0.6"/>
<ellipse cx="129.2" cy="228.4" rx="2.5" ry="1.2" transform="rotate(95 129.2 228.4)" fill="#f4f2f2" opacity="0.4"/>
<ellipse cx="24.7" cy="185.6" rx="6.5" ry="1.6" transform="rotate(-24 24.7 185.6)" fill="#f4f2f2" opacity="0.6"/>
<ellipse cx="25.6" cy="273.3" rx="3.6" ry="1.1" transform="rotate(144 25.6 273.3)" fill="#f4f2f2" opacity="0.4"/>
<ellipse cx="129.7" cy="264.1" rx="2.7" ry="1.3" transform="rotate(176 129.7 264.1)" fill="#f4f2f2" opacity="0.4"/>
<ellipse cx="52.9" cy="184.5" rx="7.8" ry="0.9" transform="rotate(-25 52.9 184.5)" fill="#f4f2f2" opacity="0.6"/>
<ellipse cx="150.5" cy="199.6" rx="5.0" ry="1.1" transform="rotate(83 150.5 199.6)" fill="#9c8272" opacity="0.3"/>
<ellipse cx="109.4" cy="185.6" rx="8.5" ry="1.2" transform="rotate(-33 109.4 185.6)" fill="#f4f2f2" opacity="0.6"/>
<ellipse cx="61.7" cy="256.3" rx="2.2" ry="1.2" transform="rotate(47 61.7 256.3)" fill="#f4f2f2" opacity="0.4"/>
<ellipse cx="116.2" cy="254.8" rx="2.9" ry="1.5" transform="rotate(151 116.2 254.8)" fill="#f4f2f2" opacity="0.4"/>
<ellipse cx="97.4" cy="276.6" rx="2.5" ry="0.9" transform="rotate(155 97.4 276.6)" fill="#9c8272" opacity="0.3"/>
<ellipse cx="41.0" cy="264.8" rx="4.2" ry="1.0" transform="rotate(138 41.0 264.8)" fill="#9c8272" opacity="0.3"/>
<ellipse cx="78.9" cy="272.2" rx="2.4" ry="0.9" transform="rotate(53 78.9 272.2)" fill="#f4f2f2" opacity="0.4"/>
<ellipse cx="66.9" cy="205.2" rx="4.7" ry="0.9" transform="rotate(-23 66.9 205.2)" fill="#f4f2f2" opacity="0.6"/>
<ellipse cx="68.1" cy="281.1" rx="3.5" ry="1.6" transform="rotate(130 68.1 281.1)" fill="#9c8272" opacity="0.3"/>
<ellipse cx="63.3" cy="241.2" rx="2.3" ry="0.9" transform="rotate(80 63.3 241.2)" fill="#f4f2f2" opacity="0.4"/>
<ellipse cx="93.8" cy="269.5" rx="2.3" ry="1.0" transform="rotate(71 93.8 269.5)" fill="#9c8272" opacity="0.3"/>
<ellipse cx="107.6" cy="275.9" rx="2.5" ry="0.9" transform="rotate(6 107.6 275.9)" fill="#9c8272" opacity="0.3"/>
<ellipse cx="77.8" cy="194.4" rx="5.6" ry="1.4" transform="rotate(-35 77.8 194.4)" fill="#f4f2f2" opacity="0.6"/>
<ellipse cx="169.5" cy="250.3" rx="2.5" ry="1.5" transform="rotate(180 169.5 250.3)" fill="#f4f2f2" opacity="0.4"/>
<ellipse cx="93.7" cy="255.4" rx="4.1" ry="1.3" transform="rotate(111 93.7 255.4)" fill="#9c8272" opacity="0.3"/>
<ellipse cx="72.3" cy="227.7" rx="3.9" ry="0.8" transform="rotate(122 72.3 227.7)" fill="#f4f2f2" opacity="0.4"/>
<ellipse cx="144.1" cy="252.7" rx="4.8" ry="1.0" transform="rotate(83 144.1 252.7)" fill="#9c8272" opacity="0.3"/>
<ellipse cx="50.0" cy="212.0" rx="7.2" ry="1.3" transform="rotate(-32 50.0 212.0)" fill="#9c8272" opacity="0.45"/>
<ellipse cx="142.8" cy="280.8" rx="2.8" ry="1.0" transform="rotate(157 142.8 280.8)" fill="#9c8272" opacity="0.3"/>
<ellipse cx="91.9" cy="184.3" rx="7.9" ry="1.5" transform="rotate(-26 91.9 184.3)" fill="#9c8272" opacity="0.45"/>
<ellipse cx="39.4" cy="185.8" rx="7.2" ry="1.1" transform="rotate(-34 39.4 185.8)" fill="#9c8272" opacity="0.45"/>
<ellipse cx="78.4" cy="260.8" rx="2.9" ry="0.8" transform="rotate(34 78.4 260.8)" fill="#f4f2f2" opacity="0.4"/>
<ellipse cx="110.0" cy="203.5" rx="2.5" ry="1.5" transform="rotate(111 110.0 203.5)" fill="#f4f2f2" opacity="0.4"/>
<ellipse cx="107.6" cy="231.1" rx="3.1" ry="1.3" transform="rotate(122 107.6 231.1)" fill="#f4f2f2" opacity="0.4"/>
<ellipse cx="103.8" cy="267.8" rx="4.5" ry="1.0" transform="rotate(167 103.8 267.8)" fill="#f4f2f2" opacity="0.4"/>
<ellipse cx="130.7" cy="225.6" rx="2.1" ry="1.3" transform="rotate(55 130.7 225.6)" fill="#9c8272" opacity="0.3"/>
<ellipse cx="158.2" cy="201.3" rx="4.5" ry="0.8" transform="rotate(66 158.2 201.3)" fill="#f4f2f2" opacity="0.4"/>
<ellipse cx="90.5" cy="259.2" rx="4.1" ry="1.3" transform="rotate(165 90.5 259.2)" fill="#9c8272" opacity="0.3"/>
<ellipse cx="126.8" cy="289.3" rx="2.6" ry="1.4" transform="rotate(11 126.8 289.3)" fill="#9c8272" opacity="0.3"/>
<ellipse cx="99.6" cy="231.4" rx="2.5" ry="0.9" transform="rotate(81 99.6 231.4)" fill="#9c8272" opacity="0.3"/>
</g>
<text x="139" y="281.7" font-size="10.3" fill="#231f20">25 μm</text>
<clipPath id="cG1"><rect x="0" y="578.7" width="160.80" height="119.90"/></clipPath>
<g clip-path="url(#cG1)">
<rect x="0" y="578.7" width="160.80" height="119.90" fill="#a6a5c9"/>
<rect x="0" y="578.7" width="160.80" height="119.90" filter="url(#speck)" opacity="0.55"/>
<rect x="0" y="578.7" width="160.80" height="119.90" filter="url(#speckw)" opacity="0.2"/>
<g filter="url(#soft)">
<polygon points="6.8,594.9 9.0,591.3 12.6,592.5 11.7,595.2 6.3,597.8" fill="#3e2094" stroke="#3e2094" stroke-width="2.2" stroke-linejoin="round" opacity="0.98"/>
<polygon points="18.5,599.9 20.9,590.8 30.0,594.4 28.5,601.0" fill="#4c2c9c" stroke="#4c2c9c" stroke-width="2.2" stroke-linejoin="round" opacity="0.97"/>
<polygon points="77.9,585.7 75.0,582.5 73.3,579.8 77.5,578.0 80.7,580.7 81.0,582.9" fill="#45259a" stroke="#45259a" stroke-width="2.2" stroke-linejoin="round" opacity="0.99"/>
<polygon points="69.4,589.8 71.2,595.3 68.8,602.0 62.6,599.5 62.7,593.9" fill="#4c2c9c" stroke="#4c2c9c" stroke-width="2.2" stroke-linejoin="round" opacity="1.00"/>
<polygon points="81.4,589.4 87.4,591.4 85.8,597.3 77.3,593.1" fill="#4c2c9c" stroke="#4c2c9c" stroke-width="2.2" stroke-linejoin="round" opacity="0.94"/>
<polygon points="89.4,581.5 85.0,581.9 83.5,577.9 88.4,573.5 90.5,578.6" fill="#3a1d8e" stroke="#3a1d8e" stroke-width="2.2" stroke-linejoin="round" opacity="0.96"/>
<polygon points="84.5,590.1 79.2,591.2 79.2,583.2 83.8,584.5" fill="#3a1d8e" stroke="#3a1d8e" stroke-width="2.2" stroke-linejoin="round" opacity="1.00"/>
<polygon points="115.2,582.8 120.5,590.9 110.3,593.2 110.8,588.7" fill="#4c2c9c" stroke="#4c2c9c" stroke-width="2.2" stroke-linejoin="round" opacity="0.96"/>
<polygon points="122.1,578.8 119.6,580.9 117.4,576.3" fill="#4c2c9c" stroke="#4c2c9c" stroke-width="2.2" stroke-linejoin="round" opacity="0.93"/>
<polygon points="123.9,598.2 120.5,600.5 111.0,595.8 115.1,592.0 121.6,590.5" fill="#4c2c9c" stroke="#4c2c9c" stroke-width="2.2" stroke-linejoin="round" opacity="0.95"/>
<polygon points="106.8,589.7 103.8,588.7 104.2,586.0 108.3,584.2 109.7,587.5" fill="#3e2094" stroke="#3e2094" stroke-width="2.2" stroke-linejoin="round" opacity="0.96"/>
<polygon points="117.0,584.9 116.7,578.0 125.5,575.7 129.2,582.0 125.0,586.8" fill="#45259a" stroke="#45259a" stroke-width="2.2" stroke-linejoin="round" opacity="0.93"/>
<polygon points="156.3,575.2 163.2,578.9 156.7,585.2 151.7,579.9" fill="#45259a" stroke="#45259a" stroke-width="2.2" stroke-linejoin="round" opacity="0.94"/>
<polygon points="7.9,617.4 -2.2,610.7 10.8,610.8" fill="#4c2c9c" stroke="#4c2c9c" stroke-width="2.2" stroke-linejoin="round" opacity="0.95"/>
<polygon points="26.9,616.4 27.3,612.1 34.4,616.4 32.0,620.5 28.6,621.7" fill="#4c2c9c" stroke="#4c2c9c" stroke-width="2.2" stroke-linejoin="round" opacity="0.93"/>
<polygon points="21.2,610.4 18.9,602.5 23.2,599.8 27.9,605.4" fill="#3e2094" stroke="#3e2094" stroke-width="2.2" stroke-linejoin="round" opacity="1.00"/>
<polygon points="44.9,605.8 42.0,604.9 41.5,599.0 43.6,597.0 46.3,599.8" fill="#3a1d8e" stroke="#3a1d8e" stroke-width="2.2" stroke-linejoin="round" opacity="0.94"/>
<polygon points="46.6,605.8 42.8,602.8 44.5,600.7 47.0,600.7 48.4,604.5" fill="#4c2c9c" stroke="#4c2c9c" stroke-width="2.2" stroke-linejoin="round" opacity="0.96"/>
<polygon points="78.5,608.7 68.1,611.4 66.8,603.9 72.7,600.8" fill="#3a1d8e" stroke="#3a1d8e" stroke-width="2.2" stroke-linejoin="round" opacity="0.96"/>
<polygon points="84.7,599.9 90.9,606.8 86.5,610.6 82.5,607.9" fill="#4c2c9c" stroke="#4c2c9c" stroke-width="2.2" stroke-linejoin="round" opacity="0.94"/>
<polygon points="131.5,617.5 131.1,613.2 135.0,614.4 135.4,617.7" fill="#3e2094" stroke="#3e2094" stroke-width="2.2" stroke-linejoin="round" opacity="0.95"/>
<polygon points="10.1,622.0 6.7,625.7 2.4,623.7 6.4,619.9" fill="#3e2094" stroke="#3e2094" stroke-width="2.2" stroke-linejoin="round" opacity="0.93"/>
<polygon points="17.3,627.6 19.4,631.7 15.2,633.8 12.0,632.7 13.1,626.6 14.7,624.4" fill="#3a1d8e" stroke="#3a1d8e" stroke-width="2.2" stroke-linejoin="round" opacity="0.96"/>
<polygon points="112.7,639.8 108.9,632.1 115.3,635.4" fill="#3a1d8e" stroke="#3a1d8e" stroke-width="2.2" stroke-linejoin="round" opacity="0.96"/>
<polygon points="119.2,628.7 110.7,620.8 114.9,614.8 118.9,616.8 124.9,622.0 121.5,627.1" fill="#45259a" stroke="#45259a" stroke-width="2.2" stroke-linejoin="round" opacity="0.94"/>
<polygon points="148.6,620.2 155.5,621.1 156.0,626.6 149.2,630.5 144.9,624.7" fill="#3e2094" stroke="#3e2094" stroke-width="2.2" stroke-linejoin="round" opacity="0.96"/>
<polygon points="16.3,643.5 14.3,646.7 12.5,646.8 11.2,642.2 12.6,640.9" fill="#45259a" stroke="#45259a" stroke-width="2.2" stroke-linejoin="round" opacity="0.99"/>
<polygon points="18.2,657.9 12.5,656.5 11.4,653.4 16.6,646.0 19.6,651.7" fill="#3e2094" stroke="#3e2094" stroke-width="2.2" stroke-linejoin="round" opacity="0.96"/>
<polygon points="25.7,653.9 22.6,658.9 19.5,652.0" fill="#3e2094" stroke="#3e2094" stroke-width="2.2" stroke-linejoin="round" opacity="0.99"/>
<polygon points="38.9,647.4 38.4,655.1 30.5,652.1 32.3,646.4" fill="#4c2c9c" stroke="#4c2c9c" stroke-width="2.2" stroke-linejoin="round" opacity="0.95"/>
<polygon points="57.5,642.5 66.4,640.5 67.3,648.4 59.4,649.1" fill="#45259a" stroke="#45259a" stroke-width="2.2" stroke-linejoin="round" opacity="0.98"/>
<polygon points="73.6,650.3 76.7,647.2 81.8,649.8 75.5,654.8" fill="#3e2094" stroke="#3e2094" stroke-width="2.2" stroke-linejoin="round" opacity="0.96"/>
<polygon points="80.2,643.7 85.0,638.4 86.1,645.7" fill="#45259a" stroke="#45259a" stroke-width="2.2" stroke-linejoin="round" opacity="0.98"/>
<polygon points="106.1,650.0 103.7,645.3 106.8,643.3 110.6,643.5 112.4,647.1" fill="#3e2094" stroke="#3e2094" stroke-width="2.2" stroke-linejoin="round" opacity="0.96"/>
<polygon points="142.6,647.4 145.2,654.2 140.1,660.1 135.5,653.6" fill="#3a1d8e" stroke="#3a1d8e" stroke-width="2.2" stroke-linejoin="round" opacity="0.94"/>
<polygon points="119.0,644.5 127.4,650.4 127.8,655.7 120.9,656.8 115.7,654.8 116.9,651.2" fill="#4c2c9c" stroke="#4c2c9c" stroke-width="2.2" stroke-linejoin="round" opacity="0.98"/>
<polygon points="153.5,641.3 157.3,638.6 162.8,637.1 162.0,646.7 157.3,648.5 150.6,645.1" fill="#3e2094" stroke="#3e2094" stroke-width="2.2" stroke-linejoin="round" opacity="0.94"/>
<polygon points="14.9,679.0 16.3,674.6 20.3,677.0 19.9,680.1" fill="#4c2c9c" stroke="#4c2c9c" stroke-width="2.2" stroke-linejoin="round" opacity="0.98"/>
<polygon points="19.9,678.7 14.0,680.5 11.9,676.9 16.4,673.6 19.5,676.4" fill="#3e2094" stroke="#3e2094" stroke-width="2.2" stroke-linejoin="round" opacity="0.99"/>
<polygon points="33.5,661.0 35.3,657.0 38.9,661.2" fill="#45259a" stroke="#45259a" stroke-width="2.2" stroke-linejoin="round" opacity="0.94"/>
<polygon points="38.6,669.8 36.8,672.8 31.0,672.3 28.9,665.2 31.6,663.6 38.4,660.8" fill="#3a1d8e" stroke="#3a1d8e" stroke-width="2.2" stroke-linejoin="round" opacity="0.96"/>
<polygon points="86.3,664.1 77.7,668.5 74.3,663.5 81.9,658.7" fill="#3a1d8e" stroke="#3a1d8e" stroke-width="2.2" stroke-linejoin="round" opacity="0.95"/>
<polygon points="68.1,663.5 65.1,665.0 64.6,660.4 69.5,660.3" fill="#3a1d8e" stroke="#3a1d8e" stroke-width="2.2" stroke-linejoin="round" opacity="0.97"/>
<polygon points="111.4,673.7 115.8,676.6 119.2,678.1 113.1,683.2 109.2,681.9 108.9,678.5" fill="#45259a" stroke="#45259a" stroke-width="2.2" stroke-linejoin="round" opacity="0.93"/>
<polygon points="102.7,676.5 102.9,672.5 106.5,668.4 110.2,669.0 109.4,671.9 108.2,674.8" fill="#4c2c9c" stroke="#4c2c9c" stroke-width="2.2" stroke-linejoin="round" opacity="0.96"/>
<polygon points="122.7,674.6 125.8,673.5 127.3,675.9 127.9,677.6 124.5,678.9 123.2,678.1" fill="#3e2094" stroke="#3e2094" stroke-width="2.2" stroke-linejoin="round" opacity="0.97"/>
<polygon points="121.7,681.9 118.7,674.9 124.5,672.8 129.1,681.8" fill="#4c2c9c" stroke="#4c2c9c" stroke-width="2.2" stroke-linejoin="round" opacity="0.97"/>
<polygon points="135.8,675.4 135.0,682.8 126.3,683.4 123.4,676.6 130.4,670.6" fill="#45259a" stroke="#45259a" stroke-width="2.2" stroke-linejoin="round" opacity="0.97"/>
<polygon points="-4.2,691.6 -0.3,683.5 7.8,682.3 8.7,690.4 5.5,693.7" fill="#4c2c9c" stroke="#4c2c9c" stroke-width="2.2" stroke-linejoin="round" opacity="0.96"/>
<polygon points="34.6,683.8 29.5,680.1 32.7,678.7 37.7,677.2 39.6,680.6 37.5,683.9" fill="#3e2094" stroke="#3e2094" stroke-width="2.2" stroke-linejoin="round" opacity="0.94"/>
<polygon points="39.3,681.4 45.3,680.5 46.8,683.7 43.8,690.3 39.3,686.9" fill="#3e2094" stroke="#3e2094" stroke-width="2.2" stroke-linejoin="round" opacity="0.96"/>
<polygon points="75.8,688.9 71.6,690.7 71.4,685.4 75.2,686.5" fill="#45259a" stroke="#45259a" stroke-width="2.2" stroke-linejoin="round" opacity="0.99"/>
<polygon points="70.5,684.3 74.1,686.2 71.3,690.9 66.7,688.4 67.6,684.6" fill="#3a1d8e" stroke="#3a1d8e" stroke-width="2.2" stroke-linejoin="round" opacity="0.95"/>
<polygon points="107.3,680.8 114.7,680.2 111.9,685.3" fill="#4c2c9c" stroke="#4c2c9c" stroke-width="2.2" stroke-linejoin="round" opacity="0.94"/>
<polygon points="141.8,688.7 144.7,694.1 139.2,695.9 135.6,690.7 134.3,687.2" fill="#3e2094" stroke="#3e2094" stroke-width="2.2" stroke-linejoin="round" opacity="0.94"/>
<polygon points="137.3,700.7 134.0,697.0 136.4,692.2 142.3,694.0 143.0,697.2" fill="#45259a" stroke="#45259a" stroke-width="2.2" stroke-linejoin="round" opacity="0.93"/>
<polygon points="160.5,683.0 156.7,677.9 161.6,674.8 164.9,682.3" fill="#3e2094" stroke="#3e2094" stroke-width="2.2" stroke-linejoin="round" opacity="0.94"/>
</g>
<text x="132.2" y="690.8" font-size="8.3" fill="#fff" textLength="22.8" lengthAdjust="spacingAndGlyphs">50 μm</text>
<line x1="131.8" y1="693.5" x2="156.1" y2="693.5" stroke="#fff" stroke-width="1.1"/>
</g>
<clipPath id="cG2"><rect x="166.7" y="578.7" width="160.40" height="119.90"/></clipPath>
<g clip-path="url(#cG2)">
<rect x="166.7" y="578.7" width="160.40" height="119.90" fill="#a6a5c9"/>
<rect x="166.7" y="578.7" width="160.40" height="119.90" filter="url(#speck)" opacity="0.55"/>
<rect x="166.7" y="578.7" width="160.40" height="119.90" filter="url(#speckw)" opacity="0.2"/>
<g filter="url(#soft)">
<polygon points="163.9,597.2 167.5,592.6 172.5,593.4 174.4,597.2 173.4,602.5 168.9,604.0" fill="#4c2c9c" stroke="#4c2c9c" stroke-width="2.2" stroke-linejoin="round" opacity="0.96"/>
<polygon points="183.0,591.3 178.1,589.0 180.6,583.0 184.9,585.9" fill="#3a1d8e" stroke="#3a1d8e" stroke-width="2.2" stroke-linejoin="round" opacity="0.96"/>
<polygon points="176.0,591.0 182.3,596.6 171.4,600.3 168.2,595.5" fill="#45259a" stroke="#45259a" stroke-width="2.2" stroke-linejoin="round" opacity="0.97"/>
<polygon points="203.3,599.1 203.9,594.6 204.9,592.9 211.2,591.4 209.5,600.1" fill="#3e2094" stroke="#3e2094" stroke-width="2.2" stroke-linejoin="round" opacity="0.94"/>
<polygon points="220.9,591.6 224.4,594.1 220.8,598.6 219.2,595.9" fill="#3e2094" stroke="#3e2094" stroke-width="2.2" stroke-linejoin="round" opacity="0.99"/>
<polygon points="213.0,582.4 211.5,578.1 214.1,577.0 218.7,582.9" fill="#4c2c9c" stroke="#4c2c9c" stroke-width="2.2" stroke-linejoin="round" opacity="0.96"/>
<polygon points="204.8,594.2 205.1,591.8 209.2,587.8 211.3,588.2 211.3,592.3 210.3,595.0" fill="#45259a" stroke="#45259a" stroke-width="2.2" stroke-linejoin="round" opacity="0.93"/>
<polygon points="218.0,593.6 211.9,594.3 212.6,587.2 218.3,589.7" fill="#45259a" stroke="#45259a" stroke-width="2.2" stroke-linejoin="round" opacity="0.97"/>
<polygon points="236.2,576.3 242.5,580.6 239.7,584.5 231.8,579.0" fill="#4c2c9c" stroke="#4c2c9c" stroke-width="2.2" stroke-linejoin="round" opacity="0.95"/>
<polygon points="246.0,583.8 245.0,587.8 235.8,587.4 237.3,580.6 242.3,579.5" fill="#45259a" stroke="#45259a" stroke-width="2.2" stroke-linejoin="round" opacity="1.00"/>
<polygon points="244.8,587.3 247.6,589.7 245.3,593.1 242.8,592.6 243.0,589.2" fill="#3a1d8e" stroke="#3a1d8e" stroke-width="2.2" stroke-linejoin="round" opacity="0.98"/>
<polygon points="255.6,583.2 248.0,585.1 250.0,579.3" fill="#45259a" stroke="#45259a" stroke-width="2.2" stroke-linejoin="round" opacity="0.96"/>
<polygon points="251.2,591.3 251.4,599.8 243.7,600.8 243.2,598.0 246.9,591.0" fill="#45259a" stroke="#45259a" stroke-width="2.2" stroke-linejoin="round" opacity="0.97"/>
<polygon points="281.5,583.5 277.4,582.3 280.0,576.2 284.1,578.7" fill="#3a1d8e" stroke="#3a1d8e" stroke-width="2.2" stroke-linejoin="round" opacity="0.95"/>
<polygon points="266.8,589.1 269.3,582.9 274.4,583.9 272.8,591.3" fill="#45259a" stroke="#45259a" stroke-width="2.2" stroke-linejoin="round" opacity="0.96"/>
<polygon points="295.7,580.8 296.8,584.9 292.7,586.8 290.8,584.2 292.2,581.3" fill="#3e2094" stroke="#3e2094" stroke-width="2.2" stroke-linejoin="round" opacity="0.94"/>
<polygon points="292.4,576.0 292.8,582.1 286.8,578.7" fill="#3e2094" stroke="#3e2094" stroke-width="2.2" stroke-linejoin="round" opacity="0.99"/>
<polygon points="322.3,591.2 320.6,589.3 319.3,585.9 319.9,583.4 323.4,585.7 325.5,586.9" fill="#3e2094" stroke="#3e2094" stroke-width="2.2" stroke-linejoin="round" opacity="0.95"/>
<polygon points="312.3,593.2 312.9,582.2 320.6,582.6 323.0,593.0" fill="#4c2c9c" stroke="#4c2c9c" stroke-width="2.2" stroke-linejoin="round" opacity="0.97"/>
<polygon points="320.9,581.7 324.7,585.4 320.2,587.8 317.7,584.1" fill="#4c2c9c" stroke="#4c2c9c" stroke-width="2.2" stroke-linejoin="round" opacity="0.99"/>
<polygon points="181.0,603.6 183.5,608.3 178.7,609.7 177.0,605.4" fill="#3a1d8e" stroke="#3a1d8e" stroke-width="2.2" stroke-linejoin="round" opacity="0.93"/>
<polygon points="164.6,595.1 174.0,597.0 169.8,605.2" fill="#45259a" stroke="#45259a" stroke-width="2.2" stroke-linejoin="round" opacity="0.99"/>
<polygon points="196.2,616.1 192.7,620.2 191.4,613.9" fill="#4c2c9c" stroke="#4c2c9c" stroke-width="2.2" stroke-linejoin="round" opacity="0.94"/>
<polygon points="185.2,620.8 186.5,615.3 189.3,607.6 197.3,613.6 194.9,622.4" fill="#4c2c9c" stroke="#4c2c9c" stroke-width="2.2" stroke-linejoin="round" opacity="0.94"/>
<polygon points="226.6,610.7 224.1,606.8 226.1,602.4 230.5,607.7" fill="#3e2094" stroke="#3e2094" stroke-width="2.2" stroke-linejoin="round" opacity="0.99"/>
<polygon points="208.1,598.8 210.1,597.5 213.9,601.3 211.5,603.1 210.8,603.8 208.1,601.5" fill="#3e2094" stroke="#3e2094" stroke-width="2.2" stroke-linejoin="round" opacity="0.93"/>
<polygon points="224.5,606.3 229.7,616.6 222.9,620.6 218.2,611.4" fill="#3e2094" stroke="#3e2094" stroke-width="2.2" stroke-linejoin="round" opacity="0.98"/>
<polygon points="236.5,603.8 237.2,595.2 244.8,600.1" fill="#4c2c9c" stroke="#4c2c9c" stroke-width="2.2" stroke-linejoin="round" opacity="0.96"/>
<polygon points="246.5,616.0 252.2,610.6 255.7,614.6 252.2,618.4" fill="#45259a" stroke="#45259a" stroke-width="2.2" stroke-linejoin="round" opacity="0.99"/>
<polygon points="250.5,599.2 255.2,602.0 259.1,606.0 253.9,609.7 250.1,604.1" fill="#4c2c9c" stroke="#4c2c9c" stroke-width="2.2" stroke-linejoin="round" opacity="0.98"/>
<polygon points="251.9,601.4 259.2,604.7 249.0,608.4" fill="#4c2c9c" stroke="#4c2c9c" stroke-width="2.2" stroke-linejoin="round" opacity="0.94"/>
<polygon points="272.9,613.0 280.4,614.8 274.7,622.1 270.8,618.7" fill="#3e2094" stroke="#3e2094" stroke-width="2.2" stroke-linejoin="round" opacity="0.98"/>
<polygon points="291.2,612.2 292.7,616.4 290.4,618.9 286.1,614.8 286.4,611.3" fill="#4c2c9c" stroke="#4c2c9c" stroke-width="2.2" stroke-linejoin="round" opacity="0.94"/>
<polygon points="319.6,601.2 325.8,600.3 324.9,610.3 318.1,606.9 317.6,604.5" fill="#45259a" stroke="#45259a" stroke-width="2.2" stroke-linejoin="round" opacity="0.95"/>
<polygon points="316.0,602.2 318.9,608.9 310.2,607.8" fill="#4c2c9c" stroke="#4c2c9c" stroke-width="2.2" stroke-linejoin="round" opacity="0.99"/>
<polygon points="318.1,614.2 309.4,612.4 308.9,604.4 314.6,607.4" fill="#3e2094" stroke="#3e2094" stroke-width="2.2" stroke-linejoin="round" opacity="0.98"/>
<polygon points="170.6,625.3 175.4,626.2 176.2,632.7 169.2,630.9" fill="#3a1d8e" stroke="#3a1d8e" stroke-width="2.2" stroke-linejoin="round" opacity="0.93"/>
<polygon points="169.6,615.9 173.3,617.2 175.5,623.9 169.5,622.5" fill="#3e2094" stroke="#3e2094" stroke-width="2.2" stroke-linejoin="round" opacity="0.99"/>
<polygon points="186.4,620.5 184.6,629.2 181.3,622.5" fill="#3a1d8e" stroke="#3a1d8e" stroke-width="2.2" stroke-linejoin="round" opacity="0.97"/>
<polygon points="205.1,631.3 205.1,636.4 199.8,637.9 196.3,634.7 196.8,630.5 201.6,628.3" fill="#3e2094" stroke="#3e2094" stroke-width="2.2" stroke-linejoin="round" opacity="0.97"/>
<polygon points="197.2,625.6 191.9,621.5 201.2,615.2 201.7,620.4" fill="#3e2094" stroke="#3e2094" stroke-width="2.2" stroke-linejoin="round" opacity="1.00"/>
<polygon points="222.4,632.6 220.2,635.1 215.5,636.5 214.5,631.9 216.7,629.5 220.8,629.8" fill="#3e2094" stroke="#3e2094" stroke-width="2.2" stroke-linejoin="round" opacity="0.94"/>
<polygon points="215.3,631.2 214.3,635.0 210.6,634.4 210.7,631.3 211.9,630.0 214.4,630.3" fill="#3e2094" stroke="#3e2094" stroke-width="2.2" stroke-linejoin="round" opacity="0.99"/>
<polygon points="225.7,633.6 229.6,635.3 225.5,645.6 217.2,641.9 217.6,634.0" fill="#3e2094" stroke="#3e2094" stroke-width="2.2" stroke-linejoin="round" opacity="0.93"/>
<polygon points="250.0,623.1 251.4,632.1 244.4,631.7 241.1,622.3" fill="#3e2094" stroke="#3e2094" stroke-width="2.2" stroke-linejoin="round" opacity="0.98"/>
<polygon points="258.3,621.7 264.6,625.9 258.1,634.3 251.4,629.3" fill="#45259a" stroke="#45259a" stroke-width="2.2" stroke-linejoin="round" opacity="0.98"/>
<polygon points="264.8,624.2 266.2,628.3 261.2,632.1 257.0,628.4 260.6,624.2" fill="#4c2c9c" stroke="#4c2c9c" stroke-width="2.2" stroke-linejoin="round" opacity="0.95"/>
<polygon points="277.4,641.7 277.3,637.5 280.3,633.3 285.0,636.7 283.9,642.7" fill="#3e2094" stroke="#3e2094" stroke-width="2.2" stroke-linejoin="round" opacity="0.99"/>
<polygon points="304.3,632.6 295.5,627.0 304.3,623.3" fill="#3a1d8e" stroke="#3a1d8e" stroke-width="2.2" stroke-linejoin="round" opacity="0.93"/>
<polygon points="319.7,637.1 316.5,638.8 313.2,638.2 314.2,633.8 320.0,632.6" fill="#4c2c9c" stroke="#4c2c9c" stroke-width="2.2" stroke-linejoin="round" opacity="0.99"/>
<polygon points="314.2,633.4 317.6,629.4 321.4,633.9 317.8,636.8" fill="#45259a" stroke="#45259a" stroke-width="2.2" stroke-linejoin="round" opacity="0.94"/>
<polygon points="322.6,635.5 319.9,630.5 329.4,628.0 330.6,634.1" fill="#3e2094" stroke="#3e2094" stroke-width="2.2" stroke-linejoin="round" opacity="0.96"/>
<polygon points="309.1,636.5 313.0,628.1 314.6,636.8" fill="#3e2094" stroke="#3e2094" stroke-width="2.2" stroke-linejoin="round" opacity="0.94"/>
<polygon points="196.9,642.1 191.4,649.7 187.0,647.4 189.2,641.4 192.2,641.4" fill="#4c2c9c" stroke="#4c2c9c" stroke-width="2.2" stroke-linejoin="round" opacity="0.95"/>
<polygon points="218.1,656.6 210.8,654.7 213.5,650.3 217.4,650.7" fill="#45259a" stroke="#45259a" stroke-width="2.2" stroke-linejoin="round" opacity="0.98"/>
<polygon points="218.7,643.7 217.1,645.4 214.0,643.9 215.5,639.1 217.6,638.2 220.6,640.9" fill="#3e2094" stroke="#3e2094" stroke-width="2.2" stroke-linejoin="round" opacity="0.93"/>
<polygon points="245.4,640.8 245.6,643.0 241.8,645.5 236.9,641.2 239.9,638.1 243.1,637.6" fill="#45259a" stroke="#45259a" stroke-width="2.2" stroke-linejoin="round" opacity="0.96"/>
<polygon points="247.6,653.6 245.1,645.6 253.0,644.6" fill="#3e2094" stroke="#3e2094" stroke-width="2.2" stroke-linejoin="round" opacity="1.00"/>
<polygon points="259.7,640.8 265.3,646.7 261.9,649.4 257.1,646.9" fill="#3e2094" stroke="#3e2094" stroke-width="2.2" stroke-linejoin="round" opacity="0.94"/>
<polygon points="265.6,649.2 259.4,649.8 253.8,648.2 256.8,643.0 262.2,640.8 266.3,641.5" fill="#4c2c9c" stroke="#4c2c9c" stroke-width="2.2" stroke-linejoin="round" opacity="1.00"/>
<polygon points="267.0,651.0 271.6,646.7 278.6,650.1 276.4,656.5" fill="#3a1d8e" stroke="#3a1d8e" stroke-width="2.2" stroke-linejoin="round" opacity="0.96"/>
<polygon points="302.3,644.3 300.1,640.5 303.7,638.9 306.2,641.9" fill="#45259a" stroke="#45259a" stroke-width="2.2" stroke-linejoin="round" opacity="0.93"/>
<polygon points="302.6,654.8 298.2,649.7 305.9,646.6 306.4,651.8" fill="#3e2094" stroke="#3e2094" stroke-width="2.2" stroke-linejoin="round" opacity="0.98"/>
<polygon points="317.8,652.5 313.2,655.4 307.0,651.8 310.4,646.5 318.5,649.6" fill="#45259a" stroke="#45259a" stroke-width="2.2" stroke-linejoin="round" opacity="0.96"/>
<polygon points="310.2,661.1 306.6,656.2 313.0,654.6 315.4,659.7" fill="#3a1d8e" stroke="#3a1d8e" stroke-width="2.2" stroke-linejoin="round" opacity="0.98"/>
<polygon points="327.7,637.5 331.5,644.6 325.2,648.3 316.9,642.6 317.5,634.5" fill="#4c2c9c" stroke="#4c2c9c" stroke-width="2.2" stroke-linejoin="round" opacity="0.96"/>
<polygon points="201.7,673.6 206.7,670.5 209.6,675.4 207.0,679.6" fill="#45259a" stroke="#45259a" stroke-width="2.2" stroke-linejoin="round" opacity="0.96"/>
<polygon points="221.7,678.0 218.7,675.0 216.6,671.3 223.5,666.8 227.0,665.4 228.9,672.9" fill="#45259a" stroke="#45259a" stroke-width="2.2" stroke-linejoin="round" opacity="0.97"/>
<polygon points="245.5,669.5 249.4,673.2 242.8,673.6" fill="#3e2094" stroke="#3e2094" stroke-width="2.2" stroke-linejoin="round" opacity="0.98"/>
<polygon points="233.8,664.9 236.3,661.5 243.1,659.2 242.2,667.3 233.5,670.8" fill="#4c2c9c" stroke="#4c2c9c" stroke-width="2.2" stroke-linejoin="round" opacity="0.96"/>
<polygon points="252.2,667.6 247.2,673.3 242.9,670.0 245.8,664.0 247.4,662.3" fill="#45259a" stroke="#45259a" stroke-width="2.2" stroke-linejoin="round" opacity="0.94"/>
<polygon points="271.2,667.6 264.7,663.6 264.2,658.0 271.4,653.9 276.0,658.0" fill="#4c2c9c" stroke="#4c2c9c" stroke-width="2.2" stroke-linejoin="round" opacity="0.95"/>
<polygon points="296.9,680.6 291.9,679.3 290.0,676.1 296.6,676.8" fill="#3e2094" stroke="#3e2094" stroke-width="2.2" stroke-linejoin="round" opacity="0.99"/>
<polygon points="286.2,667.1 289.5,659.5 296.5,665.4" fill="#3a1d8e" stroke="#3a1d8e" stroke-width="2.2" stroke-linejoin="round" opacity="0.94"/>
<polygon points="292.9,673.6 291.2,669.5 297.8,665.4 301.9,668.6" fill="#4c2c9c" stroke="#4c2c9c" stroke-width="2.2" stroke-linejoin="round" opacity="0.96"/>
<polygon points="325.3,676.2 320.3,672.5 321.9,670.0 327.5,673.2" fill="#3a1d8e" stroke="#3a1d8e" stroke-width="2.2" stroke-linejoin="round" opacity="0.97"/>
<polygon points="314.4,661.0 318.2,666.1 320.5,672.5 314.2,672.4 310.2,669.8" fill="#3e2094" stroke="#3e2094" stroke-width="2.2" stroke-linejoin="round" opacity="0.95"/>
<polygon points="311.8,669.7 317.7,667.9 320.1,670.5 318.8,675.5 312.4,677.9" fill="#4c2c9c" stroke="#4c2c9c" stroke-width="2.2" stroke-linejoin="round" opacity="1.00"/>
<polygon points="172.8,687.8 171.1,679.1 175.7,677.2 179.4,683.5" fill="#3a1d8e" stroke="#3a1d8e" stroke-width="2.2" stroke-linejoin="round" opacity="0.93"/>
<polygon points="196.2,689.8 191.8,685.7 196.7,680.8 201.3,683.8" fill="#3e2094" stroke="#3e2094" stroke-width="2.2" stroke-linejoin="round" opacity="0.97"/>
<polygon points="201.7,693.5 199.7,699.5 192.3,694.7" fill="#3a1d8e" stroke="#3a1d8e" stroke-width="2.2" stroke-linejoin="round" opacity="0.96"/>
<polygon points="192.0,694.8 196.1,684.2 202.6,690.6" fill="#4c2c9c" stroke="#4c2c9c" stroke-width="2.2" stroke-linejoin="round" opacity="0.95"/>
<polygon points="215.2,684.3 215.5,692.4 209.3,692.9 204.0,692.0 204.2,681.8" fill="#3e2094" stroke="#3e2094" stroke-width="2.2" stroke-linejoin="round" opacity="0.93"/>
<polygon points="257.1,696.6 251.7,695.3 253.2,691.2 259.1,692.4" fill="#4c2c9c" stroke="#4c2c9c" stroke-width="2.2" stroke-linejoin="round" opacity="0.94"/>
<polygon points="269.4,681.9 272.8,682.9 271.1,688.6 265.0,692.8 260.5,689.8 260.9,683.3" fill="#45259a" stroke="#45259a" stroke-width="2.2" stroke-linejoin="round" opacity="0.94"/>
<polygon points="265.7,688.4 263.0,691.7 258.7,695.4 255.1,689.3 256.3,683.9 261.4,683.0" fill="#3e2094" stroke="#3e2094" stroke-width="2.2" stroke-linejoin="round" opacity="0.93"/>
<polygon points="273.9,684.8 271.9,678.9 277.5,676.4 285.5,679.8 280.1,684.6" fill="#3a1d8e" stroke="#3a1d8e" stroke-width="2.2" stroke-linejoin="round" opacity="0.95"/>
<polygon points="300.7,696.9 301.0,700.6 296.3,701.1 294.3,699.4 296.1,695.5" fill="#45259a" stroke="#45259a" stroke-width="2.2" stroke-linejoin="round" opacity="0.98"/>
<polygon points="329.2,685.0 328.3,687.9 324.2,687.8 323.5,684.9 326.3,683.7" fill="#3e2094" stroke="#3e2094" stroke-width="2.2" stroke-linejoin="round" opacity="0.94"/>
<polygon points="317.3,685.2 309.3,685.4 316.5,675.7 320.9,682.1" fill="#3e2094" stroke="#3e2094" stroke-width="2.2" stroke-linejoin="round" opacity="0.94"/>
</g>
<text x="298.5" y="690.8" font-size="8.3" fill="#fff" textLength="22.8" lengthAdjust="spacingAndGlyphs">50 μm</text>
<line x1="298.1" y1="693.5" x2="322.4" y2="693.5" stroke="#fff" stroke-width="1.1"/>
</g>
<clipPath id="cG3"><rect x="333.2" y="578.7" width="160.70" height="119.90"/></clipPath>
<g clip-path="url(#cG3)">
<rect x="333.2" y="578.7" width="160.70" height="119.90" fill="#a6a5c9"/>
<rect x="333.2" y="578.7" width="160.70" height="119.90" filter="url(#speck)" opacity="0.55"/>
<rect x="333.2" y="578.7" width="160.70" height="119.90" filter="url(#speckw)" opacity="0.2"/>
<g filter="url(#soft)">
<polygon points="341.8,583.5 342.9,579.0 347.5,580.3 348.5,583.5 345.9,584.5" fill="#45259a" stroke="#45259a" stroke-width="2.2" stroke-linejoin="round" opacity="0.96"/>
<polygon points="378.8,593.1 375.4,592.0 374.4,590.4 377.5,587.1 380.0,589.8" fill="#45259a" stroke="#45259a" stroke-width="2.2" stroke-linejoin="round" opacity="0.98"/>
<polygon points="388.3,578.8 395.1,578.5 393.7,587.1 388.1,584.6" fill="#45259a" stroke="#45259a" stroke-width="2.2" stroke-linejoin="round" opacity="0.94"/>
<polygon points="383.7,597.9 378.7,598.6 378.0,590.7 378.5,585.9 387.4,588.6 388.3,594.4" fill="#45259a" stroke="#45259a" stroke-width="2.2" stroke-linejoin="round" opacity="0.96"/>
<polygon points="412.2,592.1 404.3,592.9 404.6,584.6 408.2,581.6 415.2,584.0" fill="#45259a" stroke="#45259a" stroke-width="2.2" stroke-linejoin="round" opacity="0.94"/>
<polygon points="395.5,585.0 398.4,582.2 401.6,581.7 399.5,587.0" fill="#3e2094" stroke="#3e2094" stroke-width="2.2" stroke-linejoin="round" opacity="0.96"/>
<polygon points="403.8,585.8 405.7,581.5 406.6,581.4 410.7,580.6 412.5,586.3 408.3,588.8" fill="#45259a" stroke="#45259a" stroke-width="2.2" stroke-linejoin="round" opacity="0.99"/>
<polygon points="403.7,591.8 409.6,592.5 405.3,600.1 397.7,595.7" fill="#4c2c9c" stroke="#4c2c9c" stroke-width="2.2" stroke-linejoin="round" opacity="0.98"/>
<polygon points="431.5,578.3 437.7,578.5 435.8,589.1 427.5,592.4 428.6,587.2" fill="#45259a" stroke="#45259a" stroke-width="2.2" stroke-linejoin="round" opacity="0.96"/>
<polygon points="413.5,586.8 416.6,581.9 421.5,588.0 421.7,592.8 412.5,590.4" fill="#4c2c9c" stroke="#4c2c9c" stroke-width="2.2" stroke-linejoin="round" opacity="0.97"/>
<polygon points="450.1,594.5 448.0,593.3 446.7,592.1 447.5,588.1 451.1,588.7 452.3,591.4" fill="#45259a" stroke="#45259a" stroke-width="2.2" stroke-linejoin="round" opacity="0.98"/>
<polygon points="434.1,592.3 436.7,587.1 443.4,584.6 444.1,588.2 443.5,595.3 438.9,591.9" fill="#3a1d8e" stroke="#3a1d8e" stroke-width="2.2" stroke-linejoin="round" opacity="0.97"/>
<polygon points="450.7,594.5 452.5,600.6 445.9,601.5 445.8,598.0" fill="#45259a" stroke="#45259a" stroke-width="2.2" stroke-linejoin="round" opacity="0.95"/>
<polygon points="454.0,593.9 455.2,599.0 446.1,602.6 444.5,593.2 453.4,588.4" fill="#4c2c9c" stroke="#4c2c9c" stroke-width="2.2" stroke-linejoin="round" opacity="0.95"/>
<polygon points="475.4,597.8 471.7,597.8 468.4,593.2 468.6,590.1 473.5,590.1 477.4,592.7" fill="#45259a" stroke="#45259a" stroke-width="2.2" stroke-linejoin="round" opacity="0.97"/>
<polygon points="471.9,579.2 470.7,584.1 466.3,579.1" fill="#3e2094" stroke="#3e2094" stroke-width="2.2" stroke-linejoin="round" opacity="0.95"/>
<polygon points="452.1,588.4 459.6,580.1 464.5,589.3 458.1,591.8" fill="#3e2094" stroke="#3e2094" stroke-width="2.2" stroke-linejoin="round" opacity="0.95"/>
<polygon points="495.6,580.0 493.8,581.3 490.9,580.1 489.7,578.4 492.8,575.4" fill="#3e2094" stroke="#3e2094" stroke-width="2.2" stroke-linejoin="round" opacity="0.95"/>
<polygon points="349.8,600.7 345.0,606.2 343.0,603.2 346.8,598.5" fill="#45259a" stroke="#45259a" stroke-width="2.2" stroke-linejoin="round" opacity="0.96"/>
<polygon points="351.9,604.2 345.8,609.9 341.4,605.0 338.3,601.4 337.9,597.3 345.0,595.7" fill="#3a1d8e" stroke="#3a1d8e" stroke-width="2.2" stroke-linejoin="round" opacity="0.99"/>
<polygon points="342.1,602.3 346.2,606.1 344.7,609.7 341.0,607.9 340.6,605.6" fill="#3a1d8e" stroke="#3a1d8e" stroke-width="2.2" stroke-linejoin="round" opacity="0.99"/>
<polygon points="345.5,605.5 340.4,606.0 339.6,605.1 339.9,599.8 344.5,598.2 346.7,601.6" fill="#3a1d8e" stroke="#3a1d8e" stroke-width="2.2" stroke-linejoin="round" opacity="0.99"/>
<polygon points="362.9,606.6 366.7,596.7 372.0,605.4" fill="#4c2c9c" stroke="#4c2c9c" stroke-width="2.2" stroke-linejoin="round" opacity="0.97"/>
<polygon points="369.7,610.2 378.1,618.5 373.7,625.1 369.8,623.7 364.2,615.7" fill="#3e2094" stroke="#3e2094" stroke-width="2.2" stroke-linejoin="round" opacity="0.98"/>
<polygon points="382.4,606.1 382.5,597.7 386.8,599.5 388.6,604.2" fill="#3e2094" stroke="#3e2094" stroke-width="2.2" stroke-linejoin="round" opacity="0.97"/>
<polygon points="380.1,602.6 374.7,603.5 371.1,601.7 375.5,598.0 379.6,597.3" fill="#3e2094" stroke="#3e2094" stroke-width="2.2" stroke-linejoin="round" opacity="0.96"/>
<polygon points="390.6,600.8 393.3,605.4 394.8,607.1 389.6,610.6 386.2,606.4 386.2,599.7" fill="#3e2094" stroke="#3e2094" stroke-width="2.2" stroke-linejoin="round" opacity="0.97"/>
<polygon points="404.0,608.2 409.4,606.5 412.0,614.2 409.8,615.8 403.6,614.5" fill="#45259a" stroke="#45259a" stroke-width="2.2" stroke-linejoin="round" opacity="0.97"/>
<polygon points="407.2,614.5 398.8,616.5 398.0,610.0 404.9,605.8" fill="#3e2094" stroke="#3e2094" stroke-width="2.2" stroke-linejoin="round" opacity="0.98"/>
<polygon points="420.8,605.8 417.1,604.6 416.3,602.5 419.1,599.1 420.4,599.2 423.5,603.4" fill="#45259a" stroke="#45259a" stroke-width="2.2" stroke-linejoin="round" opacity="0.96"/>
<polygon points="429.7,610.4 426.8,600.3 435.1,597.9 436.4,604.0" fill="#4c2c9c" stroke="#4c2c9c" stroke-width="2.2" stroke-linejoin="round" opacity="0.98"/>
<polygon points="454.5,605.8 448.6,606.2 446.4,601.7 449.2,597.6 453.5,599.7" fill="#3a1d8e" stroke="#3a1d8e" stroke-width="2.2" stroke-linejoin="round" opacity="0.95"/>
<polygon points="444.0,608.6 443.2,611.6 437.5,613.2 438.2,606.2 440.2,602.8" fill="#4c2c9c" stroke="#4c2c9c" stroke-width="2.2" stroke-linejoin="round" opacity="0.98"/>
<polygon points="465.5,609.0 458.7,617.2 454.2,614.8 458.2,601.9 464.2,601.6" fill="#3e2094" stroke="#3e2094" stroke-width="2.2" stroke-linejoin="round" opacity="0.97"/>
<polygon points="461.6,594.6 467.4,597.2 466.9,604.9 458.4,605.5 452.8,602.8 456.3,594.1" fill="#3e2094" stroke="#3e2094" stroke-width="2.2" stroke-linejoin="round" opacity="0.96"/>
<polygon points="481.7,618.3 473.5,615.3 471.4,607.4 477.5,603.9 481.6,610.6" fill="#4c2c9c" stroke="#4c2c9c" stroke-width="2.2" stroke-linejoin="round" opacity="0.95"/>
<polygon points="492.4,606.7 486.9,612.6 482.5,607.1 482.4,604.1 489.5,599.9" fill="#3a1d8e" stroke="#3a1d8e" stroke-width="2.2" stroke-linejoin="round" opacity="0.94"/>
<polygon points="344.0,634.6 347.7,634.8 345.4,640.4 342.2,639.4" fill="#45259a" stroke="#45259a" stroke-width="2.2" stroke-linejoin="round" opacity="0.96"/>
<polygon points="332.1,632.3 330.9,625.3 340.2,621.4 339.4,631.1" fill="#3a1d8e" stroke="#3a1d8e" stroke-width="2.2" stroke-linejoin="round" opacity="0.99"/>
<polygon points="344.7,617.4 344.0,624.6 335.7,619.7" fill="#3e2094" stroke="#3e2094" stroke-width="2.2" stroke-linejoin="round" opacity="0.94"/>
<polygon points="341.2,629.1 349.2,626.7 354.1,631.1 342.9,637.5" fill="#45259a" stroke="#45259a" stroke-width="2.2" stroke-linejoin="round" opacity="0.94"/>
<polygon points="355.0,628.3 360.6,621.0 365.5,620.7 368.0,629.1 360.1,629.3" fill="#3a1d8e" stroke="#3a1d8e" stroke-width="2.2" stroke-linejoin="round" opacity="0.97"/>
<polygon points="392.0,621.2 387.0,625.0 384.8,622.5 389.6,619.2" fill="#3a1d8e" stroke="#3a1d8e" stroke-width="2.2" stroke-linejoin="round" opacity="0.96"/>
<polygon points="377.6,629.7 376.4,626.1 379.9,624.4 381.0,627.0 381.9,628.1 379.0,629.6" fill="#3e2094" stroke="#3e2094" stroke-width="2.2" stroke-linejoin="round" opacity="1.00"/>
<polygon points="373.8,628.3 388.0,624.4 383.1,635.7" fill="#3e2094" stroke="#3e2094" stroke-width="2.2" stroke-linejoin="round" opacity="0.93"/>
<polygon points="374.9,624.5 382.5,621.7 386.6,625.5 385.7,630.9 375.3,629.8" fill="#45259a" stroke="#45259a" stroke-width="2.2" stroke-linejoin="round" opacity="0.95"/>
<polygon points="409.1,622.2 407.1,628.8 399.5,623.4 403.5,617.6" fill="#45259a" stroke="#45259a" stroke-width="2.2" stroke-linejoin="round" opacity="0.99"/>
<polygon points="427.7,628.7 435.3,625.7 437.2,629.7 432.3,632.9" fill="#4c2c9c" stroke="#4c2c9c" stroke-width="2.2" stroke-linejoin="round" opacity="0.93"/>
<polygon points="434.1,628.7 427.5,633.8 426.4,625.8" fill="#4c2c9c" stroke="#4c2c9c" stroke-width="2.2" stroke-linejoin="round" opacity="0.96"/>
<polygon points="429.2,631.2 432.9,636.3 428.9,640.1 424.0,637.7" fill="#4c2c9c" stroke="#4c2c9c" stroke-width="2.2" stroke-linejoin="round" opacity="0.96"/>
<polygon points="423.0,632.2 418.1,634.8 417.4,631.2 421.6,627.2" fill="#3a1d8e" stroke="#3a1d8e" stroke-width="2.2" stroke-linejoin="round" opacity="0.97"/>
<polygon points="441.0,632.9 443.6,632.3 445.9,638.1 442.3,638.2" fill="#45259a" stroke="#45259a" stroke-width="2.2" stroke-linejoin="round" opacity="0.93"/>
<polygon points="434.4,643.8 434.7,640.1 435.6,632.1 440.6,633.1 442.9,638.9 444.1,643.1" fill="#45259a" stroke="#45259a" stroke-width="2.2" stroke-linejoin="round" opacity="0.98"/>
<polygon points="444.2,622.7 446.3,625.6 444.6,627.8 440.2,628.1 439.4,626.1" fill="#4c2c9c" stroke="#4c2c9c" stroke-width="2.2" stroke-linejoin="round" opacity="0.95"/>
<polygon points="454.8,619.0 454.6,625.5 445.6,618.5" fill="#4c2c9c" stroke="#4c2c9c" stroke-width="2.2" stroke-linejoin="round" opacity="0.99"/>
<polygon points="466.2,619.9 467.4,624.2 460.0,624.1" fill="#3e2094" stroke="#3e2094" stroke-width="2.2" stroke-linejoin="round" opacity="0.98"/>
<polygon points="477.2,627.7 467.6,625.9 467.7,617.0 472.8,615.8 478.0,620.0" fill="#4c2c9c" stroke="#4c2c9c" stroke-width="2.2" stroke-linejoin="round" opacity="0.98"/>
<polygon points="456.2,631.1 458.1,624.9 463.9,628.5" fill="#3e2094" stroke="#3e2094" stroke-width="2.2" stroke-linejoin="round" opacity="0.99"/>
<polygon points="457.0,624.7 456.1,620.3 467.9,619.7 470.2,626.4 466.4,628.0" fill="#3a1d8e" stroke="#3a1d8e" stroke-width="2.2" stroke-linejoin="round" opacity="0.96"/>
<polygon points="489.4,632.5 484.7,631.3 481.4,628.3 482.7,624.1 490.2,627.9" fill="#3a1d8e" stroke="#3a1d8e" stroke-width="2.2" stroke-linejoin="round" opacity="1.00"/>
<polygon points="488.6,630.4 482.9,633.7 480.7,623.7" fill="#45259a" stroke="#45259a" stroke-width="2.2" stroke-linejoin="round" opacity="0.99"/>
<polygon points="482.0,634.7 475.1,646.3 468.1,637.5 474.3,631.3" fill="#3a1d8e" stroke="#3a1d8e" stroke-width="2.2" stroke-linejoin="round" opacity="0.96"/>
<polygon points="490.1,636.3 486.1,635.0 487.0,627.0 494.2,629.3" fill="#3a1d8e" stroke="#3a1d8e" stroke-width="2.2" stroke-linejoin="round" opacity="0.95"/>
<polygon points="352.3,631.7 358.9,637.9 352.0,643.1 344.6,639.2" fill="#45259a" stroke="#45259a" stroke-width="2.2" stroke-linejoin="round" opacity="0.96"/>
<polygon points="348.6,653.3 353.5,647.3 358.7,652.5 356.2,660.1 352.9,661.5" fill="#4c2c9c" stroke="#4c2c9c" stroke-width="2.2" stroke-linejoin="round" opacity="0.98"/>
<polygon points="391.1,647.9 388.8,646.5 390.9,643.1 394.9,645.2" fill="#3a1d8e" stroke="#3a1d8e" stroke-width="2.2" stroke-linejoin="round" opacity="0.96"/>
<polygon points="378.2,638.3 386.1,636.0 384.7,641.5 377.6,641.9" fill="#4c2c9c" stroke="#4c2c9c" stroke-width="2.2" stroke-linejoin="round" opacity="0.97"/>
<polygon points="406.2,655.7 401.1,652.4 403.2,650.6 406.8,649.0 406.6,652.7" fill="#3e2094" stroke="#3e2094" stroke-width="2.2" stroke-linejoin="round" opacity="0.98"/>
<polygon points="419.4,645.6 416.4,650.9 411.3,645.0 416.0,644.6" fill="#3a1d8e" stroke="#3a1d8e" stroke-width="2.2" stroke-linejoin="round" opacity="0.97"/>
<polygon points="426.2,642.3 432.0,646.9 430.8,654.7 421.8,650.7 423.9,645.0" fill="#3a1d8e" stroke="#3a1d8e" stroke-width="2.2" stroke-linejoin="round" opacity="0.99"/>
<polygon points="429.5,645.0 426.1,644.5 419.9,642.1 420.3,639.2 427.1,638.0 430.8,639.9" fill="#4c2c9c" stroke="#4c2c9c" stroke-width="2.2" stroke-linejoin="round" opacity="1.00"/>
<polygon points="430.2,656.7 429.4,659.9 428.2,661.2 424.3,659.8 425.3,657.0 429.1,655.6" fill="#45259a" stroke="#45259a" stroke-width="2.2" stroke-linejoin="round" opacity="1.00"/>
<polygon points="441.7,662.3 439.6,652.9 445.8,650.1 446.9,660.3" fill="#45259a" stroke="#45259a" stroke-width="2.2" stroke-linejoin="round" opacity="0.99"/>
<polygon points="444.5,641.2 451.3,642.0 451.3,649.4 441.3,646.3" fill="#3e2094" stroke="#3e2094" stroke-width="2.2" stroke-linejoin="round" opacity="0.97"/>
<polygon points="437.0,648.4 439.1,655.8 430.2,659.6 428.0,653.1" fill="#3e2094" stroke="#3e2094" stroke-width="2.2" stroke-linejoin="round" opacity="0.99"/>
<polygon points="436.3,657.1 433.2,648.3 440.2,653.2" fill="#45259a" stroke="#45259a" stroke-width="2.2" stroke-linejoin="round" opacity="0.96"/>
<polygon points="451.0,656.6 454.2,655.9 455.0,659.2 450.8,661.9" fill="#4c2c9c" stroke="#4c2c9c" stroke-width="2.2" stroke-linejoin="round" opacity="0.99"/>
<polygon points="470.5,649.1 476.2,654.9 471.0,661.4 463.6,659.9" fill="#3a1d8e" stroke="#3a1d8e" stroke-width="2.2" stroke-linejoin="round" opacity="0.93"/>
<polygon points="468.4,662.9 461.6,658.5 468.1,653.3" fill="#3a1d8e" stroke="#3a1d8e" stroke-width="2.2" stroke-linejoin="round" opacity="1.00"/>
<polygon points="459.7,643.5 454.4,645.6 452.3,640.1 452.5,636.1 458.1,635.3 462.2,639.2" fill="#3a1d8e" stroke="#3a1d8e" stroke-width="2.2" stroke-linejoin="round" opacity="0.98"/>
<polygon points="478.3,637.5 481.1,646.6 477.4,647.4 471.9,646.4 470.1,639.3" fill="#3a1d8e" stroke="#3a1d8e" stroke-width="2.2" stroke-linejoin="round" opacity="0.95"/>
<polygon points="476.1,641.7 478.3,639.2 481.8,640.6 482.5,644.4 475.7,647.5" fill="#3e2094" stroke="#3e2094" stroke-width="2.2" stroke-linejoin="round" opacity="0.98"/>
<polygon points="477.6,651.3 481.7,653.1 479.8,661.8 476.5,664.4 470.3,658.9" fill="#4c2c9c" stroke="#4c2c9c" stroke-width="2.2" stroke-linejoin="round" opacity="0.95"/>
<polygon points="330.0,671.0 335.3,662.0 341.3,665.4 342.1,671.8 331.6,673.8" fill="#4c2c9c" stroke="#4c2c9c" stroke-width="2.2" stroke-linejoin="round" opacity="1.00"/>
<polygon points="334.7,667.9 331.8,661.8 347.1,660.7 343.2,668.5" fill="#4c2c9c" stroke="#4c2c9c" stroke-width="2.2" stroke-linejoin="round" opacity="0.98"/>
<polygon points="362.3,669.2 360.7,666.0 360.6,664.0 363.4,661.3 366.1,666.3" fill="#45259a" stroke="#45259a" stroke-width="2.2" stroke-linejoin="round" opacity="0.94"/>
<polygon points="386.3,661.7 384.2,667.3 377.1,664.6 375.8,657.9" fill="#45259a" stroke="#45259a" stroke-width="2.2" stroke-linejoin="round" opacity="0.94"/>
<polygon points="389.7,666.7 387.0,662.8 392.1,657.1 397.4,660.6" fill="#45259a" stroke="#45259a" stroke-width="2.2" stroke-linejoin="round" opacity="0.93"/>
<polygon points="397.1,663.7 393.1,660.9 397.7,656.9 401.0,660.7" fill="#45259a" stroke="#45259a" stroke-width="2.2" stroke-linejoin="round" opacity="0.98"/>
<polygon points="405.4,670.6 410.2,677.3 405.1,684.9 400.5,675.2" fill="#4c2c9c" stroke="#4c2c9c" stroke-width="2.2" stroke-linejoin="round" opacity="0.99"/>
<polygon points="421.0,671.4 428.8,674.8 427.7,681.6 417.1,676.5" fill="#3e2094" stroke="#3e2094" stroke-width="2.2" stroke-linejoin="round" opacity="0.96"/>
<polygon points="430.5,682.9 426.4,680.4 424.4,677.7 428.5,672.3 432.9,674.8 434.6,677.9" fill="#3a1d8e" stroke="#3a1d8e" stroke-width="2.2" stroke-linejoin="round" opacity="0.96"/>
<polygon points="427.3,670.8 437.0,671.1 434.4,680.1 432.9,683.4 427.6,682.4 426.2,673.2" fill="#3a1d8e" stroke="#3a1d8e" stroke-width="2.2" stroke-linejoin="round" opacity="0.94"/>
<polygon points="451.3,669.0 447.0,663.2 449.2,661.3 453.9,659.3 455.6,661.8 453.6,666.3" fill="#3e2094" stroke="#3e2094" stroke-width="2.2" stroke-linejoin="round" opacity="0.94"/>
<polygon points="449.8,681.0 444.4,680.8 438.0,679.1 437.9,672.4 447.1,667.5 449.4,673.0" fill="#4c2c9c" stroke="#4c2c9c" stroke-width="2.2" stroke-linejoin="round" opacity="0.98"/>
<polygon points="460.1,679.9 456.9,680.1 450.4,678.7 451.7,670.4 462.7,671.5" fill="#45259a" stroke="#45259a" stroke-width="2.2" stroke-linejoin="round" opacity="0.99"/>
<polygon points="454.7,676.7 451.3,672.6 456.4,670.7 457.5,674.7" fill="#3a1d8e" stroke="#3a1d8e" stroke-width="2.2" stroke-linejoin="round" opacity="0.98"/>
<polygon points="461.3,662.9 454.4,664.5 450.2,661.4 451.4,655.2 459.1,651.4" fill="#3e2094" stroke="#3e2094" stroke-width="2.2" stroke-linejoin="round" opacity="0.96"/>
<polygon points="477.2,670.7 472.7,669.5 476.4,665.8" fill="#3e2094" stroke="#3e2094" stroke-width="2.2" stroke-linejoin="round" opacity="0.98"/>
<polygon points="490.6,680.9 487.7,680.3 487.4,676.0 491.2,675.1" fill="#45259a" stroke="#45259a" stroke-width="2.2" stroke-linejoin="round" opacity="0.99"/>
<polygon points="495.0,660.0 493.0,664.5 487.7,658.7 490.9,657.2" fill="#45259a" stroke="#45259a" stroke-width="2.2" stroke-linejoin="round" opacity="0.99"/>
<polygon points="473.6,671.0 479.6,670.1 481.1,680.6 474.6,677.4" fill="#3a1d8e" stroke="#3a1d8e" stroke-width="2.2" stroke-linejoin="round" opacity="0.95"/>
<polygon points="486.8,661.1 487.1,664.8 481.7,663.5 479.9,661.1 483.6,658.9" fill="#45259a" stroke="#45259a" stroke-width="2.2" stroke-linejoin="round" opacity="0.93"/>
<polygon points="490.0,660.8 490.7,665.2 486.6,666.8 484.9,664.4 485.7,661.2" fill="#3e2094" stroke="#3e2094" stroke-width="2.2" stroke-linejoin="round" opacity="0.96"/>
<polygon points="352.3,682.6 347.1,686.3 344.8,677.7" fill="#3a1d8e" stroke="#3a1d8e" stroke-width="2.2" stroke-linejoin="round" opacity="0.96"/>
<polygon points="352.7,690.0 356.4,681.2 364.4,684.5 364.8,693.7" fill="#45259a" stroke="#45259a" stroke-width="2.2" stroke-linejoin="round" opacity="0.94"/>
<polygon points="377.6,687.3 380.7,688.8 379.9,690.7 377.1,691.4 374.0,688.7" fill="#45259a" stroke="#45259a" stroke-width="2.2" stroke-linejoin="round" opacity="0.94"/>
<polygon points="386.6,696.0 389.1,690.9 396.8,693.4 392.8,700.7" fill="#3e2094" stroke="#3e2094" stroke-width="2.2" stroke-linejoin="round" opacity="0.97"/>
<polygon points="415.9,680.1 421.5,677.3 424.5,683.1 421.0,685.0" fill="#3e2094" stroke="#3e2094" stroke-width="2.2" stroke-linejoin="round" opacity="0.95"/>
<polygon points="418.2,686.2 424.1,690.9 421.1,695.0 415.4,691.8" fill="#3a1d8e" stroke="#3a1d8e" stroke-width="2.2" stroke-linejoin="round" opacity="1.00"/>
<polygon points="427.8,683.0 425.0,688.4 418.3,689.7 415.9,683.9 418.8,680.6 422.4,681.4" fill="#4c2c9c" stroke="#4c2c9c" stroke-width="2.2" stroke-linejoin="round" opacity="0.98"/>
<polygon points="437.9,676.8 440.3,680.4 436.7,680.8 434.5,678.6 435.6,676.7" fill="#3e2094" stroke="#3e2094" stroke-width="2.2" stroke-linejoin="round" opacity="0.97"/>
<polygon points="452.7,698.3 443.0,693.9 448.0,688.7 450.6,687.3 456.8,691.6" fill="#3e2094" stroke="#3e2094" stroke-width="2.2" stroke-linejoin="round" opacity="1.00"/>
<polygon points="468.9,687.9 476.5,689.5 476.9,696.3 470.5,694.3" fill="#4c2c9c" stroke="#4c2c9c" stroke-width="2.2" stroke-linejoin="round" opacity="0.98"/>
<polygon points="486.7,695.6 485.9,701.8 478.4,695.9" fill="#3e2094" stroke="#3e2094" stroke-width="2.2" stroke-linejoin="round" opacity="0.99"/>
<polygon points="481.7,699.4 478.3,696.5 478.7,690.2 483.7,691.3 485.6,692.8" fill="#3a1d8e" stroke="#3a1d8e" stroke-width="2.2" stroke-linejoin="round" opacity="0.94"/>
<polygon points="496.2,700.1 494.3,702.0 489.9,701.6 487.8,697.0 490.7,696.0 492.7,694.9" fill="#45259a" stroke="#45259a" stroke-width="2.2" stroke-linejoin="round" opacity="0.99"/>
<polygon points="484.8,682.6 481.4,689.5 476.6,684.3 478.8,680.5" fill="#4c2c9c" stroke="#4c2c9c" stroke-width="2.2" stroke-linejoin="round" opacity="0.98"/>
</g>
<text x="465.3" y="690.8" font-size="8.3" fill="#fff" textLength="22.8" lengthAdjust="spacingAndGlyphs">50 μm</text>
<line x1="464.9" y1="693.5" x2="489.2" y2="693.5" stroke="#fff" stroke-width="1.1"/>
</g>
<clipPath id="cG4"><rect x="500.7" y="578.7" width="160.30" height="119.90"/></clipPath>
<g clip-path="url(#cG4)">
<rect x="500.7" y="578.7" width="160.30" height="119.90" fill="#a39ccb"/>
<rect x="500.7" y="578.7" width="160.30" height="119.90" filter="url(#speck)" opacity="0.55"/>
<rect x="500.7" y="578.7" width="160.30" height="119.90" filter="url(#speckw)" opacity="0.2"/>
<g filter="url(#soft)">
<polygon points="510.2,588.5 514.4,590.4 512.1,595.7 506.1,598.2 503.6,594.1" fill="#5c40ae" stroke="#5c40ae" stroke-width="2.2" stroke-linejoin="round" opacity="0.98"/>
<polygon points="511.7,579.7 517.5,582.5 516.0,586.5 510.1,589.3 509.0,583.6" fill="#6248b2" stroke="#6248b2" stroke-width="2.2" stroke-linejoin="round" opacity="0.99"/>
<polygon points="502.5,584.1 504.2,580.6 509.1,581.4 510.3,583.1 507.3,586.8 504.6,586.2" fill="#6248b2" stroke="#6248b2" stroke-width="2.2" stroke-linejoin="round" opacity="0.97"/>
<polygon points="522.2,594.3 518.9,597.4 515.3,594.3 518.4,590.5" fill="#5236a6" stroke="#5236a6" stroke-width="2.2" stroke-linejoin="round" opacity="0.98"/>
<polygon points="506.1,581.3 504.2,581.8 503.6,577.9 506.8,576.4 509.3,578.1" fill="#5c40ae" stroke="#5c40ae" stroke-width="2.2" stroke-linejoin="round" opacity="0.97"/>
<polygon points="507.9,584.8 502.5,583.9 504.8,575.3 508.8,579.7" fill="#6248b2" stroke="#6248b2" stroke-width="2.2" stroke-linejoin="round" opacity="0.95"/>
<polygon points="510.5,578.5 514.6,575.9 517.3,579.9 513.1,582.9 510.7,582.2" fill="#5236a6" stroke="#5236a6" stroke-width="2.2" stroke-linejoin="round" opacity="0.97"/>
<polygon points="514.5,581.8 517.0,584.7 512.8,587.5 511.0,586.9 509.9,584.4" fill="#6248b2" stroke="#6248b2" stroke-width="2.2" stroke-linejoin="round" opacity="0.94"/>
<polygon points="538.0,596.8 536.2,597.5 531.4,598.2 530.1,594.5 533.0,591.7 535.2,593.1" fill="#4c30a0" stroke="#4c30a0" stroke-width="2.2" stroke-linejoin="round" opacity="0.98"/>
<polygon points="535.1,599.2 532.6,594.4 535.4,591.8 538.3,592.3 539.6,598.0" fill="#6248b2" stroke="#6248b2" stroke-width="2.2" stroke-linejoin="round" opacity="0.97"/>
<polygon points="520.9,585.8 526.7,586.6 522.1,591.1" fill="#6248b2" stroke="#6248b2" stroke-width="2.2" stroke-linejoin="round" opacity="0.98"/>
<polygon points="538.1,585.5 534.8,587.6 531.4,588.5 531.3,585.3 531.5,582.0 534.7,580.9" fill="#5236a6" stroke="#5236a6" stroke-width="2.2" stroke-linejoin="round" opacity="0.94"/>
<polygon points="532.0,585.0 535.0,583.2 536.4,583.1 538.2,587.6 534.9,588.6 532.8,588.4" fill="#4c30a0" stroke="#4c30a0" stroke-width="2.2" stroke-linejoin="round" opacity="0.99"/>
<polygon points="530.1,592.4 528.8,594.9 526.5,594.4 525.9,591.4 527.8,590.3" fill="#5236a6" stroke="#5236a6" stroke-width="2.2" stroke-linejoin="round" opacity="0.98"/>
<polygon points="525.8,588.5 526.7,591.0 528.3,593.2 525.7,595.4 521.2,594.7 522.8,590.7" fill="#5c40ae" stroke="#5c40ae" stroke-width="2.2" stroke-linejoin="round" opacity="0.98"/>
<polygon points="532.4,589.4 539.9,589.5 538.6,595.1 533.9,597.2" fill="#5c40ae" stroke="#5c40ae" stroke-width="2.2" stroke-linejoin="round" opacity="0.98"/>
<polygon points="550.0,587.8 549.6,584.1 551.8,583.3 553.9,584.7 553.8,588.5 550.7,589.5" fill="#4c30a0" stroke="#4c30a0" stroke-width="2.2" stroke-linejoin="round" opacity="0.94"/>
<polygon points="538.7,588.9 538.5,584.5 541.5,583.4 544.1,581.3 545.1,588.2 545.0,591.3" fill="#5236a6" stroke="#5236a6" stroke-width="2.2" stroke-linejoin="round" opacity="0.96"/>
<polygon points="538.1,599.4 542.5,593.8 545.0,597.8 545.6,601.0 541.0,603.1" fill="#6248b2" stroke="#6248b2" stroke-width="2.2" stroke-linejoin="round" opacity="0.95"/>
<polygon points="553.3,598.6 551.0,600.1 548.2,600.8 546.3,596.4 549.2,593.8 552.7,593.8" fill="#5c40ae" stroke="#5c40ae" stroke-width="2.2" stroke-linejoin="round" opacity="0.94"/>
<polygon points="552.3,597.1 553.2,591.5 556.2,589.1 560.1,593.4 558.8,595.5 554.4,598.3" fill="#6248b2" stroke="#6248b2" stroke-width="2.2" stroke-linejoin="round" opacity="0.98"/>
<polygon points="557.6,593.1 560.0,592.7 560.8,595.2 561.3,597.7 556.9,599.7 555.3,595.5" fill="#5236a6" stroke="#5236a6" stroke-width="2.2" stroke-linejoin="round" opacity="0.94"/>
<polygon points="548.0,587.9 551.4,586.8 554.6,588.4 554.4,590.1 551.4,591.8" fill="#4c30a0" stroke="#4c30a0" stroke-width="2.2" stroke-linejoin="round" opacity="0.97"/>
<polygon points="539.2,584.9 542.9,585.0 543.1,589.0 538.9,589.2" fill="#4c30a0" stroke="#4c30a0" stroke-width="2.2" stroke-linejoin="round" opacity="1.00"/>
<polygon points="557.4,584.9 560.9,588.5 557.8,591.3 553.6,589.0 553.0,586.3" fill="#5236a6" stroke="#5236a6" stroke-width="2.2" stroke-linejoin="round" opacity="0.99"/>
<polygon points="551.0,585.1 553.2,584.9 557.6,582.3 559.2,588.4 556.2,590.4 553.5,590.3" fill="#6248b2" stroke="#6248b2" stroke-width="2.2" stroke-linejoin="round" opacity="0.99"/>
<polygon points="547.7,585.0 544.5,578.2 550.9,576.6 552.4,579.8 553.1,583.3" fill="#5c40ae" stroke="#5c40ae" stroke-width="2.2" stroke-linejoin="round" opacity="0.99"/>
<polygon points="557.0,586.6 555.8,594.1 552.1,595.5 549.5,593.0 551.6,588.8" fill="#6248b2" stroke="#6248b2" stroke-width="2.2" stroke-linejoin="round" opacity="0.95"/>
<polygon points="574.3,586.4 578.4,584.4 579.8,586.7 575.3,588.8" fill="#4c30a0" stroke="#4c30a0" stroke-width="2.2" stroke-linejoin="round" opacity="0.97"/>
<polygon points="571.2,586.9 570.9,580.4 576.6,581.6" fill="#5c40ae" stroke="#5c40ae" stroke-width="2.2" stroke-linejoin="round" opacity="0.94"/>
<polygon points="572.8,599.3 569.3,597.7 567.2,595.3 571.6,593.1 574.7,592.8 573.9,596.7" fill="#4c30a0" stroke="#4c30a0" stroke-width="2.2" stroke-linejoin="round" opacity="0.97"/>
<polygon points="581.5,590.1 577.7,594.4 574.8,591.0 577.6,587.0" fill="#6248b2" stroke="#6248b2" stroke-width="2.2" stroke-linejoin="round" opacity="0.97"/>
<polygon points="576.7,587.8 579.1,592.6 578.2,596.5 570.6,595.7 571.3,588.4" fill="#4c30a0" stroke="#4c30a0" stroke-width="2.2" stroke-linejoin="round" opacity="0.97"/>
<polygon points="562.3,579.4 563.7,578.9 568.9,581.3 565.3,585.1 563.4,583.9" fill="#5c40ae" stroke="#5c40ae" stroke-width="2.2" stroke-linejoin="round" opacity="0.95"/>
<polygon points="574.4,595.3 573.4,598.0 571.5,599.9 569.3,597.3 569.9,595.6 572.9,593.5" fill="#6248b2" stroke="#6248b2" stroke-width="2.2" stroke-linejoin="round" opacity="0.94"/>
<polygon points="578.2,594.6 575.7,594.7 573.6,595.7 571.1,593.8 574.5,590.9 576.4,591.3" fill="#5236a6" stroke="#5236a6" stroke-width="2.2" stroke-linejoin="round" opacity="0.96"/>
<polygon points="580.5,581.8 576.9,588.1 576.9,582.6" fill="#5236a6" stroke="#5236a6" stroke-width="2.2" stroke-linejoin="round" opacity="0.94"/>
<polygon points="588.2,588.8 579.4,590.8 581.4,581.7" fill="#6248b2" stroke="#6248b2" stroke-width="2.2" stroke-linejoin="round" opacity="0.93"/>
<polygon points="593.1,580.8 597.5,581.8 593.9,588.7 590.0,586.4 588.5,582.5" fill="#6248b2" stroke="#6248b2" stroke-width="2.2" stroke-linejoin="round" opacity="0.97"/>
<polygon points="594.9,586.2 593.0,591.3 588.3,591.2 589.7,582.9" fill="#4c30a0" stroke="#4c30a0" stroke-width="2.2" stroke-linejoin="round" opacity="0.95"/>
<polygon points="590.5,591.2 590.7,585.1 593.9,585.6 593.0,591.9" fill="#5c40ae" stroke="#5c40ae" stroke-width="2.2" stroke-linejoin="round" opacity="0.99"/>
<polygon points="594.9,580.7 597.9,578.3 601.5,578.4 600.3,580.9 598.2,583.1 596.2,582.5" fill="#5236a6" stroke="#5236a6" stroke-width="2.2" stroke-linejoin="round" opacity="0.97"/>
<polygon points="592.2,593.3 597.7,589.5 598.0,593.8 595.0,596.2" fill="#5236a6" stroke="#5236a6" stroke-width="2.2" stroke-linejoin="round" opacity="0.98"/>
<polygon points="599.5,588.9 602.0,589.7 602.1,593.0 598.2,594.7 596.0,593.1 597.5,587.3" fill="#5236a6" stroke="#5236a6" stroke-width="2.2" stroke-linejoin="round" opacity="0.94"/>
<polygon points="599.9,603.1 594.9,597.7 598.2,593.3 603.9,600.3" fill="#6248b2" stroke="#6248b2" stroke-width="2.2" stroke-linejoin="round" opacity="0.98"/>
<polygon points="616.3,598.1 613.1,603.1 608.4,600.8 610.2,597.2 612.6,594.9 615.6,596.2" fill="#5c40ae" stroke="#5c40ae" stroke-width="2.2" stroke-linejoin="round" opacity="0.94"/>
<polygon points="613.4,578.2 617.2,582.8 610.1,584.3" fill="#5236a6" stroke="#5236a6" stroke-width="2.2" stroke-linejoin="round" opacity="0.98"/>
<polygon points="611.8,592.2 611.7,598.9 606.0,598.2 606.1,594.9" fill="#5236a6" stroke="#5236a6" stroke-width="2.2" stroke-linejoin="round" opacity="0.94"/>
<polygon points="612.9,591.2 614.2,588.5 616.8,587.4 620.9,590.2 619.9,591.8 616.1,594.2" fill="#6248b2" stroke="#6248b2" stroke-width="2.2" stroke-linejoin="round" opacity="0.98"/>
<polygon points="615.9,599.4 620.3,593.7 623.1,600.0" fill="#4c30a0" stroke="#4c30a0" stroke-width="2.2" stroke-linejoin="round" opacity="0.94"/>
<polygon points="615.6,592.1 613.3,593.0 611.1,589.6 613.1,584.9 615.7,584.6 617.3,588.5" fill="#4c30a0" stroke="#4c30a0" stroke-width="2.2" stroke-linejoin="round" opacity="0.93"/>
<polygon points="615.2,585.1 619.4,586.1 614.9,594.3 611.4,593.2 610.8,588.5 611.0,585.7" fill="#6248b2" stroke="#6248b2" stroke-width="2.2" stroke-linejoin="round" opacity="0.98"/>
<polygon points="608.1,595.9 611.0,594.1 614.2,595.5 612.5,599.5 609.9,598.4" fill="#6248b2" stroke="#6248b2" stroke-width="2.2" stroke-linejoin="round" opacity="0.95"/>
<polygon points="633.5,582.7 628.7,581.7 632.5,577.4 634.1,579.4" fill="#6248b2" stroke="#6248b2" stroke-width="2.2" stroke-linejoin="round" opacity="1.00"/>
<polygon points="638.6,598.2 633.3,597.9 631.3,593.9 636.9,591.4" fill="#5c40ae" stroke="#5c40ae" stroke-width="2.2" stroke-linejoin="round" opacity="0.97"/>
<polygon points="631.8,584.6 631.4,578.0 637.5,578.6 635.9,585.7" fill="#4c30a0" stroke="#4c30a0" stroke-width="2.2" stroke-linejoin="round" opacity="0.96"/>
<polygon points="638.1,585.5 634.7,584.3 634.8,579.4 638.9,578.0 642.5,584.0" fill="#5236a6" stroke="#5236a6" stroke-width="2.2" stroke-linejoin="round" opacity="0.94"/>
<polygon points="623.2,578.5 628.1,576.8 629.7,583.3 625.6,587.0" fill="#6248b2" stroke="#6248b2" stroke-width="2.2" stroke-linejoin="round" opacity="0.99"/>
<polygon points="634.2,598.1 630.8,600.8 627.4,598.6 629.7,594.7 632.1,592.9 635.1,596.4" fill="#5236a6" stroke="#5236a6" stroke-width="2.2" stroke-linejoin="round" opacity="0.93"/>
<polygon points="640.1,590.1 637.4,594.7 631.6,589.4 635.8,587.1 639.3,586.2" fill="#5236a6" stroke="#5236a6" stroke-width="2.2" stroke-linejoin="round" opacity="0.95"/>
<polygon points="652.7,591.6 654.6,595.1 648.2,597.0 646.6,594.8 649.7,589.7" fill="#5236a6" stroke="#5236a6" stroke-width="2.2" stroke-linejoin="round" opacity="0.97"/>
<polygon points="649.4,591.4 650.3,590.5 654.4,592.5 656.9,596.7 651.5,598.5 647.7,597.2" fill="#5c40ae" stroke="#5c40ae" stroke-width="2.2" stroke-linejoin="round" opacity="0.97"/>
<polygon points="656.9,590.6 658.4,594.5 654.1,597.4 651.6,596.1 653.3,589.2" fill="#4c30a0" stroke="#4c30a0" stroke-width="2.2" stroke-linejoin="round" opacity="0.96"/>
<polygon points="658.5,589.3 653.9,583.9 661.1,585.2" fill="#4c30a0" stroke="#4c30a0" stroke-width="2.2" stroke-linejoin="round" opacity="0.98"/>
<polygon points="648.4,585.4 654.1,583.4 651.1,589.1" fill="#4c30a0" stroke="#4c30a0" stroke-width="2.2" stroke-linejoin="round" opacity="0.98"/>
<polygon points="646.5,590.9 649.1,590.9 648.4,594.0 646.8,595.7 644.5,591.5" fill="#4c30a0" stroke="#4c30a0" stroke-width="2.2" stroke-linejoin="round" opacity="0.93"/>
<polygon points="649.0,591.2 652.3,595.2 649.8,599.8 645.1,597.8" fill="#5c40ae" stroke="#5c40ae" stroke-width="2.2" stroke-linejoin="round" opacity="0.94"/>
<polygon points="660.1,581.7 659.0,586.8 655.0,586.5 654.8,582.4 659.7,580.1" fill="#5c40ae" stroke="#5c40ae" stroke-width="2.2" stroke-linejoin="round" opacity="0.98"/>
<polygon points="645.2,593.1 650.4,595.3 646.1,598.7" fill="#5236a6" stroke="#5236a6" stroke-width="2.2" stroke-linejoin="round" opacity="0.93"/>
<polygon points="655.1,588.9 654.3,592.2 649.8,594.5 648.1,590.5 650.7,588.8" fill="#4c30a0" stroke="#4c30a0" stroke-width="2.2" stroke-linejoin="round" opacity="0.96"/>
<polygon points="646.3,594.9 645.6,599.9 641.5,597.9" fill="#5c40ae" stroke="#5c40ae" stroke-width="2.2" stroke-linejoin="round" opacity="1.00"/>
<polygon points="641.4,600.1 640.1,595.5 642.0,593.4 646.1,595.5" fill="#6248b2" stroke="#6248b2" stroke-width="2.2" stroke-linejoin="round" opacity="0.97"/>
<polygon points="649.7,589.6 654.0,591.5 653.9,593.8 651.2,596.6 647.1,593.5" fill="#5c40ae" stroke="#5c40ae" stroke-width="2.2" stroke-linejoin="round" opacity="0.97"/>
<polygon points="654.7,581.4 658.1,583.6 653.4,586.4 650.6,586.3 651.8,582.6" fill="#6248b2" stroke="#6248b2" stroke-width="2.2" stroke-linejoin="round" opacity="0.96"/>
<polygon points="650.9,588.2 646.9,583.9 652.2,581.3" fill="#5c40ae" stroke="#5c40ae" stroke-width="2.2" stroke-linejoin="round" opacity="0.95"/>
<polygon points="511.5,614.0 512.3,612.4 514.9,611.5 519.5,613.8 517.0,615.4 514.2,617.5" fill="#5c40ae" stroke="#5c40ae" stroke-width="2.2" stroke-linejoin="round" opacity="0.96"/>
<polygon points="505.8,621.3 501.2,622.7 502.4,614.3 505.7,614.5 509.2,617.6" fill="#4c30a0" stroke="#4c30a0" stroke-width="2.2" stroke-linejoin="round" opacity="0.95"/>
<polygon points="511.7,621.6 504.4,622.2 505.4,617.7 508.4,614.1 512.0,616.7" fill="#4c30a0" stroke="#4c30a0" stroke-width="2.2" stroke-linejoin="round" opacity="0.95"/>
<polygon points="506.2,616.4 510.6,611.8 514.5,613.2 512.7,618.6" fill="#4c30a0" stroke="#4c30a0" stroke-width="2.2" stroke-linejoin="round" opacity="0.97"/>
<polygon points="521.6,611.9 519.6,613.5 516.8,610.7 519.1,607.7 521.4,609.7" fill="#4c30a0" stroke="#4c30a0" stroke-width="2.2" stroke-linejoin="round" opacity="0.95"/>
<polygon points="515.3,609.5 509.5,607.0 509.9,604.3 510.3,601.3 516.4,603.2 516.4,607.9" fill="#5c40ae" stroke="#5c40ae" stroke-width="2.2" stroke-linejoin="round" opacity="0.96"/>
<polygon points="505.8,605.1 502.2,601.9 507.4,598.8 507.6,603.3" fill="#4c30a0" stroke="#4c30a0" stroke-width="2.2" stroke-linejoin="round" opacity="0.94"/>
<polygon points="510.2,609.9 505.7,606.1 507.8,602.3 510.8,602.7 512.8,606.9" fill="#5236a6" stroke="#5236a6" stroke-width="2.2" stroke-linejoin="round" opacity="0.94"/>
<polygon points="534.1,604.3 535.1,596.4 538.3,596.5 543.2,598.1 543.5,603.0 537.9,604.8" fill="#4c30a0" stroke="#4c30a0" stroke-width="2.2" stroke-linejoin="round" opacity="0.94"/>
<polygon points="539.1,616.0 538.2,623.8 533.0,619.5 532.3,615.3" fill="#5236a6" stroke="#5236a6" stroke-width="2.2" stroke-linejoin="round" opacity="0.99"/>
<polygon points="532.1,602.1 532.6,606.9 526.5,606.1 528.2,603.3" fill="#4c30a0" stroke="#4c30a0" stroke-width="2.2" stroke-linejoin="round" opacity="0.95"/>
<polygon points="519.1,609.0 518.8,602.6 521.9,601.4 526.4,605.8 525.3,608.5" fill="#5236a6" stroke="#5236a6" stroke-width="2.2" stroke-linejoin="round" opacity="0.95"/>
<polygon points="523.2,597.7 525.1,601.6 519.7,601.6 519.5,597.5" fill="#5236a6" stroke="#5236a6" stroke-width="2.2" stroke-linejoin="round" opacity="0.94"/>
<polygon points="525.6,615.6 524.6,614.5 524.2,609.0 527.5,607.9 531.0,608.6 530.5,613.1" fill="#4c30a0" stroke="#4c30a0" stroke-width="2.2" stroke-linejoin="round" opacity="0.97"/>
<polygon points="539.0,602.9 536.3,605.4 534.0,604.5 535.3,601.6 538.2,599.4" fill="#6248b2" stroke="#6248b2" stroke-width="2.2" stroke-linejoin="round" opacity="0.94"/>
<polygon points="548.0,606.1 553.6,606.8 552.5,612.7" fill="#4c30a0" stroke="#4c30a0" stroke-width="2.2" stroke-linejoin="round" opacity="0.95"/>
<polygon points="550.3,597.1 555.9,599.2 553.5,605.4 550.2,604.2 548.8,600.5" fill="#4c30a0" stroke="#4c30a0" stroke-width="2.2" stroke-linejoin="round" opacity="1.00"/>
<polygon points="548.9,608.6 546.7,613.4 540.8,612.7 541.4,607.1 547.3,607.4" fill="#5236a6" stroke="#5236a6" stroke-width="2.2" stroke-linejoin="round" opacity="0.97"/>
<polygon points="545.8,608.9 549.3,608.4 549.8,611.8" fill="#5236a6" stroke="#5236a6" stroke-width="2.2" stroke-linejoin="round" opacity="0.95"/>
<polygon points="561.8,612.9 561.9,617.6 556.5,621.0 551.2,617.2 555.3,612.6" fill="#5236a6" stroke="#5236a6" stroke-width="2.2" stroke-linejoin="round" opacity="0.98"/>
<polygon points="559.2,601.2 557.9,605.6 553.6,603.2 554.2,597.2" fill="#4c30a0" stroke="#4c30a0" stroke-width="2.2" stroke-linejoin="round" opacity="1.00"/>
<polygon points="559.2,603.6 557.0,605.9 554.9,605.4 553.4,601.4 554.8,598.0 557.6,599.0" fill="#6248b2" stroke="#6248b2" stroke-width="2.2" stroke-linejoin="round" opacity="0.95"/>
<polygon points="550.3,599.9 554.7,601.0 551.8,605.9 547.7,603.6" fill="#4c30a0" stroke="#4c30a0" stroke-width="2.2" stroke-linejoin="round" opacity="0.99"/>
<polygon points="570.9,606.6 566.2,603.2 570.6,599.0" fill="#5c40ae" stroke="#5c40ae" stroke-width="2.2" stroke-linejoin="round" opacity="0.97"/>
<polygon points="565.2,600.2 565.2,603.4 562.1,606.4 557.5,602.3 559.7,597.0" fill="#4c30a0" stroke="#4c30a0" stroke-width="2.2" stroke-linejoin="round" opacity="0.93"/>
<polygon points="571.9,610.1 573.3,608.0 575.6,608.5 576.4,611.5 573.9,612.6" fill="#5c40ae" stroke="#5c40ae" stroke-width="2.2" stroke-linejoin="round" opacity="0.95"/>
<polygon points="576.6,607.1 575.1,609.6 571.6,610.0 570.1,606.2 573.8,603.7" fill="#5236a6" stroke="#5236a6" stroke-width="2.2" stroke-linejoin="round" opacity="0.94"/>
<polygon points="570.3,599.7 566.9,602.8 563.6,604.5 562.7,600.8 565.7,597.0" fill="#5c40ae" stroke="#5c40ae" stroke-width="2.2" stroke-linejoin="round" opacity="0.97"/>
<polygon points="574.8,619.7 567.8,616.4 569.3,612.2 575.5,611.3" fill="#5c40ae" stroke="#5c40ae" stroke-width="2.2" stroke-linejoin="round" opacity="0.94"/>
<polygon points="571.7,606.5 573.7,603.3 578.2,604.8 578.1,609.8 574.7,608.8" fill="#5236a6" stroke="#5236a6" stroke-width="2.2" stroke-linejoin="round" opacity="0.97"/>
<polygon points="561.8,617.6 559.9,610.2 564.1,610.0 566.9,612.3 563.6,618.8" fill="#4c30a0" stroke="#4c30a0" stroke-width="2.2" stroke-linejoin="round" opacity="0.94"/>
<polygon points="582.5,602.8 578.9,600.7 576.7,599.9 580.9,596.1 584.5,597.2 585.0,601.2" fill="#5236a6" stroke="#5236a6" stroke-width="2.2" stroke-linejoin="round" opacity="0.95"/>
<polygon points="597.3,601.1 600.9,603.2 599.3,607.4 594.0,604.0" fill="#5c40ae" stroke="#5c40ae" stroke-width="2.2" stroke-linejoin="round" opacity="1.00"/>
<polygon points="592.8,611.8 594.2,614.9 592.0,619.8 588.3,619.4 589.9,613.7" fill="#6248b2" stroke="#6248b2" stroke-width="2.2" stroke-linejoin="round" opacity="0.93"/>
<polygon points="591.6,604.5 592.4,601.4 599.2,601.3 597.3,606.1" fill="#5236a6" stroke="#5236a6" stroke-width="2.2" stroke-linejoin="round" opacity="0.96"/>
<polygon points="581.3,604.1 591.1,606.2 588.1,610.7 586.5,614.9 579.8,608.3" fill="#5c40ae" stroke="#5c40ae" stroke-width="2.2" stroke-linejoin="round" opacity="0.99"/>
<polygon points="596.0,613.3 595.4,615.1 592.3,615.7 591.0,612.2 593.7,609.2 597.7,610.1" fill="#5c40ae" stroke="#5c40ae" stroke-width="2.2" stroke-linejoin="round" opacity="0.98"/>
<polygon points="598.0,606.6 600.9,609.2 596.6,612.9 593.5,608.4 593.8,606.0" fill="#4c30a0" stroke="#4c30a0" stroke-width="2.2" stroke-linejoin="round" opacity="0.98"/>
<polygon points="579.6,603.1 578.5,599.3 582.8,600.8" fill="#5236a6" stroke="#5236a6" stroke-width="2.2" stroke-linejoin="round" opacity="0.98"/>
<polygon points="605.7,600.9 602.7,598.7 606.3,595.5 609.8,597.4 608.3,602.4" fill="#6248b2" stroke="#6248b2" stroke-width="2.2" stroke-linejoin="round" opacity="0.97"/>
<polygon points="607.7,608.9 612.4,611.1 608.1,614.4 607.0,611.6" fill="#5c40ae" stroke="#5c40ae" stroke-width="2.2" stroke-linejoin="round" opacity="0.94"/>
<polygon points="604.6,601.9 604.3,599.5 609.4,598.5 608.4,601.5" fill="#6248b2" stroke="#6248b2" stroke-width="2.2" stroke-linejoin="round" opacity="0.95"/>
<polygon points="616.8,607.3 614.0,607.8 612.2,606.3 613.3,602.4 615.7,601.8 618.1,604.0" fill="#5c40ae" stroke="#5c40ae" stroke-width="2.2" stroke-linejoin="round" opacity="0.98"/>
<polygon points="604.1,611.0 604.8,609.5 609.7,610.5 609.9,611.3 609.6,613.6 606.3,613.2" fill="#5c40ae" stroke="#5c40ae" stroke-width="2.2" stroke-linejoin="round" opacity="0.96"/>
<polygon points="606.8,599.3 606.7,604.1 602.8,606.1 600.5,602.3 605.3,599.0" fill="#5236a6" stroke="#5236a6" stroke-width="2.2" stroke-linejoin="round" opacity="0.96"/>
<polygon points="608.8,610.9 603.3,612.3 601.1,609.3 603.9,606.4 607.2,608.5" fill="#5236a6" stroke="#5236a6" stroke-width="2.2" stroke-linejoin="round" opacity="0.99"/>
<polygon points="609.1,609.5 611.2,609.5 610.8,612.9 610.1,614.7 606.9,613.2 605.5,610.7" fill="#6248b2" stroke="#6248b2" stroke-width="2.2" stroke-linejoin="round" opacity="0.95"/>
<polygon points="613.3,605.6 607.3,608.2 606.4,603.0" fill="#5236a6" stroke="#5236a6" stroke-width="2.2" stroke-linejoin="round" opacity="0.97"/>
<polygon points="613.6,612.3 606.4,607.8 609.9,605.4 616.4,605.7" fill="#4c30a0" stroke="#4c30a0" stroke-width="2.2" stroke-linejoin="round" opacity="0.94"/>
<polygon points="623.1,597.0 625.7,601.8 620.9,604.7 619.0,598.8" fill="#6248b2" stroke="#6248b2" stroke-width="2.2" stroke-linejoin="round" opacity="0.99"/>
<polygon points="622.5,617.1 621.3,611.5 625.4,609.7 629.4,612.7" fill="#4c30a0" stroke="#4c30a0" stroke-width="2.2" stroke-linejoin="round" opacity="0.95"/>
<polygon points="623.9,614.5 624.7,614.8 625.6,618.2 620.8,618.6 618.8,618.6 621.1,612.4" fill="#6248b2" stroke="#6248b2" stroke-width="2.2" stroke-linejoin="round" opacity="0.99"/>
<polygon points="638.0,599.1 640.3,599.5 640.7,601.4 640.3,603.5 638.5,603.9 637.2,600.4" fill="#6248b2" stroke="#6248b2" stroke-width="2.2" stroke-linejoin="round" opacity="0.96"/>
<polygon points="637.3,619.9 634.6,619.0 634.2,616.6 634.1,615.8 637.0,615.6 638.2,617.6" fill="#6248b2" stroke="#6248b2" stroke-width="2.2" stroke-linejoin="round" opacity="0.96"/>
<polygon points="640.6,598.5 641.7,601.6 639.8,608.7 635.7,604.3 635.4,598.7" fill="#6248b2" stroke="#6248b2" stroke-width="2.2" stroke-linejoin="round" opacity="0.98"/>
<polygon points="625.7,596.1 624.4,602.9 616.9,598.2" fill="#5c40ae" stroke="#5c40ae" stroke-width="2.2" stroke-linejoin="round" opacity="0.96"/>
<polygon points="627.0,603.2 630.2,608.2 622.9,612.2 620.3,608.4 623.7,603.4" fill="#4c30a0" stroke="#4c30a0" stroke-width="2.2" stroke-linejoin="round" opacity="0.97"/>
<polygon points="649.5,602.2 640.6,607.2 638.0,603.1 644.7,599.5" fill="#6248b2" stroke="#6248b2" stroke-width="2.2" stroke-linejoin="round" opacity="0.97"/>
<polygon points="639.9,609.7 640.9,605.5 646.7,604.3 646.8,606.0 648.2,610.8 640.9,613.4" fill="#5236a6" stroke="#5236a6" stroke-width="2.2" stroke-linejoin="round" opacity="0.98"/>
<polygon points="644.2,610.8 641.5,607.0 643.0,604.8 644.7,603.9 646.5,608.4" fill="#5c40ae" stroke="#5c40ae" stroke-width="2.2" stroke-linejoin="round" opacity="0.99"/>
<polygon points="650.0,606.5 646.4,608.7 643.4,608.3 641.8,603.9 643.1,601.4 646.8,602.5" fill="#5c40ae" stroke="#5c40ae" stroke-width="2.2" stroke-linejoin="round" opacity="0.95"/>
<polygon points="642.9,609.3 638.6,604.0 640.8,601.3 645.8,603.8 644.2,607.2" fill="#5236a6" stroke="#5236a6" stroke-width="2.2" stroke-linejoin="round" opacity="0.97"/>
<polygon points="664.3,611.0 656.0,611.7 655.9,606.9 662.5,602.4" fill="#4c30a0" stroke="#4c30a0" stroke-width="2.2" stroke-linejoin="round" opacity="0.96"/>
<polygon points="652.3,615.1 656.3,616.8 655.7,619.7 654.8,621.3 652.6,619.4 650.6,617.1" fill="#5c40ae" stroke="#5c40ae" stroke-width="2.2" stroke-linejoin="round" opacity="0.96"/>
<polygon points="651.3,608.0 654.3,606.4 658.6,610.7 658.6,614.4 651.0,614.2" fill="#6248b2" stroke="#6248b2" stroke-width="2.2" stroke-linejoin="round" opacity="0.98"/>
<polygon points="639.7,618.3 641.0,616.5 645.4,617.4 644.9,623.0" fill="#5236a6" stroke="#5236a6" stroke-width="2.2" stroke-linejoin="round" opacity="1.00"/>
<polygon points="644.1,612.5 638.2,612.7 639.9,604.2 646.4,605.3 649.0,610.6" fill="#5c40ae" stroke="#5c40ae" stroke-width="2.2" stroke-linejoin="round" opacity="0.97"/>
<polygon points="508.5,626.0 504.9,626.5 504.5,622.9 507.5,622.2 509.9,624.2" fill="#5236a6" stroke="#5236a6" stroke-width="2.2" stroke-linejoin="round" opacity="0.97"/>
<polygon points="506.1,620.6 502.4,622.7 501.3,621.9 499.8,616.2 506.4,616.5" fill="#5c40ae" stroke="#5c40ae" stroke-width="2.2" stroke-linejoin="round" opacity="0.94"/>
<polygon points="506.2,625.0 508.7,629.0 504.4,631.7 500.4,629.3 503.9,624.0" fill="#5c40ae" stroke="#5c40ae" stroke-width="2.2" stroke-linejoin="round" opacity="0.98"/>
<polygon points="521.8,632.6 519.1,636.2 515.8,636.9 513.0,632.2 516.3,630.7" fill="#4c30a0" stroke="#4c30a0" stroke-width="2.2" stroke-linejoin="round" opacity="0.96"/>
<polygon points="502.5,640.4 499.6,635.8 503.2,632.9 507.7,634.9 506.8,639.2" fill="#5c40ae" stroke="#5c40ae" stroke-width="2.2" stroke-linejoin="round" opacity="0.97"/>
<polygon points="502.8,634.1 511.7,632.9 512.8,637.6 505.9,640.1" fill="#5236a6" stroke="#5236a6" stroke-width="2.2" stroke-linejoin="round" opacity="0.98"/>
<polygon points="519.2,639.8 513.7,637.8 516.3,633.5 521.0,633.4 521.3,638.2" fill="#6248b2" stroke="#6248b2" stroke-width="2.2" stroke-linejoin="round" opacity="0.94"/>
<polygon points="521.2,637.2 521.0,638.4 516.0,635.9 517.1,634.4 518.7,633.0 523.1,633.8" fill="#5236a6" stroke="#5236a6" stroke-width="2.2" stroke-linejoin="round" opacity="0.96"/>
<polygon points="512.8,615.5 511.1,622.9 507.5,623.6 507.4,615.3" fill="#5236a6" stroke="#5236a6" stroke-width="2.2" stroke-linejoin="round" opacity="0.98"/>
<polygon points="513.2,620.3 513.2,623.9 506.8,622.8 506.1,617.7" fill="#6248b2" stroke="#6248b2" stroke-width="2.2" stroke-linejoin="round" opacity="0.95"/>
<polygon points="511.7,618.5 514.9,618.0 517.8,621.4 512.1,622.2" fill="#6248b2" stroke="#6248b2" stroke-width="2.2" stroke-linejoin="round" opacity="0.97"/>
<polygon points="512.4,630.3 508.3,624.3 514.5,620.7" fill="#4c30a0" stroke="#4c30a0" stroke-width="2.2" stroke-linejoin="round" opacity="1.00"/>
<polygon points="540.3,628.0 537.4,631.0 535.3,627.3 539.4,624.6" fill="#4c30a0" stroke="#4c30a0" stroke-width="2.2" stroke-linejoin="round" opacity="0.99"/>
<polygon points="538.0,633.2 538.0,627.5 543.0,623.6 546.6,629.0" fill="#4c30a0" stroke="#4c30a0" stroke-width="2.2" stroke-linejoin="round" opacity="0.94"/>
<polygon points="533.9,634.6 538.4,635.6 539.0,639.8 534.7,641.6 529.3,638.5" fill="#4c30a0" stroke="#4c30a0" stroke-width="2.2" stroke-linejoin="round" opacity="0.97"/>
<polygon points="523.2,634.0 522.2,628.2 526.7,625.3 531.1,630.5 528.5,632.1" fill="#6248b2" stroke="#6248b2" stroke-width="2.2" stroke-linejoin="round" opacity="0.94"/>
<polygon points="532.1,624.3 527.6,628.1 524.4,622.3 532.1,619.3" fill="#5c40ae" stroke="#5c40ae" stroke-width="2.2" stroke-linejoin="round" opacity="0.96"/>
<polygon points="525.2,636.4 522.4,635.2 523.3,632.2 527.8,632.2" fill="#5236a6" stroke="#5236a6" stroke-width="2.2" stroke-linejoin="round" opacity="0.96"/>
<polygon points="525.6,617.4 528.7,620.8 527.7,623.4 523.6,622.2" fill="#5c40ae" stroke="#5c40ae" stroke-width="2.2" stroke-linejoin="round" opacity="0.97"/>
<polygon points="529.8,640.4 530.4,635.0 534.5,636.5 533.5,640.5" fill="#6248b2" stroke="#6248b2" stroke-width="2.2" stroke-linejoin="round" opacity="0.95"/>
<polygon points="537.7,624.9 542.9,622.1 546.0,627.4 543.6,630.0" fill="#5c40ae" stroke="#5c40ae" stroke-width="2.2" stroke-linejoin="round" opacity="1.00"/>
<polygon points="558.2,630.3 554.0,631.0 551.7,631.9 551.6,627.0 554.3,625.2 556.5,627.6" fill="#4c30a0" stroke="#4c30a0" stroke-width="2.2" stroke-linejoin="round" opacity="0.99"/>
<polygon points="555.1,628.9 551.4,634.0 550.1,626.7" fill="#5236a6" stroke="#5236a6" stroke-width="2.2" stroke-linejoin="round" opacity="0.98"/>
<polygon points="549.1,622.1 545.3,624.4 546.9,619.5" fill="#6248b2" stroke="#6248b2" stroke-width="2.2" stroke-linejoin="round" opacity="0.97"/>
<polygon points="547.9,631.7 543.3,627.7 548.3,626.4" fill="#5236a6" stroke="#5236a6" stroke-width="2.2" stroke-linejoin="round" opacity="0.96"/>
<polygon points="558.0,630.7 552.1,626.8 558.0,620.8 562.4,627.3" fill="#4c30a0" stroke="#4c30a0" stroke-width="2.2" stroke-linejoin="round" opacity="0.94"/>
<polygon points="560.6,624.7 557.1,628.3 556.1,624.6 558.0,622.6" fill="#5236a6" stroke="#5236a6" stroke-width="2.2" stroke-linejoin="round" opacity="0.97"/>
<polygon points="551.6,634.7 548.5,639.4 546.1,637.8 545.4,631.9 550.5,631.9" fill="#6248b2" stroke="#6248b2" stroke-width="2.2" stroke-linejoin="round" opacity="0.99"/>
<polygon points="548.1,631.9 544.8,633.0 542.6,627.2 547.2,625.5" fill="#6248b2" stroke="#6248b2" stroke-width="2.2" stroke-linejoin="round" opacity="0.97"/>
<polygon points="546.5,626.3 554.6,625.5 550.8,631.2" fill="#4c30a0" stroke="#4c30a0" stroke-width="2.2" stroke-linejoin="round" opacity="1.00"/>
<polygon points="543.1,618.9 547.9,625.9 543.1,627.1 541.2,626.7 540.4,621.4" fill="#6248b2" stroke="#6248b2" stroke-width="2.2" stroke-linejoin="round" opacity="0.96"/>
<polygon points="553.6,623.3 549.9,621.8 548.0,617.3 553.4,618.2" fill="#5c40ae" stroke="#5c40ae" stroke-width="2.2" stroke-linejoin="round" opacity="0.98"/>
<polygon points="553.4,634.8 554.2,633.1 558.4,632.9 558.8,635.2 556.9,638.2 553.8,638.2" fill="#4c30a0" stroke="#4c30a0" stroke-width="2.2" stroke-linejoin="round" opacity="0.95"/>
<polygon points="546.3,633.9 549.3,636.5 546.8,640.2 544.0,637.2" fill="#4c30a0" stroke="#4c30a0" stroke-width="2.2" stroke-linejoin="round" opacity="0.95"/>
<polygon points="543.7,621.4 546.0,624.7 539.0,624.9 536.7,621.3" fill="#4c30a0" stroke="#4c30a0" stroke-width="2.2" stroke-linejoin="round" opacity="0.98"/>
<polygon points="560.5,618.9 566.8,621.9 563.2,627.3 557.4,627.2" fill="#6248b2" stroke="#6248b2" stroke-width="2.2" stroke-linejoin="round" opacity="0.96"/>
<polygon points="582.2,627.9 576.2,629.5 574.7,625.5 579.8,624.0" fill="#6248b2" stroke="#6248b2" stroke-width="2.2" stroke-linejoin="round" opacity="0.97"/>
<polygon points="560.8,622.9 565.3,623.7 564.8,629.0 562.4,629.7 558.5,624.9" fill="#6248b2" stroke="#6248b2" stroke-width="2.2" stroke-linejoin="round" opacity="0.97"/>
<polygon points="567.7,639.8 565.5,638.5 567.9,634.1 573.2,635.4 572.9,639.5" fill="#4c30a0" stroke="#4c30a0" stroke-width="2.2" stroke-linejoin="round" opacity="0.98"/>
<polygon points="574.0,622.5 570.9,626.0 566.0,621.5" fill="#4c30a0" stroke="#4c30a0" stroke-width="2.2" stroke-linejoin="round" opacity="0.99"/>
<polygon points="567.4,622.4 576.3,626.5 574.6,628.3 568.3,630.2 567.5,626.4" fill="#6248b2" stroke="#6248b2" stroke-width="2.2" stroke-linejoin="round" opacity="0.96"/>
<polygon points="565.4,628.3 567.8,622.5 572.1,621.2 573.9,626.3 570.2,628.8" fill="#6248b2" stroke="#6248b2" stroke-width="2.2" stroke-linejoin="round" opacity="0.96"/>
<polygon points="585.2,624.7 587.9,621.2 591.5,619.3 592.8,621.4 593.2,626.7 589.5,628.1" fill="#6248b2" stroke="#6248b2" stroke-width="2.2" stroke-linejoin="round" opacity="0.94"/>
<polygon points="587.2,634.4 585.3,631.1 586.7,627.9 589.4,628.9 592.1,631.2 589.4,633.9" fill="#5c40ae" stroke="#5c40ae" stroke-width="2.2" stroke-linejoin="round" opacity="0.99"/>
<polygon points="578.6,624.9 580.0,624.3 584.3,624.8 583.4,626.9 579.0,629.0" fill="#6248b2" stroke="#6248b2" stroke-width="2.2" stroke-linejoin="round" opacity="0.93"/>
<polygon points="589.6,637.7 584.5,633.2 591.6,631.4" fill="#4c30a0" stroke="#4c30a0" stroke-width="2.2" stroke-linejoin="round" opacity="0.99"/>
<polygon points="589.7,623.9 590.0,619.6 593.4,621.6 593.5,626.3" fill="#5236a6" stroke="#5236a6" stroke-width="2.2" stroke-linejoin="round" opacity="0.98"/>
<polygon points="584.9,626.0 588.8,632.4 580.2,634.2 581.1,629.7" fill="#5236a6" stroke="#5236a6" stroke-width="2.2" stroke-linejoin="round" opacity="0.96"/>
<polygon points="582.8,627.8 578.3,623.8 581.8,616.9 586.4,621.9" fill="#5c40ae" stroke="#5c40ae" stroke-width="2.2" stroke-linejoin="round" opacity="0.98"/>
<polygon points="584.8,621.9 591.2,627.3 583.2,628.4 580.8,624.3" fill="#4c30a0" stroke="#4c30a0" stroke-width="2.2" stroke-linejoin="round" opacity="0.97"/>
<polygon points="602.9,616.6 607.2,615.2 611.6,620.4 609.8,624.8 604.3,626.9 602.4,622.4" fill="#6248b2" stroke="#6248b2" stroke-width="2.2" stroke-linejoin="round" opacity="0.95"/>
<polygon points="603.5,624.2 608.4,629.7 598.5,628.2" fill="#4c30a0" stroke="#4c30a0" stroke-width="2.2" stroke-linejoin="round" opacity="0.95"/>
<polygon points="615.9,633.2 615.1,634.7 613.1,634.6 610.7,632.1 612.6,628.7 615.6,628.0" fill="#6248b2" stroke="#6248b2" stroke-width="2.2" stroke-linejoin="round" opacity="0.97"/>
<polygon points="607.2,625.1 599.0,621.0 605.3,618.2" fill="#5236a6" stroke="#5236a6" stroke-width="2.2" stroke-linejoin="round" opacity="0.97"/>
<polygon points="615.2,631.0 613.6,628.4 613.7,625.5 619.1,625.8 618.9,629.5" fill="#5236a6" stroke="#5236a6" stroke-width="2.2" stroke-linejoin="round" opacity="0.97"/>
<polygon points="616.0,633.1 616.4,628.1 619.6,630.1" fill="#5c40ae" stroke="#5c40ae" stroke-width="2.2" stroke-linejoin="round" opacity="0.99"/>
<polygon points="617.8,640.8 613.1,640.3 614.5,633.0 616.4,630.9 620.6,637.0" fill="#5c40ae" stroke="#5c40ae" stroke-width="2.2" stroke-linejoin="round" opacity="0.96"/>
<polygon points="607.8,627.2 612.2,624.3 613.1,629.1 610.3,631.3 607.9,630.8" fill="#5c40ae" stroke="#5c40ae" stroke-width="2.2" stroke-linejoin="round" opacity="0.99"/>
<polygon points="620.2,632.4 612.9,630.9 615.4,625.5 619.8,623.9 621.6,629.1" fill="#5236a6" stroke="#5236a6" stroke-width="2.2" stroke-linejoin="round" opacity="0.95"/>
<polygon points="614.7,633.6 616.3,639.5 615.3,640.9 610.0,640.1 608.7,636.8 611.1,630.9" fill="#6248b2" stroke="#6248b2" stroke-width="2.2" stroke-linejoin="round" opacity="0.98"/>
<polygon points="597.9,631.0 598.6,627.6 600.9,628.0 603.9,629.8 603.6,631.4 601.7,632.1" fill="#4c30a0" stroke="#4c30a0" stroke-width="2.2" stroke-linejoin="round" opacity="0.94"/>
<polygon points="622.7,622.8 625.0,625.2 623.2,628.3 619.0,626.1 619.8,623.8" fill="#5236a6" stroke="#5236a6" stroke-width="2.2" stroke-linejoin="round" opacity="0.95"/>
<polygon points="621.1,622.3 630.8,622.3 626.4,627.2" fill="#4c30a0" stroke="#4c30a0" stroke-width="2.2" stroke-linejoin="round" opacity="0.96"/>
<polygon points="634.5,628.4 636.0,633.6 630.8,636.0 628.7,637.4 625.1,632.7 626.8,629.0" fill="#5c40ae" stroke="#5c40ae" stroke-width="2.2" stroke-linejoin="round" opacity="0.99"/>
<polygon points="631.2,628.0 631.4,631.0 630.9,633.7 627.3,635.2 625.6,632.2 627.1,628.0" fill="#4c30a0" stroke="#4c30a0" stroke-width="2.2" stroke-linejoin="round" opacity="0.96"/>
<polygon points="621.6,638.8 624.3,634.2 628.4,636.0 625.7,640.9" fill="#5236a6" stroke="#5236a6" stroke-width="2.2" stroke-linejoin="round" opacity="0.99"/>
<polygon points="635.6,630.7 637.2,633.3 634.3,635.9 631.1,632.4 631.3,629.7" fill="#5c40ae" stroke="#5c40ae" stroke-width="2.2" stroke-linejoin="round" opacity="0.97"/>
<polygon points="638.8,628.1 633.0,626.1 634.1,623.3 639.7,622.9 641.3,625.5" fill="#4c30a0" stroke="#4c30a0" stroke-width="2.2" stroke-linejoin="round" opacity="0.99"/>
<polygon points="625.0,638.2 625.4,633.4 628.5,631.7 629.0,635.0 628.5,636.8" fill="#6248b2" stroke="#6248b2" stroke-width="2.2" stroke-linejoin="round" opacity="0.94"/>
<polygon points="634.9,636.3 640.3,636.9 638.0,640.2 635.0,641.8" fill="#6248b2" stroke="#6248b2" stroke-width="2.2" stroke-linejoin="round" opacity="0.98"/>
<polygon points="628.1,639.6 624.1,632.1 631.3,633.2" fill="#5236a6" stroke="#5236a6" stroke-width="2.2" stroke-linejoin="round" opacity="0.97"/>
<polygon points="629.6,618.8 627.7,622.6 623.8,624.7 621.0,623.5 620.1,618.9 622.8,618.0" fill="#5c40ae" stroke="#5c40ae" stroke-width="2.2" stroke-linejoin="round" opacity="0.95"/>
<polygon points="621.9,634.9 620.6,631.4 625.4,629.5 627.0,634.6" fill="#6248b2" stroke="#6248b2" stroke-width="2.2" stroke-linejoin="round" opacity="0.94"/>
<polygon points="622.1,637.7 621.8,631.1 628.0,631.0 626.1,637.6" fill="#4c30a0" stroke="#4c30a0" stroke-width="2.2" stroke-linejoin="round" opacity="0.99"/>
<polygon points="658.3,630.9 659.5,634.6 655.1,635.4 652.5,634.0 651.8,630.6 654.2,628.9" fill="#6248b2" stroke="#6248b2" stroke-width="2.2" stroke-linejoin="round" opacity="0.95"/>
<polygon points="653.0,631.4 656.5,622.7 661.5,630.6" fill="#5236a6" stroke="#5236a6" stroke-width="2.2" stroke-linejoin="round" opacity="0.99"/>
<polygon points="644.5,631.3 642.3,627.1 643.1,623.7 647.8,623.3 650.2,630.6" fill="#6248b2" stroke="#6248b2" stroke-width="2.2" stroke-linejoin="round" opacity="0.98"/>
<polygon points="647.4,638.0 645.4,632.8 651.0,629.0 650.8,634.7" fill="#4c30a0" stroke="#4c30a0" stroke-width="2.2" stroke-linejoin="round" opacity="0.98"/>
<polygon points="656.4,626.0 653.3,622.9 654.5,618.9 659.4,620.3 659.1,625.3" fill="#5236a6" stroke="#5236a6" stroke-width="2.2" stroke-linejoin="round" opacity="0.96"/>
<polygon points="644.7,631.1 639.0,633.9 639.3,625.4 645.0,625.4" fill="#4c30a0" stroke="#4c30a0" stroke-width="2.2" stroke-linejoin="round" opacity="1.00"/>
<polygon points="644.1,630.2 643.2,625.4 647.9,624.3 650.1,630.7" fill="#5236a6" stroke="#5236a6" stroke-width="2.2" stroke-linejoin="round" opacity="0.97"/>
<polygon points="645.3,632.4 643.1,635.8 640.5,634.1 639.4,631.7 643.2,629.3" fill="#5236a6" stroke="#5236a6" stroke-width="2.2" stroke-linejoin="round" opacity="0.99"/>
<polygon points="664.8,637.7 663.7,642.3 655.5,641.2 656.8,635.0 661.4,634.7" fill="#4c30a0" stroke="#4c30a0" stroke-width="2.2" stroke-linejoin="round" opacity="0.98"/>
<polygon points="643.3,633.5 640.2,631.9 643.2,629.5 647.4,630.9" fill="#4c30a0" stroke="#4c30a0" stroke-width="2.2" stroke-linejoin="round" opacity="0.99"/>
<polygon points="660.8,631.1 653.3,634.8 654.0,626.9" fill="#6248b2" stroke="#6248b2" stroke-width="2.2" stroke-linejoin="round" opacity="0.96"/>
<polygon points="512.5,648.2 513.6,651.1 511.5,653.2 510.0,653.7 508.2,650.4 509.6,648.1" fill="#5236a6" stroke="#5236a6" stroke-width="2.2" stroke-linejoin="round" opacity="0.96"/>
<polygon points="506.8,639.5 501.4,642.1 498.5,639.8 499.0,637.2 503.7,635.6 505.7,637.4" fill="#5236a6" stroke="#5236a6" stroke-width="2.2" stroke-linejoin="round" opacity="0.93"/>
<polygon points="522.2,659.7 519.0,659.7 516.8,655.3 520.3,654.4 521.4,655.6" fill="#4c30a0" stroke="#4c30a0" stroke-width="2.2" stroke-linejoin="round" opacity="0.96"/>
<polygon points="516.9,654.4 514.3,658.3 509.3,655.7 509.8,653.4 515.3,650.5" fill="#4c30a0" stroke="#4c30a0" stroke-width="2.2" stroke-linejoin="round" opacity="0.94"/>
<polygon points="498.5,656.6 503.1,653.5 506.3,655.4 502.8,660.9" fill="#4c30a0" stroke="#4c30a0" stroke-width="2.2" stroke-linejoin="round" opacity="0.98"/>
<polygon points="515.1,642.9 515.2,647.1 509.2,649.1 508.5,644.4 509.7,642.9" fill="#5236a6" stroke="#5236a6" stroke-width="2.2" stroke-linejoin="round" opacity="0.99"/>
<polygon points="517.4,655.5 517.9,653.1 521.0,652.5 523.2,653.4 523.8,657.2 521.1,658.8" fill="#5c40ae" stroke="#5c40ae" stroke-width="2.2" stroke-linejoin="round" opacity="0.98"/>
<polygon points="510.7,654.3 511.7,651.4 514.3,654.0 515.7,656.7 509.6,657.9" fill="#5c40ae" stroke="#5c40ae" stroke-width="2.2" stroke-linejoin="round" opacity="0.95"/>
<polygon points="509.0,653.5 511.3,653.2 512.5,655.5 512.2,656.8 509.9,657.9 508.0,655.5" fill="#5c40ae" stroke="#5c40ae" stroke-width="2.2" stroke-linejoin="round" opacity="1.00"/>
<polygon points="524.5,651.5 527.8,657.5 521.7,661.3 518.6,657.0 521.3,651.4" fill="#5c40ae" stroke="#5c40ae" stroke-width="2.2" stroke-linejoin="round" opacity="0.94"/>
<polygon points="536.4,658.4 532.3,659.3 530.7,652.4 536.1,652.5 536.6,653.9" fill="#5236a6" stroke="#5236a6" stroke-width="2.2" stroke-linejoin="round" opacity="0.98"/>
<polygon points="520.4,659.1 522.0,655.5 526.6,653.2 528.3,659.5" fill="#5236a6" stroke="#5236a6" stroke-width="2.2" stroke-linejoin="round" opacity="1.00"/>
<polygon points="538.1,646.8 536.7,641.1 546.7,642.8" fill="#6248b2" stroke="#6248b2" stroke-width="2.2" stroke-linejoin="round" opacity="0.93"/>
<polygon points="551.5,657.7 548.8,658.0 547.4,656.3 549.2,652.3 553.5,654.4" fill="#4c30a0" stroke="#4c30a0" stroke-width="2.2" stroke-linejoin="round" opacity="0.97"/>
<polygon points="544.4,651.8 547.9,651.9 547.7,658.5 542.0,658.4" fill="#5c40ae" stroke="#5c40ae" stroke-width="2.2" stroke-linejoin="round" opacity="0.98"/>
<polygon points="563.5,649.1 560.5,650.9 556.3,648.8 558.2,644.1 561.2,644.5" fill="#4c30a0" stroke="#4c30a0" stroke-width="2.2" stroke-linejoin="round" opacity="0.97"/>
<polygon points="537.1,646.5 543.0,644.8 545.8,647.3 545.0,650.8 540.5,650.4" fill="#5236a6" stroke="#5236a6" stroke-width="2.2" stroke-linejoin="round" opacity="0.96"/>
<polygon points="546.7,656.3 542.7,659.4 539.9,655.0 541.2,653.6 545.4,651.5" fill="#5236a6" stroke="#5236a6" stroke-width="2.2" stroke-linejoin="round" opacity="0.96"/>
<polygon points="537.8,649.1 542.2,647.2 544.3,651.6 540.5,653.5" fill="#4c30a0" stroke="#4c30a0" stroke-width="2.2" stroke-linejoin="round" opacity="0.94"/>
<polygon points="537.1,647.5 540.1,645.0 544.7,644.9 544.4,649.4 541.9,649.7" fill="#6248b2" stroke="#6248b2" stroke-width="2.2" stroke-linejoin="round" opacity="0.94"/>
<polygon points="560.7,662.7 557.6,659.4 559.6,656.0 563.4,657.9" fill="#5c40ae" stroke="#5c40ae" stroke-width="2.2" stroke-linejoin="round" opacity="0.96"/>
<polygon points="548.2,652.5 541.9,652.6 541.9,648.1 548.9,647.5" fill="#4c30a0" stroke="#4c30a0" stroke-width="2.2" stroke-linejoin="round" opacity="0.99"/>
<polygon points="571.1,652.2 571.1,655.6 567.9,657.7 565.0,654.5 567.7,652.4" fill="#5c40ae" stroke="#5c40ae" stroke-width="2.2" stroke-linejoin="round" opacity="0.95"/>
<polygon points="575.0,651.4 577.1,648.3 582.6,649.9 583.5,651.8 580.7,653.8 576.4,654.5" fill="#5236a6" stroke="#5236a6" stroke-width="2.2" stroke-linejoin="round" opacity="1.00"/>
<polygon points="561.6,654.4 563.1,659.8 559.2,660.1 559.1,654.6" fill="#6248b2" stroke="#6248b2" stroke-width="2.2" stroke-linejoin="round" opacity="0.96"/>
<polygon points="566.9,637.0 572.2,639.2 566.5,641.4" fill="#5236a6" stroke="#5236a6" stroke-width="2.2" stroke-linejoin="round" opacity="0.96"/>
<polygon points="566.7,643.4 571.8,647.4 564.9,648.1" fill="#6248b2" stroke="#6248b2" stroke-width="2.2" stroke-linejoin="round" opacity="0.94"/>
<polygon points="556.5,647.2 563.4,644.8 562.8,653.3" fill="#5236a6" stroke="#5236a6" stroke-width="2.2" stroke-linejoin="round" opacity="0.93"/>
<polygon points="576.1,661.2 575.8,656.1 580.4,657.6" fill="#5c40ae" stroke="#5c40ae" stroke-width="2.2" stroke-linejoin="round" opacity="0.99"/>
<polygon points="572.2,658.2 568.6,655.7 571.9,651.9 575.3,652.7 575.6,655.8" fill="#4c30a0" stroke="#4c30a0" stroke-width="2.2" stroke-linejoin="round" opacity="0.99"/>
<polygon points="578.2,640.6 580.9,646.2 574.6,646.3 574.5,640.5" fill="#6248b2" stroke="#6248b2" stroke-width="2.2" stroke-linejoin="round" opacity="1.00"/>
<polygon points="587.7,659.2 583.7,650.3 590.2,651.9" fill="#5c40ae" stroke="#5c40ae" stroke-width="2.2" stroke-linejoin="round" opacity="0.97"/>
<polygon points="597.9,657.6 603.0,656.3 601.3,661.4" fill="#6248b2" stroke="#6248b2" stroke-width="2.2" stroke-linejoin="round" opacity="1.00"/>
<polygon points="594.6,650.5 599.1,652.4 595.4,659.0 591.6,653.9" fill="#6248b2" stroke="#6248b2" stroke-width="2.2" stroke-linejoin="round" opacity="0.99"/>
<polygon points="594.6,648.5 599.9,650.8 600.4,653.3 596.7,656.5 595.0,654.2 594.6,651.1" fill="#5c40ae" stroke="#5c40ae" stroke-width="2.2" stroke-linejoin="round" opacity="0.99"/>
<polygon points="586.6,646.3 588.4,648.1 586.1,652.2 583.2,650.7 581.8,648.8 582.2,645.2" fill="#5236a6" stroke="#5236a6" stroke-width="2.2" stroke-linejoin="round" opacity="0.99"/>
<polygon points="601.0,659.3 595.5,656.2 594.4,650.9 602.2,650.5 602.2,654.9" fill="#4c30a0" stroke="#4c30a0" stroke-width="2.2" stroke-linejoin="round" opacity="1.00"/>
<polygon points="602.9,644.0 594.1,639.2 602.4,638.5" fill="#6248b2" stroke="#6248b2" stroke-width="2.2" stroke-linejoin="round" opacity="0.99"/>
<polygon points="582.7,655.8 581.0,651.7 585.2,650.6 587.4,656.1" fill="#5236a6" stroke="#5236a6" stroke-width="2.2" stroke-linejoin="round" opacity="0.94"/>
<polygon points="597.4,644.7 603.5,642.2 606.0,643.6 606.9,649.8 602.1,652.6 598.0,648.7" fill="#5236a6" stroke="#5236a6" stroke-width="2.2" stroke-linejoin="round" opacity="0.98"/>
<polygon points="620.0,655.6 613.3,661.6 612.9,654.8" fill="#5236a6" stroke="#5236a6" stroke-width="2.2" stroke-linejoin="round" opacity="0.99"/>
<polygon points="604.5,638.2 609.5,640.7 607.4,643.7 602.1,645.9 601.7,640.6" fill="#5236a6" stroke="#5236a6" stroke-width="2.2" stroke-linejoin="round" opacity="1.00"/>
<polygon points="623.0,654.9 618.4,657.4 615.9,654.5 619.1,649.7 619.9,647.6 622.9,650.8" fill="#5236a6" stroke="#5236a6" stroke-width="2.2" stroke-linejoin="round" opacity="0.96"/>
<polygon points="618.3,659.5 615.7,655.2 618.4,651.8 624.7,652.8 621.9,659.2" fill="#5c40ae" stroke="#5c40ae" stroke-width="2.2" stroke-linejoin="round" opacity="0.96"/>
<polygon points="618.5,642.4 621.8,646.4 618.9,650.6 616.7,650.5 614.1,643.9" fill="#5c40ae" stroke="#5c40ae" stroke-width="2.2" stroke-linejoin="round" opacity="0.93"/>
<polygon points="601.2,648.0 604.3,652.9 601.4,654.4 598.0,652.8" fill="#4c30a0" stroke="#4c30a0" stroke-width="2.2" stroke-linejoin="round" opacity="0.98"/>
<polygon points="622.6,660.8 615.5,658.9 614.1,655.5 623.5,655.3" fill="#6248b2" stroke="#6248b2" stroke-width="2.2" stroke-linejoin="round" opacity="1.00"/>
<polygon points="617.4,654.8 616.3,649.4 621.9,649.7 624.0,656.0 619.5,655.4" fill="#5c40ae" stroke="#5c40ae" stroke-width="2.2" stroke-linejoin="round" opacity="0.98"/>
<polygon points="617.0,645.1 621.6,643.0 622.4,648.7" fill="#5236a6" stroke="#5236a6" stroke-width="2.2" stroke-linejoin="round" opacity="0.98"/>
<polygon points="603.9,655.9 608.5,655.4 607.6,658.2 604.9,660.3 602.7,658.3" fill="#5c40ae" stroke="#5c40ae" stroke-width="2.2" stroke-linejoin="round" opacity="0.95"/>
<polygon points="619.0,647.6 622.5,649.8 619.6,654.3 617.5,650.9" fill="#6248b2" stroke="#6248b2" stroke-width="2.2" stroke-linejoin="round" opacity="0.94"/>
<polygon points="631.1,658.6 624.7,655.8 628.9,651.0" fill="#6248b2" stroke="#6248b2" stroke-width="2.2" stroke-linejoin="round" opacity="0.94"/>
<polygon points="639.7,639.4 641.1,641.0 639.4,644.3 637.1,642.6 636.8,640.8" fill="#5c40ae" stroke="#5c40ae" stroke-width="2.2" stroke-linejoin="round" opacity="0.95"/>
<polygon points="621.5,638.7 624.0,640.9 624.2,642.7 621.9,644.1 618.4,642.7 620.6,640.6" fill="#6248b2" stroke="#6248b2" stroke-width="2.2" stroke-linejoin="round" opacity="0.99"/>
<polygon points="637.5,659.5 634.7,658.4 636.5,654.0 640.3,655.6" fill="#5c40ae" stroke="#5c40ae" stroke-width="2.2" stroke-linejoin="round" opacity="0.96"/>
<polygon points="623.9,645.0 625.0,653.2 619.8,654.7 617.2,648.1" fill="#5c40ae" stroke="#5c40ae" stroke-width="2.2" stroke-linejoin="round" opacity="1.00"/>
<polygon points="629.9,655.6 630.5,659.8 627.4,661.1 624.8,657.6" fill="#5c40ae" stroke="#5c40ae" stroke-width="2.2" stroke-linejoin="round" opacity="0.95"/>
<polygon points="639.8,646.5 637.6,651.8 633.9,648.8 637.3,644.3" fill="#5c40ae" stroke="#5c40ae" stroke-width="2.2" stroke-linejoin="round" opacity="0.95"/>
<polygon points="624.7,642.2 622.9,645.4 617.7,641.2 620.1,639.6" fill="#5c40ae" stroke="#5c40ae" stroke-width="2.2" stroke-linejoin="round" opacity="0.99"/>
<polygon points="616.8,648.9 623.3,647.1 625.4,652.2 619.7,652.8" fill="#5236a6" stroke="#5236a6" stroke-width="2.2" stroke-linejoin="round" opacity="0.94"/>
<polygon points="625.3,647.3 624.0,650.0 618.9,650.2 617.7,647.1 618.5,644.4" fill="#6248b2" stroke="#6248b2" stroke-width="2.2" stroke-linejoin="round" opacity="0.94"/>
<polygon points="636.6,658.9 638.1,651.8 640.5,653.0 643.5,656.4 639.8,660.8" fill="#6248b2" stroke="#6248b2" stroke-width="2.2" stroke-linejoin="round" opacity="0.99"/>
<polygon points="628.3,649.5 623.7,652.3 623.2,647.7" fill="#5236a6" stroke="#5236a6" stroke-width="2.2" stroke-linejoin="round" opacity="0.98"/>
<polygon points="623.5,649.3 628.8,649.9 629.7,654.1 626.0,655.9" fill="#5236a6" stroke="#5236a6" stroke-width="2.2" stroke-linejoin="round" opacity="0.99"/>
<polygon points="625.5,645.7 619.6,646.0 619.5,638.9 622.9,639.6" fill="#5236a6" stroke="#5236a6" stroke-width="2.2" stroke-linejoin="round" opacity="0.98"/>
<polygon points="652.1,649.0 649.6,644.8 656.8,642.9 660.3,646.2 655.6,650.3" fill="#4c30a0" stroke="#4c30a0" stroke-width="2.2" stroke-linejoin="round" opacity="0.95"/>
<polygon points="650.0,645.8 654.1,644.3 657.5,645.2 657.1,652.9 653.7,653.6 650.5,651.2" fill="#6248b2" stroke="#6248b2" stroke-width="2.2" stroke-linejoin="round" opacity="0.96"/>
<polygon points="655.7,641.5 658.0,638.3 663.6,637.6 661.2,643.2" fill="#5c40ae" stroke="#5c40ae" stroke-width="2.2" stroke-linejoin="round" opacity="0.96"/>
<polygon points="649.1,661.4 645.9,659.9 650.2,655.2 654.2,657.4 654.8,659.5" fill="#4c30a0" stroke="#4c30a0" stroke-width="2.2" stroke-linejoin="round" opacity="0.97"/>
<polygon points="654.5,646.7 655.6,653.2 653.3,654.5 646.4,652.1 648.1,648.5 652.1,646.7" fill="#4c30a0" stroke="#4c30a0" stroke-width="2.2" stroke-linejoin="round" opacity="0.96"/>
<polygon points="642.4,662.4 637.6,658.7 642.0,653.6 646.7,655.1" fill="#5c40ae" stroke="#5c40ae" stroke-width="2.2" stroke-linejoin="round" opacity="0.97"/>
<polygon points="649.0,641.9 649.5,637.2 653.4,638.4 653.7,642.0 651.4,645.6" fill="#4c30a0" stroke="#4c30a0" stroke-width="2.2" stroke-linejoin="round" opacity="0.95"/>
<polygon points="653.4,648.9 655.2,648.1 659.8,650.0 658.0,654.3 653.3,651.8" fill="#5236a6" stroke="#5236a6" stroke-width="2.2" stroke-linejoin="round" opacity="1.00"/>
<polygon points="659.6,659.1 654.0,662.7 652.5,658.0 654.4,654.2 659.6,653.1" fill="#4c30a0" stroke="#4c30a0" stroke-width="2.2" stroke-linejoin="round" opacity="0.98"/>
<polygon points="646.4,648.4 642.6,646.2 646.1,644.0 649.7,647.6" fill="#6248b2" stroke="#6248b2" stroke-width="2.2" stroke-linejoin="round" opacity="0.95"/>
<polygon points="656.0,655.3 655.6,660.2 646.3,659.5 649.5,652.8" fill="#5c40ae" stroke="#5c40ae" stroke-width="2.2" stroke-linejoin="round" opacity="0.94"/>
<polygon points="518.2,663.1 518.7,659.6 523.8,661.8 521.4,663.9" fill="#5c40ae" stroke="#5c40ae" stroke-width="2.2" stroke-linejoin="round" opacity="0.94"/>
<polygon points="511.6,667.7 516.6,664.7 514.1,670.9" fill="#5c40ae" stroke="#5c40ae" stroke-width="2.2" stroke-linejoin="round" opacity="0.94"/>
<polygon points="500.8,666.2 505.4,664.6 505.9,667.6 500.6,668.8" fill="#4c30a0" stroke="#4c30a0" stroke-width="2.2" stroke-linejoin="round" opacity="0.98"/>
<polygon points="510.3,671.6 518.1,672.6 516.4,677.3" fill="#5236a6" stroke="#5236a6" stroke-width="2.2" stroke-linejoin="round" opacity="0.94"/>
<polygon points="514.0,672.1 515.9,668.6 520.3,671.1 521.5,674.9 513.9,676.6" fill="#5c40ae" stroke="#5c40ae" stroke-width="2.2" stroke-linejoin="round" opacity="0.97"/>
<polygon points="508.7,659.5 512.8,657.5 517.8,660.8 512.6,665.0" fill="#5236a6" stroke="#5236a6" stroke-width="2.2" stroke-linejoin="round" opacity="1.00"/>
<polygon points="520.8,673.2 515.8,674.0 517.7,667.7 521.4,668.2" fill="#5236a6" stroke="#5236a6" stroke-width="2.2" stroke-linejoin="round" opacity="0.97"/>
<polygon points="514.7,681.5 511.3,679.5 512.3,677.1 513.8,675.5 516.7,676.6 517.5,679.2" fill="#4c30a0" stroke="#4c30a0" stroke-width="2.2" stroke-linejoin="round" opacity="0.96"/>
<polygon points="521.6,666.8 521.7,670.3 516.7,672.3 515.5,667.8 518.3,663.8" fill="#5236a6" stroke="#5236a6" stroke-width="2.2" stroke-linejoin="round" opacity="0.98"/>
<polygon points="529.3,664.9 534.1,660.7 538.5,665.9 531.8,669.9 529.9,669.5" fill="#5c40ae" stroke="#5c40ae" stroke-width="2.2" stroke-linejoin="round" opacity="0.98"/>
<polygon points="532.9,664.3 533.9,669.8 530.7,671.8 525.9,671.5 526.4,666.2 530.6,664.7" fill="#4c30a0" stroke="#4c30a0" stroke-width="2.2" stroke-linejoin="round" opacity="0.98"/>
<polygon points="535.2,668.9 534.3,675.6 530.1,677.7 528.2,674.6 529.3,669.9 531.0,668.1" fill="#5c40ae" stroke="#5c40ae" stroke-width="2.2" stroke-linejoin="round" opacity="1.00"/>
<polygon points="550.4,661.9 553.8,663.2 553.9,666.9 552.3,667.9 548.4,667.2 548.1,664.4" fill="#5c40ae" stroke="#5c40ae" stroke-width="2.2" stroke-linejoin="round" opacity="1.00"/>
<polygon points="548.5,663.2 552.4,668.6 545.9,668.1" fill="#5c40ae" stroke="#5c40ae" stroke-width="2.2" stroke-linejoin="round" opacity="0.98"/>
<polygon points="556.2,662.1 554.7,665.3 550.9,663.9 553.9,658.7" fill="#5236a6" stroke="#5236a6" stroke-width="2.2" stroke-linejoin="round" opacity="0.94"/>
<polygon points="556.5,675.5 551.5,673.4 552.9,669.7 556.9,669.7 558.4,672.0" fill="#6248b2" stroke="#6248b2" stroke-width="2.2" stroke-linejoin="round" opacity="0.97"/>
<polygon points="541.3,667.4 542.8,663.3 545.1,666.5" fill="#5c40ae" stroke="#5c40ae" stroke-width="2.2" stroke-linejoin="round" opacity="0.93"/>
<polygon points="545.5,667.4 548.3,670.8 547.7,675.0 542.7,672.6" fill="#5c40ae" stroke="#5c40ae" stroke-width="2.2" stroke-linejoin="round" opacity="0.96"/>
<polygon points="552.2,674.3 550.2,672.5 549.9,667.9 554.5,667.5 555.2,672.7 553.5,673.9" fill="#6248b2" stroke="#6248b2" stroke-width="2.2" stroke-linejoin="round" opacity="0.97"/>
<polygon points="553.2,669.7 557.2,670.2 553.0,676.4 550.5,673.9" fill="#5236a6" stroke="#5236a6" stroke-width="2.2" stroke-linejoin="round" opacity="0.95"/>
<polygon points="556.4,665.6 556.6,664.0 558.9,663.9 561.2,665.3 561.1,667.1 559.1,669.3" fill="#6248b2" stroke="#6248b2" stroke-width="2.2" stroke-linejoin="round" opacity="0.97"/>
<polygon points="541.3,668.6 540.9,666.3 545.1,664.9 546.6,665.8 545.1,669.5 543.3,671.0" fill="#6248b2" stroke="#6248b2" stroke-width="2.2" stroke-linejoin="round" opacity="0.98"/>
<polygon points="582.2,660.1 582.2,665.2 577.7,665.9 576.3,664.7 575.2,659.3" fill="#4c30a0" stroke="#4c30a0" stroke-width="2.2" stroke-linejoin="round" opacity="0.97"/>
<polygon points="580.6,667.0 578.0,671.3 576.5,671.9 571.8,666.7 575.3,664.3 578.5,664.5" fill="#5c40ae" stroke="#5c40ae" stroke-width="2.2" stroke-linejoin="round" opacity="0.95"/>
<polygon points="578.7,664.2 580.7,665.7 577.4,669.3 573.8,670.3 571.3,665.9 573.4,663.5" fill="#6248b2" stroke="#6248b2" stroke-width="2.2" stroke-linejoin="round" opacity="0.93"/>
<polygon points="573.6,673.8 568.5,674.7 570.1,668.5 576.0,667.3" fill="#5c40ae" stroke="#5c40ae" stroke-width="2.2" stroke-linejoin="round" opacity="0.98"/>
<polygon points="579.4,677.4 574.0,678.2 571.0,676.8 572.3,671.7 577.1,672.3" fill="#6248b2" stroke="#6248b2" stroke-width="2.2" stroke-linejoin="round" opacity="0.93"/>
<polygon points="570.0,674.4 568.5,672.2 571.6,670.3 574.9,674.8 573.1,675.5" fill="#5c40ae" stroke="#5c40ae" stroke-width="2.2" stroke-linejoin="round" opacity="0.97"/>
<polygon points="557.7,676.2 563.3,671.7 564.8,680.1" fill="#5c40ae" stroke="#5c40ae" stroke-width="2.2" stroke-linejoin="round" opacity="0.95"/>
<polygon points="580.2,671.2 579.9,673.8 575.6,675.4 575.8,670.5" fill="#4c30a0" stroke="#4c30a0" stroke-width="2.2" stroke-linejoin="round" opacity="0.96"/>
<polygon points="587.5,658.7 594.1,665.0 586.9,668.6 585.7,662.7" fill="#5c40ae" stroke="#5c40ae" stroke-width="2.2" stroke-linejoin="round" opacity="0.96"/>
<polygon points="590.8,666.8 586.7,668.7 585.0,664.6 591.3,661.7" fill="#4c30a0" stroke="#4c30a0" stroke-width="2.2" stroke-linejoin="round" opacity="0.98"/>
<polygon points="600.6,670.2 599.2,674.2 595.9,671.9 596.3,669.0 598.4,667.7" fill="#5236a6" stroke="#5236a6" stroke-width="2.2" stroke-linejoin="round" opacity="0.98"/>
<polygon points="593.1,664.9 588.7,667.5 584.9,661.5 590.2,658.7" fill="#6248b2" stroke="#6248b2" stroke-width="2.2" stroke-linejoin="round" opacity="0.93"/>
<polygon points="606.6,658.9 603.8,662.0 596.4,661.2 600.5,655.5" fill="#5236a6" stroke="#5236a6" stroke-width="2.2" stroke-linejoin="round" opacity="0.96"/>
<polygon points="607.7,657.5 609.3,656.2 610.9,656.8 610.9,660.8 610.4,662.1 605.6,659.3" fill="#5236a6" stroke="#5236a6" stroke-width="2.2" stroke-linejoin="round" opacity="0.95"/>
<polygon points="596.5,660.0 603.2,654.4 606.1,660.3 599.8,665.0" fill="#5c40ae" stroke="#5c40ae" stroke-width="2.2" stroke-linejoin="round" opacity="0.94"/>
<polygon points="606.2,666.6 612.7,666.4 611.5,672.6" fill="#5236a6" stroke="#5236a6" stroke-width="2.2" stroke-linejoin="round" opacity="0.96"/>
<polygon points="612.8,666.5 612.8,664.8 616.4,663.2 617.7,668.0 615.3,668.7" fill="#5c40ae" stroke="#5c40ae" stroke-width="2.2" stroke-linejoin="round" opacity="0.94"/>
<polygon points="603.3,664.7 605.9,671.0 598.5,671.2 598.3,667.0" fill="#4c30a0" stroke="#4c30a0" stroke-width="2.2" stroke-linejoin="round" opacity="0.99"/>
<polygon points="621.1,677.9 619.0,683.1 613.6,680.0 615.9,675.0" fill="#5236a6" stroke="#5236a6" stroke-width="2.2" stroke-linejoin="round" opacity="0.94"/>
<polygon points="599.0,656.8 602.6,655.9 604.0,663.2 599.7,664.4" fill="#6248b2" stroke="#6248b2" stroke-width="2.2" stroke-linejoin="round" opacity="0.93"/>
<polygon points="608.4,675.9 604.8,677.7 601.7,677.1 603.4,672.2 606.4,674.4" fill="#4c30a0" stroke="#4c30a0" stroke-width="2.2" stroke-linejoin="round" opacity="0.99"/>
<polygon points="618.1,673.0 614.9,676.8 613.1,672.5" fill="#5236a6" stroke="#5236a6" stroke-width="2.2" stroke-linejoin="round" opacity="0.98"/>
<polygon points="615.2,674.0 618.2,671.8 619.5,675.7 616.2,677.3" fill="#6248b2" stroke="#6248b2" stroke-width="2.2" stroke-linejoin="round" opacity="0.96"/>
<polygon points="616.1,661.8 613.2,666.0 610.4,664.4 610.6,659.6 613.1,657.6" fill="#5c40ae" stroke="#5c40ae" stroke-width="2.2" stroke-linejoin="round" opacity="0.99"/>
<polygon points="617.0,664.9 610.6,664.2 612.3,657.2 616.6,658.6" fill="#6248b2" stroke="#6248b2" stroke-width="2.2" stroke-linejoin="round" opacity="0.99"/>
<polygon points="643.5,659.8 642.5,662.0 637.7,662.2 638.4,657.3 642.1,656.1" fill="#6248b2" stroke="#6248b2" stroke-width="2.2" stroke-linejoin="round" opacity="1.00"/>
<polygon points="638.6,664.3 631.6,665.4 630.0,660.3 632.8,657.2 637.4,659.2" fill="#4c30a0" stroke="#4c30a0" stroke-width="2.2" stroke-linejoin="round" opacity="0.93"/>
<polygon points="630.1,669.7 627.0,666.3 632.4,662.1 634.7,665.7" fill="#4c30a0" stroke="#4c30a0" stroke-width="2.2" stroke-linejoin="round" opacity="0.97"/>
<polygon points="625.7,658.2 629.9,657.7 627.6,662.1" fill="#6248b2" stroke="#6248b2" stroke-width="2.2" stroke-linejoin="round" opacity="0.93"/>
<polygon points="624.2,671.6 620.6,674.8 620.8,668.6" fill="#5c40ae" stroke="#5c40ae" stroke-width="2.2" stroke-linejoin="round" opacity="0.97"/>
<polygon points="638.3,673.0 637.6,675.4 634.8,677.1 633.0,675.9 632.6,672.6 633.5,672.2" fill="#5236a6" stroke="#5236a6" stroke-width="2.2" stroke-linejoin="round" opacity="0.97"/>
<polygon points="624.2,665.8 627.0,664.1 631.1,666.0 627.3,671.1 625.8,669.5" fill="#5c40ae" stroke="#5c40ae" stroke-width="2.2" stroke-linejoin="round" opacity="0.94"/>
<polygon points="623.0,668.2 624.2,670.3 619.8,675.6 616.8,670.7 617.3,668.8" fill="#5236a6" stroke="#5236a6" stroke-width="2.2" stroke-linejoin="round" opacity="0.94"/>
<polygon points="630.7,674.8 629.1,676.6 625.7,675.9 624.5,674.2 628.7,672.6" fill="#5c40ae" stroke="#5c40ae" stroke-width="2.2" stroke-linejoin="round" opacity="0.96"/>
<polygon points="625.7,679.8 622.7,679.5 624.6,675.7 628.1,675.6 628.4,678.0" fill="#5236a6" stroke="#5236a6" stroke-width="2.2" stroke-linejoin="round" opacity="1.00"/>
<polygon points="628.9,678.6 625.0,677.1 628.7,670.3 634.7,674.8 632.8,679.6" fill="#4c30a0" stroke="#4c30a0" stroke-width="2.2" stroke-linejoin="round" opacity="0.94"/>
<polygon points="619.5,673.0 622.9,667.6 628.8,674.3 624.7,676.9" fill="#6248b2" stroke="#6248b2" stroke-width="2.2" stroke-linejoin="round" opacity="1.00"/>
<polygon points="635.4,670.9 633.9,668.1 638.5,662.8 640.8,666.6 642.1,670.0" fill="#5c40ae" stroke="#5c40ae" stroke-width="2.2" stroke-linejoin="round" opacity="0.96"/>
<polygon points="656.2,678.4 651.7,677.6 650.8,673.1 654.4,670.8 655.6,671.6 657.8,673.9" fill="#6248b2" stroke="#6248b2" stroke-width="2.2" stroke-linejoin="round" opacity="0.96"/>
<polygon points="658.8,664.6 659.1,661.0 662.2,662.4 663.5,666.4 659.8,666.6" fill="#6248b2" stroke="#6248b2" stroke-width="2.2" stroke-linejoin="round" opacity="0.93"/>
<polygon points="659.8,675.8 656.5,679.2 654.2,671.8" fill="#6248b2" stroke="#6248b2" stroke-width="2.2" stroke-linejoin="round" opacity="0.95"/>
<polygon points="654.5,672.9 651.9,676.4 650.3,670.8" fill="#6248b2" stroke="#6248b2" stroke-width="2.2" stroke-linejoin="round" opacity="0.95"/>
<polygon points="652.1,663.1 651.0,666.9 646.7,664.3 649.8,660.2" fill="#6248b2" stroke="#6248b2" stroke-width="2.2" stroke-linejoin="round" opacity="0.98"/>
<polygon points="652.1,668.9 645.2,668.6 649.9,663.2" fill="#5c40ae" stroke="#5c40ae" stroke-width="2.2" stroke-linejoin="round" opacity="0.95"/>
<polygon points="655.2,678.1 659.6,673.9 660.5,682.3" fill="#5c40ae" stroke="#5c40ae" stroke-width="2.2" stroke-linejoin="round" opacity="0.93"/>
<polygon points="649.3,669.9 654.1,668.5 656.4,672.1 648.1,673.4" fill="#6248b2" stroke="#6248b2" stroke-width="2.2" stroke-linejoin="round" opacity="1.00"/>
<polygon points="646.1,666.6 643.0,665.0 647.1,661.9 650.8,665.0" fill="#4c30a0" stroke="#4c30a0" stroke-width="2.2" stroke-linejoin="round" opacity="0.97"/>
<polygon points="657.0,668.9 648.5,671.7 648.7,665.5 652.5,664.3" fill="#6248b2" stroke="#6248b2" stroke-width="2.2" stroke-linejoin="round" opacity="0.95"/>
<polygon points="655.1,671.8 654.8,675.6 652.8,678.0 648.4,675.5 652.4,672.4" fill="#5236a6" stroke="#5236a6" stroke-width="2.2" stroke-linejoin="round" opacity="0.93"/>
<polygon points="662.2,660.3 657.7,662.3 655.7,657.0" fill="#5c40ae" stroke="#5c40ae" stroke-width="2.2" stroke-linejoin="round" opacity="0.97"/>
<polygon points="656.2,664.5 660.2,664.2 660.8,670.0 658.5,669.7" fill="#5c40ae" stroke="#5c40ae" stroke-width="2.2" stroke-linejoin="round" opacity="0.94"/>
<polygon points="662.4,662.0 660.6,667.4 656.6,666.2 657.2,662.2" fill="#4c30a0" stroke="#4c30a0" stroke-width="2.2" stroke-linejoin="round" opacity="0.96"/>
<polygon points="645.9,675.8 649.4,679.4 642.8,681.8" fill="#6248b2" stroke="#6248b2" stroke-width="2.2" stroke-linejoin="round" opacity="0.94"/>
<polygon points="506.6,701.4 504.0,700.2 504.8,695.6 508.2,696.1 510.4,699.0 509.6,700.5" fill="#4c30a0" stroke="#4c30a0" stroke-width="2.2" stroke-linejoin="round" opacity="0.95"/>
<polygon points="502.4,676.4 507.4,681.0 504.9,683.1 500.5,680.5" fill="#4c30a0" stroke="#4c30a0" stroke-width="2.2" stroke-linejoin="round" opacity="0.97"/>
<polygon points="502.1,687.4 503.9,689.1 502.9,691.6 499.6,690.6 498.7,687.5" fill="#5236a6" stroke="#5236a6" stroke-width="2.2" stroke-linejoin="round" opacity="0.97"/>
<polygon points="504.0,686.7 507.4,693.2 502.7,694.1 501.6,689.3" fill="#6248b2" stroke="#6248b2" stroke-width="2.2" stroke-linejoin="round" opacity="0.95"/>
<polygon points="501.2,687.4 501.1,681.2 506.1,685.5" fill="#6248b2" stroke="#6248b2" stroke-width="2.2" stroke-linejoin="round" opacity="0.98"/>
<polygon points="505.7,688.1 511.0,690.9 506.7,695.9 502.9,694.0" fill="#6248b2" stroke="#6248b2" stroke-width="2.2" stroke-linejoin="round" opacity="0.93"/>
<polygon points="506.6,690.6 512.1,688.8 513.2,693.3 510.0,694.5 506.7,693.7" fill="#4c30a0" stroke="#4c30a0" stroke-width="2.2" stroke-linejoin="round" opacity="1.00"/>
<polygon points="508.1,693.0 508.7,690.9 514.9,691.3 515.9,693.6 513.7,698.8 512.2,699.5" fill="#5236a6" stroke="#5236a6" stroke-width="2.2" stroke-linejoin="round" opacity="0.93"/>
<polygon points="511.5,681.9 510.5,686.0 504.9,683.9 503.8,677.3 510.3,678.8" fill="#4c30a0" stroke="#4c30a0" stroke-width="2.2" stroke-linejoin="round" opacity="0.97"/>
<polygon points="534.4,689.7 526.5,688.0 529.1,682.0" fill="#5236a6" stroke="#5236a6" stroke-width="2.2" stroke-linejoin="round" opacity="0.99"/>
<polygon points="524.0,696.3 529.4,695.2 529.9,699.0" fill="#4c30a0" stroke="#4c30a0" stroke-width="2.2" stroke-linejoin="round" opacity="0.95"/>
<polygon points="517.6,677.2 523.6,678.2 524.2,680.9 520.2,684.3 518.2,680.1" fill="#6248b2" stroke="#6248b2" stroke-width="2.2" stroke-linejoin="round" opacity="0.93"/>
<polygon points="534.6,682.6 536.8,685.4 536.1,688.6 531.7,687.2 530.8,685.7" fill="#4c30a0" stroke="#4c30a0" stroke-width="2.2" stroke-linejoin="round" opacity="1.00"/>
<polygon points="536.5,680.7 537.5,684.0 530.7,685.6 530.8,679.8" fill="#5c40ae" stroke="#5c40ae" stroke-width="2.2" stroke-linejoin="round" opacity="1.00"/>
<polygon points="532.5,693.0 534.9,695.8 536.0,699.7 531.0,702.4 525.6,698.3 526.9,694.5" fill="#6248b2" stroke="#6248b2" stroke-width="2.2" stroke-linejoin="round" opacity="0.97"/>
<polygon points="535.6,684.8 533.4,685.0 531.8,680.4 536.0,680.5" fill="#4c30a0" stroke="#4c30a0" stroke-width="2.2" stroke-linejoin="round" opacity="0.96"/>
<polygon points="534.1,686.7 535.0,689.6 531.8,694.2 529.0,688.7" fill="#5236a6" stroke="#5236a6" stroke-width="2.2" stroke-linejoin="round" opacity="0.94"/>
<polygon points="555.8,697.8 553.1,696.9 551.8,692.9 557.8,693.1 559.2,696.9" fill="#6248b2" stroke="#6248b2" stroke-width="2.2" stroke-linejoin="round" opacity="0.95"/>
<polygon points="555.5,683.7 552.5,687.1 551.0,685.1 553.5,682.6" fill="#5236a6" stroke="#5236a6" stroke-width="2.2" stroke-linejoin="round" opacity="0.99"/>
<polygon points="552.3,688.8 558.1,684.7 560.6,689.8" fill="#5236a6" stroke="#5236a6" stroke-width="2.2" stroke-linejoin="round" opacity="0.96"/>
<polygon points="544.9,696.5 543.7,700.5 537.9,699.4 538.9,695.8 542.9,691.9" fill="#4c30a0" stroke="#4c30a0" stroke-width="2.2" stroke-linejoin="round" opacity="0.99"/>
<polygon points="542.6,686.5 541.4,681.4 548.3,684.7" fill="#5236a6" stroke="#5236a6" stroke-width="2.2" stroke-linejoin="round" opacity="0.97"/>
<polygon points="541.7,690.0 544.8,689.5 545.9,692.8 543.6,695.6" fill="#5c40ae" stroke="#5c40ae" stroke-width="2.2" stroke-linejoin="round" opacity="0.95"/>
<polygon points="557.3,697.2 550.5,692.8 553.8,689.2 558.4,690.9" fill="#5236a6" stroke="#5236a6" stroke-width="2.2" stroke-linejoin="round" opacity="0.97"/>
<polygon points="553.4,695.8 558.1,697.3 555.5,700.6" fill="#4c30a0" stroke="#4c30a0" stroke-width="2.2" stroke-linejoin="round" opacity="0.98"/>
<polygon points="545.0,689.5 541.0,684.9 543.7,682.6 548.8,681.8 547.9,686.4" fill="#4c30a0" stroke="#4c30a0" stroke-width="2.2" stroke-linejoin="round" opacity="0.96"/>
<polygon points="579.5,701.3 575.4,699.6 574.1,695.3 579.3,693.1 579.6,698.8" fill="#5236a6" stroke="#5236a6" stroke-width="2.2" stroke-linejoin="round" opacity="0.99"/>
<polygon points="562.0,699.0 557.7,691.5 566.3,693.0" fill="#5236a6" stroke="#5236a6" stroke-width="2.2" stroke-linejoin="round" opacity="1.00"/>
<polygon points="568.8,686.1 573.1,689.0 567.7,691.4" fill="#5236a6" stroke="#5236a6" stroke-width="2.2" stroke-linejoin="round" opacity="0.96"/>
<polygon points="574.5,692.8 571.2,692.5 570.3,690.0 573.7,687.8" fill="#5c40ae" stroke="#5c40ae" stroke-width="2.2" stroke-linejoin="round" opacity="0.96"/>
<polygon points="572.2,686.0 576.1,686.9 577.2,688.0 577.3,693.0 569.3,690.2" fill="#5236a6" stroke="#5236a6" stroke-width="2.2" stroke-linejoin="round" opacity="0.94"/>
<polygon points="566.6,689.5 562.5,687.7 561.6,685.7 567.1,682.7 569.0,683.7 569.7,689.7" fill="#5236a6" stroke="#5236a6" stroke-width="2.2" stroke-linejoin="round" opacity="0.94"/>
<polygon points="570.7,678.7 570.6,684.9 566.7,685.8 563.3,679.8 566.9,679.7" fill="#4c30a0" stroke="#4c30a0" stroke-width="2.2" stroke-linejoin="round" opacity="0.98"/>
<polygon points="570.7,691.7 574.7,687.7 576.3,691.9 573.9,693.8" fill="#5c40ae" stroke="#5c40ae" stroke-width="2.2" stroke-linejoin="round" opacity="0.95"/>
<polygon points="575.4,691.9 571.8,688.8 574.9,683.0 578.4,689.4" fill="#6248b2" stroke="#6248b2" stroke-width="2.2" stroke-linejoin="round" opacity="0.96"/>
<polygon points="598.6,683.9 603.7,689.3 596.4,691.7 594.0,686.4" fill="#6248b2" stroke="#6248b2" stroke-width="2.2" stroke-linejoin="round" opacity="0.93"/>
<polygon points="589.4,683.2 589.4,686.4 589.5,688.0 586.5,688.3 583.3,685.9 583.8,683.0" fill="#5c40ae" stroke="#5c40ae" stroke-width="2.2" stroke-linejoin="round" opacity="0.99"/>
<polygon points="593.9,700.7 592.9,698.6 594.7,694.2 598.3,695.7 598.9,697.4" fill="#5c40ae" stroke="#5c40ae" stroke-width="2.2" stroke-linejoin="round" opacity="0.96"/>
<polygon points="597.4,687.2 593.7,683.8 599.9,681.7 601.7,684.3 602.8,687.3" fill="#5c40ae" stroke="#5c40ae" stroke-width="2.2" stroke-linejoin="round" opacity="0.95"/>
<polygon points="591.3,684.6 598.6,685.2 598.4,690.2 594.2,691.1 590.5,688.7" fill="#5236a6" stroke="#5236a6" stroke-width="2.2" stroke-linejoin="round" opacity="0.96"/>
<polygon points="595.6,685.9 596.2,681.9 599.1,682.4 601.4,685.6 601.2,687.0 598.7,687.6" fill="#6248b2" stroke="#6248b2" stroke-width="2.2" stroke-linejoin="round" opacity="0.95"/>
<polygon points="599.5,689.6 595.0,687.5 596.0,681.4 599.8,681.0 601.5,687.4" fill="#4c30a0" stroke="#4c30a0" stroke-width="2.2" stroke-linejoin="round" opacity="0.96"/>
<polygon points="604.7,692.1 609.1,692.7 608.7,695.9 606.6,696.9 604.8,695.4" fill="#6248b2" stroke="#6248b2" stroke-width="2.2" stroke-linejoin="round" opacity="0.94"/>
<polygon points="604.8,697.2 600.0,691.0 605.7,689.6 609.3,690.4 609.4,696.3" fill="#5236a6" stroke="#5236a6" stroke-width="2.2" stroke-linejoin="round" opacity="0.97"/>
<polygon points="605.9,679.7 609.0,674.8 614.7,675.8 614.3,678.7 611.4,684.8" fill="#5c40ae" stroke="#5c40ae" stroke-width="2.2" stroke-linejoin="round" opacity="0.95"/>
<polygon points="609.2,687.8 610.5,686.3 615.0,690.0 609.9,695.7 608.6,693.5" fill="#4c30a0" stroke="#4c30a0" stroke-width="2.2" stroke-linejoin="round" opacity="0.99"/>
<polygon points="612.5,679.4 617.3,678.6 618.6,685.2 612.9,685.8 610.3,681.4" fill="#4c30a0" stroke="#4c30a0" stroke-width="2.2" stroke-linejoin="round" opacity="0.95"/>
<polygon points="613.0,686.2 612.6,691.1 607.1,688.9 606.4,684.1 610.5,684.6" fill="#5236a6" stroke="#5236a6" stroke-width="2.2" stroke-linejoin="round" opacity="0.98"/>
<polygon points="609.3,681.2 611.1,677.3 614.6,676.7 615.6,682.2 614.8,684.4" fill="#5236a6" stroke="#5236a6" stroke-width="2.2" stroke-linejoin="round" opacity="0.95"/>
<polygon points="622.0,688.9 616.4,685.0 621.0,680.9" fill="#5236a6" stroke="#5236a6" stroke-width="2.2" stroke-linejoin="round" opacity="0.95"/>
<polygon points="611.4,694.4 613.0,699.8 610.6,702.8 604.9,700.5 606.2,698.0 607.6,694.3" fill="#6248b2" stroke="#6248b2" stroke-width="2.2" stroke-linejoin="round" opacity="0.99"/>
<polygon points="613.9,691.0 608.9,695.7 606.9,692.3 606.9,687.3 611.8,687.5" fill="#4c30a0" stroke="#4c30a0" stroke-width="2.2" stroke-linejoin="round" opacity="0.99"/>
<polygon points="606.8,695.1 602.6,695.4 603.1,691.7" fill="#5c40ae" stroke="#5c40ae" stroke-width="2.2" stroke-linejoin="round" opacity="0.97"/>
<polygon points="610.8,684.0 605.9,685.6 605.2,684.2 604.3,680.3 607.2,679.6 610.5,680.7" fill="#4c30a0" stroke="#4c30a0" stroke-width="2.2" stroke-linejoin="round" opacity="0.97"/>
<polygon points="623.0,680.5 628.7,678.6 630.0,680.2 631.3,685.6 624.8,685.2" fill="#4c30a0" stroke="#4c30a0" stroke-width="2.2" stroke-linejoin="round" opacity="0.98"/>
<polygon points="628.8,693.8 625.4,699.1 621.2,691.6" fill="#5c40ae" stroke="#5c40ae" stroke-width="2.2" stroke-linejoin="round" opacity="0.94"/>
<polygon points="627.7,689.2 630.7,688.1 632.6,691.6 627.9,693.3" fill="#5236a6" stroke="#5236a6" stroke-width="2.2" stroke-linejoin="round" opacity="0.95"/>
<polygon points="635.9,696.6 632.5,696.6 632.7,692.8 635.9,691.6 637.2,695.4" fill="#6248b2" stroke="#6248b2" stroke-width="2.2" stroke-linejoin="round" opacity="0.94"/>
<polygon points="633.6,689.8 631.1,686.9 632.9,682.9 636.1,685.0 635.5,687.9" fill="#4c30a0" stroke="#4c30a0" stroke-width="2.2" stroke-linejoin="round" opacity="0.98"/>
<polygon points="630.6,684.8 627.1,687.5 625.1,682.6 626.8,681.0 629.7,679.9" fill="#4c30a0" stroke="#4c30a0" stroke-width="2.2" stroke-linejoin="round" opacity="0.98"/>
<polygon points="633.7,688.0 640.8,685.7 642.3,690.3 633.6,692.3" fill="#5236a6" stroke="#5236a6" stroke-width="2.2" stroke-linejoin="round" opacity="0.97"/>
<polygon points="619.3,684.2 620.1,682.3 622.0,679.0 624.5,681.5 623.3,685.5" fill="#6248b2" stroke="#6248b2" stroke-width="2.2" stroke-linejoin="round" opacity="0.95"/>
<polygon points="630.8,685.7 638.9,689.2 635.6,694.2 628.8,688.7" fill="#4c30a0" stroke="#4c30a0" stroke-width="2.2" stroke-linejoin="round" opacity="0.99"/>
<polygon points="653.0,693.8 650.3,696.3 647.6,690.5 650.7,689.7 654.5,691.3" fill="#6248b2" stroke="#6248b2" stroke-width="2.2" stroke-linejoin="round" opacity="0.93"/>
<polygon points="660.7,699.7 656.1,698.8 658.3,693.5 664.2,695.1" fill="#6248b2" stroke="#6248b2" stroke-width="2.2" stroke-linejoin="round" opacity="0.93"/>
<polygon points="642.7,696.6 643.0,690.9 647.7,686.8 650.8,689.2 649.0,692.3 647.1,694.9" fill="#6248b2" stroke="#6248b2" stroke-width="2.2" stroke-linejoin="round" opacity="0.96"/>
<polygon points="654.2,700.4 654.3,697.7 654.9,695.5 658.0,694.1 661.0,697.9 659.0,702.8" fill="#5c40ae" stroke="#5c40ae" stroke-width="2.2" stroke-linejoin="round" opacity="0.96"/>
<polygon points="641.6,682.6 643.5,685.0 642.8,687.8 640.9,688.8 638.3,687.6 640.1,683.0" fill="#6248b2" stroke="#6248b2" stroke-width="2.2" stroke-linejoin="round" opacity="1.00"/>
<polygon points="654.6,696.5 653.8,699.1 651.3,702.3 647.2,696.1 653.0,693.0" fill="#4c30a0" stroke="#4c30a0" stroke-width="2.2" stroke-linejoin="round" opacity="0.94"/>
<polygon points="660.2,684.9 656.0,683.4 657.7,680.2 661.5,680.0 661.5,681.9" fill="#4c30a0" stroke="#4c30a0" stroke-width="2.2" stroke-linejoin="round" opacity="0.98"/>
<polygon points="656.6,691.9 652.7,693.0 653.8,688.9" fill="#4c30a0" stroke="#4c30a0" stroke-width="2.2" stroke-linejoin="round" opacity="0.97"/>
<polygon points="646.7,679.1 649.3,676.0 653.0,677.7 651.8,680.6 649.1,681.5" fill="#5236a6" stroke="#5236a6" stroke-width="2.2" stroke-linejoin="round" opacity="0.93"/>
<polygon points="659.3,681.7 655.8,683.7 653.1,679.6 659.1,676.8" fill="#6248b2" stroke="#6248b2" stroke-width="2.2" stroke-linejoin="round" opacity="0.97"/>
<polygon points="642.2,690.1 646.7,689.3 644.8,695.2 642.1,696.9 636.0,694.2 637.8,690.7" fill="#5c40ae" stroke="#5c40ae" stroke-width="2.2" stroke-linejoin="round" opacity="0.95"/>
<polygon points="650.8,695.3 649.3,696.6 644.5,698.7 643.1,692.7 646.2,691.0" fill="#6248b2" stroke="#6248b2" stroke-width="2.2" stroke-linejoin="round" opacity="0.99"/>
</g>
<text x="632.4" y="690.8" font-size="8.3" fill="#fff" textLength="22.8" lengthAdjust="spacingAndGlyphs">50 μm</text>
<line x1="632.0" y1="693.5" x2="656.3" y2="693.5" stroke="#fff" stroke-width="1.1"/>
</g>
<clipPath id="cG5"><rect x="0" y="729.5" width="160.80" height="119.90"/></clipPath>
<g clip-path="url(#cG5)">
<rect x="0" y="729.5" width="160.80" height="119.90" fill="#a6a5c9"/>
<rect x="0" y="729.5" width="160.80" height="119.90" filter="url(#speck)" opacity="0.55"/>
<rect x="0" y="729.5" width="160.80" height="119.90" filter="url(#speckw)" opacity="0.2"/>
<g filter="url(#soft)">
<polygon points="17.7,739.8 26.2,744.1 14.1,750.7" fill="#45259a" stroke="#45259a" stroke-width="2.2" stroke-linejoin="round" opacity="0.96"/>
<polygon points="35.9,744.6 35.8,749.7 28.4,749.7 33.1,744.0" fill="#4c2c9c" stroke="#4c2c9c" stroke-width="2.2" stroke-linejoin="round" opacity="0.96"/>
<polygon points="55.4,735.2 52.5,730.9 54.6,728.8 59.3,730.6 57.4,733.7" fill="#45259a" stroke="#45259a" stroke-width="2.2" stroke-linejoin="round" opacity="0.95"/>
<polygon points="86.3,747.2 83.8,749.2 81.5,748.7 81.9,744.4 85.2,743.3" fill="#45259a" stroke="#45259a" stroke-width="2.2" stroke-linejoin="round" opacity="0.93"/>
<polygon points="99.8,740.2 94.5,743.7 92.2,738.3 98.1,736.3" fill="#45259a" stroke="#45259a" stroke-width="2.2" stroke-linejoin="round" opacity="0.98"/>
<polygon points="110.7,733.8 99.2,731.1 104.9,723.7" fill="#3e2094" stroke="#3e2094" stroke-width="2.2" stroke-linejoin="round" opacity="0.99"/>
<polygon points="120.1,745.7 114.5,751.3 105.3,743.7 113.9,738.8" fill="#3a1d8e" stroke="#3a1d8e" stroke-width="2.2" stroke-linejoin="round" opacity="0.96"/>
<polygon points="149.6,737.0 154.3,732.4 157.3,735.0 155.1,740.5" fill="#45259a" stroke="#45259a" stroke-width="2.2" stroke-linejoin="round" opacity="0.97"/>
<polygon points="159.2,750.4 154.1,749.9 153.3,748.8 156.0,746.0 159.7,745.9" fill="#3e2094" stroke="#3e2094" stroke-width="2.2" stroke-linejoin="round" opacity="0.95"/>
<polygon points="146.3,733.3 145.0,735.2 142.5,734.1 140.9,732.3 144.7,730.4 147.6,731.3" fill="#3a1d8e" stroke="#3a1d8e" stroke-width="2.2" stroke-linejoin="round" opacity="0.95"/>
<polygon points="19.9,766.3 13.9,767.5 14.5,759.9 23.3,762.2" fill="#45259a" stroke="#45259a" stroke-width="2.2" stroke-linejoin="round" opacity="0.97"/>
<polygon points="41.2,758.8 34.0,755.3 33.7,744.0 43.2,748.3" fill="#4c2c9c" stroke="#4c2c9c" stroke-width="2.2" stroke-linejoin="round" opacity="0.97"/>
<polygon points="49.4,771.1 49.1,769.0 49.7,765.7 51.9,764.6 55.9,767.1 53.9,769.0" fill="#45259a" stroke="#45259a" stroke-width="2.2" stroke-linejoin="round" opacity="0.93"/>
<polygon points="78.5,772.7 73.1,768.0 77.8,761.3 85.0,762.4 86.4,769.6" fill="#4c2c9c" stroke="#4c2c9c" stroke-width="2.2" stroke-linejoin="round" opacity="1.00"/>
<polygon points="136.6,748.0 137.3,753.1 134.2,756.0 128.3,750.0" fill="#3a1d8e" stroke="#3a1d8e" stroke-width="2.2" stroke-linejoin="round" opacity="1.00"/>
<polygon points="162.3,765.3 155.0,769.8 152.1,764.0 154.2,758.4 158.9,761.7" fill="#3a1d8e" stroke="#3a1d8e" stroke-width="2.2" stroke-linejoin="round" opacity="0.95"/>
<polygon points="16.3,767.2 21.3,772.0 13.8,772.2" fill="#3a1d8e" stroke="#3a1d8e" stroke-width="2.2" stroke-linejoin="round" opacity="0.96"/>
<polygon points="20.2,782.5 16.9,788.4 12.8,784.4 12.4,778.3 17.8,779.7" fill="#3a1d8e" stroke="#3a1d8e" stroke-width="2.2" stroke-linejoin="round" opacity="0.95"/>
<polygon points="62.6,784.4 55.5,783.7 58.7,777.8" fill="#3e2094" stroke="#3e2094" stroke-width="2.2" stroke-linejoin="round" opacity="0.99"/>
<polygon points="41.4,783.5 47.4,787.1 45.7,791.5 36.6,787.0" fill="#3a1d8e" stroke="#3a1d8e" stroke-width="2.2" stroke-linejoin="round" opacity="0.97"/>
<polygon points="67.4,777.5 68.6,780.5 64.7,784.5 61.7,782.5 61.6,778.3" fill="#3e2094" stroke="#3e2094" stroke-width="2.2" stroke-linejoin="round" opacity="0.98"/>
<polygon points="82.6,785.6 74.8,784.4 71.9,776.2 77.6,777.2" fill="#4c2c9c" stroke="#4c2c9c" stroke-width="2.2" stroke-linejoin="round" opacity="0.98"/>
<polygon points="131.2,771.0 128.5,775.1 126.9,774.5 122.6,772.2 128.3,766.3" fill="#3a1d8e" stroke="#3a1d8e" stroke-width="2.2" stroke-linejoin="round" opacity="0.97"/>
<polygon points="147.1,780.9 139.0,779.4 138.8,774.5 146.9,772.4" fill="#4c2c9c" stroke="#4c2c9c" stroke-width="2.2" stroke-linejoin="round" opacity="0.93"/>
<polygon points="4.4,803.9 5.8,806.9 5.5,810.3 2.0,808.6 0.1,806.4" fill="#3a1d8e" stroke="#3a1d8e" stroke-width="2.2" stroke-linejoin="round" opacity="0.95"/>
<polygon points="21.6,806.0 26.0,808.9 24.5,812.6 17.0,812.7 12.0,806.8 15.8,803.5" fill="#3e2094" stroke="#3e2094" stroke-width="2.2" stroke-linejoin="round" opacity="0.99"/>
<polygon points="28.8,795.9 29.5,793.0 33.0,792.5 34.6,794.5 33.0,797.0 30.2,796.2" fill="#4c2c9c" stroke="#4c2c9c" stroke-width="2.2" stroke-linejoin="round" opacity="0.95"/>
<polygon points="18.3,805.3 20.3,799.9 26.1,802.8 20.5,809.3" fill="#45259a" stroke="#45259a" stroke-width="2.2" stroke-linejoin="round" opacity="0.94"/>
<polygon points="24.7,788.9 24.5,793.8 19.5,797.7 17.8,790.7" fill="#45259a" stroke="#45259a" stroke-width="2.2" stroke-linejoin="round" opacity="1.00"/>
<polygon points="48.3,803.7 47.7,798.7 49.8,791.6 57.5,791.7 55.2,799.7" fill="#3e2094" stroke="#3e2094" stroke-width="2.2" stroke-linejoin="round" opacity="0.97"/>
<polygon points="107.4,802.3 104.7,802.0 99.6,802.3 101.2,797.5 103.8,797.4" fill="#4c2c9c" stroke="#4c2c9c" stroke-width="2.2" stroke-linejoin="round" opacity="0.95"/>
<polygon points="117.8,798.6 122.9,802.5 123.7,808.8 114.9,810.9 112.3,807.4" fill="#45259a" stroke="#45259a" stroke-width="2.2" stroke-linejoin="round" opacity="1.00"/>
<polygon points="135.1,795.9 131.9,795.3 130.1,792.4 131.6,790.3 134.0,789.8 135.6,792.2" fill="#4c2c9c" stroke="#4c2c9c" stroke-width="2.2" stroke-linejoin="round" opacity="0.97"/>
<polygon points="160.6,804.9 156.6,802.4 154.3,795.8 162.4,792.5 166.2,799.2" fill="#45259a" stroke="#45259a" stroke-width="2.2" stroke-linejoin="round" opacity="0.99"/>
<polygon points="145.9,811.2 141.9,806.0 148.4,806.9" fill="#3e2094" stroke="#3e2094" stroke-width="2.2" stroke-linejoin="round" opacity="0.98"/>
<polygon points="151.8,804.7 149.6,805.2 145.1,801.5 146.7,796.6 150.9,798.4" fill="#4c2c9c" stroke="#4c2c9c" stroke-width="2.2" stroke-linejoin="round" opacity="1.00"/>
<polygon points="152.6,795.5 156.5,797.2 154.8,801.7" fill="#4c2c9c" stroke="#4c2c9c" stroke-width="2.2" stroke-linejoin="round" opacity="0.94"/>
<polygon points="0.1,826.2 2.2,823.3 7.8,827.0 3.8,829.6" fill="#3a1d8e" stroke="#3a1d8e" stroke-width="2.2" stroke-linejoin="round" opacity="0.98"/>
<polygon points="3.5,813.9 7.9,819.4 2.3,824.2 0.3,822.8 -1.7,816.0" fill="#4c2c9c" stroke="#4c2c9c" stroke-width="2.2" stroke-linejoin="round" opacity="0.95"/>
<polygon points="57.5,819.5 56.6,818.3 57.4,816.6 60.6,816.1 62.3,817.9 59.8,820.5" fill="#3e2094" stroke="#3e2094" stroke-width="2.2" stroke-linejoin="round" opacity="0.98"/>
<polygon points="60.6,816.9 61.3,824.2 56.5,826.2 52.1,821.1 52.6,819.0 57.4,816.8" fill="#45259a" stroke="#45259a" stroke-width="2.2" stroke-linejoin="round" opacity="0.96"/>
<polygon points="88.7,817.9 79.8,815.2 81.6,805.4 85.6,804.8 90.4,814.9" fill="#4c2c9c" stroke="#4c2c9c" stroke-width="2.2" stroke-linejoin="round" opacity="0.97"/>
<polygon points="134.9,824.1 136.5,833.1 129.7,832.5 128.7,824.6" fill="#4c2c9c" stroke="#4c2c9c" stroke-width="2.2" stroke-linejoin="round" opacity="0.98"/>
<polygon points="147.6,813.7 151.1,824.9 140.3,823.0" fill="#3a1d8e" stroke="#3a1d8e" stroke-width="2.2" stroke-linejoin="round" opacity="0.98"/>
<polygon points="5.1,839.8 2.6,841.5 -2.4,842.6 -4.5,836.2 -0.3,831.3 3.8,835.1" fill="#4c2c9c" stroke="#4c2c9c" stroke-width="2.2" stroke-linejoin="round" opacity="0.94"/>
<polygon points="17.7,844.7 15.1,842.2 19.2,837.2 22.1,838.4 21.8,841.6 21.8,843.6" fill="#3a1d8e" stroke="#3a1d8e" stroke-width="2.2" stroke-linejoin="round" opacity="0.98"/>
<polygon points="35.4,842.1 26.1,838.2 32.0,835.2" fill="#3a1d8e" stroke="#3a1d8e" stroke-width="2.2" stroke-linejoin="round" opacity="0.94"/>
<polygon points="55.7,830.8 58.0,831.2 61.5,835.9 57.7,838.5 52.3,835.4 53.6,831.8" fill="#3e2094" stroke="#3e2094" stroke-width="2.2" stroke-linejoin="round" opacity="0.99"/>
<polygon points="38.6,840.7 41.0,828.0 45.9,838.5" fill="#3a1d8e" stroke="#3a1d8e" stroke-width="2.2" stroke-linejoin="round" opacity="0.98"/>
<polygon points="61.1,844.6 73.9,842.3 66.3,851.7" fill="#45259a" stroke="#45259a" stroke-width="2.2" stroke-linejoin="round" opacity="0.97"/>
<polygon points="83.4,826.9 87.4,826.3 88.5,831.4 81.5,835.5" fill="#4c2c9c" stroke="#4c2c9c" stroke-width="2.2" stroke-linejoin="round" opacity="0.95"/>
<polygon points="109.2,826.9 107.1,835.4 102.6,832.9 100.1,830.4 103.7,823.9" fill="#45259a" stroke="#45259a" stroke-width="2.2" stroke-linejoin="round" opacity="0.99"/>
<polygon points="138.7,834.7 133.7,842.0 126.8,839.2 131.1,830.2" fill="#3a1d8e" stroke="#3a1d8e" stroke-width="2.2" stroke-linejoin="round" opacity="0.94"/>
</g>
<text x="132.2" y="841.6" font-size="8.3" fill="#fff" textLength="22.8" lengthAdjust="spacingAndGlyphs">50 μm</text>
<line x1="131.8" y1="844.3" x2="156.1" y2="844.3" stroke="#fff" stroke-width="1.1"/>
</g>
<clipPath id="cG6"><rect x="166.7" y="729.5" width="160.40" height="119.90"/></clipPath>
<g clip-path="url(#cG6)">
<rect x="166.7" y="729.5" width="160.40" height="119.90" fill="#a5a0cb"/>
<rect x="166.7" y="729.5" width="160.40" height="119.90" filter="url(#speck)" opacity="0.55"/>
<rect x="166.7" y="729.5" width="160.40" height="119.90" filter="url(#speckw)" opacity="0.2"/>
<g filter="url(#soft)">
<polygon points="172.4,750.8 169.5,743.3 174.0,739.7 178.3,741.4 178.2,749.5" fill="#3a1d8e" stroke="#3a1d8e" stroke-width="2.2" stroke-linejoin="round" opacity="0.95"/>
<polygon points="228.6,729.6 229.6,741.3 223.1,741.1 220.5,732.8 226.0,726.2" fill="#45259a" stroke="#45259a" stroke-width="2.2" stroke-linejoin="round" opacity="0.97"/>
<polygon points="261.2,754.0 261.3,742.4 269.6,741.2 273.4,745.1 269.4,755.0" fill="#3e2094" stroke="#3e2094" stroke-width="2.2" stroke-linejoin="round" opacity="0.99"/>
<polygon points="264.6,733.4 267.8,736.9 265.3,741.9 259.8,740.1 260.7,736.9" fill="#4c2c9c" stroke="#4c2c9c" stroke-width="2.2" stroke-linejoin="round" opacity="1.00"/>
<polygon points="265.2,737.4 272.3,739.7 274.2,744.8 263.7,744.8" fill="#4c2c9c" stroke="#4c2c9c" stroke-width="2.2" stroke-linejoin="round" opacity="0.95"/>
<polygon points="284.0,731.2 283.6,739.2 279.8,734.0" fill="#45259a" stroke="#45259a" stroke-width="2.2" stroke-linejoin="round" opacity="0.95"/>
<polygon points="305.1,752.0 302.1,749.9 300.4,745.8 305.3,744.7 306.7,748.1" fill="#3e2094" stroke="#3e2094" stroke-width="2.2" stroke-linejoin="round" opacity="0.98"/>
<polygon points="291.8,745.2 285.8,741.3 296.1,740.5" fill="#4c2c9c" stroke="#4c2c9c" stroke-width="2.2" stroke-linejoin="round" opacity="0.98"/>
<polygon points="318.7,737.7 323.7,740.9 319.1,743.2" fill="#4c2c9c" stroke="#4c2c9c" stroke-width="2.2" stroke-linejoin="round" opacity="0.98"/>
<polygon points="321.6,735.5 324.1,731.8 326.3,737.5 323.3,738.4" fill="#3e2094" stroke="#3e2094" stroke-width="2.2" stroke-linejoin="round" opacity="0.98"/>
<polygon points="328.3,738.6 321.6,744.7 318.0,734.5" fill="#3a1d8e" stroke="#3a1d8e" stroke-width="2.2" stroke-linejoin="round" opacity="0.98"/>
<polygon points="184.2,749.1 179.1,755.3 173.0,747.7" fill="#45259a" stroke="#45259a" stroke-width="2.2" stroke-linejoin="round" opacity="0.98"/>
<polygon points="177.3,751.9 180.1,753.1 180.3,755.3 181.1,759.8 176.7,759.8 173.0,756.3" fill="#3e2094" stroke="#3e2094" stroke-width="2.2" stroke-linejoin="round" opacity="0.97"/>
<polygon points="226.8,747.0 228.9,752.6 223.6,755.6 219.1,749.8" fill="#3a1d8e" stroke="#3a1d8e" stroke-width="2.2" stroke-linejoin="round" opacity="0.95"/>
<polygon points="243.3,748.0 240.8,755.4 237.5,754.1 235.3,750.9 237.3,747.1" fill="#3e2094" stroke="#3e2094" stroke-width="2.2" stroke-linejoin="round" opacity="0.93"/>
<polygon points="260.3,753.2 258.9,754.9 255.8,751.4 259.8,747.2 264.4,749.1" fill="#45259a" stroke="#45259a" stroke-width="2.2" stroke-linejoin="round" opacity="0.97"/>
<polygon points="257.9,748.6 258.4,756.0 256.1,757.8 251.5,756.0 251.4,750.2" fill="#4c2c9c" stroke="#4c2c9c" stroke-width="2.2" stroke-linejoin="round" opacity="1.00"/>
<polygon points="297.9,768.6 300.5,766.0 305.0,767.6 302.6,773.2 298.0,772.1" fill="#4c2c9c" stroke="#4c2c9c" stroke-width="2.2" stroke-linejoin="round" opacity="0.96"/>
<polygon points="305.6,754.8 299.6,755.6 297.7,747.8 303.0,744.3" fill="#45259a" stroke="#45259a" stroke-width="2.2" stroke-linejoin="round" opacity="0.95"/>
<polygon points="303.4,776.6 292.3,775.8 290.8,768.9 296.4,764.9 301.7,764.6 306.8,771.6" fill="#3e2094" stroke="#3e2094" stroke-width="2.2" stroke-linejoin="round" opacity="0.94"/>
<polygon points="293.2,755.7 290.3,758.1 286.1,757.0 286.9,753.9 288.2,751.7" fill="#3a1d8e" stroke="#3a1d8e" stroke-width="2.2" stroke-linejoin="round" opacity="1.00"/>
<polygon points="324.7,769.2 318.2,769.0 323.5,758.5" fill="#3a1d8e" stroke="#3a1d8e" stroke-width="2.2" stroke-linejoin="round" opacity="0.96"/>
<polygon points="322.4,768.2 309.0,766.0 310.2,757.9 321.8,759.3" fill="#3e2094" stroke="#3e2094" stroke-width="2.2" stroke-linejoin="round" opacity="0.97"/>
<polygon points="329.3,749.6 330.6,756.0 327.4,757.2 322.4,756.6 322.9,748.2" fill="#3e2094" stroke="#3e2094" stroke-width="2.2" stroke-linejoin="round" opacity="0.98"/>
<polygon points="172.2,783.8 165.3,778.9 166.9,772.9 176.9,774.2" fill="#45259a" stroke="#45259a" stroke-width="2.2" stroke-linejoin="round" opacity="0.94"/>
<polygon points="215.3,776.4 220.6,765.7 222.4,775.9" fill="#4c2c9c" stroke="#4c2c9c" stroke-width="2.2" stroke-linejoin="round" opacity="0.95"/>
<polygon points="212.5,782.3 206.5,786.9 204.2,779.5" fill="#3a1d8e" stroke="#3a1d8e" stroke-width="2.2" stroke-linejoin="round" opacity="0.96"/>
<polygon points="239.9,782.1 244.3,787.5 238.7,792.6 231.4,783.2" fill="#45259a" stroke="#45259a" stroke-width="2.2" stroke-linejoin="round" opacity="0.97"/>
<polygon points="233.7,775.2 228.9,773.4 231.8,768.6 236.0,772.0" fill="#3e2094" stroke="#3e2094" stroke-width="2.2" stroke-linejoin="round" opacity="0.96"/>
<polygon points="246.7,788.5 247.5,784.9 252.9,786.7 251.2,790.5 248.0,791.8" fill="#45259a" stroke="#45259a" stroke-width="2.2" stroke-linejoin="round" opacity="0.98"/>
<polygon points="246.2,791.8 245.7,788.2 247.3,785.5 249.7,786.2 251.3,789.4" fill="#4c2c9c" stroke="#4c2c9c" stroke-width="2.2" stroke-linejoin="round" opacity="0.95"/>
<polygon points="254.8,787.3 251.6,788.4 249.0,787.2 248.3,784.8 252.5,782.7" fill="#4c2c9c" stroke="#4c2c9c" stroke-width="2.2" stroke-linejoin="round" opacity="1.00"/>
<polygon points="281.2,794.1 275.0,786.4 283.6,781.2 288.5,787.5" fill="#3e2094" stroke="#3e2094" stroke-width="2.2" stroke-linejoin="round" opacity="0.97"/>
<polygon points="292.4,786.0 295.4,785.7 299.1,789.8 297.4,792.3 292.9,789.5" fill="#3a1d8e" stroke="#3a1d8e" stroke-width="2.2" stroke-linejoin="round" opacity="0.96"/>
<polygon points="285.8,769.9 291.0,772.2 284.2,778.3" fill="#45259a" stroke="#45259a" stroke-width="2.2" stroke-linejoin="round" opacity="0.95"/>
<polygon points="300.7,776.0 290.6,776.6 296.9,770.2" fill="#45259a" stroke="#45259a" stroke-width="2.2" stroke-linejoin="round" opacity="0.96"/>
<polygon points="301.6,791.6 297.3,790.8 298.6,784.1 301.6,784.3 305.7,787.0" fill="#4c2c9c" stroke="#4c2c9c" stroke-width="2.2" stroke-linejoin="round" opacity="0.98"/>
<polygon points="297.3,786.7 295.2,785.9 297.6,783.0 300.0,783.8 302.0,786.0" fill="#3e2094" stroke="#3e2094" stroke-width="2.2" stroke-linejoin="round" opacity="0.93"/>
<polygon points="308.7,786.3 302.1,783.0 300.3,778.7 305.9,773.1 309.2,776.8 311.6,783.7" fill="#4c2c9c" stroke="#4c2c9c" stroke-width="2.2" stroke-linejoin="round" opacity="0.95"/>
<polygon points="312.0,789.9 308.9,784.3 314.2,779.6 322.3,782.6 317.2,789.0" fill="#4c2c9c" stroke="#4c2c9c" stroke-width="2.2" stroke-linejoin="round" opacity="0.94"/>
<polygon points="172.5,799.5 176.0,800.0 175.2,804.7 169.7,805.9 167.7,801.1" fill="#4c2c9c" stroke="#4c2c9c" stroke-width="2.2" stroke-linejoin="round" opacity="0.96"/>
<polygon points="187.5,795.2 193.6,798.9 188.5,804.6 179.6,799.0 181.3,794.0" fill="#3e2094" stroke="#3e2094" stroke-width="2.2" stroke-linejoin="round" opacity="1.00"/>
<polygon points="178.1,805.6 175.8,809.9 171.8,806.4" fill="#3e2094" stroke="#3e2094" stroke-width="2.2" stroke-linejoin="round" opacity="0.98"/>
<polygon points="197.5,795.6 193.3,798.5 191.5,794.9 196.4,793.1" fill="#45259a" stroke="#45259a" stroke-width="2.2" stroke-linejoin="round" opacity="0.99"/>
<polygon points="206.9,800.3 208.8,801.2 208.3,805.7 205.8,806.9 204.3,806.2 204.0,803.1" fill="#3a1d8e" stroke="#3a1d8e" stroke-width="2.2" stroke-linejoin="round" opacity="0.98"/>
<polygon points="199.2,808.3 192.9,809.6 189.0,806.7 190.0,799.4 200.8,803.2" fill="#4c2c9c" stroke="#4c2c9c" stroke-width="2.2" stroke-linejoin="round" opacity="0.97"/>
<polygon points="197.6,794.4 202.0,794.5 200.0,801.4" fill="#3e2094" stroke="#3e2094" stroke-width="2.2" stroke-linejoin="round" opacity="0.94"/>
<polygon points="201.7,807.4 202.9,810.5 197.4,811.1 193.4,806.7 196.1,804.1" fill="#3e2094" stroke="#3e2094" stroke-width="2.2" stroke-linejoin="round" opacity="0.97"/>
<polygon points="223.1,788.8 225.0,794.4 220.6,794.9 219.1,791.1" fill="#3e2094" stroke="#3e2094" stroke-width="2.2" stroke-linejoin="round" opacity="0.98"/>
<polygon points="222.8,803.2 223.6,804.8 222.1,808.0 218.8,807.7 217.5,802.8 221.0,800.1" fill="#3a1d8e" stroke="#3a1d8e" stroke-width="2.2" stroke-linejoin="round" opacity="0.94"/>
<polygon points="226.8,809.4 224.2,808.7 223.5,805.6 226.0,802.9 228.7,804.9" fill="#45259a" stroke="#45259a" stroke-width="2.2" stroke-linejoin="round" opacity="0.96"/>
<polygon points="241.6,799.2 238.3,797.0 241.5,793.7" fill="#3a1d8e" stroke="#3a1d8e" stroke-width="2.2" stroke-linejoin="round" opacity="0.94"/>
<polygon points="250.4,791.9 250.2,795.7 247.6,798.2 246.6,796.3 246.1,793.9 247.5,791.5" fill="#4c2c9c" stroke="#4c2c9c" stroke-width="2.2" stroke-linejoin="round" opacity="0.95"/>
<polygon points="251.3,811.2 252.1,804.0 261.1,810.0 256.4,813.6" fill="#3e2094" stroke="#3e2094" stroke-width="2.2" stroke-linejoin="round" opacity="1.00"/>
<polygon points="263.6,797.1 261.1,801.7 257.5,799.4 257.2,794.8 257.6,793.3 263.9,796.0" fill="#45259a" stroke="#45259a" stroke-width="2.2" stroke-linejoin="round" opacity="0.98"/>
<polygon points="271.7,807.5 270.0,800.1 277.4,798.1 283.5,802.2 278.7,808.6" fill="#3e2094" stroke="#3e2094" stroke-width="2.2" stroke-linejoin="round" opacity="0.96"/>
<polygon points="293.7,801.6 300.2,804.5 297.4,812.3 291.4,813.2 289.5,809.1" fill="#3a1d8e" stroke="#3a1d8e" stroke-width="2.2" stroke-linejoin="round" opacity="0.97"/>
<polygon points="304.4,795.9 302.1,792.3 302.6,789.7 306.1,789.1 308.2,791.0 306.4,795.9" fill="#4c2c9c" stroke="#4c2c9c" stroke-width="2.2" stroke-linejoin="round" opacity="0.97"/>
<polygon points="295.3,802.2 296.7,807.2 295.2,813.0 289.6,813.0 288.7,804.2" fill="#45259a" stroke="#45259a" stroke-width="2.2" stroke-linejoin="round" opacity="0.94"/>
<polygon points="330.0,809.2 324.3,810.0 319.1,800.5 327.5,800.0" fill="#45259a" stroke="#45259a" stroke-width="2.2" stroke-linejoin="round" opacity="0.99"/>
<polygon points="316.7,803.0 314.5,807.0 312.8,810.3 306.9,808.6 307.9,802.2 308.8,798.7" fill="#45259a" stroke="#45259a" stroke-width="2.2" stroke-linejoin="round" opacity="0.97"/>
<polygon points="312.4,810.6 304.4,811.2 309.9,802.2" fill="#3e2094" stroke="#3e2094" stroke-width="2.2" stroke-linejoin="round" opacity="0.96"/>
<polygon points="174.5,817.2 169.1,818.2 164.8,808.6 175.9,807.0" fill="#3a1d8e" stroke="#3a1d8e" stroke-width="2.2" stroke-linejoin="round" opacity="0.98"/>
<polygon points="173.4,817.9 177.3,811.1 184.7,811.7 189.3,816.5 178.8,821.8" fill="#3a1d8e" stroke="#3a1d8e" stroke-width="2.2" stroke-linejoin="round" opacity="0.95"/>
<polygon points="185.6,809.6 189.8,809.9 189.7,813.9 186.4,815.4 184.0,815.1" fill="#3a1d8e" stroke="#3a1d8e" stroke-width="2.2" stroke-linejoin="round" opacity="0.96"/>
<polygon points="196.1,806.3 197.9,815.3 190.6,814.2" fill="#45259a" stroke="#45259a" stroke-width="2.2" stroke-linejoin="round" opacity="0.98"/>
<polygon points="267.7,806.0 274.3,812.2 266.2,817.1 259.2,808.4" fill="#3a1d8e" stroke="#3a1d8e" stroke-width="2.2" stroke-linejoin="round" opacity="0.97"/>
<polygon points="260.8,818.1 259.9,822.0 256.2,828.2 253.8,828.4 251.8,822.1 254.6,817.9" fill="#3a1d8e" stroke="#3a1d8e" stroke-width="2.2" stroke-linejoin="round" opacity="0.97"/>
<polygon points="252.7,808.0 259.7,811.2 260.0,815.2 253.4,817.8 252.4,812.7" fill="#3e2094" stroke="#3e2094" stroke-width="2.2" stroke-linejoin="round" opacity="0.94"/>
<polygon points="253.1,813.1 259.9,817.0 256.3,821.2 250.4,822.7 251.6,815.9" fill="#3e2094" stroke="#3e2094" stroke-width="2.2" stroke-linejoin="round" opacity="0.98"/>
<polygon points="285.0,831.1 282.4,822.2 286.3,819.4 291.2,826.9" fill="#4c2c9c" stroke="#4c2c9c" stroke-width="2.2" stroke-linejoin="round" opacity="1.00"/>
<polygon points="306.2,820.5 305.6,825.0 303.2,827.5 301.6,824.8 301.3,822.3 302.5,820.1" fill="#4c2c9c" stroke="#4c2c9c" stroke-width="2.2" stroke-linejoin="round" opacity="0.98"/>
<polygon points="290.7,829.8 287.5,831.2 286.0,827.8 286.3,826.6 290.3,824.5" fill="#45259a" stroke="#45259a" stroke-width="2.2" stroke-linejoin="round" opacity="1.00"/>
<polygon points="306.4,817.6 312.4,822.0 303.8,830.2 302.4,824.9" fill="#3a1d8e" stroke="#3a1d8e" stroke-width="2.2" stroke-linejoin="round" opacity="0.97"/>
<polygon points="325.4,834.4 319.4,834.1 316.3,830.4 317.0,823.6 323.2,826.7" fill="#3a1d8e" stroke="#3a1d8e" stroke-width="2.2" stroke-linejoin="round" opacity="0.99"/>
<polygon points="179.0,843.6 185.1,840.5 189.2,842.9 185.1,850.0 179.9,850.2" fill="#3a1d8e" stroke="#3a1d8e" stroke-width="2.2" stroke-linejoin="round" opacity="0.95"/>
<polygon points="179.7,831.8 185.5,835.1 182.6,838.6 180.5,838.8 176.7,835.6 177.7,831.6" fill="#3a1d8e" stroke="#3a1d8e" stroke-width="2.2" stroke-linejoin="round" opacity="0.97"/>
<polygon points="188.4,838.0 194.6,837.9 196.7,842.5 192.8,843.6 190.7,841.7" fill="#4c2c9c" stroke="#4c2c9c" stroke-width="2.2" stroke-linejoin="round" opacity="0.98"/>
<polygon points="197.2,847.5 191.3,847.9 187.1,841.9 195.0,841.7" fill="#3a1d8e" stroke="#3a1d8e" stroke-width="2.2" stroke-linejoin="round" opacity="0.94"/>
<polygon points="200.3,843.5 198.0,839.0 197.7,837.9 202.8,836.6 203.3,837.9 203.4,842.2" fill="#3a1d8e" stroke="#3a1d8e" stroke-width="2.2" stroke-linejoin="round" opacity="0.99"/>
<polygon points="201.2,836.7 208.9,835.8 205.9,841.5" fill="#45259a" stroke="#45259a" stroke-width="2.2" stroke-linejoin="round" opacity="0.95"/>
<polygon points="227.8,831.3 229.8,834.6 227.1,838.4 223.2,836.4 224.5,831.9" fill="#3a1d8e" stroke="#3a1d8e" stroke-width="2.2" stroke-linejoin="round" opacity="0.98"/>
<polygon points="253.7,848.9 248.9,848.6 251.7,841.5 255.2,841.8 258.0,845.9" fill="#45259a" stroke="#45259a" stroke-width="2.2" stroke-linejoin="round" opacity="0.94"/>
<polygon points="260.8,839.6 261.2,834.6 265.4,835.3 267.5,836.8 266.1,842.1" fill="#3e2094" stroke="#3e2094" stroke-width="2.2" stroke-linejoin="round" opacity="0.97"/>
<polygon points="260.5,832.7 262.6,835.7 259.1,840.8 257.2,843.4 254.0,839.3 257.2,834.9" fill="#3e2094" stroke="#3e2094" stroke-width="2.2" stroke-linejoin="round" opacity="0.94"/>
<polygon points="249.7,839.3 249.3,846.8 245.2,843.9" fill="#45259a" stroke="#45259a" stroke-width="2.2" stroke-linejoin="round" opacity="0.98"/>
<polygon points="277.2,833.0 272.5,829.1 279.6,825.8 284.0,829.2" fill="#3a1d8e" stroke="#3a1d8e" stroke-width="2.2" stroke-linejoin="round" opacity="0.99"/>
<polygon points="269.7,825.4 280.0,829.2 276.6,837.7 268.2,836.5 268.2,831.4" fill="#45259a" stroke="#45259a" stroke-width="2.2" stroke-linejoin="round" opacity="0.93"/>
<polygon points="303.9,844.2 307.9,841.3 312.7,845.3 311.6,850.1 305.3,845.9" fill="#4c2c9c" stroke="#4c2c9c" stroke-width="2.2" stroke-linejoin="round" opacity="0.94"/>
</g>
<text x="298.5" y="841.6" font-size="8.3" fill="#fff" textLength="22.8" lengthAdjust="spacingAndGlyphs">50 μm</text>
<line x1="298.1" y1="844.3" x2="322.4" y2="844.3" stroke="#fff" stroke-width="1.1"/>
</g>
<clipPath id="cG7"><rect x="333.2" y="729.5" width="160.70" height="119.90"/></clipPath>
<g clip-path="url(#cG7)">
<rect x="333.2" y="729.5" width="160.70" height="119.90" fill="#adaec6"/>
<rect x="333.2" y="729.5" width="160.70" height="119.90" filter="url(#speck)" opacity="0.55"/>
<rect x="333.2" y="729.5" width="160.70" height="119.90" filter="url(#speckw)" opacity="0.2"/>
<g filter="url(#soft)">
<polygon points="371.9,722.2 376.7,731.0 368.4,735.6 367.4,727.3" fill="#3e2094" stroke="#3e2094" stroke-width="2.2" stroke-linejoin="round" opacity="0.93"/>
<polygon points="373.3,737.2 373.5,733.3 378.6,732.7 381.5,736.8" fill="#3e2094" stroke="#3e2094" stroke-width="2.2" stroke-linejoin="round" opacity="0.95"/>
<polygon points="427.5,743.8 422.0,744.6 423.7,738.2 426.9,738.6" fill="#3e2094" stroke="#3e2094" stroke-width="2.2" stroke-linejoin="round" opacity="0.96"/>
<polygon points="427.0,748.7 430.3,745.5 433.3,748.0 431.3,752.3 429.7,750.7" fill="#4c2c9c" stroke="#4c2c9c" stroke-width="2.2" stroke-linejoin="round" opacity="0.97"/>
<polygon points="443.7,746.4 441.4,744.8 440.5,742.7 444.5,740.4 445.6,741.3 449.3,745.7" fill="#3e2094" stroke="#3e2094" stroke-width="2.2" stroke-linejoin="round" opacity="0.96"/>
<polygon points="448.0,749.3 451.2,744.1 454.4,752.4" fill="#4c2c9c" stroke="#4c2c9c" stroke-width="2.2" stroke-linejoin="round" opacity="0.99"/>
<polygon points="475.0,737.5 479.8,739.3 481.9,742.8 478.1,745.6 475.4,743.5 473.1,742.7" fill="#3a1d8e" stroke="#3a1d8e" stroke-width="2.2" stroke-linejoin="round" opacity="0.97"/>
<polygon points="366.6,752.4 370.1,758.0 363.8,760.5 360.9,757.1" fill="#3a1d8e" stroke="#3a1d8e" stroke-width="2.2" stroke-linejoin="round" opacity="0.95"/>
<polygon points="365.4,744.5 370.8,755.3 356.8,756.9 355.6,748.8" fill="#3e2094" stroke="#3e2094" stroke-width="2.2" stroke-linejoin="round" opacity="0.99"/>
<polygon points="453.6,758.6 457.6,754.3 461.9,754.1 464.5,758.6 460.2,762.3" fill="#3a1d8e" stroke="#3a1d8e" stroke-width="2.2" stroke-linejoin="round" opacity="0.97"/>
<polygon points="463.5,754.3 460.3,756.5 458.3,754.3 461.2,751.5" fill="#45259a" stroke="#45259a" stroke-width="2.2" stroke-linejoin="round" opacity="0.99"/>
<polygon points="473.4,772.7 468.8,764.2 473.6,761.3 481.4,762.4 477.4,774.2" fill="#3e2094" stroke="#3e2094" stroke-width="2.2" stroke-linejoin="round" opacity="0.95"/>
<polygon points="360.5,786.1 357.9,788.5 354.8,786.5 352.6,786.2 356.6,782.8 360.2,784.4" fill="#3e2094" stroke="#3e2094" stroke-width="2.2" stroke-linejoin="round" opacity="0.97"/>
<polygon points="376.7,779.5 377.9,784.2 373.1,786.3 370.2,783.4 367.9,777.4 374.6,775.1" fill="#3e2094" stroke="#3e2094" stroke-width="2.2" stroke-linejoin="round" opacity="0.96"/>
<polygon points="394.4,776.2 409.1,774.2 407.9,781.8 400.8,781.9" fill="#45259a" stroke="#45259a" stroke-width="2.2" stroke-linejoin="round" opacity="0.99"/>
<polygon points="474.2,777.7 479.9,774.0 479.6,780.6" fill="#3e2094" stroke="#3e2094" stroke-width="2.2" stroke-linejoin="round" opacity="0.99"/>
<polygon points="342.7,785.6 344.6,785.3 350.4,787.3 349.2,794.4 342.8,794.3 340.4,790.3" fill="#3a1d8e" stroke="#3a1d8e" stroke-width="2.2" stroke-linejoin="round" opacity="1.00"/>
<polygon points="374.4,795.3 382.9,798.0 385.9,804.2 376.8,806.3 370.4,800.0" fill="#45259a" stroke="#45259a" stroke-width="2.2" stroke-linejoin="round" opacity="0.94"/>
<polygon points="459.4,800.7 458.2,795.9 459.9,790.7 469.5,793.8 470.6,800.1 464.7,805.5" fill="#4c2c9c" stroke="#4c2c9c" stroke-width="2.2" stroke-linejoin="round" opacity="0.93"/>
<polygon points="342.4,819.4 342.7,813.0 349.7,816.3 346.4,820.3" fill="#45259a" stroke="#45259a" stroke-width="2.2" stroke-linejoin="round" opacity="0.99"/>
<polygon points="372.1,821.3 373.5,819.8 376.2,819.5 377.6,822.4 376.9,823.6 373.9,823.7" fill="#3e2094" stroke="#3e2094" stroke-width="2.2" stroke-linejoin="round" opacity="0.98"/>
<polygon points="450.7,828.2 455.4,822.7 458.1,825.7 458.6,833.3 453.9,833.7" fill="#3a1d8e" stroke="#3a1d8e" stroke-width="2.2" stroke-linejoin="round" opacity="0.99"/>
<polygon points="487.8,815.4 486.4,808.9 491.7,811.2" fill="#4c2c9c" stroke="#4c2c9c" stroke-width="2.2" stroke-linejoin="round" opacity="0.93"/>
<polygon points="490.3,813.0 488.9,811.4 491.4,807.8 495.6,809.5 495.2,813.0" fill="#3e2094" stroke="#3e2094" stroke-width="2.2" stroke-linejoin="round" opacity="0.98"/>
<polygon points="350.9,830.3 352.9,835.9 348.8,841.3 344.2,832.9" fill="#45259a" stroke="#45259a" stroke-width="2.2" stroke-linejoin="round" opacity="0.99"/>
<polygon points="377.3,851.3 375.2,852.0 371.6,848.4 373.9,847.2 377.0,846.3 378.1,848.2" fill="#3a1d8e" stroke="#3a1d8e" stroke-width="2.2" stroke-linejoin="round" opacity="0.98"/>
<polygon points="455.0,843.8 458.0,842.3 461.8,842.5 459.4,848.4 456.1,847.6" fill="#3e2094" stroke="#3e2094" stroke-width="2.2" stroke-linejoin="round" opacity="0.98"/>
</g>
<text x="465.3" y="841.6" font-size="8.3" fill="#fff" textLength="22.8" lengthAdjust="spacingAndGlyphs">50 μm</text>
<line x1="464.9" y1="844.3" x2="489.2" y2="844.3" stroke="#fff" stroke-width="1.1"/>
</g>
<clipPath id="cI1"><rect x="0" y="894.1" width="160.80" height="119.80"/></clipPath>
<g clip-path="url(#cI1)">
<rect x="0" y="894.1" width="160.80" height="119.80" fill="#a6a5c9"/>
<rect x="0" y="894.1" width="160.80" height="119.80" filter="url(#speck)" opacity="0.55"/>
<rect x="0" y="894.1" width="160.80" height="119.80" filter="url(#speckw)" opacity="0.2"/>
<g filter="url(#soft)">
<polygon points="15.4,912.2 13.5,916.2 8.4,916.2 12.2,908.7" fill="#3e2094" stroke="#3e2094" stroke-width="2.2" stroke-linejoin="round" opacity="0.96"/>
<polygon points="40.1,902.4 35.8,899.1 38.1,895.5 41.7,897.1" fill="#45259a" stroke="#45259a" stroke-width="2.2" stroke-linejoin="round" opacity="0.98"/>
<polygon points="47.2,894.7 43.0,905.3 35.3,901.4" fill="#4c2c9c" stroke="#4c2c9c" stroke-width="2.2" stroke-linejoin="round" opacity="0.99"/>
<polygon points="69.5,910.5 74.6,907.8 80.2,908.3 80.2,915.5 74.9,918.3" fill="#45259a" stroke="#45259a" stroke-width="2.2" stroke-linejoin="round" opacity="0.98"/>
<polygon points="119.7,908.6 123.1,908.5 123.3,916.4 120.0,919.1 116.1,916.5 115.3,910.0" fill="#3a1d8e" stroke="#3a1d8e" stroke-width="2.2" stroke-linejoin="round" opacity="0.95"/>
<polygon points="126.2,905.5 128.3,907.0 123.4,914.1 121.9,911.9 119.2,906.1 119.3,904.8" fill="#3e2094" stroke="#3e2094" stroke-width="2.2" stroke-linejoin="round" opacity="1.00"/>
<polygon points="151.3,917.0 146.2,909.1 154.5,907.6 155.2,915.9" fill="#45259a" stroke="#45259a" stroke-width="2.2" stroke-linejoin="round" opacity="0.96"/>
<polygon points="10.8,923.5 17.2,923.3 16.2,929.2 11.6,929.0 8.7,924.5" fill="#3e2094" stroke="#3e2094" stroke-width="2.2" stroke-linejoin="round" opacity="0.99"/>
<polygon points="-0.0,920.9 -0.2,915.6 1.2,913.6 6.0,914.5 7.5,917.8 5.0,920.3" fill="#3e2094" stroke="#3e2094" stroke-width="2.2" stroke-linejoin="round" opacity="0.97"/>
<polygon points="3.0,926.6 4.3,922.5 8.8,924.1 12.0,926.6 7.9,930.9" fill="#3a1d8e" stroke="#3a1d8e" stroke-width="2.2" stroke-linejoin="round" opacity="0.93"/>
<polygon points="89.2,930.3 85.0,924.0 93.0,918.8 94.9,927.4" fill="#45259a" stroke="#45259a" stroke-width="2.2" stroke-linejoin="round" opacity="0.95"/>
<polygon points="109.2,920.8 112.9,920.4 113.5,924.5 110.4,928.2 105.9,922.0" fill="#3e2094" stroke="#3e2094" stroke-width="2.2" stroke-linejoin="round" opacity="0.97"/>
<polygon points="132.1,917.9 131.5,909.8 137.8,910.5 138.3,917.0" fill="#3e2094" stroke="#3e2094" stroke-width="2.2" stroke-linejoin="round" opacity="0.96"/>
<polygon points="124.5,917.3 129.2,924.0 127.2,928.1 121.2,921.3" fill="#45259a" stroke="#45259a" stroke-width="2.2" stroke-linejoin="round" opacity="0.98"/>
<polygon points="128.2,919.0 130.1,922.6 125.6,924.4 122.3,922.2 127.1,916.2" fill="#3e2094" stroke="#3e2094" stroke-width="2.2" stroke-linejoin="round" opacity="0.98"/>
<polygon points="162.7,935.0 157.7,934.9 159.3,929.6 162.7,928.6" fill="#45259a" stroke="#45259a" stroke-width="2.2" stroke-linejoin="round" opacity="0.95"/>
<polygon points="142.8,937.7 142.3,928.3 147.6,925.0 150.3,933.8" fill="#3a1d8e" stroke="#3a1d8e" stroke-width="2.2" stroke-linejoin="round" opacity="0.95"/>
<polygon points="11.3,939.1 7.8,937.8 7.6,935.3 11.2,932.8 13.2,934.1 13.2,938.1" fill="#45259a" stroke="#45259a" stroke-width="2.2" stroke-linejoin="round" opacity="0.93"/>
<polygon points="75.6,949.4 81.0,945.3 82.7,949.6 83.6,956.0 75.2,955.2" fill="#3e2094" stroke="#3e2094" stroke-width="2.2" stroke-linejoin="round" opacity="0.95"/>
<polygon points="104.8,943.3 107.2,945.6 102.9,949.5 102.3,945.6" fill="#4c2c9c" stroke="#4c2c9c" stroke-width="2.2" stroke-linejoin="round" opacity="0.98"/>
<polygon points="102.7,935.0 109.5,939.2 103.4,945.2 100.0,945.2 99.7,938.5" fill="#3a1d8e" stroke="#3a1d8e" stroke-width="2.2" stroke-linejoin="round" opacity="1.00"/>
<polygon points="107.0,943.7 110.4,941.1 115.5,942.9 114.4,946.5 110.5,946.2" fill="#45259a" stroke="#45259a" stroke-width="2.2" stroke-linejoin="round" opacity="0.94"/>
<polygon points="104.8,946.5 103.2,945.8 98.9,943.2 101.5,941.1 103.8,939.0 105.4,942.0" fill="#3a1d8e" stroke="#3a1d8e" stroke-width="2.2" stroke-linejoin="round" opacity="0.96"/>
<polygon points="131.8,939.3 132.6,933.1 138.2,935.0 141.6,938.9 136.0,944.1" fill="#3a1d8e" stroke="#3a1d8e" stroke-width="2.2" stroke-linejoin="round" opacity="0.93"/>
<polygon points="54.1,954.9 61.3,954.6 63.9,963.1 55.5,966.5" fill="#3e2094" stroke="#3e2094" stroke-width="2.2" stroke-linejoin="round" opacity="0.95"/>
<polygon points="106.7,965.4 101.0,966.9 96.7,962.5 101.4,960.0 106.0,958.7" fill="#45259a" stroke="#45259a" stroke-width="2.2" stroke-linejoin="round" opacity="0.99"/>
<polygon points="134.2,963.8 128.0,964.7 128.9,955.1 137.2,958.1" fill="#3a1d8e" stroke="#3a1d8e" stroke-width="2.2" stroke-linejoin="round" opacity="0.98"/>
<polygon points="29.1,989.5 39.3,986.9 33.3,993.3" fill="#3a1d8e" stroke="#3a1d8e" stroke-width="2.2" stroke-linejoin="round" opacity="0.99"/>
<polygon points="58.9,987.1 58.1,992.8 49.5,990.9 53.7,985.5" fill="#45259a" stroke="#45259a" stroke-width="2.2" stroke-linejoin="round" opacity="0.98"/>
<polygon points="51.9,979.8 58.1,980.8 59.3,987.0 55.0,987.5 50.9,985.8" fill="#3a1d8e" stroke="#3a1d8e" stroke-width="2.2" stroke-linejoin="round" opacity="0.98"/>
<polygon points="103.5,989.2 95.0,988.1 93.4,986.1 99.3,977.9 105.2,981.4" fill="#45259a" stroke="#45259a" stroke-width="2.2" stroke-linejoin="round" opacity="0.95"/>
<polygon points="106.1,985.4 118.8,991.5 108.0,996.3" fill="#3a1d8e" stroke="#3a1d8e" stroke-width="2.2" stroke-linejoin="round" opacity="0.98"/>
<polygon points="149.7,991.0 149.3,985.9 157.0,985.9 156.0,990.9" fill="#4c2c9c" stroke="#4c2c9c" stroke-width="2.2" stroke-linejoin="round" opacity="0.98"/>
<polygon points="12.8,996.3 8.8,1004.4 -1.8,996.0 9.4,992.2" fill="#3e2094" stroke="#3e2094" stroke-width="2.2" stroke-linejoin="round" opacity="0.97"/>
<polygon points="39.9,1002.9 48.3,1008.2 44.3,1012.0 37.2,1013.2" fill="#3e2094" stroke="#3e2094" stroke-width="2.2" stroke-linejoin="round" opacity="0.98"/>
<polygon points="61.0,1002.7 63.9,1001.1 69.1,998.4 70.7,1005.6 69.3,1007.0 64.7,1009.1" fill="#4c2c9c" stroke="#4c2c9c" stroke-width="2.2" stroke-linejoin="round" opacity="0.98"/>
<polygon points="88.1,1006.4 87.8,1002.9 91.1,996.4 94.8,998.1 100.2,1001.8 93.4,1006.6" fill="#3e2094" stroke="#3e2094" stroke-width="2.2" stroke-linejoin="round" opacity="0.98"/>
<polygon points="118.8,1002.9 114.9,1007.7 112.9,1000.9 118.9,999.0" fill="#45259a" stroke="#45259a" stroke-width="2.2" stroke-linejoin="round" opacity="0.98"/>
<polygon points="119.0,997.1 124.3,1001.3 123.8,1009.6 115.4,1006.1" fill="#3e2094" stroke="#3e2094" stroke-width="2.2" stroke-linejoin="round" opacity="1.00"/>
<polygon points="137.6,999.1 139.4,993.9 143.7,1000.6" fill="#3e2094" stroke="#3e2094" stroke-width="2.2" stroke-linejoin="round" opacity="0.93"/>
<polygon points="118.5,1013.0 119.1,1008.0 121.4,1004.0 125.1,1003.5 126.7,1009.6 123.1,1014.6" fill="#4c2c9c" stroke="#4c2c9c" stroke-width="2.2" stroke-linejoin="round" opacity="0.93"/>
</g>
<text x="132.2" y="1008.0" font-size="8.3" fill="#fff" textLength="22.8" lengthAdjust="spacingAndGlyphs">50 μm</text>
<line x1="131.8" y1="1010.7" x2="156.1" y2="1010.7" stroke="#fff" stroke-width="1.1"/>
</g>
<clipPath id="cI2"><rect x="166.7" y="894.1" width="160.40" height="119.80"/></clipPath>
<g clip-path="url(#cI2)">
<rect x="166.7" y="894.1" width="160.40" height="119.80" fill="#a6a5c9"/>
<rect x="166.7" y="894.1" width="160.40" height="119.80" filter="url(#speck)" opacity="0.55"/>
<rect x="166.7" y="894.1" width="160.40" height="119.80" filter="url(#speckw)" opacity="0.2"/>
<g filter="url(#soft)">
<polygon points="184.8,913.7 180.5,915.1 180.6,910.9 185.8,908.2 185.8,910.6" fill="#3e2094" stroke="#3e2094" stroke-width="2.2" stroke-linejoin="round" opacity="0.98"/>
<polygon points="176.6,901.0 183.4,909.2 173.6,911.9 168.1,908.7 170.8,898.3" fill="#3a1d8e" stroke="#3a1d8e" stroke-width="2.2" stroke-linejoin="round" opacity="0.98"/>
<polygon points="208.7,909.3 205.8,915.9 201.2,912.1 203.6,907.0" fill="#3a1d8e" stroke="#3a1d8e" stroke-width="2.2" stroke-linejoin="round" opacity="1.00"/>
<polygon points="199.2,908.0 203.5,906.9 204.5,910.1 201.9,913.4 200.3,911.3" fill="#3e2094" stroke="#3e2094" stroke-width="2.2" stroke-linejoin="round" opacity="0.94"/>
<polygon points="222.9,901.2 220.8,902.7 217.4,902.2 220.2,898.3 222.9,897.1" fill="#4c2c9c" stroke="#4c2c9c" stroke-width="2.2" stroke-linejoin="round" opacity="0.98"/>
<polygon points="201.7,911.4 211.0,905.8 207.7,919.1" fill="#3e2094" stroke="#3e2094" stroke-width="2.2" stroke-linejoin="round" opacity="0.94"/>
<polygon points="240.9,902.2 248.5,903.8 248.9,911.1 240.3,916.8 238.9,912.9" fill="#3e2094" stroke="#3e2094" stroke-width="2.2" stroke-linejoin="round" opacity="0.96"/>
<polygon points="275.7,909.2 283.8,908.9 281.3,916.7 274.8,919.4 271.5,914.7" fill="#3a1d8e" stroke="#3a1d8e" stroke-width="2.2" stroke-linejoin="round" opacity="0.94"/>
<polygon points="308.5,896.2 300.3,900.1 299.7,892.3" fill="#3a1d8e" stroke="#3a1d8e" stroke-width="2.2" stroke-linejoin="round" opacity="0.96"/>
<polygon points="326.1,895.5 320.3,903.4 314.0,895.9 316.1,890.2 328.9,891.6" fill="#4c2c9c" stroke="#4c2c9c" stroke-width="2.2" stroke-linejoin="round" opacity="1.00"/>
<polygon points="196.2,934.8 193.7,935.4 187.8,932.5 190.2,931.7 195.5,930.6" fill="#3e2094" stroke="#3e2094" stroke-width="2.2" stroke-linejoin="round" opacity="0.95"/>
<polygon points="219.6,929.4 211.1,925.2 218.0,916.7" fill="#4c2c9c" stroke="#4c2c9c" stroke-width="2.2" stroke-linejoin="round" opacity="0.95"/>
<polygon points="249.1,936.7 239.4,933.7 242.6,928.9 242.3,925.5 250.0,926.9 250.4,933.5" fill="#3a1d8e" stroke="#3a1d8e" stroke-width="2.2" stroke-linejoin="round" opacity="0.96"/>
<polygon points="267.6,922.9 269.1,934.2 260.2,932.9" fill="#4c2c9c" stroke="#4c2c9c" stroke-width="2.2" stroke-linejoin="round" opacity="0.96"/>
<polygon points="247.3,928.5 249.2,929.4 250.1,932.5 245.8,933.0 243.6,928.9" fill="#45259a" stroke="#45259a" stroke-width="2.2" stroke-linejoin="round" opacity="0.97"/>
<polygon points="255.1,921.1 257.7,914.0 263.1,919.7 259.6,921.6" fill="#4c2c9c" stroke="#4c2c9c" stroke-width="2.2" stroke-linejoin="round" opacity="0.98"/>
<polygon points="266.3,915.6 273.5,918.0 265.8,922.8" fill="#4c2c9c" stroke="#4c2c9c" stroke-width="2.2" stroke-linejoin="round" opacity="0.95"/>
<polygon points="286.6,921.6 281.2,922.0 275.2,917.9 280.1,915.9 286.3,914.9" fill="#3a1d8e" stroke="#3a1d8e" stroke-width="2.2" stroke-linejoin="round" opacity="0.95"/>
<polygon points="288.2,937.2 285.2,934.2 286.6,930.1 290.7,926.9 293.6,933.9" fill="#3e2094" stroke="#3e2094" stroke-width="2.2" stroke-linejoin="round" opacity="0.98"/>
<polygon points="324.1,915.3 325.1,925.1 320.3,928.3 315.0,920.4" fill="#3a1d8e" stroke="#3a1d8e" stroke-width="2.2" stroke-linejoin="round" opacity="0.95"/>
<polygon points="206.0,940.4 206.9,947.2 197.7,949.3 197.3,944.4" fill="#4c2c9c" stroke="#4c2c9c" stroke-width="2.2" stroke-linejoin="round" opacity="1.00"/>
<polygon points="222.8,945.1 226.1,947.3 224.1,953.0 216.2,955.1 213.4,945.1" fill="#45259a" stroke="#45259a" stroke-width="2.2" stroke-linejoin="round" opacity="0.98"/>
<polygon points="265.7,936.6 272.0,930.7 275.3,932.9 280.9,938.2 276.2,943.5 268.0,943.2" fill="#3a1d8e" stroke="#3a1d8e" stroke-width="2.2" stroke-linejoin="round" opacity="0.96"/>
<polygon points="290.3,952.8 285.8,948.7 293.5,946.4" fill="#4c2c9c" stroke="#4c2c9c" stroke-width="2.2" stroke-linejoin="round" opacity="0.96"/>
<polygon points="315.8,948.3 315.5,942.1 321.2,943.6" fill="#45259a" stroke="#45259a" stroke-width="2.2" stroke-linejoin="round" opacity="0.97"/>
<polygon points="306.2,957.2 302.2,957.6 304.0,948.1 308.6,950.3 310.3,955.4" fill="#3a1d8e" stroke="#3a1d8e" stroke-width="2.2" stroke-linejoin="round" opacity="0.96"/>
<polygon points="166.9,973.8 171.8,964.9 173.9,973.5" fill="#3e2094" stroke="#3e2094" stroke-width="2.2" stroke-linejoin="round" opacity="0.94"/>
<polygon points="187.2,959.9 194.7,964.4 186.2,970.8 182.5,963.4" fill="#3e2094" stroke="#3e2094" stroke-width="2.2" stroke-linejoin="round" opacity="0.98"/>
<polygon points="231.5,964.7 232.0,960.6 235.0,960.7 237.7,964.3 235.4,967.0" fill="#45259a" stroke="#45259a" stroke-width="2.2" stroke-linejoin="round" opacity="0.97"/>
<polygon points="265.6,954.6 267.6,954.7 266.5,961.5 261.8,959.0 261.6,954.3" fill="#3e2094" stroke="#3e2094" stroke-width="2.2" stroke-linejoin="round" opacity="0.97"/>
<polygon points="279.2,964.4 286.3,969.4 280.2,978.3 278.2,972.9" fill="#3a1d8e" stroke="#3a1d8e" stroke-width="2.2" stroke-linejoin="round" opacity="0.97"/>
<polygon points="296.8,966.9 300.0,959.8 313.3,965.5 307.1,969.9" fill="#3e2094" stroke="#3e2094" stroke-width="2.2" stroke-linejoin="round" opacity="0.93"/>
<polygon points="320.5,967.4 323.8,963.0 327.1,968.1 321.2,971.9" fill="#4c2c9c" stroke="#4c2c9c" stroke-width="2.2" stroke-linejoin="round" opacity="0.93"/>
<polygon points="201.7,983.5 202.3,992.8 192.8,992.9 191.8,987.6 196.7,982.1" fill="#4c2c9c" stroke="#4c2c9c" stroke-width="2.2" stroke-linejoin="round" opacity="0.93"/>
<polygon points="235.3,998.8 230.2,995.4 228.7,988.7 231.7,987.9 239.3,991.7" fill="#3a1d8e" stroke="#3a1d8e" stroke-width="2.2" stroke-linejoin="round" opacity="0.95"/>
<polygon points="229.8,990.8 240.0,988.6 239.3,999.0" fill="#3e2094" stroke="#3e2094" stroke-width="2.2" stroke-linejoin="round" opacity="0.99"/>
<polygon points="262.8,972.4 268.6,971.1 268.9,979.3 265.0,984.8 261.5,982.5 260.2,974.7" fill="#3e2094" stroke="#3e2094" stroke-width="2.2" stroke-linejoin="round" opacity="0.99"/>
<polygon points="278.1,971.2 284.3,970.2 284.2,976.6 277.4,976.5" fill="#4c2c9c" stroke="#4c2c9c" stroke-width="2.2" stroke-linejoin="round" opacity="0.98"/>
<polygon points="305.9,986.7 311.0,985.9 315.3,987.0 314.7,995.4 310.0,998.2 307.6,993.0" fill="#4c2c9c" stroke="#4c2c9c" stroke-width="2.2" stroke-linejoin="round" opacity="0.94"/>
<polygon points="316.0,978.3 312.0,976.4 312.9,971.2 316.0,970.9" fill="#3e2094" stroke="#3e2094" stroke-width="2.2" stroke-linejoin="round" opacity="0.93"/>
<polygon points="187.6,996.6 186.3,1000.5 182.1,998.5 185.1,994.4" fill="#3a1d8e" stroke="#3a1d8e" stroke-width="2.2" stroke-linejoin="round" opacity="0.96"/>
<polygon points="194.2,998.2 203.2,994.1 207.8,999.6" fill="#45259a" stroke="#45259a" stroke-width="2.2" stroke-linejoin="round" opacity="0.95"/>
<polygon points="217.9,1005.0 220.1,1001.7 225.2,1002.6 224.1,1005.8 222.2,1006.5" fill="#3e2094" stroke="#3e2094" stroke-width="2.2" stroke-linejoin="round" opacity="0.93"/>
<polygon points="210.9,1006.7 214.8,1017.3 205.7,1015.1" fill="#4c2c9c" stroke="#4c2c9c" stroke-width="2.2" stroke-linejoin="round" opacity="0.98"/>
<polygon points="237.8,1003.8 238.1,1009.0 238.9,1012.3 227.4,1013.3 227.0,1006.4 228.8,1005.0" fill="#4c2c9c" stroke="#4c2c9c" stroke-width="2.2" stroke-linejoin="round" opacity="0.96"/>
<polygon points="284.1,999.7 279.0,997.0 283.0,991.6 287.4,995.4 288.9,999.6" fill="#3e2094" stroke="#3e2094" stroke-width="2.2" stroke-linejoin="round" opacity="0.97"/>
<polygon points="290.5,997.2 293.2,998.1 293.9,1001.4 287.5,1002.5 286.5,1000.3" fill="#4c2c9c" stroke="#4c2c9c" stroke-width="2.2" stroke-linejoin="round" opacity="0.97"/>
<polygon points="325.3,995.2 327.0,995.2 331.7,997.4 330.4,1000.8 324.8,1002.7 321.7,998.9" fill="#45259a" stroke="#45259a" stroke-width="2.2" stroke-linejoin="round" opacity="0.94"/>
</g>
<text x="298.5" y="1008.0" font-size="8.3" fill="#fff" textLength="22.8" lengthAdjust="spacingAndGlyphs">50 μm</text>
<line x1="298.1" y1="1010.7" x2="322.4" y2="1010.7" stroke="#fff" stroke-width="1.1"/>
</g>
<clipPath id="cI3"><rect x="333.2" y="894.1" width="160.70" height="119.80"/></clipPath>
<g clip-path="url(#cI3)">
<rect x="333.2" y="894.1" width="160.70" height="119.80" fill="#a6a5c9"/>
<rect x="333.2" y="894.1" width="160.70" height="119.80" filter="url(#speck)" opacity="0.55"/>
<rect x="333.2" y="894.1" width="160.70" height="119.80" filter="url(#speckw)" opacity="0.2"/>
<g filter="url(#soft)">
<polygon points="346.4,904.2 343.7,908.6 340.2,909.5 337.3,904.7 344.0,901.2" fill="#3a1d8e" stroke="#3a1d8e" stroke-width="2.2" stroke-linejoin="round" opacity="0.95"/>
<polygon points="355.4,901.2 350.4,901.1 352.6,894.6 355.4,893.9 357.7,898.2" fill="#3a1d8e" stroke="#3a1d8e" stroke-width="2.2" stroke-linejoin="round" opacity="0.98"/>
<polygon points="358.6,894.2 366.1,892.3 372.0,893.3 371.0,903.3 362.1,901.0" fill="#4c2c9c" stroke="#4c2c9c" stroke-width="2.2" stroke-linejoin="round" opacity="0.98"/>
<polygon points="405.0,905.8 413.0,906.9 411.8,911.8 404.6,912.2" fill="#4c2c9c" stroke="#4c2c9c" stroke-width="2.2" stroke-linejoin="round" opacity="0.99"/>
<polygon points="415.5,890.9 421.4,892.1 424.2,899.0 416.8,899.5" fill="#45259a" stroke="#45259a" stroke-width="2.2" stroke-linejoin="round" opacity="0.93"/>
<polygon points="454.9,910.8 450.7,912.0 450.3,904.9" fill="#3e2094" stroke="#3e2094" stroke-width="2.2" stroke-linejoin="round" opacity="0.99"/>
<polygon points="435.4,905.6 430.4,906.8 430.1,896.2 435.1,897.8" fill="#3a1d8e" stroke="#3a1d8e" stroke-width="2.2" stroke-linejoin="round" opacity="0.94"/>
<polygon points="434.5,904.1 438.8,906.5 436.9,909.6 432.4,907.6" fill="#45259a" stroke="#45259a" stroke-width="2.2" stroke-linejoin="round" opacity="0.99"/>
<polygon points="451.8,893.7 458.2,897.1 460.1,900.6 456.0,904.9 450.2,905.0" fill="#45259a" stroke="#45259a" stroke-width="2.2" stroke-linejoin="round" opacity="0.95"/>
<polygon points="471.3,900.4 473.1,908.6 463.0,909.2 463.8,901.8" fill="#45259a" stroke="#45259a" stroke-width="2.2" stroke-linejoin="round" opacity="0.97"/>
<polygon points="486.9,909.0 485.1,902.1 491.3,904.0" fill="#4c2c9c" stroke="#4c2c9c" stroke-width="2.2" stroke-linejoin="round" opacity="1.00"/>
<polygon points="336.9,928.6 335.4,924.4 344.0,924.0 344.2,927.4 342.1,932.2 339.5,934.0" fill="#3a1d8e" stroke="#3a1d8e" stroke-width="2.2" stroke-linejoin="round" opacity="0.99"/>
<polygon points="365.4,919.6 363.3,912.4 371.0,909.4 370.2,921.3" fill="#4c2c9c" stroke="#4c2c9c" stroke-width="2.2" stroke-linejoin="round" opacity="0.96"/>
<polygon points="387.6,915.1 390.9,915.6 394.4,922.7 389.0,923.8 383.1,924.2" fill="#4c2c9c" stroke="#4c2c9c" stroke-width="2.2" stroke-linejoin="round" opacity="0.98"/>
<polygon points="412.7,933.2 407.5,934.7 404.0,930.9 405.7,923.9 415.7,927.2" fill="#4c2c9c" stroke="#4c2c9c" stroke-width="2.2" stroke-linejoin="round" opacity="0.93"/>
<polygon points="402.4,922.3 401.5,918.2 407.0,916.1 408.5,921.7" fill="#3a1d8e" stroke="#3a1d8e" stroke-width="2.2" stroke-linejoin="round" opacity="0.98"/>
<polygon points="423.2,930.0 413.9,938.3 414.9,929.2" fill="#45259a" stroke="#45259a" stroke-width="2.2" stroke-linejoin="round" opacity="0.97"/>
<polygon points="440.3,914.9 451.2,919.1 449.3,924.3 436.6,921.9" fill="#3a1d8e" stroke="#3a1d8e" stroke-width="2.2" stroke-linejoin="round" opacity="0.99"/>
<polygon points="461.4,919.7 466.1,925.3 461.3,930.3 455.9,924.4" fill="#45259a" stroke="#45259a" stroke-width="2.2" stroke-linejoin="round" opacity="0.93"/>
<polygon points="459.4,934.0 455.2,931.3 455.9,927.5 458.5,924.7 460.5,927.2" fill="#4c2c9c" stroke="#4c2c9c" stroke-width="2.2" stroke-linejoin="round" opacity="0.98"/>
<polygon points="463.4,927.2 458.5,914.1 464.9,916.2" fill="#4c2c9c" stroke="#4c2c9c" stroke-width="2.2" stroke-linejoin="round" opacity="0.96"/>
<polygon points="480.1,927.1 477.1,925.7 476.4,924.0 479.7,921.4 481.9,921.2 481.7,924.1" fill="#45259a" stroke="#45259a" stroke-width="2.2" stroke-linejoin="round" opacity="0.99"/>
<polygon points="480.0,934.8 475.6,934.3 478.8,929.5 480.2,930.2 482.6,933.0" fill="#4c2c9c" stroke="#4c2c9c" stroke-width="2.2" stroke-linejoin="round" opacity="0.96"/>
<polygon points="476.0,915.3 485.1,918.2 483.3,927.5 472.0,926.6" fill="#4c2c9c" stroke="#4c2c9c" stroke-width="2.2" stroke-linejoin="round" opacity="0.94"/>
<polygon points="495.5,929.8 493.2,937.9 484.8,931.2" fill="#45259a" stroke="#45259a" stroke-width="2.2" stroke-linejoin="round" opacity="0.98"/>
<polygon points="366.5,947.6 364.5,943.4 368.5,943.3" fill="#4c2c9c" stroke="#4c2c9c" stroke-width="2.2" stroke-linejoin="round" opacity="0.97"/>
<polygon points="353.6,947.7 358.9,947.0 356.7,952.8" fill="#4c2c9c" stroke="#4c2c9c" stroke-width="2.2" stroke-linejoin="round" opacity="0.98"/>
<polygon points="383.5,942.3 377.2,941.2 376.6,938.4 379.8,933.2 382.8,931.5" fill="#3e2094" stroke="#3e2094" stroke-width="2.2" stroke-linejoin="round" opacity="1.00"/>
<polygon points="409.5,935.8 412.3,942.9 409.1,950.1 404.2,948.1 402.6,944.1 406.6,937.5" fill="#4c2c9c" stroke="#4c2c9c" stroke-width="2.2" stroke-linejoin="round" opacity="0.94"/>
<polygon points="436.9,939.4 435.6,945.0 431.0,942.2 432.5,938.0" fill="#3a1d8e" stroke="#3a1d8e" stroke-width="2.2" stroke-linejoin="round" opacity="0.95"/>
<polygon points="426.6,953.1 431.4,940.5 437.3,951.0" fill="#3a1d8e" stroke="#3a1d8e" stroke-width="2.2" stroke-linejoin="round" opacity="0.99"/>
<polygon points="456.8,952.1 451.5,955.4 451.6,950.8" fill="#3e2094" stroke="#3e2094" stroke-width="2.2" stroke-linejoin="round" opacity="1.00"/>
<polygon points="429.9,938.3 434.8,932.3 437.1,935.3 438.5,939.7 438.0,945.4 431.4,943.9" fill="#45259a" stroke="#45259a" stroke-width="2.2" stroke-linejoin="round" opacity="0.94"/>
<polygon points="445.7,950.3 448.3,939.3 453.1,947.1" fill="#4c2c9c" stroke="#4c2c9c" stroke-width="2.2" stroke-linejoin="round" opacity="0.94"/>
<polygon points="440.8,946.2 444.7,942.2 448.9,945.9 445.4,952.4 440.3,952.9 437.4,947.3" fill="#3a1d8e" stroke="#3a1d8e" stroke-width="2.2" stroke-linejoin="round" opacity="0.98"/>
<polygon points="450.5,949.0 457.5,940.6 460.9,956.0" fill="#3a1d8e" stroke="#3a1d8e" stroke-width="2.2" stroke-linejoin="round" opacity="0.93"/>
<polygon points="451.1,937.9 460.4,936.1 465.3,940.7 458.7,946.7 454.4,941.7" fill="#3a1d8e" stroke="#3a1d8e" stroke-width="2.2" stroke-linejoin="round" opacity="0.95"/>
<polygon points="492.8,947.6 491.5,955.7 484.4,946.7" fill="#3e2094" stroke="#3e2094" stroke-width="2.2" stroke-linejoin="round" opacity="0.94"/>
<polygon points="485.0,943.5 483.1,941.9 480.3,942.5 479.3,938.0 481.7,935.9 485.0,938.0" fill="#3a1d8e" stroke="#3a1d8e" stroke-width="2.2" stroke-linejoin="round" opacity="0.96"/>
<polygon points="472.7,934.7 475.6,933.6 480.7,935.9 474.2,941.1" fill="#3e2094" stroke="#3e2094" stroke-width="2.2" stroke-linejoin="round" opacity="0.97"/>
<polygon points="486.0,948.3 489.8,945.8 490.4,951.4" fill="#3a1d8e" stroke="#3a1d8e" stroke-width="2.2" stroke-linejoin="round" opacity="0.98"/>
<polygon points="330.4,970.4 338.6,966.5 342.2,969.1 335.5,975.9" fill="#45259a" stroke="#45259a" stroke-width="2.2" stroke-linejoin="round" opacity="0.95"/>
<polygon points="353.5,967.6 361.4,967.3 363.6,973.3 356.4,978.1 352.5,973.5" fill="#4c2c9c" stroke="#4c2c9c" stroke-width="2.2" stroke-linejoin="round" opacity="0.97"/>
<polygon points="407.3,960.9 404.3,960.3 405.7,955.4 409.4,957.4" fill="#4c2c9c" stroke="#4c2c9c" stroke-width="2.2" stroke-linejoin="round" opacity="1.00"/>
<polygon points="412.5,960.3 411.1,969.2 404.6,966.7 406.4,960.3" fill="#45259a" stroke="#45259a" stroke-width="2.2" stroke-linejoin="round" opacity="0.93"/>
<polygon points="417.7,965.7 414.9,972.6 408.4,973.6 411.7,966.6" fill="#4c2c9c" stroke="#4c2c9c" stroke-width="2.2" stroke-linejoin="round" opacity="0.97"/>
<polygon points="420.2,950.9 422.1,957.7 413.6,957.4 414.9,951.5" fill="#4c2c9c" stroke="#4c2c9c" stroke-width="2.2" stroke-linejoin="round" opacity="0.97"/>
<polygon points="438.4,962.4 448.3,964.3 442.0,971.9" fill="#4c2c9c" stroke="#4c2c9c" stroke-width="2.2" stroke-linejoin="round" opacity="0.95"/>
<polygon points="443.0,958.6 443.7,966.5 436.6,962.0" fill="#4c2c9c" stroke="#4c2c9c" stroke-width="2.2" stroke-linejoin="round" opacity="0.97"/>
<polygon points="452.0,967.3 452.2,968.5 449.7,970.2 447.8,968.3 447.1,964.9 449.9,964.6" fill="#4c2c9c" stroke="#4c2c9c" stroke-width="2.2" stroke-linejoin="round" opacity="0.94"/>
<polygon points="451.8,963.2 443.7,964.0 443.0,958.4 445.9,952.3 452.9,957.0 456.3,960.0" fill="#4c2c9c" stroke="#4c2c9c" stroke-width="2.2" stroke-linejoin="round" opacity="0.94"/>
<polygon points="466.7,966.9 464.4,974.4 459.1,971.3 457.9,968.3 461.1,961.7" fill="#45259a" stroke="#45259a" stroke-width="2.2" stroke-linejoin="round" opacity="0.94"/>
<polygon points="477.2,955.9 473.9,956.1 471.9,954.7 473.0,950.6 479.9,951.8" fill="#3e2094" stroke="#3e2094" stroke-width="2.2" stroke-linejoin="round" opacity="0.98"/>
<polygon points="488.1,974.8 489.5,964.1 495.8,963.3 498.9,970.2" fill="#4c2c9c" stroke="#4c2c9c" stroke-width="2.2" stroke-linejoin="round" opacity="0.97"/>
<polygon points="375.6,993.3 365.5,994.3 366.7,986.2" fill="#3e2094" stroke="#3e2094" stroke-width="2.2" stroke-linejoin="round" opacity="0.96"/>
<polygon points="358.2,994.5 361.6,991.5 365.6,995.6" fill="#3e2094" stroke="#3e2094" stroke-width="2.2" stroke-linejoin="round" opacity="0.93"/>
<polygon points="358.2,982.5 364.8,979.8 366.7,982.0 363.9,987.0" fill="#45259a" stroke="#45259a" stroke-width="2.2" stroke-linejoin="round" opacity="0.95"/>
<polygon points="388.4,995.2 378.9,995.3 385.3,989.2" fill="#4c2c9c" stroke="#4c2c9c" stroke-width="2.2" stroke-linejoin="round" opacity="0.99"/>
<polygon points="405.2,995.3 406.2,991.8 410.4,989.4 410.3,993.1 407.8,995.7" fill="#3a1d8e" stroke="#3a1d8e" stroke-width="2.2" stroke-linejoin="round" opacity="0.93"/>
<polygon points="406.0,988.8 405.2,991.9 398.9,989.8 398.9,986.1 403.8,985.8" fill="#3a1d8e" stroke="#3a1d8e" stroke-width="2.2" stroke-linejoin="round" opacity="0.93"/>
<polygon points="415.5,971.0 415.9,978.0 412.6,979.4 408.0,974.9 409.5,970.4" fill="#4c2c9c" stroke="#4c2c9c" stroke-width="2.2" stroke-linejoin="round" opacity="0.98"/>
<polygon points="417.6,970.0 421.8,970.0 422.6,974.4 417.2,978.1 413.5,974.3" fill="#4c2c9c" stroke="#4c2c9c" stroke-width="2.2" stroke-linejoin="round" opacity="0.99"/>
<polygon points="445.5,991.9 445.4,989.1 452.4,988.5 451.0,993.4" fill="#3a1d8e" stroke="#3a1d8e" stroke-width="2.2" stroke-linejoin="round" opacity="0.98"/>
<polygon points="433.6,985.8 439.1,981.1 442.9,983.7 441.1,989.2" fill="#4c2c9c" stroke="#4c2c9c" stroke-width="2.2" stroke-linejoin="round" opacity="1.00"/>
<polygon points="433.6,975.6 442.2,981.1 435.6,984.8 430.4,983.5" fill="#3e2094" stroke="#3e2094" stroke-width="2.2" stroke-linejoin="round" opacity="0.94"/>
<polygon points="453.0,980.2 452.1,974.9 455.9,973.7 461.5,973.1 460.6,976.6 457.5,981.9" fill="#3a1d8e" stroke="#3a1d8e" stroke-width="2.2" stroke-linejoin="round" opacity="0.97"/>
<polygon points="472.5,991.2 478.3,986.9 483.5,991.6 475.8,994.7" fill="#45259a" stroke="#45259a" stroke-width="2.2" stroke-linejoin="round" opacity="0.94"/>
<polygon points="491.7,975.2 496.5,984.5 487.5,984.0" fill="#3a1d8e" stroke="#3a1d8e" stroke-width="2.2" stroke-linejoin="round" opacity="1.00"/>
<polygon points="338.0,1009.9 334.7,1013.3 331.8,1012.9 332.2,1010.2 337.2,1008.8" fill="#3a1d8e" stroke="#3a1d8e" stroke-width="2.2" stroke-linejoin="round" opacity="0.96"/>
<polygon points="361.8,998.4 367.3,1002.9 362.1,1006.5 358.9,1002.0" fill="#3a1d8e" stroke="#3a1d8e" stroke-width="2.2" stroke-linejoin="round" opacity="0.98"/>
<polygon points="386.1,1016.3 378.9,1013.7 384.6,1010.1" fill="#4c2c9c" stroke="#4c2c9c" stroke-width="2.2" stroke-linejoin="round" opacity="0.96"/>
<polygon points="406.1,1010.0 408.0,1002.1 411.1,1001.4 413.4,1007.7 411.3,1011.8" fill="#3a1d8e" stroke="#3a1d8e" stroke-width="2.2" stroke-linejoin="round" opacity="0.96"/>
<polygon points="390.7,1014.4 397.1,1009.0 402.4,1009.5 403.3,1018.8 395.8,1022.1" fill="#3a1d8e" stroke="#3a1d8e" stroke-width="2.2" stroke-linejoin="round" opacity="0.98"/>
<polygon points="416.4,1003.0 414.0,993.6 424.1,994.0" fill="#4c2c9c" stroke="#4c2c9c" stroke-width="2.2" stroke-linejoin="round" opacity="0.97"/>
<polygon points="453.8,1011.8 456.2,1014.3 454.2,1016.4 451.4,1015.6 448.7,1014.7 452.5,1009.7" fill="#3e2094" stroke="#3e2094" stroke-width="2.2" stroke-linejoin="round" opacity="0.95"/>
<polygon points="444.2,999.9 454.1,1005.7 443.8,1016.0 441.9,1006.1" fill="#45259a" stroke="#45259a" stroke-width="2.2" stroke-linejoin="round" opacity="0.97"/>
<polygon points="463.1,1003.3 461.4,1008.5 457.0,1007.2 459.1,999.9" fill="#45259a" stroke="#45259a" stroke-width="2.2" stroke-linejoin="round" opacity="0.96"/>
<polygon points="476.2,1007.1 476.5,1010.4 468.2,1014.0 466.7,1008.9 468.6,1000.9" fill="#4c2c9c" stroke="#4c2c9c" stroke-width="2.2" stroke-linejoin="round" opacity="0.95"/>
<polygon points="491.5,992.7 492.4,998.9 486.2,1000.6 486.8,993.0" fill="#3a1d8e" stroke="#3a1d8e" stroke-width="2.2" stroke-linejoin="round" opacity="0.95"/>
</g>
<text x="465.3" y="1008.0" font-size="8.3" fill="#fff" textLength="22.8" lengthAdjust="spacingAndGlyphs">50 μm</text>
<line x1="464.9" y1="1010.7" x2="489.2" y2="1010.7" stroke="#fff" stroke-width="1.1"/>
</g>
<clipPath id="cI4"><rect x="500.7" y="894.1" width="160.30" height="119.80"/></clipPath>
<g clip-path="url(#cI4)">
<rect x="500.7" y="894.1" width="160.30" height="119.80" fill="#a6a5c9"/>
<rect x="500.7" y="894.1" width="160.30" height="119.80" filter="url(#speck)" opacity="0.55"/>
<rect x="500.7" y="894.1" width="160.30" height="119.80" filter="url(#speckw)" opacity="0.2"/>
<g filter="url(#soft)">
<polygon points="507.6,914.9 503.4,913.0 500.6,908.4 510.9,906.3 515.0,908.8 514.2,914.5" fill="#45259a" stroke="#45259a" stroke-width="2.2" stroke-linejoin="round" opacity="0.96"/>
<polygon points="507.2,894.3 513.0,903.3 509.7,905.2 503.5,905.8 502.5,897.4" fill="#3a1d8e" stroke="#3a1d8e" stroke-width="2.2" stroke-linejoin="round" opacity="1.00"/>
<polygon points="502.2,894.9 506.8,895.2 503.7,900.5" fill="#4c2c9c" stroke="#4c2c9c" stroke-width="2.2" stroke-linejoin="round" opacity="0.99"/>
<polygon points="534.4,902.9 537.5,898.0 546.5,898.1 544.8,904.2 539.5,905.2" fill="#4c2c9c" stroke="#4c2c9c" stroke-width="2.2" stroke-linejoin="round" opacity="1.00"/>
<polygon points="542.1,909.4 538.1,914.0 529.6,912.2 527.9,906.7 537.4,900.8" fill="#3a1d8e" stroke="#3a1d8e" stroke-width="2.2" stroke-linejoin="round" opacity="0.97"/>
<polygon points="528.7,895.0 534.8,893.4 532.7,899.1" fill="#3a1d8e" stroke="#3a1d8e" stroke-width="2.2" stroke-linejoin="round" opacity="0.98"/>
<polygon points="545.4,909.5 543.1,913.2 541.2,914.5 537.7,912.7 536.9,909.5 539.2,907.2" fill="#45259a" stroke="#45259a" stroke-width="2.2" stroke-linejoin="round" opacity="0.97"/>
<polygon points="522.2,912.8 516.3,913.5 517.9,907.5 522.5,904.3 527.8,905.7" fill="#45259a" stroke="#45259a" stroke-width="2.2" stroke-linejoin="round" opacity="0.94"/>
<polygon points="555.4,897.8 561.2,900.3 558.9,906.6 556.1,905.7 550.8,902.3 553.3,898.4" fill="#45259a" stroke="#45259a" stroke-width="2.2" stroke-linejoin="round" opacity="0.95"/>
<polygon points="538.9,894.6 549.0,893.6 549.2,898.2 539.2,905.1" fill="#4c2c9c" stroke="#4c2c9c" stroke-width="2.2" stroke-linejoin="round" opacity="0.99"/>
<polygon points="554.2,897.1 562.8,896.3 565.3,899.7 560.3,905.4" fill="#3a1d8e" stroke="#3a1d8e" stroke-width="2.2" stroke-linejoin="round" opacity="0.98"/>
<polygon points="568.6,899.7 571.6,903.0 571.1,905.7 564.4,906.8 565.4,903.1 567.0,900.3" fill="#3a1d8e" stroke="#3a1d8e" stroke-width="2.2" stroke-linejoin="round" opacity="1.00"/>
<polygon points="567.0,898.4 570.3,897.6 574.1,898.7 570.9,903.3 567.4,904.7" fill="#4c2c9c" stroke="#4c2c9c" stroke-width="2.2" stroke-linejoin="round" opacity="0.93"/>
<polygon points="571.0,917.0 567.5,912.4 570.7,908.7 572.9,908.9 575.8,912.6" fill="#3e2094" stroke="#3e2094" stroke-width="2.2" stroke-linejoin="round" opacity="0.95"/>
<polygon points="589.5,897.7 585.0,896.5 588.5,891.2" fill="#45259a" stroke="#45259a" stroke-width="2.2" stroke-linejoin="round" opacity="0.97"/>
<polygon points="584.7,899.3 592.9,899.3 589.4,908.3" fill="#3e2094" stroke="#3e2094" stroke-width="2.2" stroke-linejoin="round" opacity="0.96"/>
<polygon points="590.3,902.2 594.6,898.2 597.0,899.7 595.9,902.5 593.1,902.0" fill="#4c2c9c" stroke="#4c2c9c" stroke-width="2.2" stroke-linejoin="round" opacity="0.93"/>
<polygon points="594.3,912.7 594.4,907.6 601.4,906.7 600.7,911.5 599.9,915.1" fill="#3e2094" stroke="#3e2094" stroke-width="2.2" stroke-linejoin="round" opacity="0.97"/>
<polygon points="602.1,915.6 589.5,913.3 597.1,904.2" fill="#45259a" stroke="#45259a" stroke-width="2.2" stroke-linejoin="round" opacity="0.94"/>
<polygon points="604.0,901.9 600.1,898.5 604.6,894.8" fill="#3a1d8e" stroke="#3a1d8e" stroke-width="2.2" stroke-linejoin="round" opacity="0.96"/>
<polygon points="620.1,892.4 619.9,902.4 614.1,905.7 607.0,901.7 614.3,892.5" fill="#3a1d8e" stroke="#3a1d8e" stroke-width="2.2" stroke-linejoin="round" opacity="0.99"/>
<polygon points="609.9,904.4 602.8,900.2 606.5,895.7 613.4,896.7 615.8,903.5" fill="#45259a" stroke="#45259a" stroke-width="2.2" stroke-linejoin="round" opacity="0.99"/>
<polygon points="614.5,912.7 611.4,913.5 612.0,908.4 613.2,907.5 616.3,910.4" fill="#3e2094" stroke="#3e2094" stroke-width="2.2" stroke-linejoin="round" opacity="0.99"/>
<polygon points="602.4,901.8 605.6,904.8 604.9,910.0 598.5,908.3" fill="#45259a" stroke="#45259a" stroke-width="2.2" stroke-linejoin="round" opacity="0.97"/>
<polygon points="629.7,901.1 629.1,904.9 624.0,904.9 623.9,899.2" fill="#3a1d8e" stroke="#3a1d8e" stroke-width="2.2" stroke-linejoin="round" opacity="0.97"/>
<polygon points="641.2,900.4 643.8,901.0 644.2,906.4 639.9,910.0 634.7,905.2 636.1,904.1" fill="#3a1d8e" stroke="#3a1d8e" stroke-width="2.2" stroke-linejoin="round" opacity="0.98"/>
<polygon points="628.9,908.3 618.5,913.2 616.6,905.1 627.7,902.8" fill="#3e2094" stroke="#3e2094" stroke-width="2.2" stroke-linejoin="round" opacity="0.94"/>
<polygon points="642.3,902.0 645.7,901.3 649.1,904.0 647.1,911.3 643.5,912.2 641.9,911.5" fill="#4c2c9c" stroke="#4c2c9c" stroke-width="2.2" stroke-linejoin="round" opacity="0.95"/>
<polygon points="646.7,889.6 655.5,897.2 642.0,897.0" fill="#4c2c9c" stroke="#4c2c9c" stroke-width="2.2" stroke-linejoin="round" opacity="0.94"/>
<polygon points="654.3,901.5 657.9,905.4 655.8,906.6 653.3,904.1" fill="#3e2094" stroke="#3e2094" stroke-width="2.2" stroke-linejoin="round" opacity="0.94"/>
<polygon points="646.1,911.4 646.9,908.9 652.1,905.6 657.8,913.7 651.3,917.0" fill="#3e2094" stroke="#3e2094" stroke-width="2.2" stroke-linejoin="round" opacity="0.94"/>
<polygon points="520.1,929.8 513.5,926.4 517.1,923.0 521.2,925.0" fill="#3e2094" stroke="#3e2094" stroke-width="2.2" stroke-linejoin="round" opacity="0.96"/>
<polygon points="515.4,917.2 510.2,923.7 506.1,917.3 508.6,914.9" fill="#3a1d8e" stroke="#3a1d8e" stroke-width="2.2" stroke-linejoin="round" opacity="0.95"/>
<polygon points="519.8,912.3 523.8,915.0 523.2,916.9 521.2,919.5 516.6,918.0 517.9,915.7" fill="#3a1d8e" stroke="#3a1d8e" stroke-width="2.2" stroke-linejoin="round" opacity="0.97"/>
<polygon points="512.4,935.2 507.0,939.6 503.5,932.2 503.7,929.0 510.6,927.8" fill="#3e2094" stroke="#3e2094" stroke-width="2.2" stroke-linejoin="round" opacity="0.94"/>
<polygon points="506.8,927.8 503.2,932.9 500.8,927.2" fill="#45259a" stroke="#45259a" stroke-width="2.2" stroke-linejoin="round" opacity="0.97"/>
<polygon points="513.5,927.7 520.2,917.3 524.3,927.8" fill="#3e2094" stroke="#3e2094" stroke-width="2.2" stroke-linejoin="round" opacity="0.96"/>
<polygon points="533.5,928.9 529.5,930.4 523.4,927.9 528.2,923.2" fill="#3e2094" stroke="#3e2094" stroke-width="2.2" stroke-linejoin="round" opacity="0.97"/>
<polygon points="521.5,919.3 523.6,911.0 529.2,912.3 528.4,919.9" fill="#3e2094" stroke="#3e2094" stroke-width="2.2" stroke-linejoin="round" opacity="1.00"/>
<polygon points="534.0,923.6 529.9,924.7 530.2,921.1 533.7,917.1 536.7,920.5" fill="#3a1d8e" stroke="#3a1d8e" stroke-width="2.2" stroke-linejoin="round" opacity="0.96"/>
<polygon points="524.2,912.8 528.5,910.9 527.9,920.3 524.0,921.0 519.6,917.8" fill="#4c2c9c" stroke="#4c2c9c" stroke-width="2.2" stroke-linejoin="round" opacity="0.95"/>
<polygon points="543.9,924.1 545.8,919.0 552.0,917.6 554.7,925.1 552.2,928.5" fill="#3a1d8e" stroke="#3a1d8e" stroke-width="2.2" stroke-linejoin="round" opacity="0.94"/>
<polygon points="546.1,927.3 541.9,924.7 545.8,917.3 549.5,920.9" fill="#3e2094" stroke="#3e2094" stroke-width="2.2" stroke-linejoin="round" opacity="0.97"/>
<polygon points="576.2,935.0 572.2,933.7 572.4,924.4 579.4,921.4 580.9,926.1" fill="#3e2094" stroke="#3e2094" stroke-width="2.2" stroke-linejoin="round" opacity="0.99"/>
<polygon points="593.9,924.3 595.1,932.7 589.1,931.9 587.8,928.9 586.4,923.3 590.6,921.6" fill="#4c2c9c" stroke="#4c2c9c" stroke-width="2.2" stroke-linejoin="round" opacity="0.93"/>
<polygon points="578.1,927.8 582.4,926.9 585.5,930.1 583.2,931.3 578.6,931.0" fill="#45259a" stroke="#45259a" stroke-width="2.2" stroke-linejoin="round" opacity="0.95"/>
<polygon points="590.4,911.4 589.2,918.0 587.3,918.8 584.1,917.3 581.5,913.8 589.6,910.0" fill="#45259a" stroke="#45259a" stroke-width="2.2" stroke-linejoin="round" opacity="0.97"/>
<polygon points="618.0,935.9 618.4,931.8 622.6,931.0 623.3,934.3" fill="#3e2094" stroke="#3e2094" stroke-width="2.2" stroke-linejoin="round" opacity="0.97"/>
<polygon points="614.4,923.9 617.8,921.5 618.4,926.9 614.9,927.5" fill="#4c2c9c" stroke="#4c2c9c" stroke-width="2.2" stroke-linejoin="round" opacity="0.96"/>
<polygon points="620.1,920.4 620.0,928.0 611.6,928.0 611.7,917.9" fill="#3e2094" stroke="#3e2094" stroke-width="2.2" stroke-linejoin="round" opacity="0.99"/>
<polygon points="607.7,925.3 604.7,924.8 605.8,919.8 607.6,920.3 611.4,920.1 609.6,924.4" fill="#4c2c9c" stroke="#4c2c9c" stroke-width="2.2" stroke-linejoin="round" opacity="0.98"/>
<polygon points="608.3,924.7 610.5,928.8 609.5,932.3 603.5,930.8" fill="#4c2c9c" stroke="#4c2c9c" stroke-width="2.2" stroke-linejoin="round" opacity="0.97"/>
<polygon points="621.0,928.6 610.6,931.4 614.4,925.2" fill="#3e2094" stroke="#3e2094" stroke-width="2.2" stroke-linejoin="round" opacity="0.95"/>
<polygon points="614.3,918.0 615.0,912.0 619.8,914.8" fill="#3e2094" stroke="#3e2094" stroke-width="2.2" stroke-linejoin="round" opacity="0.94"/>
<polygon points="601.7,922.1 607.3,920.5 609.5,929.5 605.4,929.6 597.7,928.7" fill="#3e2094" stroke="#3e2094" stroke-width="2.2" stroke-linejoin="round" opacity="0.98"/>
<polygon points="619.0,917.1 618.9,914.8 623.1,913.1 624.5,915.1 622.5,920.1" fill="#45259a" stroke="#45259a" stroke-width="2.2" stroke-linejoin="round" opacity="0.98"/>
<polygon points="636.1,908.4 639.5,919.1 633.3,921.2 629.6,915.9" fill="#3e2094" stroke="#3e2094" stroke-width="2.2" stroke-linejoin="round" opacity="0.95"/>
<polygon points="620.0,919.4 629.6,924.8 617.4,932.1" fill="#3a1d8e" stroke="#3a1d8e" stroke-width="2.2" stroke-linejoin="round" opacity="1.00"/>
<polygon points="636.2,923.4 632.9,935.5 625.3,928.5" fill="#3e2094" stroke="#3e2094" stroke-width="2.2" stroke-linejoin="round" opacity="0.94"/>
<polygon points="632.3,915.4 644.5,916.7 641.5,926.3 632.2,923.3" fill="#45259a" stroke="#45259a" stroke-width="2.2" stroke-linejoin="round" opacity="0.96"/>
<polygon points="644.8,917.0 644.9,919.5 640.7,922.7 638.6,923.0 636.6,917.2 640.9,914.7" fill="#4c2c9c" stroke="#4c2c9c" stroke-width="2.2" stroke-linejoin="round" opacity="0.94"/>
<polygon points="636.8,927.7 639.4,922.4 647.3,928.0" fill="#3a1d8e" stroke="#3a1d8e" stroke-width="2.2" stroke-linejoin="round" opacity="0.97"/>
<polygon points="655.4,926.7 657.4,931.2 651.5,938.0 644.3,929.9" fill="#45259a" stroke="#45259a" stroke-width="2.2" stroke-linejoin="round" opacity="1.00"/>
<polygon points="508.7,942.8 505.4,939.6 509.5,935.7 512.6,937.5" fill="#3a1d8e" stroke="#3a1d8e" stroke-width="2.2" stroke-linejoin="round" opacity="0.99"/>
<polygon points="504.0,948.3 498.6,949.7 498.4,942.4 504.3,941.3 507.5,944.1" fill="#3e2094" stroke="#3e2094" stroke-width="2.2" stroke-linejoin="round" opacity="0.98"/>
<polygon points="499.6,931.0 506.4,938.2 502.7,939.5 498.0,937.1" fill="#3a1d8e" stroke="#3a1d8e" stroke-width="2.2" stroke-linejoin="round" opacity="0.99"/>
<polygon points="510.2,953.2 508.5,947.5 512.8,947.1 515.6,949.5 511.8,953.9" fill="#4c2c9c" stroke="#4c2c9c" stroke-width="2.2" stroke-linejoin="round" opacity="0.98"/>
<polygon points="517.1,942.4 516.5,948.8 513.2,950.9 509.7,952.8 510.4,945.0" fill="#3a1d8e" stroke="#3a1d8e" stroke-width="2.2" stroke-linejoin="round" opacity="1.00"/>
<polygon points="508.0,940.5 514.0,946.3 512.8,951.3 508.6,952.9 504.3,943.1" fill="#3e2094" stroke="#3e2094" stroke-width="2.2" stroke-linejoin="round" opacity="0.93"/>
<polygon points="538.7,935.3 533.1,937.1 533.7,932.4 537.8,932.3" fill="#3e2094" stroke="#3e2094" stroke-width="2.2" stroke-linejoin="round" opacity="1.00"/>
<polygon points="538.6,948.3 534.5,948.0 532.7,946.8 536.0,941.3 540.1,943.8" fill="#3a1d8e" stroke="#3a1d8e" stroke-width="2.2" stroke-linejoin="round" opacity="0.95"/>
<polygon points="524.4,942.7 520.8,938.8 529.2,937.1 529.5,941.2 528.0,943.1" fill="#45259a" stroke="#45259a" stroke-width="2.2" stroke-linejoin="round" opacity="0.98"/>
<polygon points="523.9,949.3 524.0,942.9 533.4,944.0 528.8,949.4" fill="#45259a" stroke="#45259a" stroke-width="2.2" stroke-linejoin="round" opacity="0.96"/>
<polygon points="541.6,944.3 548.6,949.9 546.5,954.8 539.6,957.1 537.5,948.8" fill="#4c2c9c" stroke="#4c2c9c" stroke-width="2.2" stroke-linejoin="round" opacity="0.94"/>
<polygon points="546.3,945.6 548.7,953.8 543.6,957.7 536.7,952.2 540.9,945.4" fill="#45259a" stroke="#45259a" stroke-width="2.2" stroke-linejoin="round" opacity="0.93"/>
<polygon points="543.6,955.3 548.6,944.8 550.7,956.7" fill="#3a1d8e" stroke="#3a1d8e" stroke-width="2.2" stroke-linejoin="round" opacity="1.00"/>
<polygon points="572.1,937.9 569.2,941.4 565.7,943.5 562.4,940.6 561.8,935.0 568.1,934.0" fill="#45259a" stroke="#45259a" stroke-width="2.2" stroke-linejoin="round" opacity="0.97"/>
<polygon points="590.8,937.8 587.8,942.8 585.7,942.9 584.3,938.2 585.6,935.3 589.2,936.1" fill="#4c2c9c" stroke="#4c2c9c" stroke-width="2.2" stroke-linejoin="round" opacity="0.95"/>
<polygon points="587.3,944.8 585.3,938.9 588.7,937.4 591.4,942.0" fill="#45259a" stroke="#45259a" stroke-width="2.2" stroke-linejoin="round" opacity="0.94"/>
<polygon points="612.6,952.5 611.2,949.6 611.1,948.4 614.3,947.4 617.6,949.0" fill="#4c2c9c" stroke="#4c2c9c" stroke-width="2.2" stroke-linejoin="round" opacity="0.94"/>
<polygon points="607.2,953.5 602.9,951.1 606.3,949.9" fill="#4c2c9c" stroke="#4c2c9c" stroke-width="2.2" stroke-linejoin="round" opacity="0.98"/>
<polygon points="611.5,942.6 606.0,934.5 612.8,928.7 617.6,938.5" fill="#3e2094" stroke="#3e2094" stroke-width="2.2" stroke-linejoin="round" opacity="1.00"/>
<polygon points="599.9,947.4 603.4,946.0 606.5,946.8 607.5,953.1 606.5,955.6 600.1,954.2" fill="#3e2094" stroke="#3e2094" stroke-width="2.2" stroke-linejoin="round" opacity="0.93"/>
<polygon points="627.9,937.4 634.4,934.1 636.5,942.6 631.6,944.6" fill="#4c2c9c" stroke="#4c2c9c" stroke-width="2.2" stroke-linejoin="round" opacity="0.94"/>
<polygon points="627.0,956.3 624.3,944.2 634.2,945.5" fill="#4c2c9c" stroke="#4c2c9c" stroke-width="2.2" stroke-linejoin="round" opacity="0.97"/>
<polygon points="646.3,943.2 640.4,942.7 643.8,938.3" fill="#3e2094" stroke="#3e2094" stroke-width="2.2" stroke-linejoin="round" opacity="0.95"/>
<polygon points="664.2,937.6 655.5,942.4 649.3,935.2 655.5,930.2" fill="#3a1d8e" stroke="#3a1d8e" stroke-width="2.2" stroke-linejoin="round" opacity="1.00"/>
<polygon points="503.9,965.3 496.3,962.8 499.3,957.8 503.8,957.7 506.7,959.5" fill="#45259a" stroke="#45259a" stroke-width="2.2" stroke-linejoin="round" opacity="0.96"/>
<polygon points="499.4,975.7 498.8,966.5 508.1,967.8 505.8,974.8" fill="#4c2c9c" stroke="#4c2c9c" stroke-width="2.2" stroke-linejoin="round" opacity="0.95"/>
<polygon points="503.2,965.2 510.9,970.4 507.9,974.6 500.6,979.1 498.6,968.9" fill="#3e2094" stroke="#3e2094" stroke-width="2.2" stroke-linejoin="round" opacity="0.97"/>
<polygon points="514.3,970.6 508.4,964.0 513.2,957.7 518.5,965.5" fill="#3e2094" stroke="#3e2094" stroke-width="2.2" stroke-linejoin="round" opacity="0.93"/>
<polygon points="525.8,957.3 530.6,952.8 536.6,959.9 531.6,960.8" fill="#3e2094" stroke="#3e2094" stroke-width="2.2" stroke-linejoin="round" opacity="0.95"/>
<polygon points="532.4,969.6 537.4,975.8 526.2,975.8" fill="#3a1d8e" stroke="#3a1d8e" stroke-width="2.2" stroke-linejoin="round" opacity="1.00"/>
<polygon points="516.5,972.7 523.2,968.2 526.3,971.7 525.9,977.1 520.6,977.0" fill="#45259a" stroke="#45259a" stroke-width="2.2" stroke-linejoin="round" opacity="1.00"/>
<polygon points="521.5,958.7 525.3,955.5 528.7,957.1 526.6,960.4 522.5,960.7" fill="#3e2094" stroke="#3e2094" stroke-width="2.2" stroke-linejoin="round" opacity="0.99"/>
<polygon points="527.1,968.0 528.8,963.9 537.5,965.7 534.3,970.4" fill="#3a1d8e" stroke="#3a1d8e" stroke-width="2.2" stroke-linejoin="round" opacity="0.93"/>
<polygon points="517.4,959.5 519.5,953.9 522.2,951.7 527.9,953.6 524.0,961.7" fill="#4c2c9c" stroke="#4c2c9c" stroke-width="2.2" stroke-linejoin="round" opacity="0.96"/>
<polygon points="560.7,970.8 557.7,977.6 550.0,979.0 549.5,967.4 553.8,968.0" fill="#45259a" stroke="#45259a" stroke-width="2.2" stroke-linejoin="round" opacity="0.95"/>
<polygon points="544.7,954.8 546.8,958.4 541.0,959.2 539.1,956.2" fill="#45259a" stroke="#45259a" stroke-width="2.2" stroke-linejoin="round" opacity="0.97"/>
<polygon points="558.3,973.9 555.5,969.9 559.7,966.5 562.1,968.5 561.3,972.4" fill="#4c2c9c" stroke="#4c2c9c" stroke-width="2.2" stroke-linejoin="round" opacity="0.99"/>
<polygon points="550.3,963.0 544.4,963.7 543.1,958.6 551.7,958.1" fill="#3a1d8e" stroke="#3a1d8e" stroke-width="2.2" stroke-linejoin="round" opacity="0.98"/>
<polygon points="565.3,957.1 568.0,954.1 569.5,958.0 565.8,960.4" fill="#4c2c9c" stroke="#4c2c9c" stroke-width="2.2" stroke-linejoin="round" opacity="0.94"/>
<polygon points="562.6,954.6 564.5,951.6 568.5,954.9 564.2,956.7" fill="#4c2c9c" stroke="#4c2c9c" stroke-width="2.2" stroke-linejoin="round" opacity="0.99"/>
<polygon points="567.3,973.4 561.1,973.0 559.8,967.3 569.4,967.8" fill="#3a1d8e" stroke="#3a1d8e" stroke-width="2.2" stroke-linejoin="round" opacity="0.97"/>
<polygon points="619.8,963.6 619.4,967.3 614.8,969.6 613.7,963.6" fill="#45259a" stroke="#45259a" stroke-width="2.2" stroke-linejoin="round" opacity="0.99"/>
<polygon points="638.0,974.7 631.2,974.6 627.5,969.5 632.4,967.7 637.4,966.3 636.5,971.3" fill="#3a1d8e" stroke="#3a1d8e" stroke-width="2.2" stroke-linejoin="round" opacity="0.94"/>
<polygon points="660.0,952.4 664.1,958.6 662.7,964.6 652.1,964.6 648.8,963.2 654.2,953.4" fill="#3a1d8e" stroke="#3a1d8e" stroke-width="2.2" stroke-linejoin="round" opacity="0.97"/>
<polygon points="498.7,992.1 503.1,983.2 508.3,989.6" fill="#3a1d8e" stroke="#3a1d8e" stroke-width="2.2" stroke-linejoin="round" opacity="1.00"/>
<polygon points="513.4,993.4 514.4,989.4 519.7,990.7 517.1,996.7" fill="#4c2c9c" stroke="#4c2c9c" stroke-width="2.2" stroke-linejoin="round" opacity="0.96"/>
<polygon points="509.9,975.5 509.4,971.0 517.0,970.5 517.8,976.0 514.0,976.8" fill="#4c2c9c" stroke="#4c2c9c" stroke-width="2.2" stroke-linejoin="round" opacity="0.96"/>
<polygon points="533.4,990.1 534.6,991.2 534.0,995.2 533.7,996.8 530.4,996.1 528.8,993.5" fill="#3e2094" stroke="#3e2094" stroke-width="2.2" stroke-linejoin="round" opacity="0.99"/>
<polygon points="523.3,975.5 523.4,977.0 519.9,976.2 517.6,973.6 520.3,971.8 522.6,972.6" fill="#4c2c9c" stroke="#4c2c9c" stroke-width="2.2" stroke-linejoin="round" opacity="0.98"/>
<polygon points="534.0,976.9 535.3,971.2 539.3,974.6" fill="#45259a" stroke="#45259a" stroke-width="2.2" stroke-linejoin="round" opacity="0.96"/>
<polygon points="525.9,987.1 531.3,984.7 532.8,985.4 537.6,993.5 533.0,994.3 526.2,995.0" fill="#3e2094" stroke="#3e2094" stroke-width="2.2" stroke-linejoin="round" opacity="0.96"/>
<polygon points="531.7,987.6 536.6,978.8 544.0,983.0 539.2,989.6" fill="#45259a" stroke="#45259a" stroke-width="2.2" stroke-linejoin="round" opacity="0.96"/>
<polygon points="536.3,991.3 533.1,990.1 536.6,985.4 541.5,985.9 540.8,988.5 538.7,993.1" fill="#4c2c9c" stroke="#4c2c9c" stroke-width="2.2" stroke-linejoin="round" opacity="0.94"/>
<polygon points="539.4,994.2 539.6,991.9 545.4,988.2 549.0,991.4 547.7,994.7 542.2,998.2" fill="#45259a" stroke="#45259a" stroke-width="2.2" stroke-linejoin="round" opacity="0.98"/>
<polygon points="541.1,995.0 542.7,988.4 550.1,992.5" fill="#45259a" stroke="#45259a" stroke-width="2.2" stroke-linejoin="round" opacity="0.94"/>
<polygon points="561.2,977.9 553.0,976.3 554.5,971.2 562.6,974.2" fill="#45259a" stroke="#45259a" stroke-width="2.2" stroke-linejoin="round" opacity="0.95"/>
<polygon points="548.7,993.4 539.2,988.6 546.1,984.8" fill="#45259a" stroke="#45259a" stroke-width="2.2" stroke-linejoin="round" opacity="0.94"/>
<polygon points="545.9,974.8 549.3,982.1 540.6,982.8 540.0,972.9" fill="#3e2094" stroke="#3e2094" stroke-width="2.2" stroke-linejoin="round" opacity="1.00"/>
<polygon points="552.6,980.5 559.2,977.5 559.4,983.6 556.7,985.5" fill="#45259a" stroke="#45259a" stroke-width="2.2" stroke-linejoin="round" opacity="0.98"/>
<polygon points="576.5,985.6 581.6,987.5 583.0,991.2 578.9,991.2 576.0,990.8" fill="#3a1d8e" stroke="#3a1d8e" stroke-width="2.2" stroke-linejoin="round" opacity="0.95"/>
<polygon points="581.8,993.7 574.3,990.0 574.2,987.6 577.2,981.9 585.4,985.1 585.2,988.9" fill="#45259a" stroke="#45259a" stroke-width="2.2" stroke-linejoin="round" opacity="0.98"/>
<polygon points="573.5,989.0 578.4,993.9 570.1,995.9 567.4,991.6" fill="#3e2094" stroke="#3e2094" stroke-width="2.2" stroke-linejoin="round" opacity="0.97"/>
<polygon points="573.0,975.0 576.9,971.3 584.4,976.0 577.7,981.6" fill="#3e2094" stroke="#3e2094" stroke-width="2.2" stroke-linejoin="round" opacity="0.97"/>
<polygon points="586.1,987.0 586.1,980.5 591.5,971.8 599.2,976.6 597.7,980.9 594.1,984.9" fill="#45259a" stroke="#45259a" stroke-width="2.2" stroke-linejoin="round" opacity="0.97"/>
<polygon points="606.8,986.2 602.6,988.0 598.9,983.8 602.4,979.7" fill="#4c2c9c" stroke="#4c2c9c" stroke-width="2.2" stroke-linejoin="round" opacity="0.95"/>
<polygon points="636.2,990.2 635.9,988.0 639.3,987.1 640.0,987.4 642.2,989.4 639.4,992.1" fill="#3e2094" stroke="#3e2094" stroke-width="2.2" stroke-linejoin="round" opacity="0.99"/>
<polygon points="638.4,978.6 643.6,980.6 638.1,985.1" fill="#3e2094" stroke="#3e2094" stroke-width="2.2" stroke-linejoin="round" opacity="1.00"/>
<polygon points="637.5,989.6 639.0,991.8 635.5,994.0 633.2,988.8" fill="#3e2094" stroke="#3e2094" stroke-width="2.2" stroke-linejoin="round" opacity="0.96"/>
<polygon points="634.2,974.1 640.1,969.7 645.1,974.9 645.8,979.2 636.8,978.5" fill="#3e2094" stroke="#3e2094" stroke-width="2.2" stroke-linejoin="round" opacity="0.94"/>
<polygon points="656.2,978.6 659.6,978.1 662.2,978.9 658.8,982.5 655.6,981.0" fill="#3e2094" stroke="#3e2094" stroke-width="2.2" stroke-linejoin="round" opacity="0.93"/>
<polygon points="659.9,992.4 656.9,998.9 651.5,995.3 653.5,987.7 659.0,989.7" fill="#3e2094" stroke="#3e2094" stroke-width="2.2" stroke-linejoin="round" opacity="0.99"/>
<polygon points="504.1,1014.8 504.4,1006.4 513.1,1012.5" fill="#45259a" stroke="#45259a" stroke-width="2.2" stroke-linejoin="round" opacity="0.97"/>
<polygon points="509.8,1006.0 514.8,1006.1 514.0,1015.3 507.8,1012.2" fill="#3a1d8e" stroke="#3a1d8e" stroke-width="2.2" stroke-linejoin="round" opacity="0.96"/>
<polygon points="529.0,1007.9 531.5,1005.7 537.2,1008.0 540.0,1013.7 531.1,1013.4" fill="#45259a" stroke="#45259a" stroke-width="2.2" stroke-linejoin="round" opacity="0.97"/>
<polygon points="539.6,990.2 546.9,993.9 543.1,1001.9 536.5,999.6" fill="#4c2c9c" stroke="#4c2c9c" stroke-width="2.2" stroke-linejoin="round" opacity="1.00"/>
<polygon points="519.1,1008.9 522.0,1004.4 527.0,1009.1" fill="#4c2c9c" stroke="#4c2c9c" stroke-width="2.2" stroke-linejoin="round" opacity="0.94"/>
<polygon points="531.3,1006.7 532.3,999.6 539.9,1006.4 534.7,1009.6" fill="#3a1d8e" stroke="#3a1d8e" stroke-width="2.2" stroke-linejoin="round" opacity="0.94"/>
<polygon points="530.7,996.2 523.3,997.1 522.2,992.6 528.8,990.2" fill="#3e2094" stroke="#3e2094" stroke-width="2.2" stroke-linejoin="round" opacity="0.95"/>
<polygon points="542.0,1012.0 536.3,1011.0 539.2,1002.4 545.6,1007.2" fill="#45259a" stroke="#45259a" stroke-width="2.2" stroke-linejoin="round" opacity="0.96"/>
<polygon points="560.2,1005.2 562.0,1006.6 559.7,1009.6 554.0,1009.6 554.8,1007.9 558.0,1004.7" fill="#3a1d8e" stroke="#3a1d8e" stroke-width="2.2" stroke-linejoin="round" opacity="0.96"/>
<polygon points="558.9,1010.7 556.1,1016.2 552.5,1016.2 550.5,1012.1" fill="#3a1d8e" stroke="#3a1d8e" stroke-width="2.2" stroke-linejoin="round" opacity="0.97"/>
<polygon points="554.0,993.0 560.8,998.2 553.1,1002.6 551.5,999.3" fill="#3a1d8e" stroke="#3a1d8e" stroke-width="2.2" stroke-linejoin="round" opacity="0.98"/>
<polygon points="565.5,997.5 558.9,1001.5 555.0,992.9 559.7,988.6" fill="#45259a" stroke="#45259a" stroke-width="2.2" stroke-linejoin="round" opacity="0.97"/>
<polygon points="595.0,1010.8 587.9,1011.4 587.8,1005.5 589.7,1003.2 595.3,1004.4" fill="#45259a" stroke="#45259a" stroke-width="2.2" stroke-linejoin="round" opacity="0.97"/>
<polygon points="619.5,992.7 622.5,994.4 617.0,1002.9 612.6,1001.3 609.8,993.6 612.7,990.8" fill="#3a1d8e" stroke="#3a1d8e" stroke-width="2.2" stroke-linejoin="round" opacity="0.97"/>
<polygon points="604.6,1003.8 599.6,1000.7 601.5,995.0 606.5,997.5" fill="#4c2c9c" stroke="#4c2c9c" stroke-width="2.2" stroke-linejoin="round" opacity="0.96"/>
<polygon points="638.3,1002.5 636.0,1007.6 632.5,1005.6 631.5,1000.1 635.0,997.3 637.6,997.8" fill="#3e2094" stroke="#3e2094" stroke-width="2.2" stroke-linejoin="round" opacity="0.95"/>
<polygon points="630.6,1006.1 627.3,1005.0 623.0,1000.7 626.9,998.7 631.9,1001.5" fill="#4c2c9c" stroke="#4c2c9c" stroke-width="2.2" stroke-linejoin="round" opacity="0.94"/>
<polygon points="651.1,1008.6 653.9,1000.3 658.9,1006.7" fill="#45259a" stroke="#45259a" stroke-width="2.2" stroke-linejoin="round" opacity="0.99"/>
</g>
<text x="632.4" y="1008.0" font-size="8.3" fill="#fff" textLength="22.8" lengthAdjust="spacingAndGlyphs">50 μm</text>
<line x1="632.0" y1="1010.7" x2="656.3" y2="1010.7" stroke="#fff" stroke-width="1.1"/>
</g>
<clipPath id="cI5"><rect x="0" y="1043.7" width="160.80" height="120.30"/></clipPath>
<g clip-path="url(#cI5)">
<rect x="0" y="1043.7" width="160.80" height="120.30" fill="#a6a5c9"/>
<rect x="0" y="1043.7" width="160.80" height="120.30" filter="url(#speck)" opacity="0.55"/>
<rect x="0" y="1043.7" width="160.80" height="120.30" filter="url(#speckw)" opacity="0.2"/>
<g filter="url(#soft)">
<polygon points="-0.0,1060.6 6.0,1058.0 9.9,1064.1 5.9,1067.5 -0.8,1067.6" fill="#3e2094" stroke="#3e2094" stroke-width="2.2" stroke-linejoin="round" opacity="0.94"/>
<polygon points="27.2,1065.8 19.7,1061.8 22.6,1059.4 26.6,1054.8 32.9,1053.5 29.9,1062.9" fill="#4c2c9c" stroke="#4c2c9c" stroke-width="2.2" stroke-linejoin="round" opacity="0.98"/>
<polygon points="75.6,1061.3 75.9,1064.6 72.2,1066.6 70.6,1064.5 71.4,1059.3" fill="#4c2c9c" stroke="#4c2c9c" stroke-width="2.2" stroke-linejoin="round" opacity="0.98"/>
<polygon points="123.0,1039.3 123.1,1048.3 114.0,1047.9 115.9,1038.3" fill="#45259a" stroke="#45259a" stroke-width="2.2" stroke-linejoin="round" opacity="0.96"/>
<polygon points="144.5,1066.9 135.8,1066.7 136.4,1060.6 146.0,1057.2 150.3,1061.2 147.4,1067.7" fill="#45259a" stroke="#45259a" stroke-width="2.2" stroke-linejoin="round" opacity="0.97"/>
<polygon points="43.0,1068.2 46.3,1061.6 52.2,1069.7" fill="#3a1d8e" stroke="#3a1d8e" stroke-width="2.2" stroke-linejoin="round" opacity="0.95"/>
<polygon points="62.3,1083.0 59.1,1075.5 65.6,1073.3 70.0,1077.1 67.8,1083.9" fill="#3a1d8e" stroke="#3a1d8e" stroke-width="2.2" stroke-linejoin="round" opacity="0.93"/>
<polygon points="74.2,1068.6 75.3,1064.8 80.8,1066.2 86.7,1071.6 80.7,1077.2 76.6,1075.0" fill="#3e2094" stroke="#3e2094" stroke-width="2.2" stroke-linejoin="round" opacity="0.94"/>
<polygon points="83.0,1069.4 82.7,1062.7 88.5,1065.3" fill="#4c2c9c" stroke="#4c2c9c" stroke-width="2.2" stroke-linejoin="round" opacity="0.99"/>
<polygon points="84.1,1071.8 90.0,1063.9 92.9,1071.1 90.1,1073.5" fill="#3a1d8e" stroke="#3a1d8e" stroke-width="2.2" stroke-linejoin="round" opacity="0.98"/>
<polygon points="111.4,1076.5 106.9,1070.4 114.6,1065.9 118.1,1071.3" fill="#45259a" stroke="#45259a" stroke-width="2.2" stroke-linejoin="round" opacity="0.94"/>
<polygon points="119.2,1068.3 122.8,1074.4 118.4,1078.8 112.1,1075.1 113.6,1067.9" fill="#3e2094" stroke="#3e2094" stroke-width="2.2" stroke-linejoin="round" opacity="0.96"/>
<polygon points="137.0,1074.9 137.3,1078.4 132.8,1079.4 130.3,1075.9 132.9,1071.4" fill="#3e2094" stroke="#3e2094" stroke-width="2.2" stroke-linejoin="round" opacity="0.98"/>
<polygon points="148.8,1062.1 148.1,1067.5 142.7,1063.9" fill="#3a1d8e" stroke="#3a1d8e" stroke-width="2.2" stroke-linejoin="round" opacity="1.00"/>
<polygon points="140.1,1071.7 146.8,1070.3 145.1,1076.7" fill="#3e2094" stroke="#3e2094" stroke-width="2.2" stroke-linejoin="round" opacity="0.96"/>
<polygon points="142.4,1081.1 142.5,1077.9 142.3,1076.6 145.2,1076.1 148.6,1078.2 146.3,1081.7" fill="#45259a" stroke="#45259a" stroke-width="2.2" stroke-linejoin="round" opacity="0.97"/>
<polygon points="7.0,1108.2 5.3,1099.6 12.0,1098.8 14.3,1103.4" fill="#3e2094" stroke="#3e2094" stroke-width="2.2" stroke-linejoin="round" opacity="0.94"/>
<polygon points="76.2,1087.3 75.1,1090.6 70.5,1090.1 70.0,1087.5 71.3,1086.5 73.8,1084.5" fill="#3a1d8e" stroke="#3a1d8e" stroke-width="2.2" stroke-linejoin="round" opacity="0.95"/>
<polygon points="79.0,1089.0 71.9,1090.3 73.1,1078.0" fill="#3e2094" stroke="#3e2094" stroke-width="2.2" stroke-linejoin="round" opacity="0.97"/>
<polygon points="88.5,1087.2 89.8,1090.0 84.4,1093.7 83.3,1089.6 84.7,1086.9" fill="#3a1d8e" stroke="#3a1d8e" stroke-width="2.2" stroke-linejoin="round" opacity="0.98"/>
<polygon points="85.5,1085.3 95.1,1085.5 90.1,1093.6" fill="#4c2c9c" stroke="#4c2c9c" stroke-width="2.2" stroke-linejoin="round" opacity="0.96"/>
<polygon points="127.4,1101.3 121.0,1109.4 116.6,1105.3 114.9,1103.0 115.0,1097.0 125.4,1096.5" fill="#4c2c9c" stroke="#4c2c9c" stroke-width="2.2" stroke-linejoin="round" opacity="1.00"/>
<polygon points="130.8,1083.9 134.7,1077.2 139.7,1086.7 133.1,1089.5" fill="#4c2c9c" stroke="#4c2c9c" stroke-width="2.2" stroke-linejoin="round" opacity="0.97"/>
<polygon points="134.2,1103.2 130.7,1106.5 127.4,1106.4 126.1,1102.2 129.9,1097.9" fill="#3e2094" stroke="#3e2094" stroke-width="2.2" stroke-linejoin="round" opacity="0.96"/>
<polygon points="13.9,1105.2 17.8,1099.9 20.6,1106.3 21.3,1111.3 17.2,1110.5 13.6,1107.4" fill="#45259a" stroke="#45259a" stroke-width="2.2" stroke-linejoin="round" opacity="0.95"/>
<polygon points="-2.0,1116.2 2.0,1118.0 3.5,1123.1 2.1,1126.3 -2.9,1121.3" fill="#4c2c9c" stroke="#4c2c9c" stroke-width="2.2" stroke-linejoin="round" opacity="0.94"/>
<polygon points="19.8,1124.9 17.8,1119.1 22.1,1117.4 23.9,1120.8" fill="#45259a" stroke="#45259a" stroke-width="2.2" stroke-linejoin="round" opacity="0.99"/>
<polygon points="77.2,1124.5 74.4,1120.0 75.9,1117.2 81.7,1118.5 81.8,1122.3 80.0,1125.9" fill="#45259a" stroke="#45259a" stroke-width="2.2" stroke-linejoin="round" opacity="0.97"/>
<polygon points="93.1,1115.8 94.9,1116.1 98.6,1119.5 94.8,1123.2 89.3,1119.5" fill="#4c2c9c" stroke="#4c2c9c" stroke-width="2.2" stroke-linejoin="round" opacity="1.00"/>
<polygon points="120.1,1129.6 117.6,1125.1 118.5,1120.7 127.3,1121.6 128.4,1126.2" fill="#4c2c9c" stroke="#4c2c9c" stroke-width="2.2" stroke-linejoin="round" opacity="0.99"/>
<polygon points="139.7,1116.4 135.8,1117.3 131.1,1115.2 138.4,1110.4" fill="#3a1d8e" stroke="#3a1d8e" stroke-width="2.2" stroke-linejoin="round" opacity="0.99"/>
<polygon points="154.9,1107.9 153.1,1111.8 147.1,1107.6 151.5,1099.4 157.6,1102.9" fill="#3e2094" stroke="#3e2094" stroke-width="2.2" stroke-linejoin="round" opacity="0.99"/>
<polygon points="4.5,1129.1 11.5,1133.2 7.0,1137.3 2.2,1133.0" fill="#4c2c9c" stroke="#4c2c9c" stroke-width="2.2" stroke-linejoin="round" opacity="0.98"/>
<polygon points="18.0,1132.0 26.3,1126.1 26.6,1133.0" fill="#3e2094" stroke="#3e2094" stroke-width="2.2" stroke-linejoin="round" opacity="0.96"/>
<polygon points="27.4,1132.2 32.2,1126.5 38.6,1131.6 31.2,1139.3" fill="#45259a" stroke="#45259a" stroke-width="2.2" stroke-linejoin="round" opacity="0.99"/>
<polygon points="51.3,1142.9 49.0,1141.1 44.8,1134.7 48.7,1133.4 53.8,1134.9" fill="#3e2094" stroke="#3e2094" stroke-width="2.2" stroke-linejoin="round" opacity="0.98"/>
<polygon points="91.8,1146.5 86.5,1148.3 82.5,1141.7 86.3,1137.3 91.0,1138.0" fill="#3e2094" stroke="#3e2094" stroke-width="2.2" stroke-linejoin="round" opacity="0.93"/>
<polygon points="127.0,1130.7 133.2,1137.0 127.5,1141.9 123.2,1136.0" fill="#3e2094" stroke="#3e2094" stroke-width="2.2" stroke-linejoin="round" opacity="0.93"/>
<polygon points="143.3,1124.5 143.4,1127.8 138.2,1127.9 135.9,1125.7 139.7,1120.6" fill="#3a1d8e" stroke="#3a1d8e" stroke-width="2.2" stroke-linejoin="round" opacity="0.98"/>
<polygon points="146.8,1146.3 142.8,1139.0 148.0,1135.0 154.8,1138.1 152.4,1146.4" fill="#3e2094" stroke="#3e2094" stroke-width="2.2" stroke-linejoin="round" opacity="0.99"/>
<polygon points="40.7,1144.1 41.2,1153.7 33.7,1158.6 32.4,1145.0" fill="#45259a" stroke="#45259a" stroke-width="2.2" stroke-linejoin="round" opacity="0.93"/>
<polygon points="77.7,1162.5 66.5,1158.3 74.3,1152.2" fill="#45259a" stroke="#45259a" stroke-width="2.2" stroke-linejoin="round" opacity="0.98"/>
<polygon points="81.3,1149.7 76.4,1154.7 71.1,1144.4" fill="#4c2c9c" stroke="#4c2c9c" stroke-width="2.2" stroke-linejoin="round" opacity="0.95"/>
<polygon points="98.6,1149.2 98.6,1151.9 92.9,1154.5 88.8,1154.7 86.6,1148.2 91.8,1144.6" fill="#3a1d8e" stroke="#3a1d8e" stroke-width="2.2" stroke-linejoin="round" opacity="0.95"/>
<polygon points="117.9,1163.8 116.4,1160.3 120.5,1159.3 121.9,1160.0 123.5,1162.0 119.5,1165.5" fill="#45259a" stroke="#45259a" stroke-width="2.2" stroke-linejoin="round" opacity="1.00"/>
<polygon points="137.9,1163.2 124.8,1163.1 125.8,1157.0 135.8,1157.2" fill="#3e2094" stroke="#3e2094" stroke-width="2.2" stroke-linejoin="round" opacity="0.95"/>
</g>
<text x="132.2" y="1158.1" font-size="8.3" fill="#fff" textLength="22.8" lengthAdjust="spacingAndGlyphs">50 μm</text>
<line x1="131.8" y1="1160.8" x2="156.1" y2="1160.8" stroke="#fff" stroke-width="1.1"/>
</g>
<clipPath id="cI6"><rect x="166.7" y="1043.7" width="160.40" height="120.30"/></clipPath>
<g clip-path="url(#cI6)">
<rect x="166.7" y="1043.7" width="160.40" height="120.30" fill="#a6a5c9"/>
<rect x="166.7" y="1043.7" width="160.40" height="120.30" filter="url(#speck)" opacity="0.55"/>
<rect x="166.7" y="1043.7" width="160.40" height="120.30" filter="url(#speckw)" opacity="0.2"/>
<g filter="url(#soft)">
<polygon points="203.4,1059.3 197.6,1062.0 195.5,1055.3 197.7,1053.2 203.6,1050.9 204.5,1054.7" fill="#3e2094" stroke="#3e2094" stroke-width="2.2" stroke-linejoin="round" opacity="0.99"/>
<polygon points="236.5,1053.6 234.1,1046.5 240.8,1046.5 243.8,1049.4" fill="#3a1d8e" stroke="#3a1d8e" stroke-width="2.2" stroke-linejoin="round" opacity="0.93"/>
<polygon points="226.0,1064.9 223.8,1059.0 228.3,1056.6 231.6,1062.2" fill="#3e2094" stroke="#3e2094" stroke-width="2.2" stroke-linejoin="round" opacity="0.99"/>
<polygon points="248.4,1054.2 251.1,1053.2 256.0,1056.4 254.4,1059.1 250.2,1062.8 245.6,1058.5" fill="#3a1d8e" stroke="#3a1d8e" stroke-width="2.2" stroke-linejoin="round" opacity="0.95"/>
<polygon points="258.9,1053.5 250.7,1051.3 253.5,1046.8" fill="#45259a" stroke="#45259a" stroke-width="2.2" stroke-linejoin="round" opacity="0.98"/>
<polygon points="286.0,1051.3 280.6,1054.8 278.9,1045.7 286.9,1043.2" fill="#4c2c9c" stroke="#4c2c9c" stroke-width="2.2" stroke-linejoin="round" opacity="0.96"/>
<polygon points="276.5,1056.4 281.8,1062.5 273.2,1066.8 271.7,1058.3" fill="#4c2c9c" stroke="#4c2c9c" stroke-width="2.2" stroke-linejoin="round" opacity="0.98"/>
<polygon points="188.5,1075.6 180.1,1074.9 180.9,1071.5 183.5,1067.6 188.0,1070.8" fill="#45259a" stroke="#45259a" stroke-width="2.2" stroke-linejoin="round" opacity="0.97"/>
<polygon points="207.9,1072.7 211.5,1080.3 204.2,1078.4" fill="#3a1d8e" stroke="#3a1d8e" stroke-width="2.2" stroke-linejoin="round" opacity="0.93"/>
<polygon points="221.3,1083.5 214.1,1081.4 215.0,1075.7 222.2,1070.3 223.0,1075.5" fill="#3e2094" stroke="#3e2094" stroke-width="2.2" stroke-linejoin="round" opacity="0.94"/>
<polygon points="223.1,1066.1 225.5,1061.7 237.2,1066.9 229.6,1071.5" fill="#4c2c9c" stroke="#4c2c9c" stroke-width="2.2" stroke-linejoin="round" opacity="0.94"/>
<polygon points="251.2,1086.1 248.1,1081.7 252.0,1080.6" fill="#3e2094" stroke="#3e2094" stroke-width="2.2" stroke-linejoin="round" opacity="0.94"/>
<polygon points="262.2,1065.0 266.2,1075.6 258.1,1073.6" fill="#3e2094" stroke="#3e2094" stroke-width="2.2" stroke-linejoin="round" opacity="0.97"/>
<polygon points="246.2,1062.1 251.5,1062.6 250.4,1065.6 246.4,1067.2" fill="#45259a" stroke="#45259a" stroke-width="2.2" stroke-linejoin="round" opacity="0.94"/>
<polygon points="278.3,1085.2 277.3,1077.9 285.5,1080.7" fill="#45259a" stroke="#45259a" stroke-width="2.2" stroke-linejoin="round" opacity="0.95"/>
<polygon points="267.0,1068.2 272.5,1062.7 274.6,1068.1" fill="#3e2094" stroke="#3e2094" stroke-width="2.2" stroke-linejoin="round" opacity="0.98"/>
<polygon points="280.5,1066.3 277.4,1076.5 271.4,1066.6" fill="#3a1d8e" stroke="#3a1d8e" stroke-width="2.2" stroke-linejoin="round" opacity="0.93"/>
<polygon points="295.6,1065.9 300.4,1064.8 302.8,1076.4 288.1,1070.8" fill="#4c2c9c" stroke="#4c2c9c" stroke-width="2.2" stroke-linejoin="round" opacity="0.98"/>
<polygon points="318.7,1080.5 313.8,1069.0 321.1,1069.5 322.5,1077.7" fill="#3e2094" stroke="#3e2094" stroke-width="2.2" stroke-linejoin="round" opacity="0.94"/>
<polygon points="199.9,1088.0 205.7,1089.6 205.7,1094.4 201.0,1096.1" fill="#3e2094" stroke="#3e2094" stroke-width="2.2" stroke-linejoin="round" opacity="0.94"/>
<polygon points="216.1,1099.2 216.5,1104.0 213.6,1104.5 210.4,1101.7 210.7,1099.3 215.6,1096.3" fill="#45259a" stroke="#45259a" stroke-width="2.2" stroke-linejoin="round" opacity="0.97"/>
<polygon points="239.4,1091.7 251.3,1087.4 248.5,1100.7" fill="#4c2c9c" stroke="#4c2c9c" stroke-width="2.2" stroke-linejoin="round" opacity="1.00"/>
<polygon points="277.2,1082.3 275.3,1086.4 270.8,1084.0 272.3,1081.9" fill="#3a1d8e" stroke="#3a1d8e" stroke-width="2.2" stroke-linejoin="round" opacity="0.99"/>
<polygon points="283.0,1102.6 282.3,1095.2 286.9,1095.0 288.6,1097.8" fill="#3a1d8e" stroke="#3a1d8e" stroke-width="2.2" stroke-linejoin="round" opacity="0.98"/>
<polygon points="279.5,1090.9 283.2,1094.1 279.2,1095.1" fill="#3a1d8e" stroke="#3a1d8e" stroke-width="2.2" stroke-linejoin="round" opacity="0.95"/>
<polygon points="283.0,1093.4 293.7,1096.4 292.2,1103.1 280.9,1102.0" fill="#4c2c9c" stroke="#4c2c9c" stroke-width="2.2" stroke-linejoin="round" opacity="0.95"/>
<polygon points="300.6,1093.1 301.1,1089.7 309.6,1089.5 308.7,1096.1 305.4,1097.7" fill="#3e2094" stroke="#3e2094" stroke-width="2.2" stroke-linejoin="round" opacity="1.00"/>
<polygon points="312.8,1101.8 308.9,1099.6 307.1,1092.4 315.5,1092.6 316.6,1097.5" fill="#4c2c9c" stroke="#4c2c9c" stroke-width="2.2" stroke-linejoin="round" opacity="0.96"/>
<polygon points="186.3,1110.4 183.7,1108.2 185.5,1100.1 188.6,1098.4 193.3,1107.5" fill="#3a1d8e" stroke="#3a1d8e" stroke-width="2.2" stroke-linejoin="round" opacity="0.98"/>
<polygon points="209.7,1121.6 205.5,1124.2 203.8,1121.0 206.7,1118.0 210.3,1118.1" fill="#4c2c9c" stroke="#4c2c9c" stroke-width="2.2" stroke-linejoin="round" opacity="0.95"/>
<polygon points="210.3,1102.1 213.0,1102.3 215.7,1104.7 215.3,1106.8 209.5,1108.5 207.9,1105.5" fill="#4c2c9c" stroke="#4c2c9c" stroke-width="2.2" stroke-linejoin="round" opacity="0.99"/>
<polygon points="212.0,1119.7 204.5,1119.4 203.4,1113.1 206.6,1109.8 211.0,1109.5" fill="#3e2094" stroke="#3e2094" stroke-width="2.2" stroke-linejoin="round" opacity="0.95"/>
<polygon points="257.1,1107.0 252.6,1113.7 245.2,1111.9 252.1,1106.1" fill="#3a1d8e" stroke="#3a1d8e" stroke-width="2.2" stroke-linejoin="round" opacity="0.99"/>
<polygon points="259.8,1101.8 263.8,1101.2 260.4,1111.2 255.7,1111.1" fill="#4c2c9c" stroke="#4c2c9c" stroke-width="2.2" stroke-linejoin="round" opacity="0.99"/>
<polygon points="266.2,1105.3 270.1,1100.4 271.6,1101.0 274.8,1105.4 272.2,1110.2 268.8,1110.8" fill="#3a1d8e" stroke="#3a1d8e" stroke-width="2.2" stroke-linejoin="round" opacity="0.97"/>
<polygon points="270.5,1115.0 266.2,1112.7 270.4,1109.0 271.0,1111.5" fill="#3e2094" stroke="#3e2094" stroke-width="2.2" stroke-linejoin="round" opacity="0.95"/>
<polygon points="283.2,1119.8 283.6,1116.4 287.3,1113.2 290.3,1117.0 291.2,1120.5 285.4,1121.9" fill="#3e2094" stroke="#3e2094" stroke-width="2.2" stroke-linejoin="round" opacity="0.94"/>
<polygon points="305.5,1116.6 301.3,1118.7 296.9,1114.9 296.1,1105.7 303.2,1106.5 305.9,1111.1" fill="#4c2c9c" stroke="#4c2c9c" stroke-width="2.2" stroke-linejoin="round" opacity="0.94"/>
<polygon points="172.2,1136.1 168.9,1129.1 179.3,1125.5 184.8,1126.0 179.2,1136.2" fill="#4c2c9c" stroke="#4c2c9c" stroke-width="2.2" stroke-linejoin="round" opacity="0.97"/>
<polygon points="223.9,1142.5 221.2,1137.7 225.6,1138.4" fill="#4c2c9c" stroke="#4c2c9c" stroke-width="2.2" stroke-linejoin="round" opacity="0.94"/>
<polygon points="220.6,1129.9 220.1,1126.9 221.9,1125.0 224.5,1126.3 224.7,1129.4" fill="#4c2c9c" stroke="#4c2c9c" stroke-width="2.2" stroke-linejoin="round" opacity="1.00"/>
<polygon points="243.8,1125.1 248.0,1128.4 244.0,1130.9 241.6,1129.3" fill="#45259a" stroke="#45259a" stroke-width="2.2" stroke-linejoin="round" opacity="0.97"/>
<polygon points="235.8,1136.5 238.6,1136.9 242.7,1138.8 238.2,1143.1 235.2,1141.1" fill="#4c2c9c" stroke="#4c2c9c" stroke-width="2.2" stroke-linejoin="round" opacity="0.99"/>
<polygon points="249.7,1130.5 239.3,1131.8 241.3,1125.9" fill="#3a1d8e" stroke="#3a1d8e" stroke-width="2.2" stroke-linejoin="round" opacity="0.96"/>
<polygon points="256.1,1128.7 258.6,1121.5 264.7,1124.2 262.0,1129.6" fill="#3e2094" stroke="#3e2094" stroke-width="2.2" stroke-linejoin="round" opacity="0.93"/>
<polygon points="249.7,1127.3 251.9,1132.4 246.8,1134.2 244.2,1129.6" fill="#3a1d8e" stroke="#3a1d8e" stroke-width="2.2" stroke-linejoin="round" opacity="1.00"/>
<polygon points="279.7,1136.7 278.1,1130.6 285.8,1130.5 286.1,1133.9" fill="#4c2c9c" stroke="#4c2c9c" stroke-width="2.2" stroke-linejoin="round" opacity="0.99"/>
<polygon points="271.1,1136.2 276.1,1132.2 282.6,1129.9 284.8,1137.4 277.8,1142.1" fill="#3a1d8e" stroke="#3a1d8e" stroke-width="2.2" stroke-linejoin="round" opacity="0.94"/>
<polygon points="311.1,1127.2 310.6,1132.9 308.8,1136.9 303.9,1133.2 303.1,1130.3 306.3,1127.1" fill="#4c2c9c" stroke="#4c2c9c" stroke-width="2.2" stroke-linejoin="round" opacity="0.96"/>
<polygon points="188.3,1144.4 194.0,1145.4 193.9,1149.2 190.6,1150.8" fill="#3e2094" stroke="#3e2094" stroke-width="2.2" stroke-linejoin="round" opacity="0.98"/>
<polygon points="215.8,1144.8 213.5,1149.2 211.4,1141.8" fill="#4c2c9c" stroke="#4c2c9c" stroke-width="2.2" stroke-linejoin="round" opacity="0.98"/>
<polygon points="204.7,1165.1 209.5,1159.1 214.5,1162.0 214.3,1168.2 208.9,1168.7" fill="#3a1d8e" stroke="#3a1d8e" stroke-width="2.2" stroke-linejoin="round" opacity="0.98"/>
<polygon points="237.1,1156.5 238.3,1155.7 243.0,1156.1 244.3,1157.9 241.3,1161.1 236.1,1160.0" fill="#45259a" stroke="#45259a" stroke-width="2.2" stroke-linejoin="round" opacity="0.95"/>
<polygon points="253.4,1158.5 258.1,1157.7 257.9,1164.5 251.8,1163.9" fill="#3e2094" stroke="#3e2094" stroke-width="2.2" stroke-linejoin="round" opacity="1.00"/>
<polygon points="286.6,1144.4 284.7,1152.7 274.8,1147.8" fill="#3a1d8e" stroke="#3a1d8e" stroke-width="2.2" stroke-linejoin="round" opacity="0.98"/>
<polygon points="293.2,1155.0 288.5,1153.0 290.8,1148.1 293.9,1147.8 295.2,1151.9" fill="#4c2c9c" stroke="#4c2c9c" stroke-width="2.2" stroke-linejoin="round" opacity="0.93"/>
<polygon points="283.8,1159.7 289.3,1157.3 293.1,1160.8 290.0,1165.9" fill="#3e2094" stroke="#3e2094" stroke-width="2.2" stroke-linejoin="round" opacity="1.00"/>
<polygon points="320.2,1162.3 314.5,1156.6 315.9,1152.2 319.9,1151.3 322.8,1155.2" fill="#3a1d8e" stroke="#3a1d8e" stroke-width="2.2" stroke-linejoin="round" opacity="0.99"/>
</g>
<text x="298.5" y="1158.1" font-size="8.3" fill="#fff" textLength="22.8" lengthAdjust="spacingAndGlyphs">50 μm</text>
<line x1="298.1" y1="1160.8" x2="322.4" y2="1160.8" stroke="#fff" stroke-width="1.1"/>
</g>
<clipPath id="cI7"><rect x="333.2" y="1043.7" width="160.70" height="120.30"/></clipPath>
<g clip-path="url(#cI7)">
<rect x="333.2" y="1043.7" width="160.70" height="120.30" fill="#b0b2c8"/>
<rect x="333.2" y="1043.7" width="160.70" height="120.30" filter="url(#speck)" opacity="0.55"/>
<rect x="333.2" y="1043.7" width="160.70" height="120.30" filter="url(#speckw)" opacity="0.2"/>
<g filter="url(#soft)">
<polygon points="389.8,1081.8 387.7,1079.0 390.6,1075.7 393.5,1077.9" fill="#3a1d8e" stroke="#3a1d8e" stroke-width="2.2" stroke-linejoin="round" opacity="0.96"/>
<polygon points="397.6,1078.6 392.9,1083.7 388.7,1080.5 391.1,1075.0" fill="#3a1d8e" stroke="#3a1d8e" stroke-width="2.2" stroke-linejoin="round" opacity="0.97"/>
<polygon points="395.7,1060.2 399.6,1066.8 396.0,1070.8 387.4,1069.2 389.9,1065.1" fill="#4c2c9c" stroke="#4c2c9c" stroke-width="2.2" stroke-linejoin="round" opacity="0.97"/>
<polygon points="400.0,1064.6 405.5,1062.8 411.6,1065.4 409.7,1067.7 405.9,1070.8 402.8,1069.5" fill="#3e2094" stroke="#3e2094" stroke-width="2.2" stroke-linejoin="round" opacity="0.94"/>
<polygon points="439.1,1064.7 441.7,1066.3 438.0,1070.0 433.8,1067.0" fill="#45259a" stroke="#45259a" stroke-width="2.2" stroke-linejoin="round" opacity="0.95"/>
<polygon points="443.7,1087.9 440.2,1086.8 437.2,1081.5 443.0,1078.9 446.8,1083.5" fill="#4c2c9c" stroke="#4c2c9c" stroke-width="2.2" stroke-linejoin="round" opacity="0.97"/>
<polygon points="388.1,1092.7 392.9,1084.2 397.2,1092.0" fill="#3e2094" stroke="#3e2094" stroke-width="2.2" stroke-linejoin="round" opacity="0.96"/>
<polygon points="442.9,1098.0 439.7,1096.4 438.4,1092.0 443.3,1090.9" fill="#3a1d8e" stroke="#3a1d8e" stroke-width="2.2" stroke-linejoin="round" opacity="0.96"/>
<polygon points="450.6,1095.7 445.4,1092.6 446.9,1089.7 450.7,1083.9 455.5,1086.8 455.1,1096.6" fill="#4c2c9c" stroke="#4c2c9c" stroke-width="2.2" stroke-linejoin="round" opacity="0.95"/>
<polygon points="464.5,1113.2 460.8,1118.5 458.4,1113.7 461.7,1111.3" fill="#3e2094" stroke="#3e2094" stroke-width="2.2" stroke-linejoin="round" opacity="0.95"/>
<polygon points="471.0,1116.5 475.4,1121.6 469.5,1124.7 468.3,1120.2" fill="#45259a" stroke="#45259a" stroke-width="2.2" stroke-linejoin="round" opacity="0.95"/>
<polygon points="456.0,1102.6 458.8,1103.7 462.2,1107.3 459.9,1109.5 454.7,1109.9 451.5,1105.1" fill="#3a1d8e" stroke="#3a1d8e" stroke-width="2.2" stroke-linejoin="round" opacity="0.99"/>
<polygon points="418.7,1135.4 415.5,1134.1 417.0,1128.6 421.2,1129.8 422.6,1131.0" fill="#3a1d8e" stroke="#3a1d8e" stroke-width="2.2" stroke-linejoin="round" opacity="0.96"/>
<polygon points="436.8,1135.5 429.9,1134.0 434.7,1129.1" fill="#4c2c9c" stroke="#4c2c9c" stroke-width="2.2" stroke-linejoin="round" opacity="0.98"/>
<polygon points="424.7,1136.0 419.1,1133.1 422.1,1127.5 426.2,1127.3 428.9,1130.9" fill="#45259a" stroke="#45259a" stroke-width="2.2" stroke-linejoin="round" opacity="0.93"/>
<polygon points="485.1,1142.2 488.5,1139.0 493.3,1139.4 489.0,1145.2" fill="#45259a" stroke="#45259a" stroke-width="2.2" stroke-linejoin="round" opacity="0.94"/>
<polygon points="485.8,1152.1 488.9,1153.2 486.7,1157.8 478.4,1161.9 479.4,1157.6 480.3,1151.6" fill="#3a1d8e" stroke="#3a1d8e" stroke-width="2.2" stroke-linejoin="round" opacity="1.00"/>
</g>
<text x="465.3" y="1158.1" font-size="8.3" fill="#fff" textLength="22.8" lengthAdjust="spacingAndGlyphs">50 μm</text>
<line x1="464.9" y1="1160.8" x2="489.2" y2="1160.8" stroke="#fff" stroke-width="1.1"/>
</g>
<text class="t" x="12.41" y="18.00" font-size="24.50" font-weight="bold" fill="#231f20">A</text>
<text class="t" x="389.58" y="17.90" font-size="24.50" font-weight="bold" fill="#231f20">B</text>
<text class="t" x="671.00" y="18.50" font-size="24.50" font-weight="bold" fill="#231f20">C</text>
<text class="t" x="12.58" y="328.30" font-size="24.50" font-weight="bold" fill="#231f20">D</text>
<text class="t" x="332.58" y="328.80" font-size="24.50" font-weight="bold" fill="#231f20">E</text>
<text class="t" x="687.58" y="329.20" font-size="24.50" font-weight="bold" fill="#231f20">F</text>
<text class="t" x="12.70" y="570.50" font-size="24.50" font-weight="bold" fill="#231f20">G</text>
<text class="t" x="687.58" y="570.80" font-size="24.50" font-weight="bold" fill="#231f20">H</text>
<text class="t" x="12.08" y="882.70" font-size="24.50" font-weight="bold" fill="#231f20">I</text>
<text class="t" x="687.63" y="883.30" font-size="24.50" font-weight="bold" fill="#231f20">J</text>
<text class="t" x="49.71" y="22.50" font-size="14.53" fill="#231f20">Normal tissues</text>
<text class="t" x="182.24" y="22.50" font-size="14.94" fill="#231f20">paracancerous tissues</text>
<text class="t" x="53.30" y="170.90" font-size="14.60" fill="#231f20">HCC tissues</text>
<text class="t" x="61.19" y="574.40" font-size="14.62" fill="#231f20">oe-NC</text>
<text class="t" x="211.89" y="574.40" font-size="14.64" fill="#231f20">oe-EGFR-1</text>
<text class="t" x="377.77" y="574.40" font-size="14.94" fill="#231f20">oe-EGFR-2</text>
<text class="t" x="545.59" y="574.40" font-size="14.52" fill="#231f20">oe-EGFR-3</text>
<text class="t" x="61.57" y="724.30" font-size="14.61" fill="#231f20">Control</text>
<text class="t" x="223.78" y="724.30" font-size="14.88" fill="#231f20">DMSO</text>
<text class="t" x="359.80" y="724.30" font-size="14.58" fill="#231f20">EGFR-inhibitor</text>
<text class="t" x="60.59" y="887.40" font-size="14.51" fill="#231f20">oe-NC</text>
<text class="t" x="210.38" y="887.40" font-size="14.74" fill="#231f20">oe-EGFR-1</text>
<text class="t" x="377.28" y="887.40" font-size="14.72" fill="#231f20">oe-EGFR-2</text>
<text class="t" x="544.59" y="887.40" font-size="14.52" fill="#231f20">oe-EGFR-3</text>
<text class="t" x="61.76" y="1038.50" font-size="14.81" fill="#231f20">Control</text>
<text class="t" x="224.79" y="1038.50" font-size="14.81" fill="#231f20">DMSO</text>
<text class="t" x="359.80" y="1038.50" font-size="14.58" fill="#231f20">EGFR-inhibitor</text>
<rect x="432.10" y="52.90" width="24.00" height="11.00" fill="#000000"/>
<text class="t" x="466.40" y="64.20" font-size="14.60" fill="#231f20">Normal tissues</text>
<rect x="432.10" y="78.90" width="24.00" height="11.00" fill="#a0a0a4"/>
<text class="t" x="466.67" y="90.20" font-size="14.60" fill="#231f20">paracancerous tissues</text>
<rect x="432.10" y="105.10" width="24.00" height="11.00" fill="#808080"/>
<text class="t" x="466.40" y="116.40" font-size="14.60" fill="#231f20">HCC tissues</text>
<rect x="449.30" y="218.10" width="42.60" height="59.40" fill="#000000"/>
<line x1="470.60" y1="218.10" x2="470.60" y2="212.30" stroke="#111" stroke-width="1.5"/>
<line x1="459.90" y1="212.30" x2="481.30" y2="212.30" stroke="#111" stroke-width="1.5"/>
<rect x="513.10" y="150.30" width="42.60" height="127.20" fill="#a0a0a4"/>
<line x1="534.40" y1="150.30" x2="534.40" y2="138.00" stroke="#111" stroke-width="1.5"/>
<line x1="523.70" y1="138.00" x2="545.10" y2="138.00" stroke="#111" stroke-width="1.5"/>
<path d="M534.40,132.70L534.40,130.10M534.40,132.70L536.87,131.90M534.40,132.70L535.93,134.80M534.40,132.70L532.87,134.80M534.40,132.70L531.93,131.90" stroke="#231f20" stroke-width="1.35" stroke-linecap="round" fill="none"/>
<rect x="576.90" y="121.90" width="42.60" height="155.60" fill="#808080"/>
<line x1="598.20" y1="121.90" x2="598.20" y2="105.20" stroke="#111" stroke-width="1.5"/>
<line x1="587.50" y1="105.20" x2="608.90" y2="105.20" stroke="#111" stroke-width="1.5"/>
<path d="M598.20,99.90L598.20,97.30M598.20,99.90L600.67,99.10M598.20,99.90L599.73,102.00M598.20,99.90L596.67,102.00M598.20,99.90L595.73,99.10" stroke="#231f20" stroke-width="1.35" stroke-linecap="round" fill="none"/>
<line x1="428.10" y1="277.50" x2="428.10" y2="94.00" stroke="#000" stroke-width="2.0"/>
<line x1="427.10" y1="277.50" x2="642.20" y2="277.50" stroke="#000" stroke-width="2.0"/>
<line x1="420.20" y1="277.70" x2="428.10" y2="277.70" stroke="#000" stroke-width="2.0"/>
<text class="t" x="409.23" y="283.00" font-size="15.00" fill="#231f20">0</text>
<line x1="420.20" y1="232.20" x2="428.10" y2="232.20" stroke="#000" stroke-width="2.0"/>
<text class="t" x="400.89" y="237.50" font-size="15.00" fill="#231f20">10</text>
<line x1="420.20" y1="186.50" x2="428.10" y2="186.50" stroke="#000" stroke-width="2.0"/>
<text class="t" x="400.89" y="191.80" font-size="15.00" fill="#231f20">20</text>
<line x1="420.20" y1="140.80" x2="428.10" y2="140.80" stroke="#000" stroke-width="2.0"/>
<text class="t" x="400.89" y="146.10" font-size="15.00" fill="#231f20">30</text>
<line x1="420.20" y1="94.80" x2="428.10" y2="94.80" stroke="#000" stroke-width="2.0"/>
<text class="t" x="400.89" y="100.10" font-size="15.00" fill="#231f20">40</text>
<text class="t" transform="translate(392.50,241.80) rotate(-90)" font-size="14.60" fill="#231f20">Positive rate (%)</text>
<rect x="743.90" y="28.80" width="21.70" height="9.70" fill="#000000"/>
<text class="t" x="774.64" y="38.80" font-size="14.20" fill="#231f20">LO2</text>
<rect x="743.90" y="50.30" width="21.70" height="9.70" fill="#a0a0a4"/>
<text class="t" x="774.64" y="60.30" font-size="14.20" fill="#231f20">HepG2</text>
<rect x="743.90" y="71.60" width="21.70" height="9.70" fill="#808080"/>
<text class="t" x="774.64" y="81.60" font-size="14.20" fill="#231f20">MHCC-97H</text>
<rect x="743.90" y="93.20" width="21.70" height="9.70" fill="#d4d4d4"/>
<text class="t" x="774.64" y="103.20" font-size="14.20" fill="#231f20">MHCC-97L</text>
<rect x="876.00" y="28.80" width="21.40" height="9.70" fill="#606060"/>
<text class="t" x="903.77" y="38.80" font-size="14.00" fill="#231f20">SMMC7721</text>
<rect x="876.00" y="50.30" width="21.40" height="9.70" fill="#a0a0a4"/>
<text class="t" x="903.25" y="60.30" font-size="14.00" fill="#231f20">Hep3B</text>
<rect x="876.00" y="71.60" width="21.40" height="9.70" fill="#606060"/>
<text class="t" x="903.25" y="81.60" font-size="14.00" fill="#231f20">Huh7</text>
<rect x="752.70" y="218.00" width="23.60" height="59.30" fill="#000000"/>
<line x1="764.50" y1="218.00" x2="764.50" y2="211.70" stroke="#111" stroke-width="1.5"/>
<line x1="758.75" y1="211.70" x2="770.25" y2="211.70" stroke="#111" stroke-width="1.5"/>
<rect x="788.30" y="129.90" width="23.60" height="147.40" fill="#a0a0a4"/>
<line x1="800.10" y1="129.90" x2="800.10" y2="116.30" stroke="#111" stroke-width="1.5"/>
<line x1="794.35" y1="116.30" x2="805.85" y2="116.30" stroke="#111" stroke-width="1.5"/>
<path d="M800.10,111.00L800.10,108.40M800.10,111.00L802.57,110.20M800.10,111.00L801.63,113.10M800.10,111.00L798.57,113.10M800.10,111.00L797.63,110.20" stroke="#231f20" stroke-width="1.35" stroke-linecap="round" fill="none"/>
<rect x="824.00" y="171.10" width="23.60" height="106.20" fill="#808080"/>
<line x1="835.80" y1="171.10" x2="835.80" y2="160.80" stroke="#111" stroke-width="1.5"/>
<line x1="830.05" y1="160.80" x2="841.55" y2="160.80" stroke="#111" stroke-width="1.5"/>
<path d="M835.80,155.50L835.80,152.90M835.80,155.50L838.27,154.70M835.80,155.50L837.33,157.60M835.80,155.50L834.27,157.60M835.80,155.50L833.33,154.70" stroke="#231f20" stroke-width="1.35" stroke-linecap="round" fill="none"/>
<rect x="860.00" y="176.70" width="23.60" height="100.60" fill="#d4d4d4"/>
<line x1="871.80" y1="176.70" x2="871.80" y2="166.70" stroke="#111" stroke-width="1.5"/>
<line x1="866.05" y1="166.70" x2="877.55" y2="166.70" stroke="#111" stroke-width="1.5"/>
<path d="M871.80,161.40L871.80,158.80M871.80,161.40L874.27,160.60M871.80,161.40L873.33,163.50M871.80,161.40L870.27,163.50M871.80,161.40L869.33,160.60" stroke="#231f20" stroke-width="1.35" stroke-linecap="round" fill="none"/>
<rect x="895.80" y="145.50" width="23.60" height="131.80" fill="#606060"/>
<line x1="907.60" y1="145.50" x2="907.60" y2="133.30" stroke="#111" stroke-width="1.5"/>
<line x1="901.85" y1="133.30" x2="913.35" y2="133.30" stroke="#111" stroke-width="1.5"/>
<path d="M907.60,128.00L907.60,125.40M907.60,128.00L910.07,127.20M907.60,128.00L909.13,130.10M907.60,128.00L906.07,130.10M907.60,128.00L905.13,127.20" stroke="#231f20" stroke-width="1.35" stroke-linecap="round" fill="none"/>
<rect x="931.30" y="153.70" width="23.60" height="123.60" fill="#a0a0a4"/>
<line x1="943.10" y1="153.70" x2="943.10" y2="142.20" stroke="#111" stroke-width="1.5"/>
<line x1="937.35" y1="142.20" x2="948.85" y2="142.20" stroke="#111" stroke-width="1.5"/>
<path d="M943.10,136.90L943.10,134.30M943.10,136.90L945.57,136.10M943.10,136.90L944.63,139.00M943.10,136.90L941.57,139.00M943.10,136.90L940.63,136.10" stroke="#231f20" stroke-width="1.35" stroke-linecap="round" fill="none"/>
<rect x="967.20" y="190.80" width="23.60" height="86.50" fill="#606060"/>
<line x1="979.00" y1="190.80" x2="979.00" y2="182.20" stroke="#111" stroke-width="1.5"/>
<line x1="973.25" y1="182.20" x2="984.75" y2="182.20" stroke="#111" stroke-width="1.5"/>
<path d="M979.00,176.90L979.00,174.30M979.00,176.90L981.47,176.10M979.00,176.90L980.53,179.00M979.00,176.90L977.47,179.00M979.00,176.90L976.53,176.10" stroke="#231f20" stroke-width="1.35" stroke-linecap="round" fill="none"/>
<line x1="734.50" y1="277.30" x2="734.50" y2="93.80" stroke="#000" stroke-width="2.0"/>
<line x1="733.50" y1="277.30" x2="1010.00" y2="277.30" stroke="#000" stroke-width="2.0"/>
<line x1="729.30" y1="277.30" x2="734.50" y2="277.30" stroke="#000" stroke-width="2.0"/>
<text class="t" x="718.33" y="282.60" font-size="15.00" fill="#231f20">0</text>
<line x1="729.30" y1="216.70" x2="734.50" y2="216.70" stroke="#000" stroke-width="2.0"/>
<text class="t" x="718.48" y="222.00" font-size="15.00" fill="#231f20">1</text>
<line x1="729.30" y1="155.70" x2="734.50" y2="155.70" stroke="#000" stroke-width="2.0"/>
<text class="t" x="718.51" y="161.00" font-size="15.00" fill="#231f20">2</text>
<line x1="729.30" y1="94.60" x2="734.50" y2="94.60" stroke="#000" stroke-width="2.0"/>
<text class="t" x="718.40" y="99.90" font-size="15.00" fill="#231f20">3</text>
<text class="t" transform="translate(710.00,282.26) rotate(-90)" font-size="14.16" fill="#231f20">Relative expression of EGFR</text>
<rect x="54.70" y="307.50" width="21.50" height="10.00" fill="#000000"/>
<text class="t" x="82.19" y="317.80" font-size="14.60" fill="#231f20">oe-NC</text>
<rect x="54.70" y="329.20" width="21.50" height="10.00" fill="#a0a0a4"/>
<text class="t" x="82.19" y="339.50" font-size="14.60" fill="#231f20">oe-EGFR-1</text>
<rect x="54.70" y="350.80" width="21.50" height="10.00" fill="#808080"/>
<text class="t" x="82.19" y="361.10" font-size="14.60" fill="#231f20">oe-EGFR-2</text>
<rect x="54.70" y="372.20" width="21.50" height="10.00" fill="#d4d4d4"/>
<text class="t" x="82.19" y="382.50" font-size="14.60" fill="#231f20">oe-EGFR-3</text>
<rect x="186.10" y="307.50" width="21.30" height="10.00" fill="#606060"/>
<text class="t" x="214.27" y="317.80" font-size="14.60" fill="#231f20">Control</text>
<rect x="186.10" y="329.20" width="21.30" height="10.00" fill="#a0a0a4"/>
<text class="t" x="213.80" y="339.50" font-size="14.60" fill="#231f20">DMSO</text>
<rect x="186.10" y="350.80" width="21.30" height="10.00" fill="#606060"/>
<text class="t" x="213.80" y="361.10" font-size="14.60" fill="#231f20">EGFR-inhibitor</text>
<rect x="55.80" y="498.70" width="23.60" height="34.60" fill="#000000"/>
<line x1="67.60" y1="498.70" x2="67.60" y2="494.70" stroke="#111" stroke-width="1.5"/>
<line x1="61.85" y1="494.70" x2="73.35" y2="494.70" stroke="#111" stroke-width="1.5"/>
<rect x="91.30" y="451.20" width="23.60" height="82.10" fill="#a0a0a4"/>
<line x1="103.10" y1="451.20" x2="103.10" y2="440.30" stroke="#111" stroke-width="1.5"/>
<line x1="97.35" y1="440.30" x2="108.85" y2="440.30" stroke="#111" stroke-width="1.5"/>
<path d="M103.10,435.00L103.10,432.40M103.10,435.00L105.57,434.20M103.10,435.00L104.63,437.10M103.10,435.00L101.57,437.10M103.10,435.00L100.63,434.20" stroke="#231f20" stroke-width="1.35" stroke-linecap="round" fill="none"/>
<rect x="127.20" y="422.50" width="23.60" height="110.80" fill="#808080"/>
<line x1="139.00" y1="422.50" x2="139.00" y2="410.50" stroke="#111" stroke-width="1.5"/>
<line x1="133.25" y1="410.50" x2="144.75" y2="410.50" stroke="#111" stroke-width="1.5"/>
<path d="M139.00,405.20L139.00,402.60M139.00,405.20L141.47,404.40M139.00,405.20L140.53,407.30M139.00,405.20L137.47,407.30M139.00,405.20L136.53,404.40" stroke="#231f20" stroke-width="1.35" stroke-linecap="round" fill="none"/>
<rect x="163.10" y="380.40" width="23.60" height="152.90" fill="#d4d4d4"/>
<line x1="174.90" y1="380.40" x2="174.90" y2="367.70" stroke="#111" stroke-width="1.5"/>
<line x1="169.15" y1="367.70" x2="180.65" y2="367.70" stroke="#111" stroke-width="1.5"/>
<path d="M174.90,362.40L174.90,359.80M174.90,362.40L177.37,361.60M174.90,362.40L176.43,364.50M174.90,362.40L173.37,364.50M174.90,362.40L172.43,361.60" stroke="#231f20" stroke-width="1.35" stroke-linecap="round" fill="none"/>
<rect x="198.60" y="498.70" width="23.60" height="34.60" fill="#606060"/>
<line x1="210.40" y1="498.70" x2="210.40" y2="495.20" stroke="#111" stroke-width="1.5"/>
<line x1="204.65" y1="495.20" x2="216.15" y2="495.20" stroke="#111" stroke-width="1.5"/>
<rect x="234.30" y="497.60" width="23.60" height="35.70" fill="#a0a0a4"/>
<line x1="246.10" y1="497.60" x2="246.10" y2="493.60" stroke="#111" stroke-width="1.5"/>
<line x1="240.35" y1="493.60" x2="251.85" y2="493.60" stroke="#111" stroke-width="1.5"/>
<rect x="270.00" y="527.60" width="23.60" height="5.70" fill="#606060"/>
<line x1="281.80" y1="527.60" x2="281.80" y2="526.50" stroke="#111" stroke-width="1.5"/>
<line x1="276.05" y1="526.50" x2="287.55" y2="526.50" stroke="#111" stroke-width="1.5"/>
<path d="M277.00,516.30H286.60M277.00,520.60H286.60M281.00,512.00L278.60,525.00M285.40,512.00L282.70,525.00" stroke="#231f20" stroke-width="1.6" fill="none"/>
<line x1="38.00" y1="533.30" x2="38.00" y2="350.00" stroke="#000" stroke-width="2.0"/>
<line x1="37.00" y1="533.30" x2="312.50" y2="533.30" stroke="#000" stroke-width="2.0"/>
<line x1="32.50" y1="533.30" x2="38.00" y2="533.30" stroke="#000" stroke-width="2.0"/>
<text class="t" x="21.53" y="538.60" font-size="15.00" fill="#231f20">0</text>
<line x1="32.50" y1="497.20" x2="38.00" y2="497.20" stroke="#000" stroke-width="2.0"/>
<text class="t" x="21.68" y="502.50" font-size="15.00" fill="#231f20">1</text>
<line x1="32.50" y1="460.50" x2="38.00" y2="460.50" stroke="#000" stroke-width="2.0"/>
<text class="t" x="21.71" y="465.80" font-size="15.00" fill="#231f20">2</text>
<line x1="32.50" y1="423.80" x2="38.00" y2="423.80" stroke="#000" stroke-width="2.0"/>
<text class="t" x="21.61" y="429.10" font-size="15.00" fill="#231f20">3</text>
<line x1="32.50" y1="387.20" x2="38.00" y2="387.20" stroke="#000" stroke-width="2.0"/>
<text class="t" x="21.40" y="392.50" font-size="15.00" fill="#231f20">4</text>
<line x1="32.50" y1="350.80" x2="38.00" y2="350.80" stroke="#000" stroke-width="2.0"/>
<text class="t" x="21.57" y="356.10" font-size="15.00" fill="#231f20">5</text>
<text class="t" transform="translate(12.00,532.96) rotate(-90)" font-size="14.14" fill="#231f20">Relative expression of EGFR</text>
<rect x="406.20" y="307.50" width="21.30" height="10.00" fill="#000000"/>
<text class="t" x="434.09" y="317.80" font-size="14.60" fill="#231f20">oe-NC</text>
<rect x="406.20" y="329.20" width="21.30" height="10.00" fill="#a0a0a4"/>
<text class="t" x="434.09" y="339.50" font-size="14.60" fill="#231f20">oe-EGFR-1</text>
<rect x="406.20" y="350.80" width="21.30" height="10.00" fill="#808080"/>
<text class="t" x="434.09" y="361.10" font-size="14.60" fill="#231f20">oe-EGFR-2</text>
<rect x="406.20" y="372.20" width="21.30" height="10.00" fill="#d4d4d4"/>
<text class="t" x="434.09" y="382.50" font-size="14.60" fill="#231f20">oe-EGFR-3</text>
<rect x="537.60" y="307.50" width="21.30" height="10.00" fill="#606060"/>
<text class="t" x="565.77" y="317.80" font-size="14.60" fill="#231f20">Control</text>
<rect x="537.60" y="329.20" width="21.30" height="10.00" fill="#a0a0a4"/>
<text class="t" x="565.30" y="339.50" font-size="14.60" fill="#231f20">DMSO</text>
<rect x="537.60" y="350.80" width="21.30" height="10.00" fill="#606060"/>
<text class="t" x="565.30" y="361.10" font-size="14.60" fill="#231f20">EGFR-inhibitor</text>
<rect x="414.20" y="504.20" width="23.50" height="28.60" fill="#000000"/>
<line x1="425.95" y1="504.20" x2="425.95" y2="500.80" stroke="#111" stroke-width="1.5"/>
<line x1="420.20" y1="500.80" x2="431.70" y2="500.80" stroke="#111" stroke-width="1.5"/>
<rect x="450.00" y="450.50" width="23.50" height="82.30" fill="#a0a0a4"/>
<line x1="461.75" y1="450.50" x2="461.75" y2="442.50" stroke="#111" stroke-width="1.5"/>
<line x1="456.00" y1="442.50" x2="467.50" y2="442.50" stroke="#111" stroke-width="1.5"/>
<path d="M461.75,437.20L461.75,434.60M461.75,437.20L464.22,436.40M461.75,437.20L463.28,439.30M461.75,437.20L460.22,439.30M461.75,437.20L459.28,436.40" stroke="#231f20" stroke-width="1.35" stroke-linecap="round" fill="none"/>
<rect x="485.50" y="417.80" width="23.50" height="115.00" fill="#808080"/>
<line x1="497.25" y1="417.80" x2="497.25" y2="407.60" stroke="#111" stroke-width="1.5"/>
<line x1="491.50" y1="407.60" x2="503.00" y2="407.60" stroke="#111" stroke-width="1.5"/>
<path d="M497.25,402.30L497.25,399.70M497.25,402.30L499.72,401.50M497.25,402.30L498.78,404.40M497.25,402.30L495.72,404.40M497.25,402.30L494.78,401.50" stroke="#231f20" stroke-width="1.35" stroke-linecap="round" fill="none"/>
<rect x="521.60" y="384.20" width="23.50" height="148.60" fill="#d4d4d4"/>
<line x1="533.35" y1="384.20" x2="533.35" y2="372.60" stroke="#111" stroke-width="1.5"/>
<line x1="527.60" y1="372.60" x2="539.10" y2="372.60" stroke="#111" stroke-width="1.5"/>
<path d="M533.35,367.30L533.35,364.70M533.35,367.30L535.82,366.50M533.35,367.30L534.88,369.40M533.35,367.30L531.82,369.40M533.35,367.30L530.88,366.50" stroke="#231f20" stroke-width="1.35" stroke-linecap="round" fill="none"/>
<rect x="557.10" y="504.00" width="23.50" height="28.80" fill="#606060"/>
<line x1="568.85" y1="504.00" x2="568.85" y2="500.70" stroke="#111" stroke-width="1.5"/>
<line x1="563.10" y1="500.70" x2="574.60" y2="500.70" stroke="#111" stroke-width="1.5"/>
<rect x="592.80" y="504.00" width="23.50" height="28.80" fill="#a0a0a4"/>
<line x1="604.55" y1="504.00" x2="604.55" y2="500.70" stroke="#111" stroke-width="1.5"/>
<line x1="598.80" y1="500.70" x2="610.30" y2="500.70" stroke="#111" stroke-width="1.5"/>
<rect x="629.00" y="526.60" width="23.50" height="6.20" fill="#606060"/>
<line x1="640.75" y1="526.60" x2="640.75" y2="525.50" stroke="#111" stroke-width="1.5"/>
<line x1="635.00" y1="525.50" x2="646.50" y2="525.50" stroke="#111" stroke-width="1.5"/>
<path d="M635.95,515.30H645.55M635.95,519.60H645.55M639.95,511.00L637.55,524.00M644.35,511.00L641.65,524.00" stroke="#231f20" stroke-width="1.6" fill="none"/>
<line x1="396.30" y1="532.80" x2="396.30" y2="348.40" stroke="#000" stroke-width="2.0"/>
<line x1="395.30" y1="532.80" x2="671.70" y2="532.80" stroke="#000" stroke-width="2.0"/>
<line x1="391.30" y1="532.80" x2="396.30" y2="532.80" stroke="#000" stroke-width="2.0"/>
<text class="t" x="380.33" y="538.10" font-size="15.00" fill="#231f20">0</text>
<line x1="391.30" y1="472.00" x2="396.30" y2="472.00" stroke="#000" stroke-width="2.0"/>
<text class="t" x="380.51" y="477.30" font-size="15.00" fill="#231f20">2</text>
<line x1="391.30" y1="410.80" x2="396.30" y2="410.80" stroke="#000" stroke-width="2.0"/>
<text class="t" x="380.20" y="416.10" font-size="15.00" fill="#231f20">4</text>
<line x1="391.30" y1="349.20" x2="396.30" y2="349.20" stroke="#000" stroke-width="2.0"/>
<text class="t" x="380.41" y="354.50" font-size="15.00" fill="#231f20">6</text>
<text class="t" transform="translate(356.80,510.99) rotate(-90)" font-size="14.57" fill="#231f20">Relative expression</text>
<text class="t" transform="translate(374.00,490.50) rotate(-90)" font-size="14.28" fill="#231f20">of miR-222-5p</text>
<rect x="752.80" y="606.30" width="21.40" height="9.60" fill="#000000"/>
<text class="t" x="780.59" y="616.20" font-size="14.60" fill="#231f20">oe-NC</text>
<rect x="752.80" y="628.00" width="21.40" height="9.60" fill="#a0a0a4"/>
<text class="t" x="780.59" y="637.90" font-size="14.60" fill="#231f20">oe-EGFR-1</text>
<rect x="752.80" y="649.50" width="21.40" height="9.60" fill="#808080"/>
<text class="t" x="780.59" y="659.40" font-size="14.60" fill="#231f20">oe-EGFR-2</text>
<rect x="752.80" y="670.80" width="21.40" height="9.60" fill="#d4d4d4"/>
<text class="t" x="780.59" y="680.70" font-size="14.60" fill="#231f20">oe-EGFR-3</text>
<rect x="884.00" y="606.50" width="21.50" height="9.60" fill="#606060"/>
<text class="t" x="912.27" y="616.40" font-size="14.60" fill="#231f20">Control</text>
<rect x="884.00" y="628.00" width="21.50" height="9.60" fill="#a0a0a4"/>
<text class="t" x="911.80" y="637.90" font-size="14.60" fill="#231f20">DMSO</text>
<rect x="884.00" y="649.50" width="21.50" height="9.60" fill="#606060"/>
<text class="t" x="911.80" y="659.40" font-size="14.60" fill="#231f20">EGFR-inhibitor</text>
<rect x="762.50" y="770.50" width="23.40" height="55.30" fill="#000000"/>
<line x1="774.20" y1="770.50" x2="774.20" y2="767.00" stroke="#111" stroke-width="1.5"/>
<line x1="768.45" y1="767.00" x2="779.95" y2="767.00" stroke="#111" stroke-width="1.5"/>
<rect x="798.00" y="746.30" width="23.40" height="79.50" fill="#a0a0a4"/>
<line x1="809.70" y1="746.30" x2="809.70" y2="741.70" stroke="#111" stroke-width="1.5"/>
<line x1="803.95" y1="741.70" x2="815.45" y2="741.70" stroke="#111" stroke-width="1.5"/>
<path d="M809.70,736.40L809.70,733.80M809.70,736.40L812.17,735.60M809.70,736.40L811.23,738.50M809.70,736.40L808.17,738.50M809.70,736.40L807.23,735.60" stroke="#231f20" stroke-width="1.35" stroke-linecap="round" fill="none"/>
<rect x="833.30" y="712.20" width="23.40" height="113.60" fill="#808080"/>
<line x1="845.00" y1="712.20" x2="845.00" y2="705.80" stroke="#111" stroke-width="1.5"/>
<line x1="839.25" y1="705.80" x2="850.75" y2="705.80" stroke="#111" stroke-width="1.5"/>
<path d="M845.00,700.50L845.00,697.90M845.00,700.50L847.47,699.70M845.00,700.50L846.53,702.60M845.00,700.50L843.47,702.60M845.00,700.50L842.53,699.70" stroke="#231f20" stroke-width="1.35" stroke-linecap="round" fill="none"/>
<rect x="869.00" y="689.40" width="23.40" height="136.40" fill="#d4d4d4"/>
<line x1="880.70" y1="689.40" x2="880.70" y2="682.40" stroke="#111" stroke-width="1.5"/>
<line x1="874.95" y1="682.40" x2="886.45" y2="682.40" stroke="#111" stroke-width="1.5"/>
<path d="M880.70,677.10L880.70,674.50M880.70,677.10L883.17,676.30M880.70,677.10L882.23,679.20M880.70,677.10L879.17,679.20M880.70,677.10L878.23,676.30" stroke="#231f20" stroke-width="1.35" stroke-linecap="round" fill="none"/>
<rect x="904.40" y="771.00" width="23.40" height="54.80" fill="#606060"/>
<line x1="916.10" y1="771.00" x2="916.10" y2="766.50" stroke="#111" stroke-width="1.5"/>
<line x1="910.35" y1="766.50" x2="921.85" y2="766.50" stroke="#111" stroke-width="1.5"/>
<rect x="939.90" y="767.20" width="23.40" height="58.60" fill="#a0a0a4"/>
<line x1="951.60" y1="767.20" x2="951.60" y2="762.50" stroke="#111" stroke-width="1.5"/>
<line x1="945.85" y1="762.50" x2="957.35" y2="762.50" stroke="#111" stroke-width="1.5"/>
<rect x="975.30" y="812.70" width="23.40" height="13.10" fill="#606060"/>
<line x1="987.00" y1="812.70" x2="987.00" y2="810.10" stroke="#111" stroke-width="1.5"/>
<line x1="981.25" y1="810.10" x2="992.75" y2="810.10" stroke="#111" stroke-width="1.5"/>
<path d="M982.20,799.90H991.80M982.20,804.20H991.80M986.20,795.60L983.80,808.60M990.60,795.60L987.90,808.60" stroke="#231f20" stroke-width="1.6" fill="none"/>
<line x1="744.70" y1="825.80" x2="744.70" y2="643.40" stroke="#000" stroke-width="2.0"/>
<line x1="743.70" y1="825.80" x2="1017.80" y2="825.80" stroke="#000" stroke-width="2.0"/>
<line x1="739.50" y1="825.80" x2="744.70" y2="825.80" stroke="#000" stroke-width="2.0"/>
<text class="t" x="728.53" y="831.10" font-size="15.00" fill="#231f20">0</text>
<line x1="739.50" y1="789.50" x2="744.70" y2="789.50" stroke="#000" stroke-width="2.0"/>
<text class="t" x="711.85" y="794.80" font-size="15.00" fill="#231f20">100</text>
<line x1="739.50" y1="753.00" x2="744.70" y2="753.00" stroke="#000" stroke-width="2.0"/>
<text class="t" x="711.85" y="758.30" font-size="15.00" fill="#231f20">200</text>
<line x1="739.50" y1="716.70" x2="744.70" y2="716.70" stroke="#000" stroke-width="2.0"/>
<text class="t" x="711.85" y="722.00" font-size="15.00" fill="#231f20">300</text>
<line x1="739.50" y1="680.00" x2="744.70" y2="680.00" stroke="#000" stroke-width="2.0"/>
<text class="t" x="711.85" y="685.30" font-size="15.00" fill="#231f20">400</text>
<line x1="739.50" y1="644.20" x2="744.70" y2="644.20" stroke="#000" stroke-width="2.0"/>
<text class="t" x="711.85" y="649.50" font-size="15.00" fill="#231f20">500</text>
<text class="t" transform="translate(703.30,778.70) rotate(-90)" font-size="14.66" fill="#231f20">Migratoin cell</text>
<rect x="750.80" y="934.20" width="21.40" height="9.60" fill="#000000"/>
<text class="t" x="778.89" y="944.10" font-size="14.60" fill="#231f20">oe-NC</text>
<rect x="750.80" y="955.80" width="21.40" height="9.60" fill="#a0a0a4"/>
<text class="t" x="778.89" y="965.70" font-size="14.60" fill="#231f20">oe-EGFR-1</text>
<rect x="750.80" y="977.20" width="21.40" height="9.60" fill="#808080"/>
<text class="t" x="778.89" y="987.10" font-size="14.60" fill="#231f20">oe-EGFR-2</text>
<rect x="750.80" y="998.30" width="21.40" height="9.60" fill="#d4d4d4"/>
<text class="t" x="778.89" y="1008.20" font-size="14.60" fill="#231f20">oe-EGFR-3</text>
<rect x="882.20" y="934.00" width="21.50" height="9.60" fill="#606060"/>
<text class="t" x="910.47" y="943.90" font-size="14.60" fill="#231f20">Control</text>
<rect x="882.20" y="955.80" width="21.50" height="9.60" fill="#a0a0a4"/>
<text class="t" x="910.00" y="965.70" font-size="14.60" fill="#231f20">DMSO</text>
<rect x="882.20" y="977.20" width="21.50" height="9.60" fill="#606060"/>
<text class="t" x="910.00" y="987.10" font-size="14.60" fill="#231f20">EGFR-inhibitor</text>
<rect x="761.20" y="1114.20" width="21.30" height="34.30" fill="#000000"/>
<line x1="771.85" y1="1114.20" x2="771.85" y2="1110.80" stroke="#111" stroke-width="1.5"/>
<line x1="766.35" y1="1110.80" x2="777.35" y2="1110.80" stroke="#111" stroke-width="1.5"/>
<rect x="793.30" y="1077.80" width="21.30" height="70.70" fill="#a0a0a4"/>
<line x1="803.95" y1="1077.80" x2="803.95" y2="1072.50" stroke="#111" stroke-width="1.5"/>
<line x1="798.45" y1="1072.50" x2="809.45" y2="1072.50" stroke="#111" stroke-width="1.5"/>
<path d="M803.95,1067.20L803.95,1064.60M803.95,1067.20L806.42,1066.40M803.95,1067.20L805.48,1069.30M803.95,1067.20L802.42,1069.30M803.95,1067.20L801.48,1066.40" stroke="#231f20" stroke-width="1.35" stroke-linecap="round" fill="none"/>
<rect x="825.80" y="1042.50" width="21.30" height="106.00" fill="#808080"/>
<line x1="836.45" y1="1042.50" x2="836.45" y2="1037.50" stroke="#111" stroke-width="1.5"/>
<line x1="830.95" y1="1037.50" x2="841.95" y2="1037.50" stroke="#111" stroke-width="1.5"/>
<path d="M836.45,1032.20L836.45,1029.60M836.45,1032.20L838.92,1031.40M836.45,1032.20L837.98,1034.30M836.45,1032.20L834.92,1034.30M836.45,1032.20L833.98,1031.40" stroke="#231f20" stroke-width="1.35" stroke-linecap="round" fill="none"/>
<rect x="857.90" y="1010.00" width="21.30" height="138.50" fill="#d4d4d4"/>
<line x1="868.55" y1="1010.00" x2="868.55" y2="1004.30" stroke="#111" stroke-width="1.5"/>
<line x1="863.05" y1="1004.30" x2="874.05" y2="1004.30" stroke="#111" stroke-width="1.5"/>
<path d="M868.55,999.00L868.55,996.40M868.55,999.00L871.02,998.20M868.55,999.00L870.08,1001.10M868.55,999.00L867.02,1001.10M868.55,999.00L866.08,998.20" stroke="#231f20" stroke-width="1.35" stroke-linecap="round" fill="none"/>
<rect x="890.10" y="1118.10" width="21.30" height="30.40" fill="#606060"/>
<line x1="900.75" y1="1118.10" x2="900.75" y2="1115.00" stroke="#111" stroke-width="1.5"/>
<line x1="895.25" y1="1115.00" x2="906.25" y2="1115.00" stroke="#111" stroke-width="1.5"/>
<rect x="922.50" y="1115.90" width="21.30" height="32.60" fill="#a0a0a4"/>
<line x1="933.15" y1="1115.90" x2="933.15" y2="1112.70" stroke="#111" stroke-width="1.5"/>
<line x1="927.65" y1="1112.70" x2="938.65" y2="1112.70" stroke="#111" stroke-width="1.5"/>
<rect x="955.20" y="1136.50" width="21.30" height="12.00" fill="#606060"/>
<line x1="965.85" y1="1136.50" x2="965.85" y2="1133.60" stroke="#111" stroke-width="1.5"/>
<line x1="960.35" y1="1133.60" x2="971.35" y2="1133.60" stroke="#111" stroke-width="1.5"/>
<path d="M961.05,1123.40H970.65M961.05,1127.70H970.65M965.05,1119.10L962.65,1132.10M969.45,1119.10L966.75,1132.10" stroke="#231f20" stroke-width="1.6" fill="none"/>
<line x1="745.00" y1="1148.50" x2="745.00" y2="982.00" stroke="#000" stroke-width="2.0"/>
<line x1="744.00" y1="1148.50" x2="993.30" y2="1148.50" stroke="#000" stroke-width="2.0"/>
<line x1="740.80" y1="1148.70" x2="745.00" y2="1148.70" stroke="#000" stroke-width="2.0"/>
<text class="t" x="729.83" y="1154.00" font-size="15.00" fill="#231f20">0</text>
<line x1="740.80" y1="1107.50" x2="745.00" y2="1107.50" stroke="#000" stroke-width="2.0"/>
<text class="t" x="713.15" y="1112.80" font-size="15.00" fill="#231f20">100</text>
<line x1="740.80" y1="1066.20" x2="745.00" y2="1066.20" stroke="#000" stroke-width="2.0"/>
<text class="t" x="713.15" y="1071.50" font-size="15.00" fill="#231f20">200</text>
<line x1="740.80" y1="1024.50" x2="745.00" y2="1024.50" stroke="#000" stroke-width="2.0"/>
<text class="t" x="713.15" y="1029.80" font-size="15.00" fill="#231f20">300</text>
<line x1="740.80" y1="982.80" x2="745.00" y2="982.80" stroke="#000" stroke-width="2.0"/>
<text class="t" x="713.15" y="988.10" font-size="15.00" fill="#231f20">400</text>
<text class="t" transform="translate(708.30,1103.05) rotate(-90)" font-size="14.72" fill="#231f20">Invasion cell</text>
<polyline points="772.00,528.59 827.00,527.86 881.80,513.99 936.50,513.26 991.40,505.23" fill="none" stroke="#8c6a30" stroke-width="2"/>
<rect x="766.96" y="523.55" width="10.08" height="10.08" rx="1.2" fill="#8c6a30"/>
<rect x="821.96" y="522.82" width="10.08" height="10.08" rx="1.2" fill="#8c6a30"/>
<rect x="876.76" y="508.95" width="10.08" height="10.08" rx="1.2" fill="#8c6a30"/>
<rect x="931.46" y="508.22" width="10.08" height="10.08" rx="1.2" fill="#8c6a30"/>
<rect x="986.36" y="500.19" width="10.08" height="10.08" rx="1.2" fill="#8c6a30"/>
<polyline points="772.00,522.02 827.00,513.26 881.80,486.25 936.50,484.06 991.40,454.86" fill="none" stroke="#000000" stroke-width="2"/>
<circle cx="772.00" cy="522.02" r="4.20" fill="#000000"/>
<line x1="827.00" y1="511.07" x2="827.00" y2="515.45" stroke="#000000" stroke-width="2.2"/>
<line x1="822.00" y1="511.07" x2="832.00" y2="511.07" stroke="#000000" stroke-width="2.5"/>
<line x1="822.00" y1="515.45" x2="832.00" y2="515.45" stroke="#000000" stroke-width="2.5"/>
<circle cx="827.00" cy="513.26" r="4.20" fill="#000000"/>
<line x1="881.80" y1="482.60" x2="881.80" y2="489.90" stroke="#000000" stroke-width="2.2"/>
<line x1="876.80" y1="482.60" x2="886.80" y2="482.60" stroke="#000000" stroke-width="2.5"/>
<line x1="876.80" y1="489.90" x2="886.80" y2="489.90" stroke="#000000" stroke-width="2.5"/>
<circle cx="881.80" cy="486.25" r="4.20" fill="#000000"/>
<line x1="936.50" y1="481.14" x2="936.50" y2="486.98" stroke="#000000" stroke-width="2.2"/>
<line x1="931.50" y1="481.14" x2="941.50" y2="481.14" stroke="#000000" stroke-width="2.5"/>
<line x1="931.50" y1="486.98" x2="941.50" y2="486.98" stroke="#000000" stroke-width="2.5"/>
<circle cx="936.50" cy="484.06" r="4.20" fill="#000000"/>
<line x1="991.40" y1="449.02" x2="991.40" y2="460.70" stroke="#000000" stroke-width="2.2"/>
<line x1="986.40" y1="449.02" x2="996.40" y2="449.02" stroke="#000000" stroke-width="2.5"/>
<line x1="986.40" y1="460.70" x2="996.40" y2="460.70" stroke="#000000" stroke-width="2.5"/>
<circle cx="991.40" cy="454.86" r="4.20" fill="#000000"/>
<polyline points="772.00,519.10 827.00,510.34 881.80,487.71 936.50,488.44 991.40,463.62" fill="none" stroke="#ff7f00" stroke-width="2"/>
<polygon points="772,515.1 776.0,519.1 772,523.1 768.0,519.1" fill="#ff7f00"/>
<line x1="827.00" y1="508.15" x2="827.00" y2="512.53" stroke="#ff7f00" stroke-width="2.2"/>
<line x1="822.00" y1="508.15" x2="832.00" y2="508.15" stroke="#ff7f00" stroke-width="2.5"/>
<line x1="822.00" y1="512.53" x2="832.00" y2="512.53" stroke="#ff7f00" stroke-width="2.5"/>
<polygon points="827,506.34000000000003 831.0,510.34000000000003 827,514.34 823.0,510.34000000000003" fill="#ff7f00"/>
<line x1="881.80" y1="484.06" x2="881.80" y2="491.36" stroke="#ff7f00" stroke-width="2.2"/>
<line x1="876.80" y1="484.06" x2="886.80" y2="484.06" stroke="#ff7f00" stroke-width="2.5"/>
<line x1="876.80" y1="491.36" x2="886.80" y2="491.36" stroke="#ff7f00" stroke-width="2.5"/>
<polygon points="881.8,483.71000000000004 885.8,487.71000000000004 881.8,491.71000000000004 877.8,487.71000000000004" fill="#ff7f00"/>
<line x1="936.50" y1="484.79" x2="936.50" y2="492.09" stroke="#ff7f00" stroke-width="2.2"/>
<line x1="931.50" y1="484.79" x2="941.50" y2="484.79" stroke="#ff7f00" stroke-width="2.5"/>
<line x1="931.50" y1="492.09" x2="941.50" y2="492.09" stroke="#ff7f00" stroke-width="2.5"/>
<polygon points="936.5,484.44000000000005 940.5,488.44000000000005 936.5,492.44000000000005 932.5,488.44000000000005" fill="#ff7f00"/>
<line x1="991.40" y1="458.51" x2="991.40" y2="468.73" stroke="#ff7f00" stroke-width="2.2"/>
<line x1="986.40" y1="458.51" x2="996.40" y2="458.51" stroke="#ff7f00" stroke-width="2.5"/>
<line x1="986.40" y1="468.73" x2="996.40" y2="468.73" stroke="#ff7f00" stroke-width="2.5"/>
<polygon points="991.4,459.62000000000006 995.4,463.62000000000006 991.4,467.62000000000006 987.4,463.62000000000006" fill="#ff7f00"/>
<polyline points="772.00,519.10 827.00,495.01 881.80,447.56 936.50,416.90 991.40,397.19" fill="none" stroke="#9b30ff" stroke-width="2"/>
<polygon points="772,523.6 776.5,515.95 767.5,515.95" fill="#9b30ff"/>
<line x1="827.00" y1="491.36" x2="827.00" y2="498.66" stroke="#9b30ff" stroke-width="2.2"/>
<line x1="822.00" y1="491.36" x2="832.00" y2="491.36" stroke="#9b30ff" stroke-width="2.5"/>
<line x1="822.00" y1="498.66" x2="832.00" y2="498.66" stroke="#9b30ff" stroke-width="2.5"/>
<polygon points="827,499.51000000000005 831.5,491.86000000000007 822.5,491.86000000000007" fill="#9b30ff"/>
<line x1="881.80" y1="440.99" x2="881.80" y2="454.13" stroke="#9b30ff" stroke-width="2.2"/>
<line x1="876.80" y1="440.99" x2="886.80" y2="440.99" stroke="#9b30ff" stroke-width="2.5"/>
<line x1="876.80" y1="454.13" x2="886.80" y2="454.13" stroke="#9b30ff" stroke-width="2.5"/>
<polygon points="881.8,452.06000000000006 886.3,444.4100000000001 877.3,444.4100000000001" fill="#9b30ff"/>
<line x1="936.50" y1="408.87" x2="936.50" y2="424.93" stroke="#9b30ff" stroke-width="2.2"/>
<line x1="931.50" y1="408.87" x2="941.50" y2="408.87" stroke="#9b30ff" stroke-width="2.5"/>
<line x1="931.50" y1="424.93" x2="941.50" y2="424.93" stroke="#9b30ff" stroke-width="2.5"/>
<polygon points="936.5,421.40000000000003 941.0,413.75000000000006 932.0,413.75000000000006" fill="#9b30ff"/>
<line x1="991.40" y1="383.32" x2="991.40" y2="411.06" stroke="#9b30ff" stroke-width="2.2"/>
<line x1="986.40" y1="383.32" x2="996.40" y2="383.32" stroke="#9b30ff" stroke-width="2.5"/>
<line x1="986.40" y1="411.06" x2="996.40" y2="411.06" stroke="#9b30ff" stroke-width="2.5"/>
<polygon points="991.4,401.69000000000005 995.9,394.0400000000001 986.9,394.0400000000001" fill="#9b30ff"/>
<polyline points="772.00,513.26 827.00,489.90 881.80,464.35 936.50,438.07 991.40,416.90" fill="none" stroke="#00c000" stroke-width="2"/>
<polygon points="772,508.76 776.5,516.41 767.5,516.41" fill="#00c000"/>
<line x1="827.00" y1="484.79" x2="827.00" y2="495.01" stroke="#00c000" stroke-width="2.2"/>
<line x1="822.00" y1="484.79" x2="832.00" y2="484.79" stroke="#00c000" stroke-width="2.5"/>
<line x1="822.00" y1="495.01" x2="832.00" y2="495.01" stroke="#00c000" stroke-width="2.5"/>
<polygon points="827,485.40000000000003 831.5,493.05 822.5,493.05" fill="#00c000"/>
<line x1="881.80" y1="458.51" x2="881.80" y2="470.19" stroke="#00c000" stroke-width="2.2"/>
<line x1="876.80" y1="458.51" x2="886.80" y2="458.51" stroke="#00c000" stroke-width="2.5"/>
<line x1="876.80" y1="470.19" x2="886.80" y2="470.19" stroke="#00c000" stroke-width="2.5"/>
<polygon points="881.8,459.85 886.3,467.5 877.3,467.5" fill="#00c000"/>
<line x1="936.50" y1="430.77" x2="936.50" y2="445.37" stroke="#00c000" stroke-width="2.2"/>
<line x1="931.50" y1="430.77" x2="941.50" y2="430.77" stroke="#00c000" stroke-width="2.5"/>
<line x1="931.50" y1="445.37" x2="941.50" y2="445.37" stroke="#00c000" stroke-width="2.5"/>
<polygon points="936.5,433.57000000000005 941.0,441.22 932.0,441.22" fill="#00c000"/>
<line x1="991.40" y1="406.68" x2="991.40" y2="427.12" stroke="#00c000" stroke-width="2.2"/>
<line x1="986.40" y1="406.68" x2="996.40" y2="406.68" stroke="#00c000" stroke-width="2.5"/>
<line x1="986.40" y1="427.12" x2="996.40" y2="427.12" stroke="#00c000" stroke-width="2.5"/>
<polygon points="991.4,412.40000000000003 995.9,420.05 986.9,420.05" fill="#00c000"/>
<polyline points="772.00,516.18 827.00,499.39 881.80,467.27 936.50,431.50 991.40,405.22" fill="none" stroke="#ff0000" stroke-width="2"/>
<rect x="767.80" y="511.98" width="8.40" height="8.40" rx="1.2" fill="#ff0000"/>
<line x1="827.00" y1="495.74" x2="827.00" y2="503.04" stroke="#ff0000" stroke-width="2.2"/>
<line x1="822.00" y1="495.74" x2="832.00" y2="495.74" stroke="#ff0000" stroke-width="2.5"/>
<line x1="822.00" y1="503.04" x2="832.00" y2="503.04" stroke="#ff0000" stroke-width="2.5"/>
<rect x="822.80" y="495.19" width="8.40" height="8.40" rx="1.2" fill="#ff0000"/>
<line x1="881.80" y1="462.16" x2="881.80" y2="472.38" stroke="#ff0000" stroke-width="2.2"/>
<line x1="876.80" y1="462.16" x2="886.80" y2="462.16" stroke="#ff0000" stroke-width="2.5"/>
<line x1="876.80" y1="472.38" x2="886.80" y2="472.38" stroke="#ff0000" stroke-width="2.5"/>
<rect x="877.60" y="463.07" width="8.40" height="8.40" rx="1.2" fill="#ff0000"/>
<line x1="936.50" y1="422.74" x2="936.50" y2="440.26" stroke="#ff0000" stroke-width="2.2"/>
<line x1="931.50" y1="422.74" x2="941.50" y2="422.74" stroke="#ff0000" stroke-width="2.5"/>
<line x1="931.50" y1="440.26" x2="941.50" y2="440.26" stroke="#ff0000" stroke-width="2.5"/>
<rect x="932.30" y="427.30" width="8.40" height="8.40" rx="1.2" fill="#ff0000"/>
<line x1="991.40" y1="392.81" x2="991.40" y2="417.63" stroke="#ff0000" stroke-width="2.2"/>
<line x1="986.40" y1="392.81" x2="996.40" y2="392.81" stroke="#ff0000" stroke-width="2.5"/>
<line x1="986.40" y1="417.63" x2="996.40" y2="417.63" stroke="#ff0000" stroke-width="2.5"/>
<rect x="987.20" y="401.02" width="8.40" height="8.40" rx="1.2" fill="#ff0000"/>
<polyline points="772.00,520.56 827.00,516.91 881.80,496.47 936.50,489.90 991.40,466.54" fill="none" stroke="#0000ff" stroke-width="2"/>
<circle cx="772.00" cy="520.56" r="4.20" fill="#0000ff"/>
<line x1="827.00" y1="514.72" x2="827.00" y2="519.10" stroke="#0000ff" stroke-width="2.2"/>
<line x1="822.00" y1="514.72" x2="832.00" y2="514.72" stroke="#0000ff" stroke-width="2.5"/>
<line x1="822.00" y1="519.10" x2="832.00" y2="519.10" stroke="#0000ff" stroke-width="2.5"/>
<circle cx="827.00" cy="516.91" r="4.20" fill="#0000ff"/>
<line x1="881.80" y1="492.82" x2="881.80" y2="500.12" stroke="#0000ff" stroke-width="2.2"/>
<line x1="876.80" y1="492.82" x2="886.80" y2="492.82" stroke="#0000ff" stroke-width="2.5"/>
<line x1="876.80" y1="500.12" x2="886.80" y2="500.12" stroke="#0000ff" stroke-width="2.5"/>
<circle cx="881.80" cy="496.47" r="4.20" fill="#0000ff"/>
<line x1="936.50" y1="486.25" x2="936.50" y2="493.55" stroke="#0000ff" stroke-width="2.2"/>
<line x1="931.50" y1="486.25" x2="941.50" y2="486.25" stroke="#0000ff" stroke-width="2.5"/>
<line x1="931.50" y1="493.55" x2="941.50" y2="493.55" stroke="#0000ff" stroke-width="2.5"/>
<circle cx="936.50" cy="489.90" r="4.20" fill="#0000ff"/>
<line x1="991.40" y1="461.43" x2="991.40" y2="471.65" stroke="#0000ff" stroke-width="2.2"/>
<line x1="986.40" y1="461.43" x2="996.40" y2="461.43" stroke="#0000ff" stroke-width="2.5"/>
<line x1="986.40" y1="471.65" x2="996.40" y2="471.65" stroke="#0000ff" stroke-width="2.5"/>
<circle cx="991.40" cy="466.54" r="4.20" fill="#0000ff"/>
<path d="M830.70,479.00L830.70,476.60M830.70,479.00L832.98,478.26M830.70,479.00L832.11,480.94M830.70,479.00L829.29,480.94M830.70,479.00L828.42,478.26" stroke="#231f20" stroke-width="1.35" stroke-linecap="round" fill="none"/>
<path d="M834.30,493.30L834.30,490.90M834.30,493.30L836.58,492.56M834.30,493.30L835.71,495.24M834.30,493.30L832.89,495.24M834.30,493.30L832.02,492.56" stroke="#231f20" stroke-width="1.35" stroke-linecap="round" fill="none"/>
<path d="M834.30,502.70L834.30,500.30M834.30,502.70L836.58,501.96M834.30,502.70L835.71,504.64M834.30,502.70L832.89,504.64M834.30,502.70L832.02,501.96" stroke="#231f20" stroke-width="1.35" stroke-linecap="round" fill="none"/>
<path d="M889.00,439.30L889.00,436.90M889.00,439.30L891.28,438.56M889.00,439.30L890.41,441.24M889.00,439.30L887.59,441.24M889.00,439.30L886.72,438.56" stroke="#231f20" stroke-width="1.35" stroke-linecap="round" fill="none"/>
<path d="M889.00,455.00L889.00,452.60M889.00,455.00L891.28,454.26M889.00,455.00L890.41,456.94M889.00,455.00L887.59,456.94M889.00,455.00L886.72,454.26" stroke="#231f20" stroke-width="1.35" stroke-linecap="round" fill="none"/>
<path d="M890.00,470.70L890.00,468.30M890.00,470.70L892.28,469.96M890.00,470.70L891.41,472.64M890.00,470.70L888.59,472.64M890.00,470.70L887.72,469.96" stroke="#231f20" stroke-width="1.35" stroke-linecap="round" fill="none"/>
<path d="M944.30,410.00L944.30,407.60M944.30,410.00L946.58,409.26M944.30,410.00L945.71,411.94M944.30,410.00L942.89,411.94M944.30,410.00L942.02,409.26" stroke="#231f20" stroke-width="1.35" stroke-linecap="round" fill="none"/>
<path d="M943.30,424.00L943.30,421.60M943.30,424.00L945.58,423.26M943.30,424.00L944.71,425.94M943.30,424.00L941.89,425.94M943.30,424.00L941.02,423.26" stroke="#231f20" stroke-width="1.35" stroke-linecap="round" fill="none"/>
<path d="M945.70,440.70L945.70,438.30M945.70,440.70L947.98,439.96M945.70,440.70L947.11,442.64M945.70,440.70L944.29,442.64M945.70,440.70L943.42,439.96" stroke="#231f20" stroke-width="1.35" stroke-linecap="round" fill="none"/>
<path d="M1001.70,391.70L1001.70,389.30M1001.70,391.70L1003.98,390.96M1001.70,391.70L1003.11,393.64M1001.70,391.70L1000.29,393.64M1001.70,391.70L999.42,390.96" stroke="#231f20" stroke-width="1.35" stroke-linecap="round" fill="none"/>
<path d="M1000.00,405.00L1000.00,402.60M1000.00,405.00L1002.28,404.26M1000.00,405.00L1001.41,406.94M1000.00,405.00L998.59,406.94M1000.00,405.00L997.72,404.26" stroke="#231f20" stroke-width="1.35" stroke-linecap="round" fill="none"/>
<path d="M999.00,420.00L999.00,417.60M999.00,420.00L1001.28,419.26M999.00,420.00L1000.41,421.94M999.00,420.00L997.59,421.94M999.00,420.00L996.72,419.26" stroke="#231f20" stroke-width="1.35" stroke-linecap="round" fill="none"/>
<path d="M836.80,526.52H844.60M836.80,530.00H844.60M840.05,523.05L838.12,533.55M843.61,523.05L841.43,533.55" stroke="#231f20" stroke-width="1.3" fill="none"/>
<path d="M886.80,518.22H894.60M886.80,521.70H894.60M890.05,514.75L888.12,525.25M893.61,514.75L891.43,525.25" stroke="#231f20" stroke-width="1.3" fill="none"/>
<path d="M942.80,515.52H950.60M942.80,519.00H950.60M946.05,512.05L944.12,522.55M949.61,512.05L947.43,522.55" stroke="#231f20" stroke-width="1.3" fill="none"/>
<path d="M996.80,502.52H1004.60M996.80,506.00H1004.60M1000.05,499.05L998.12,509.55M1003.61,499.05L1001.43,509.55" stroke="#231f20" stroke-width="1.3" fill="none"/>
<line x1="745.00" y1="533.70" x2="745.00" y2="350.50" stroke="#000" stroke-width="2.0"/>
<line x1="744.00" y1="533.70" x2="1018.00" y2="533.70" stroke="#000" stroke-width="2.0"/>
<line x1="739.50" y1="533.70" x2="745.00" y2="533.70" stroke="#000" stroke-width="2.0"/>
<text class="t" x="715.72" y="539.00" font-size="15.00" fill="#231f20">0.0</text>
<line x1="739.50" y1="497.20" x2="745.00" y2="497.20" stroke="#000" stroke-width="2.0"/>
<text class="t" x="715.76" y="502.50" font-size="15.00" fill="#231f20">0.5</text>
<line x1="739.50" y1="460.70" x2="745.00" y2="460.70" stroke="#000" stroke-width="2.0"/>
<text class="t" x="715.72" y="466.00" font-size="15.00" fill="#231f20">1.0</text>
<line x1="739.50" y1="424.20" x2="745.00" y2="424.20" stroke="#000" stroke-width="2.0"/>
<text class="t" x="715.76" y="429.50" font-size="15.00" fill="#231f20">1.5</text>
<line x1="739.50" y1="387.70" x2="745.00" y2="387.70" stroke="#000" stroke-width="2.0"/>
<text class="t" x="715.72" y="393.00" font-size="15.00" fill="#231f20">2.0</text>
<line x1="739.50" y1="351.20" x2="745.00" y2="351.20" stroke="#000" stroke-width="2.0"/>
<text class="t" x="715.76" y="356.50" font-size="15.00" fill="#231f20">2.5</text>
<line x1="772.00" y1="533.70" x2="772.00" y2="538.80" stroke="#000" stroke-width="2.0"/>
<text class="t" x="760.93" y="554.70" font-size="14.60" fill="#231f20">1 D</text>
<line x1="827.00" y1="533.70" x2="827.00" y2="538.80" stroke="#000" stroke-width="2.0"/>
<text class="t" x="816.12" y="554.70" font-size="14.60" fill="#231f20">2 D</text>
<line x1="881.80" y1="533.70" x2="881.80" y2="538.80" stroke="#000" stroke-width="2.0"/>
<text class="t" x="871.01" y="554.70" font-size="14.60" fill="#231f20">3 D</text>
<line x1="936.50" y1="533.70" x2="936.50" y2="538.80" stroke="#000" stroke-width="2.0"/>
<text class="t" x="925.82" y="554.70" font-size="14.60" fill="#231f20">4 D</text>
<line x1="991.40" y1="533.70" x2="991.40" y2="538.80" stroke="#000" stroke-width="2.0"/>
<text class="t" x="980.59" y="554.70" font-size="14.60" fill="#231f20">5 D</text>
<text class="t" transform="translate(706.40,483.99) rotate(-90)" font-size="14.66" fill="#231f20">OD (450 nm)</text>
<line x1="754.70" y1="305.80" x2="774.70" y2="305.80" stroke="#0000ff" stroke-width="2.2"/>
<circle cx="764.70" cy="305.80" r="4.20" fill="#0000ff"/>
<text class="t" x="785.19" y="311.10" font-size="14.60" fill="#231f20">oe-NC</text>
<line x1="754.70" y1="322.50" x2="774.70" y2="322.50" stroke="#00c000" stroke-width="2.2"/>
<polygon points="764.7,318.0 769.2,325.65 760.2,325.65" fill="#00c000"/>
<text class="t" x="785.19" y="327.80" font-size="14.60" fill="#231f20">oe-EGFR-2</text>
<line x1="754.70" y1="339.50" x2="774.70" y2="339.50" stroke="#ff7f00" stroke-width="2.2"/>
<polygon points="764.7,335.5 768.7,339.5 764.7,343.5 760.7,339.5" fill="#ff7f00"/>
<text class="t" x="785.07" y="344.80" font-size="14.60" fill="#231f20">Control</text>
<line x1="754.70" y1="360.00" x2="774.70" y2="360.00" stroke="#8c6a30" stroke-width="2.2"/>
<rect x="759.66" y="354.96" width="10.08" height="10.08" rx="1.2" fill="#8c6a30"/>
<text class="t" x="784.60" y="365.30" font-size="14.60" fill="#231f20">EGFR-inhibitor</text>
<line x1="875.30" y1="302.50" x2="895.30" y2="302.50" stroke="#ff0000" stroke-width="2.2"/>
<rect x="881.10" y="298.30" width="8.40" height="8.40" rx="1.2" fill="#ff0000"/>
<text class="t" x="906.09" y="307.80" font-size="14.60" fill="#231f20">oe-EGFR-1</text>
<line x1="875.30" y1="322.00" x2="895.30" y2="322.00" stroke="#9b30ff" stroke-width="2.2"/>
<polygon points="885.3,326.5 889.8,318.85 880.8,318.85" fill="#9b30ff"/>
<text class="t" x="906.09" y="327.30" font-size="14.60" fill="#231f20">oe-EGFR-3</text>
<line x1="875.30" y1="341.70" x2="895.30" y2="341.70" stroke="#000000" stroke-width="2.2"/>
<circle cx="885.30" cy="341.70" r="4.20" fill="#000000"/>
<text class="t" x="905.50" y="347.00" font-size="14.60" fill="#231f20">DMSO</text>
</svg></body></html>
